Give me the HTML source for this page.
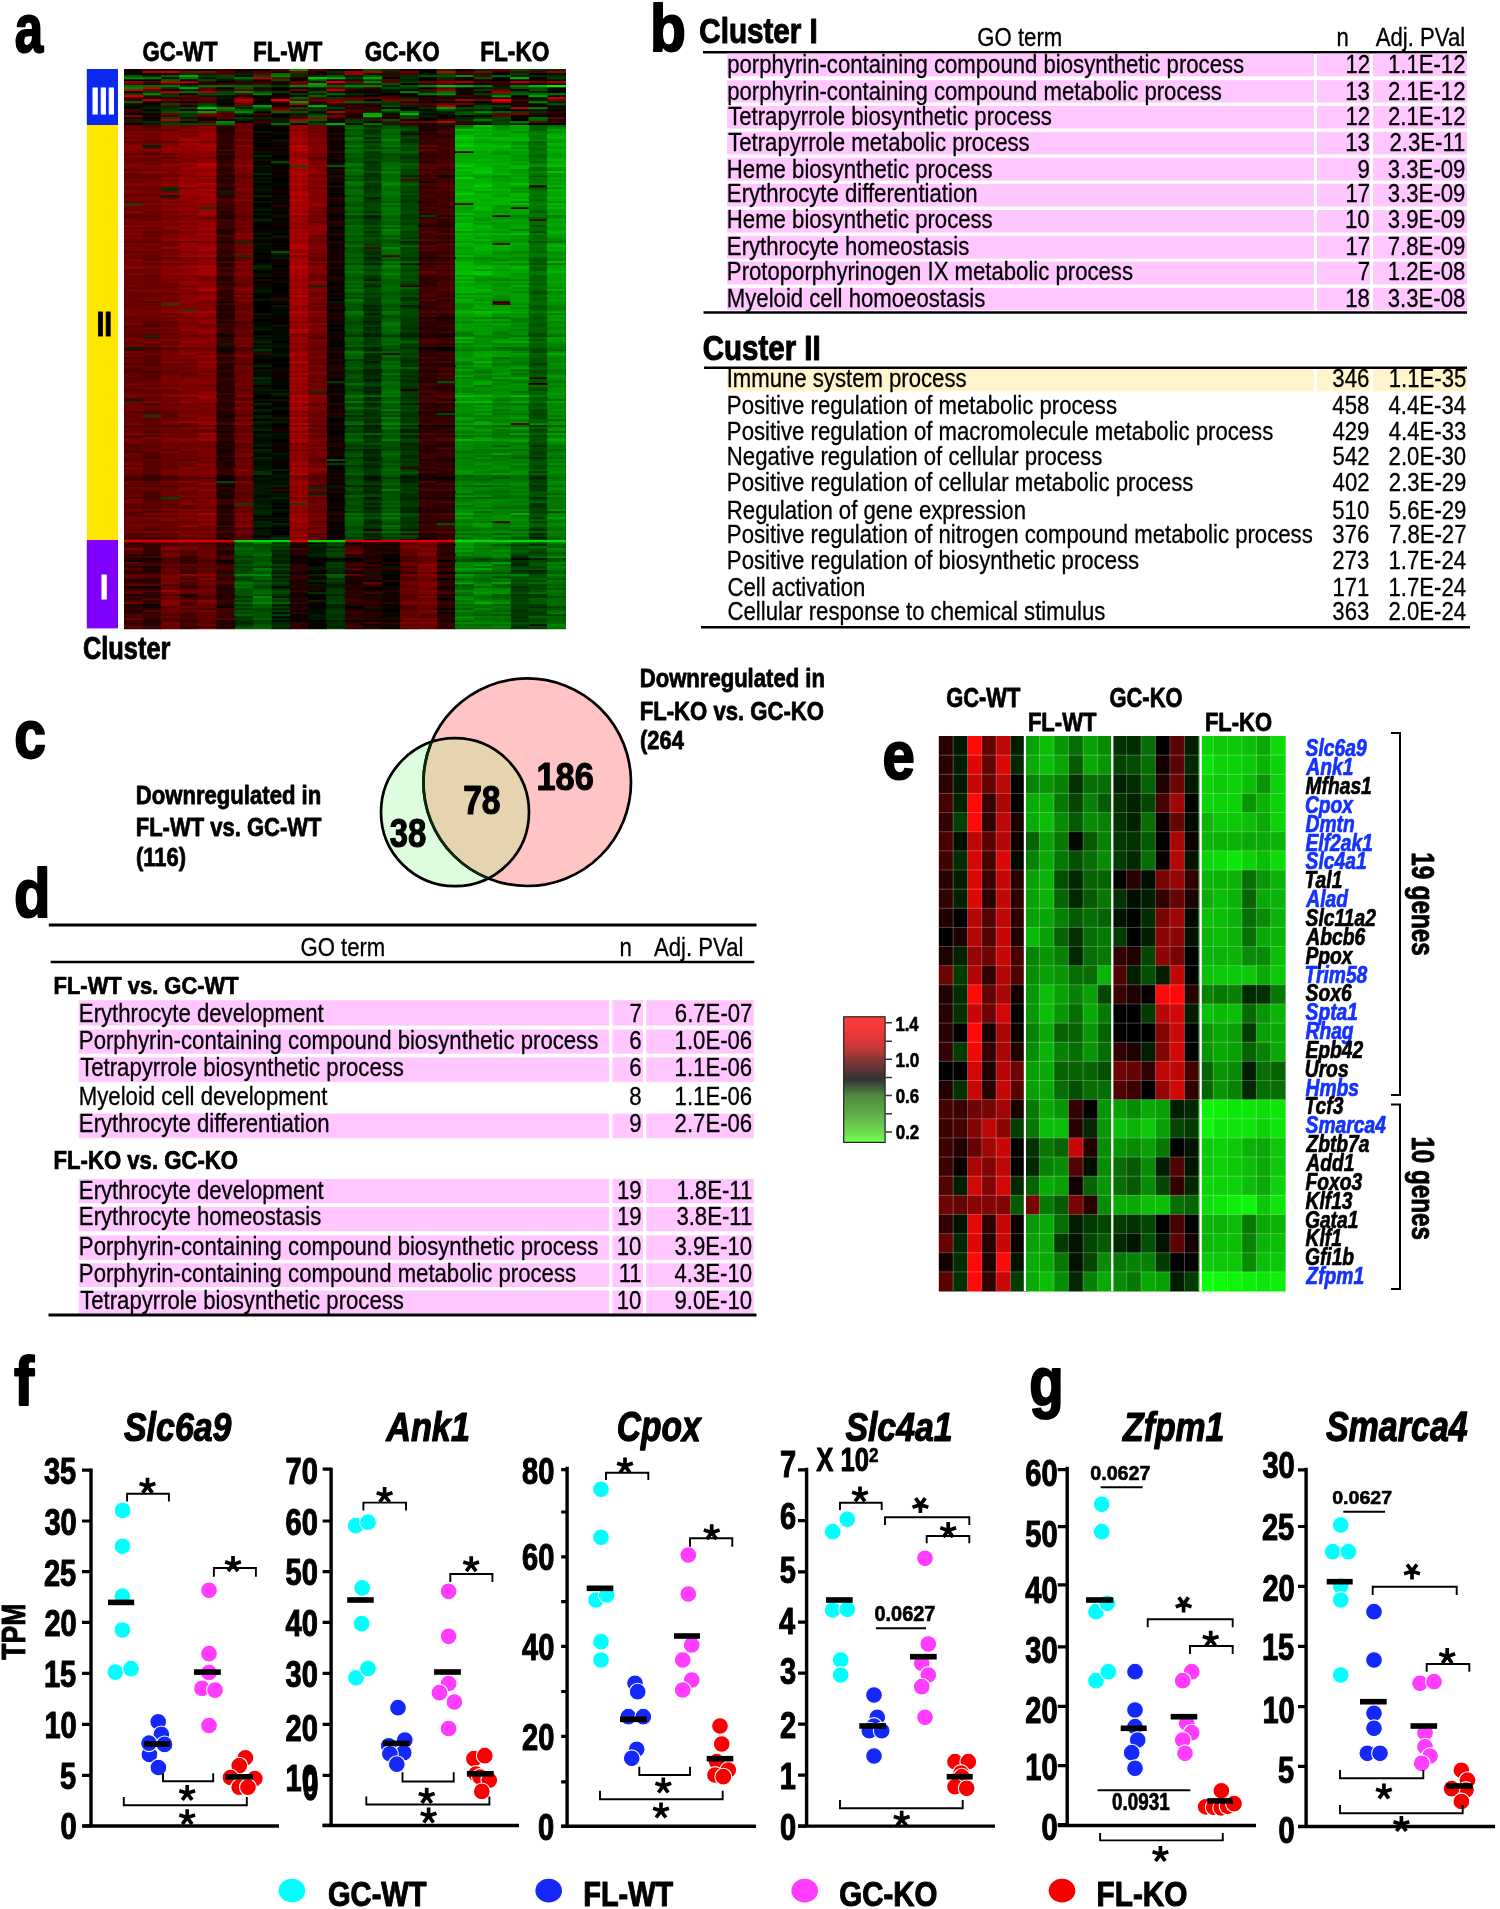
<!DOCTYPE html>
<html><head><meta charset="utf-8"><style>
html,body{margin:0;padding:0;background:#fff;}
svg{display:block;will-change:transform;}
text{font-family:"Liberation Sans",sans-serif;}
</style></head><body>
<svg width="1500" height="1909" viewBox="0 0 1500 1909">
<rect width="1500" height="1909" fill="#fff"/>
<text transform="translate(14.84,51.87) scale(0.7393,1)" font-size="68.95" font-weight="bold" font-style="normal" fill="#000" stroke="#000" stroke-width="2.07" stroke-linejoin="round">a</text>
<rect x="86.8" y="69" width="31.2" height="56" fill="#0a28f0"/>
<rect x="86.8" y="125" width="31.2" height="415.3" fill="#ffe600"/>
<rect x="86.8" y="540" width="31.2" height="88.4" fill="#8000ff"/>
<text transform="translate(90.92,114.46) scale(0.8194,1)" font-size="36.11" font-weight="bold" font-style="normal" fill="#fff" stroke="#fff" stroke-width="1.08" stroke-linejoin="round">III</text>
<text transform="translate(96.48,335.56) scale(0.7943,1)" font-size="35.69" font-weight="bold" font-style="normal" fill="#000" stroke="#000" stroke-width="1.07" stroke-linejoin="round">II</text>
<text transform="translate(99.91,598.78) scale(0.8524,1)" font-size="34.86" font-weight="bold" font-style="normal" fill="#fff" stroke="#fff" stroke-width="1.05" stroke-linejoin="round">I</text>
<text transform="translate(142.45,61.19) scale(0.8122,1)" font-size="27.26" font-weight="bold" font-style="normal" fill="#000" stroke="#000" stroke-width="0.82" stroke-linejoin="round">GC-WT</text>
<text transform="translate(253.19,61.19) scale(0.8039,1)" font-size="27.64" font-weight="bold" font-style="normal" fill="#000" stroke="#000" stroke-width="0.83" stroke-linejoin="round">FL-WT</text>
<text transform="translate(364.74,61.19) scale(0.8243,1)" font-size="27.26" font-weight="bold" font-style="normal" fill="#000" stroke="#000" stroke-width="0.82" stroke-linejoin="round">GC-KO</text>
<text transform="translate(480.17,61.19) scale(0.8323,1)" font-size="27.26" font-weight="bold" font-style="normal" fill="#000" stroke="#000" stroke-width="0.82" stroke-linejoin="round">FL-KO</text>
<text transform="translate(82.96,658.54) scale(0.8341,1)" font-size="30.46" font-weight="bold" font-style="normal" fill="#000" stroke="#000" stroke-width="0.91" stroke-linejoin="round">Cluster</text>
<path fill="#180000" d="M124 69h19.09v2.3h-19.09zM160.78 69h19.09v2.3h-19.09zM234.32 69h19.09v2.3h-19.09zM326.26 69h19.09v2.3h-19.09zM344.65 69h19.09v2.3h-19.09zM124 71h19.09v2.3h-19.09zM271.1 71h19.09v2.3h-19.09zM491.75 71h19.09v2.3h-19.09zM326.26 79h19.09v2.3h-19.09zM454.97 79h19.09v2.3h-19.09zM473.36 79h19.09v2.3h-19.09zM510.14 79h19.09v2.3h-19.09zM528.52 79h19.09v2.3h-19.09zM179.16 83h19.09v2.3h-19.09zM271.1 83h19.09v2.3h-19.09zM528.52 83h19.09v2.3h-19.09zM289.49 87h19.09v2.3h-19.09zM307.88 87h19.09v2.3h-19.09zM454.97 87h19.09v2.3h-19.09zM271.1 89h19.09v2.3h-19.09zM363.04 89h19.09v2.3h-19.09zM454.97 89h19.09v2.3h-19.09zM473.36 91h19.09v2.3h-19.09zM454.97 93h19.09v2.3h-19.09zM234.32 95h19.09v2.3h-19.09zM271.1 95h19.09v2.3h-19.09zM399.81 95h19.09v2.3h-19.09zM271.1 97h19.09v2.3h-19.09zM510.14 97h19.09v2.3h-19.09zM215.94 99h19.09v2.3h-19.09zM252.71 99h19.09v2.3h-19.09zM142.39 103h19.09v2.3h-19.09zM528.52 103h19.09v2.3h-19.09zM271.1 105h19.09v2.3h-19.09zM363.04 105h19.09v2.3h-19.09zM528.52 105h19.09v2.3h-19.09zM546.91 105h19.09v2.3h-19.09zM344.65 107h19.09v2.3h-19.09zM418.2 109h19.09v2.3h-19.09zM528.52 109h19.09v2.3h-19.09zM252.71 115h19.09v2.3h-19.09zM381.43 117h19.09v2.3h-19.09zM418.2 117h19.09v2.3h-19.09zM142.39 119h19.09v2.3h-19.09zM215.94 119h19.09v2.3h-19.09zM399.81 119h19.09v2.3h-19.09zM363.04 121h19.09v2.3h-19.09zM344.65 123h19.09v2.3h-19.09zM473.36 123h19.09v2.3h-19.09zM271.1 125h19.09v2.3h-19.09zM326.26 125h19.09v2.3h-19.09zM326.26 127h19.09v2.3h-19.09zM418.2 129h19.09v2.3h-19.09zM271.1 131h19.09v2.3h-19.09zM252.71 135h19.09v2.3h-19.09zM326.26 139h19.09v2.3h-19.09zM271.1 141h19.09v2.3h-19.09zM271.1 143h19.09v2.3h-19.09zM326.26 145h19.09v2.3h-19.09zM215.94 147h19.09v2.3h-19.09zM252.71 147h19.09v2.3h-19.09zM271.1 147h19.09v2.3h-19.09zM271.1 151h19.09v2.3h-19.09zM326.26 155h19.09v2.3h-19.09zM326.26 157h19.09v2.3h-19.09zM271.1 159h19.09v2.3h-19.09zM271.1 169h19.09v2.3h-19.09zM326.26 171h19.09v2.3h-19.09zM215.94 179h19.09v2.3h-19.09zM326.26 179h19.09v2.3h-19.09zM326.26 181h19.09v2.3h-19.09zM418.2 181h19.09v2.3h-19.09zM326.26 191h19.09v2.3h-19.09zM326.26 199h19.09v2.3h-19.09zM326.26 201h19.09v2.3h-19.09zM271.1 213h19.09v2.3h-19.09zM436.59 215h19.09v2.3h-19.09zM215.94 217h19.09v2.3h-19.09zM326.26 219h19.09v2.3h-19.09zM326.26 225h19.09v2.3h-19.09zM326.26 235h19.09v2.3h-19.09zM271.1 237h19.09v2.3h-19.09zM215.94 241h19.09v2.3h-19.09zM436.59 241h19.09v2.3h-19.09zM326.26 243h19.09v2.3h-19.09zM271.1 249h19.09v2.3h-19.09zM326.26 249h19.09v2.3h-19.09zM326.26 251h19.09v2.3h-19.09zM326.26 253h19.09v2.3h-19.09zM326.26 255h19.09v2.3h-19.09zM326.26 257h19.09v2.3h-19.09zM418.2 257h19.09v2.3h-19.09zM215.94 259h19.09v2.3h-19.09zM215.94 265h19.09v2.3h-19.09zM326.26 265h19.09v2.3h-19.09zM326.26 271h19.09v2.3h-19.09zM271.1 275h19.09v2.3h-19.09zM215.94 277h19.09v2.3h-19.09zM271.1 281h19.09v2.3h-19.09zM252.71 285h19.09v2.3h-19.09zM326.26 285h19.09v2.3h-19.09zM326.26 287h19.09v2.3h-19.09zM326.26 293h19.09v2.3h-19.09zM326.26 297h19.09v2.3h-19.09zM215.94 301h19.09v2.3h-19.09zM326.26 303h19.09v2.3h-19.09zM326.26 305h19.09v2.3h-19.09zM326.26 315h19.09v2.3h-19.09zM418.2 317h19.09v2.3h-19.09zM436.59 317h19.09v2.3h-19.09zM326.26 319h19.09v2.3h-19.09zM326.26 321h19.09v2.3h-19.09zM271.1 323h19.09v2.3h-19.09zM326.26 327h19.09v2.3h-19.09zM326.26 335h19.09v2.3h-19.09zM418.2 335h19.09v2.3h-19.09zM326.26 337h19.09v2.3h-19.09zM252.71 343h19.09v2.3h-19.09zM215.94 347h19.09v2.3h-19.09zM326.26 347h19.09v2.3h-19.09zM326.26 349h19.09v2.3h-19.09zM418.2 349h19.09v2.3h-19.09zM215.94 351h19.09v2.3h-19.09zM326.26 355h19.09v2.3h-19.09zM252.71 363h19.09v2.3h-19.09zM326.26 363h19.09v2.3h-19.09zM418.2 363h19.09v2.3h-19.09zM215.94 367h19.09v2.3h-19.09zM271.1 369h19.09v2.3h-19.09zM326.26 371h19.09v2.3h-19.09zM215.94 373h19.09v2.3h-19.09zM215.94 375h19.09v2.3h-19.09zM326.26 377h19.09v2.3h-19.09zM326.26 383h19.09v2.3h-19.09zM215.94 391h19.09v2.3h-19.09zM271.1 395h19.09v2.3h-19.09zM326.26 397h19.09v2.3h-19.09zM215.94 411h19.09v2.3h-19.09zM436.59 411h19.09v2.3h-19.09zM271.1 419h19.09v2.3h-19.09zM326.26 423h19.09v2.3h-19.09zM271.1 429h19.09v2.3h-19.09zM215.94 435h19.09v2.3h-19.09zM326.26 435h19.09v2.3h-19.09zM436.59 435h19.09v2.3h-19.09zM326.26 437h19.09v2.3h-19.09zM326.26 439h19.09v2.3h-19.09zM271.1 445h19.09v2.3h-19.09zM215.94 451h19.09v2.3h-19.09zM326.26 451h19.09v2.3h-19.09zM326.26 453h19.09v2.3h-19.09zM326.26 455h19.09v2.3h-19.09zM215.94 457h19.09v2.3h-19.09zM418.2 459h19.09v2.3h-19.09zM436.59 459h19.09v2.3h-19.09zM326.26 473h19.09v2.3h-19.09zM418.2 475h19.09v2.3h-19.09zM326.26 477h19.09v2.3h-19.09zM418.2 477h19.09v2.3h-19.09zM418.2 479h19.09v2.3h-19.09zM436.59 479h19.09v2.3h-19.09zM326.26 481h19.09v2.3h-19.09zM326.26 487h19.09v2.3h-19.09zM215.94 489h19.09v2.3h-19.09zM215.94 495h19.09v2.3h-19.09zM326.26 495h19.09v2.3h-19.09zM215.94 497h19.09v2.3h-19.09zM418.2 497h19.09v2.3h-19.09zM436.59 497h19.09v2.3h-19.09zM215.94 505h19.09v2.3h-19.09zM215.94 507h19.09v2.3h-19.09zM326.26 507h19.09v2.3h-19.09zM215.94 511h19.09v2.3h-19.09zM436.59 511h19.09v2.3h-19.09zM326.26 517h19.09v2.3h-19.09zM215.94 523h19.09v2.3h-19.09zM326.26 525h19.09v2.3h-19.09zM215.94 527h19.09v2.3h-19.09zM436.59 529h19.09v2.3h-19.09zM215.94 537h19.09v2.3h-19.09zM381.43 542h19.09v2.3h-19.09zM215.94 544h19.09v2.3h-19.09zM289.49 544h19.09v2.3h-19.09zM363.04 544h19.09v2.3h-19.09zM381.43 544h19.09v2.3h-19.09zM289.49 546h19.09v2.3h-19.09zM363.04 548h19.09v2.3h-19.09zM381.43 548h19.09v2.3h-19.09zM215.94 550h19.09v2.3h-19.09zM289.49 550h19.09v2.3h-19.09zM381.43 550h19.09v2.3h-19.09zM215.94 552h19.09v2.3h-19.09zM363.04 556h19.09v2.3h-19.09zM289.49 558h19.09v2.3h-19.09zM344.65 560h19.09v2.3h-19.09zM215.94 562h19.09v2.3h-19.09zM289.49 562h19.09v2.3h-19.09zM363.04 566h19.09v2.3h-19.09zM344.65 578h19.09v2.3h-19.09zM289.49 580h19.09v2.3h-19.09zM344.65 580h19.09v2.3h-19.09zM344.65 582h19.09v2.3h-19.09zM307.88 586h19.09v2.3h-19.09zM363.04 586h19.09v2.3h-19.09zM436.59 586h19.09v2.3h-19.09zM344.65 588h19.09v2.3h-19.09zM436.59 588h19.09v2.3h-19.09zM289.49 592h19.09v2.3h-19.09zM381.43 592h19.09v2.3h-19.09zM124 594h19.09v2.3h-19.09zM179.16 594h19.09v2.3h-19.09zM289.49 596h19.09v2.3h-19.09zM381.43 596h19.09v2.3h-19.09zM381.43 598h19.09v2.3h-19.09zM289.49 600h19.09v2.3h-19.09zM344.65 608h19.09v2.3h-19.09zM363.04 610h19.09v2.3h-19.09zM344.65 614h19.09v2.3h-19.09zM436.59 620h19.09v2.3h-19.09zM142.39 624h19.09v2.3h-19.09zM381.43 624h19.09v2.3h-19.09zM344.65 628h19.09v1.3h-19.09z"/>
<path fill="#3c0000" d="M142.39 69h19.09v2.3h-19.09zM326.26 73h19.09v2.3h-19.09zM454.97 73h19.09v2.3h-19.09zM381.43 75h19.09v2.3h-19.09zM307.88 81h19.09v2.3h-19.09zM491.75 81h19.09v2.3h-19.09zM234.32 83h19.09v2.3h-19.09zM215.94 89h19.09v2.3h-19.09zM252.71 89h19.09v2.3h-19.09zM381.43 95h19.09v2.3h-19.09zM436.59 95h19.09v2.3h-19.09zM454.97 95h19.09v2.3h-19.09zM491.75 97h19.09v2.3h-19.09zM124 99h19.09v2.3h-19.09zM160.78 101h19.09v2.3h-19.09zM271.1 101h19.09v2.3h-19.09zM326.26 103h19.09v2.3h-19.09zM215.94 105h19.09v2.3h-19.09zM344.65 105h19.09v2.3h-19.09zM363.04 107h19.09v2.3h-19.09zM363.04 109h19.09v2.3h-19.09zM160.78 115h19.09v2.3h-19.09zM326.26 117h19.09v2.3h-19.09zM344.65 117h19.09v2.3h-19.09zM124 121h19.09v2.3h-19.09zM454.97 121h19.09v2.3h-19.09zM546.91 121h19.09v2.3h-19.09zM454.97 123h19.09v2.3h-19.09zM436.59 129h19.09v2.3h-19.09zM436.59 133h19.09v2.3h-19.09zM418.2 135h19.09v2.3h-19.09zM436.59 137h19.09v2.3h-19.09zM418.2 139h19.09v2.3h-19.09zM418.2 141h19.09v2.3h-19.09zM436.59 141h19.09v2.3h-19.09zM215.94 143h19.09v2.3h-19.09zM436.59 143h19.09v2.3h-19.09zM436.59 145h19.09v2.3h-19.09zM436.59 149h19.09v2.3h-19.09zM418.2 151h19.09v2.3h-19.09zM436.59 151h19.09v2.3h-19.09zM215.94 153h19.09v2.3h-19.09zM436.59 153h19.09v2.3h-19.09zM436.59 155h19.09v2.3h-19.09zM418.2 157h19.09v2.3h-19.09zM436.59 157h19.09v2.3h-19.09zM418.2 159h19.09v2.3h-19.09zM436.59 161h19.09v2.3h-19.09zM215.94 163h19.09v2.3h-19.09zM215.94 165h19.09v2.3h-19.09zM436.59 167h19.09v2.3h-19.09zM418.2 169h19.09v2.3h-19.09zM215.94 171h19.09v2.3h-19.09zM215.94 173h19.09v2.3h-19.09zM215.94 177h19.09v2.3h-19.09zM436.59 177h19.09v2.3h-19.09zM418.2 179h19.09v2.3h-19.09zM436.59 181h19.09v2.3h-19.09zM215.94 183h19.09v2.3h-19.09zM215.94 185h19.09v2.3h-19.09zM418.2 185h19.09v2.3h-19.09zM436.59 187h19.09v2.3h-19.09zM418.2 191h19.09v2.3h-19.09zM436.59 191h19.09v2.3h-19.09zM215.94 193h19.09v2.3h-19.09zM418.2 193h19.09v2.3h-19.09zM436.59 193h19.09v2.3h-19.09zM436.59 195h19.09v2.3h-19.09zM418.2 197h19.09v2.3h-19.09zM436.59 197h19.09v2.3h-19.09zM418.2 199h19.09v2.3h-19.09zM215.94 203h19.09v2.3h-19.09zM418.2 203h19.09v2.3h-19.09zM215.94 205h19.09v2.3h-19.09zM418.2 205h19.09v2.3h-19.09zM436.59 205h19.09v2.3h-19.09zM436.59 207h19.09v2.3h-19.09zM510.14 207h19.09v2.3h-19.09zM215.94 209h19.09v2.3h-19.09zM436.59 211h19.09v2.3h-19.09zM491.75 215h19.09v2.3h-19.09zM215.94 221h19.09v2.3h-19.09zM215.94 223h19.09v2.3h-19.09zM215.94 225h19.09v2.3h-19.09zM215.94 227h19.09v2.3h-19.09zM436.59 227h19.09v2.3h-19.09zM418.2 229h19.09v2.3h-19.09zM436.59 229h19.09v2.3h-19.09zM418.2 233h19.09v2.3h-19.09zM418.2 235h19.09v2.3h-19.09zM418.2 237h19.09v2.3h-19.09zM215.94 239h19.09v2.3h-19.09zM215.94 243h19.09v2.3h-19.09zM215.94 245h19.09v2.3h-19.09zM215.94 247h19.09v2.3h-19.09zM418.2 247h19.09v2.3h-19.09zM436.59 251h19.09v2.3h-19.09zM215.94 253h19.09v2.3h-19.09zM436.59 253h19.09v2.3h-19.09zM215.94 255h19.09v2.3h-19.09zM381.43 255h19.09v2.3h-19.09zM436.59 259h19.09v2.3h-19.09zM418.2 269h19.09v2.3h-19.09zM436.59 269h19.09v2.3h-19.09zM215.94 271h19.09v2.3h-19.09zM436.59 275h19.09v2.3h-19.09zM436.59 277h19.09v2.3h-19.09zM436.59 279h19.09v2.3h-19.09zM215.94 281h19.09v2.3h-19.09zM215.94 285h19.09v2.3h-19.09zM418.2 289h19.09v2.3h-19.09zM418.2 291h19.09v2.3h-19.09zM436.59 291h19.09v2.3h-19.09zM436.59 293h19.09v2.3h-19.09zM215.94 297h19.09v2.3h-19.09zM436.59 301h19.09v2.3h-19.09zM215.94 303h19.09v2.3h-19.09zM418.2 303h19.09v2.3h-19.09zM436.59 303h19.09v2.3h-19.09zM436.59 307h19.09v2.3h-19.09zM418.2 309h19.09v2.3h-19.09zM436.59 309h19.09v2.3h-19.09zM436.59 313h19.09v2.3h-19.09zM215.94 319h19.09v2.3h-19.09zM418.2 319h19.09v2.3h-19.09zM215.94 323h19.09v2.3h-19.09zM436.59 325h19.09v2.3h-19.09zM215.94 327h19.09v2.3h-19.09zM215.94 331h19.09v2.3h-19.09zM418.2 331h19.09v2.3h-19.09zM436.59 337h19.09v2.3h-19.09zM215.94 339h19.09v2.3h-19.09zM436.59 339h19.09v2.3h-19.09zM418.2 343h19.09v2.3h-19.09zM418.2 345h19.09v2.3h-19.09zM436.59 345h19.09v2.3h-19.09zM436.59 351h19.09v2.3h-19.09zM436.59 353h19.09v2.3h-19.09zM436.59 357h19.09v2.3h-19.09zM418.2 367h19.09v2.3h-19.09zM436.59 369h19.09v2.3h-19.09zM142.39 371h19.09v2.3h-19.09zM418.2 373h19.09v2.3h-19.09zM528.52 377h19.09v2.3h-19.09zM215.94 379h19.09v2.3h-19.09zM436.59 383h19.09v2.3h-19.09zM418.2 389h19.09v2.3h-19.09zM436.59 391h19.09v2.3h-19.09zM215.94 393h19.09v2.3h-19.09zM436.59 393h19.09v2.3h-19.09zM418.2 397h19.09v2.3h-19.09zM215.94 399h19.09v2.3h-19.09zM142.39 403h19.09v2.3h-19.09zM418.2 405h19.09v2.3h-19.09zM215.94 407h19.09v2.3h-19.09zM418.2 409h19.09v2.3h-19.09zM436.59 409h19.09v2.3h-19.09zM418.2 417h19.09v2.3h-19.09zM436.59 417h19.09v2.3h-19.09zM436.59 421h19.09v2.3h-19.09zM436.59 429h19.09v2.3h-19.09zM142.39 431h19.09v2.3h-19.09zM215.94 433h19.09v2.3h-19.09zM418.2 441h19.09v2.3h-19.09zM436.59 441h19.09v2.3h-19.09zM418.2 443h19.09v2.3h-19.09zM436.59 451h19.09v2.3h-19.09zM418.2 453h19.09v2.3h-19.09zM436.59 453h19.09v2.3h-19.09zM418.2 455h19.09v2.3h-19.09zM436.59 455h19.09v2.3h-19.09zM142.39 457h19.09v2.3h-19.09zM418.2 457h19.09v2.3h-19.09zM418.2 461h19.09v2.3h-19.09zM436.59 463h19.09v2.3h-19.09zM418.2 467h19.09v2.3h-19.09zM436.59 467h19.09v2.3h-19.09zM436.59 469h19.09v2.3h-19.09zM215.94 473h19.09v2.3h-19.09zM142.39 475h19.09v2.3h-19.09zM124 477h19.09v2.3h-19.09zM160.78 477h19.09v2.3h-19.09zM124 479h19.09v2.3h-19.09zM142.39 479h19.09v2.3h-19.09zM418.2 487h19.09v2.3h-19.09zM436.59 487h19.09v2.3h-19.09zM271.1 489h19.09v2.3h-19.09zM215.94 499h19.09v2.3h-19.09zM418.2 499h19.09v2.3h-19.09zM215.94 501h19.09v2.3h-19.09zM418.2 501h19.09v2.3h-19.09zM215.94 503h19.09v2.3h-19.09zM418.2 503h19.09v2.3h-19.09zM418.2 505h19.09v2.3h-19.09zM215.94 513h19.09v2.3h-19.09zM418.2 517h19.09v2.3h-19.09zM436.59 517h19.09v2.3h-19.09zM418.2 519h19.09v2.3h-19.09zM491.75 521h19.09v2.3h-19.09zM418.2 523h19.09v2.3h-19.09zM215.94 525h19.09v2.3h-19.09zM418.2 525h19.09v2.3h-19.09zM436.59 525h19.09v2.3h-19.09zM399.81 533h19.09v2.3h-19.09zM142.39 537h19.09v2.3h-19.09zM436.59 542h19.09v2.3h-19.09zM124 544h19.09v2.3h-19.09zM436.59 550h19.09v2.3h-19.09zM124 556h19.09v2.3h-19.09zM436.59 556h19.09v2.3h-19.09zM179.16 558h19.09v2.3h-19.09zM215.94 558h19.09v2.3h-19.09zM142.39 562h19.09v2.3h-19.09zM215.94 564h19.09v2.3h-19.09zM399.81 566h19.09v2.3h-19.09zM179.16 570h19.09v2.3h-19.09zM399.81 572h19.09v2.3h-19.09zM289.49 576h19.09v2.3h-19.09zM436.59 576h19.09v2.3h-19.09zM124 578h19.09v2.3h-19.09zM179.16 578h19.09v2.3h-19.09zM124 582h19.09v2.3h-19.09zM289.49 590h19.09v2.3h-19.09zM436.59 590h19.09v2.3h-19.09zM124 596h19.09v2.3h-19.09zM344.65 598h19.09v2.3h-19.09zM215.94 600h19.09v2.3h-19.09zM344.65 600h19.09v2.3h-19.09zM142.39 602h19.09v2.3h-19.09zM289.49 602h19.09v2.3h-19.09zM436.59 602h19.09v2.3h-19.09zM124 608h19.09v2.3h-19.09zM197.55 608h19.09v2.3h-19.09zM215.94 610h19.09v2.3h-19.09zM215.94 612h19.09v2.3h-19.09zM344.65 612h19.09v2.3h-19.09zM142.39 614h19.09v2.3h-19.09zM179.16 614h19.09v2.3h-19.09zM215.94 614h19.09v2.3h-19.09zM124 616h19.09v2.3h-19.09zM142.39 616h19.09v2.3h-19.09zM124 620h19.09v2.3h-19.09zM124 622h19.09v2.3h-19.09zM124 624h19.09v2.3h-19.09zM436.59 624h19.09v2.3h-19.09zM179.16 626h19.09v2.3h-19.09zM179.16 628h19.09v1.3h-19.09z"/>
<path fill="#001800" d="M179.16 69h19.09v2.3h-19.09zM363.04 73h19.09v2.3h-19.09zM381.43 73h19.09v2.3h-19.09zM418.2 73h19.09v2.3h-19.09zM344.65 79h19.09v2.3h-19.09zM546.91 79h19.09v2.3h-19.09zM381.43 85h19.09v2.3h-19.09zM491.75 85h19.09v2.3h-19.09zM252.71 87h19.09v2.3h-19.09zM307.88 89h19.09v2.3h-19.09zM381.43 89h19.09v2.3h-19.09zM326.26 91h19.09v2.3h-19.09zM381.43 91h19.09v2.3h-19.09zM363.04 93h19.09v2.3h-19.09zM197.55 95h19.09v2.3h-19.09zM215.94 97h19.09v2.3h-19.09zM473.36 97h19.09v2.3h-19.09zM399.81 101h19.09v2.3h-19.09zM307.88 103h19.09v2.3h-19.09zM473.36 103h19.09v2.3h-19.09zM142.39 105h19.09v2.3h-19.09zM326.26 105h19.09v2.3h-19.09zM234.32 107h19.09v2.3h-19.09zM307.88 107h19.09v2.3h-19.09zM546.91 107h19.09v2.3h-19.09zM326.26 109h19.09v2.3h-19.09zM399.81 109h19.09v2.3h-19.09zM436.59 111h19.09v2.3h-19.09zM436.59 113h19.09v2.3h-19.09zM234.32 119h19.09v2.3h-19.09zM271.1 121h19.09v2.3h-19.09zM307.88 121h19.09v2.3h-19.09zM142.39 123h19.09v2.3h-19.09zM510.14 123h19.09v2.3h-19.09zM252.71 131h19.09v2.3h-19.09zM271.1 139h19.09v2.3h-19.09zM252.71 151h19.09v2.3h-19.09zM252.71 159h19.09v2.3h-19.09zM252.71 165h19.09v2.3h-19.09zM252.71 177h19.09v2.3h-19.09zM252.71 181h19.09v2.3h-19.09zM252.71 189h19.09v2.3h-19.09zM252.71 201h19.09v2.3h-19.09zM252.71 209h19.09v2.3h-19.09zM252.71 213h19.09v2.3h-19.09zM271.1 215h19.09v2.3h-19.09zM363.04 215h19.09v2.3h-19.09zM252.71 233h19.09v2.3h-19.09zM271.1 235h19.09v2.3h-19.09zM252.71 237h19.09v2.3h-19.09zM252.71 243h19.09v2.3h-19.09zM271.1 253h19.09v2.3h-19.09zM271.1 257h19.09v2.3h-19.09zM363.04 257h19.09v2.3h-19.09zM399.81 263h19.09v2.3h-19.09zM252.71 275h19.09v2.3h-19.09zM252.71 289h19.09v2.3h-19.09zM252.71 291h19.09v2.3h-19.09zM252.71 299h19.09v2.3h-19.09zM271.1 299h19.09v2.3h-19.09zM326.26 301h19.09v2.3h-19.09zM271.1 305h19.09v2.3h-19.09zM252.71 313h19.09v2.3h-19.09zM271.1 325h19.09v2.3h-19.09zM252.71 327h19.09v2.3h-19.09zM252.71 329h19.09v2.3h-19.09zM252.71 335h19.09v2.3h-19.09zM363.04 335h19.09v2.3h-19.09zM252.71 339h19.09v2.3h-19.09zM252.71 345h19.09v2.3h-19.09zM271.1 345h19.09v2.3h-19.09zM252.71 351h19.09v2.3h-19.09zM271.1 353h19.09v2.3h-19.09zM271.1 355h19.09v2.3h-19.09zM363.04 361h19.09v2.3h-19.09zM252.71 369h19.09v2.3h-19.09zM252.71 379h19.09v2.3h-19.09zM363.04 379h19.09v2.3h-19.09zM252.71 383h19.09v2.3h-19.09zM252.71 387h19.09v2.3h-19.09zM252.71 389h19.09v2.3h-19.09zM271.1 389h19.09v2.3h-19.09zM363.04 391h19.09v2.3h-19.09zM252.71 399h19.09v2.3h-19.09zM271.1 399h19.09v2.3h-19.09zM363.04 403h19.09v2.3h-19.09zM271.1 407h19.09v2.3h-19.09zM252.71 417h19.09v2.3h-19.09zM271.1 417h19.09v2.3h-19.09zM271.1 421h19.09v2.3h-19.09zM252.71 423h19.09v2.3h-19.09zM363.04 425h19.09v2.3h-19.09zM252.71 427h19.09v2.3h-19.09zM252.71 433h19.09v2.3h-19.09zM271.1 433h19.09v2.3h-19.09zM252.71 435h19.09v2.3h-19.09zM252.71 443h19.09v2.3h-19.09zM252.71 445h19.09v2.3h-19.09zM252.71 451h19.09v2.3h-19.09zM271.1 453h19.09v2.3h-19.09zM252.71 459h19.09v2.3h-19.09zM363.04 459h19.09v2.3h-19.09zM252.71 465h19.09v2.3h-19.09zM252.71 467h19.09v2.3h-19.09zM252.71 469h19.09v2.3h-19.09zM271.1 475h19.09v2.3h-19.09zM363.04 475h19.09v2.3h-19.09zM252.71 477h19.09v2.3h-19.09zM399.81 477h19.09v2.3h-19.09zM363.04 479h19.09v2.3h-19.09zM271.1 481h19.09v2.3h-19.09zM252.71 483h19.09v2.3h-19.09zM252.71 485h19.09v2.3h-19.09zM326.26 485h19.09v2.3h-19.09zM363.04 485h19.09v2.3h-19.09zM252.71 487h19.09v2.3h-19.09zM252.71 489h19.09v2.3h-19.09zM252.71 491h19.09v2.3h-19.09zM252.71 493h19.09v2.3h-19.09zM271.1 493h19.09v2.3h-19.09zM252.71 497h19.09v2.3h-19.09zM252.71 499h19.09v2.3h-19.09zM252.71 501h19.09v2.3h-19.09zM252.71 503h19.09v2.3h-19.09zM252.71 507h19.09v2.3h-19.09zM363.04 507h19.09v2.3h-19.09zM271.1 509h19.09v2.3h-19.09zM252.71 517h19.09v2.3h-19.09zM271.1 517h19.09v2.3h-19.09zM252.71 523h19.09v2.3h-19.09zM252.71 529h19.09v2.3h-19.09zM399.81 529h19.09v2.3h-19.09zM252.71 531h19.09v2.3h-19.09zM252.71 533h19.09v2.3h-19.09zM271.1 535h19.09v2.3h-19.09zM252.71 537h19.09v2.3h-19.09zM271.1 539h19.09v1.3h-19.09zM307.88 546h19.09v2.3h-19.09zM307.88 548h19.09v2.3h-19.09zM307.88 550h19.09v2.3h-19.09zM307.88 552h19.09v2.3h-19.09zM307.88 556h19.09v2.3h-19.09zM528.52 558h19.09v2.3h-19.09zM326.26 560h19.09v2.3h-19.09zM307.88 566h19.09v2.3h-19.09zM381.43 566h19.09v2.3h-19.09zM307.88 568h19.09v2.3h-19.09zM215.94 572h19.09v2.3h-19.09zM271.1 572h19.09v2.3h-19.09zM326.26 572h19.09v2.3h-19.09zM363.04 572h19.09v2.3h-19.09zM307.88 584h19.09v2.3h-19.09zM326.26 584h19.09v2.3h-19.09zM271.1 596h19.09v2.3h-19.09zM307.88 614h19.09v2.3h-19.09zM307.88 616h19.09v2.3h-19.09zM307.88 618h19.09v2.3h-19.09zM326.26 620h19.09v2.3h-19.09z"/>
<path fill="#000c00" d="M197.55 69h19.09v2.3h-19.09zM124 73h19.09v2.3h-19.09zM546.91 73h19.09v2.3h-19.09zM197.55 77h19.09v2.3h-19.09zM215.94 79h19.09v2.3h-19.09zM252.71 79h19.09v2.3h-19.09zM142.39 83h19.09v2.3h-19.09zM179.16 89h19.09v2.3h-19.09zM546.91 89h19.09v2.3h-19.09zM454.97 91h19.09v2.3h-19.09zM215.94 95h19.09v2.3h-19.09zM344.65 95h19.09v2.3h-19.09zM546.91 95h19.09v2.3h-19.09zM252.71 97h19.09v2.3h-19.09zM436.59 97h19.09v2.3h-19.09zM454.97 97h19.09v2.3h-19.09zM215.94 101h19.09v2.3h-19.09zM124 105h19.09v2.3h-19.09zM179.16 105h19.09v2.3h-19.09zM510.14 105h19.09v2.3h-19.09zM124 107h19.09v2.3h-19.09zM307.88 111h19.09v2.3h-19.09zM326.26 113h19.09v2.3h-19.09zM381.43 113h19.09v2.3h-19.09zM418.2 113h19.09v2.3h-19.09zM344.65 115h19.09v2.3h-19.09zM528.52 115h19.09v2.3h-19.09zM436.59 117h19.09v2.3h-19.09zM326.26 119h19.09v2.3h-19.09zM252.71 123h19.09v2.3h-19.09zM271.1 133h19.09v2.3h-19.09zM252.71 141h19.09v2.3h-19.09zM271.1 153h19.09v2.3h-19.09zM252.71 157h19.09v2.3h-19.09zM271.1 163h19.09v2.3h-19.09zM252.71 167h19.09v2.3h-19.09zM252.71 169h19.09v2.3h-19.09zM252.71 171h19.09v2.3h-19.09zM326.26 177h19.09v2.3h-19.09zM252.71 179h19.09v2.3h-19.09zM271.1 183h19.09v2.3h-19.09zM252.71 185h19.09v2.3h-19.09zM252.71 187h19.09v2.3h-19.09zM326.26 187h19.09v2.3h-19.09zM252.71 191h19.09v2.3h-19.09zM271.1 199h19.09v2.3h-19.09zM252.71 207h19.09v2.3h-19.09zM271.1 209h19.09v2.3h-19.09zM252.71 217h19.09v2.3h-19.09zM252.71 221h19.09v2.3h-19.09zM271.1 221h19.09v2.3h-19.09zM326.26 229h19.09v2.3h-19.09zM271.1 231h19.09v2.3h-19.09zM252.71 245h19.09v2.3h-19.09zM252.71 247h19.09v2.3h-19.09zM252.71 249h19.09v2.3h-19.09zM252.71 251h19.09v2.3h-19.09zM271.1 255h19.09v2.3h-19.09zM252.71 263h19.09v2.3h-19.09zM271.1 267h19.09v2.3h-19.09zM252.71 269h19.09v2.3h-19.09zM252.71 273h19.09v2.3h-19.09zM252.71 283h19.09v2.3h-19.09zM252.71 287h19.09v2.3h-19.09zM252.71 297h19.09v2.3h-19.09zM271.1 307h19.09v2.3h-19.09zM271.1 311h19.09v2.3h-19.09zM271.1 313h19.09v2.3h-19.09zM252.71 317h19.09v2.3h-19.09zM252.71 321h19.09v2.3h-19.09zM252.71 323h19.09v2.3h-19.09zM326.26 323h19.09v2.3h-19.09zM252.71 325h19.09v2.3h-19.09zM271.1 329h19.09v2.3h-19.09zM271.1 333h19.09v2.3h-19.09zM271.1 335h19.09v2.3h-19.09zM252.71 337h19.09v2.3h-19.09zM271.1 337h19.09v2.3h-19.09zM271.1 339h19.09v2.3h-19.09zM271.1 343h19.09v2.3h-19.09zM252.71 347h19.09v2.3h-19.09zM271.1 347h19.09v2.3h-19.09zM215.94 349h19.09v2.3h-19.09zM252.71 355h19.09v2.3h-19.09zM252.71 357h19.09v2.3h-19.09zM271.1 361h19.09v2.3h-19.09zM271.1 367h19.09v2.3h-19.09zM252.71 371h19.09v2.3h-19.09zM252.71 373h19.09v2.3h-19.09zM326.26 373h19.09v2.3h-19.09zM252.71 375h19.09v2.3h-19.09zM271.1 383h19.09v2.3h-19.09zM326.26 389h19.09v2.3h-19.09zM252.71 391h19.09v2.3h-19.09zM271.1 391h19.09v2.3h-19.09zM252.71 393h19.09v2.3h-19.09zM252.71 405h19.09v2.3h-19.09zM271.1 409h19.09v2.3h-19.09zM252.71 411h19.09v2.3h-19.09zM326.26 417h19.09v2.3h-19.09zM252.71 425h19.09v2.3h-19.09zM271.1 435h19.09v2.3h-19.09zM252.71 437h19.09v2.3h-19.09zM271.1 437h19.09v2.3h-19.09zM252.71 439h19.09v2.3h-19.09zM252.71 441h19.09v2.3h-19.09zM271.1 443h19.09v2.3h-19.09zM271.1 451h19.09v2.3h-19.09zM252.71 453h19.09v2.3h-19.09zM252.71 455h19.09v2.3h-19.09zM271.1 455h19.09v2.3h-19.09zM271.1 457h19.09v2.3h-19.09zM252.71 461h19.09v2.3h-19.09zM252.71 463h19.09v2.3h-19.09zM271.1 473h19.09v2.3h-19.09zM271.1 477h19.09v2.3h-19.09zM363.04 477h19.09v2.3h-19.09zM252.71 479h19.09v2.3h-19.09zM271.1 479h19.09v2.3h-19.09zM252.71 481h19.09v2.3h-19.09zM271.1 483h19.09v2.3h-19.09zM271.1 491h19.09v2.3h-19.09zM252.71 495h19.09v2.3h-19.09zM271.1 495h19.09v2.3h-19.09zM363.04 497h19.09v2.3h-19.09zM271.1 499h19.09v2.3h-19.09zM271.1 501h19.09v2.3h-19.09zM271.1 505h19.09v2.3h-19.09zM326.26 505h19.09v2.3h-19.09zM271.1 511h19.09v2.3h-19.09zM252.71 519h19.09v2.3h-19.09zM271.1 519h19.09v2.3h-19.09zM271.1 525h19.09v2.3h-19.09zM252.71 527h19.09v2.3h-19.09zM271.1 529h19.09v2.3h-19.09zM252.71 539h19.09v1.3h-19.09zM363.04 539h19.09v1.3h-19.09zM381.43 572h19.09v2.3h-19.09zM307.88 578h19.09v2.3h-19.09zM381.43 586h19.09v2.3h-19.09zM307.88 590h19.09v2.3h-19.09zM363.04 594h19.09v2.3h-19.09zM381.43 594h19.09v2.3h-19.09zM271.1 604h19.09v2.3h-19.09zM307.88 608h19.09v2.3h-19.09zM363.04 608h19.09v2.3h-19.09zM307.88 610h19.09v2.3h-19.09zM271.1 612h19.09v2.3h-19.09zM307.88 612h19.09v2.3h-19.09zM381.43 612h19.09v2.3h-19.09zM381.43 616h19.09v2.3h-19.09zM271.1 620h19.09v2.3h-19.09zM307.88 622h19.09v2.3h-19.09zM528.52 624h19.09v2.3h-19.09zM381.43 626h19.09v2.3h-19.09zM307.88 628h19.09v1.3h-19.09z"/>
<path fill="#300000" d="M215.94 69h19.09v2.3h-19.09zM234.32 71h19.09v2.3h-19.09zM197.55 81h19.09v2.3h-19.09zM234.32 81h19.09v2.3h-19.09zM252.71 81h19.09v2.3h-19.09zM326.26 83h19.09v2.3h-19.09zM418.2 83h19.09v2.3h-19.09zM491.75 83h19.09v2.3h-19.09zM546.91 83h19.09v2.3h-19.09zM363.04 87h19.09v2.3h-19.09zM197.55 89h19.09v2.3h-19.09zM473.36 95h19.09v2.3h-19.09zM160.78 97h19.09v2.3h-19.09zM179.16 97h19.09v2.3h-19.09zM418.2 99h19.09v2.3h-19.09zM307.88 101h19.09v2.3h-19.09zM363.04 103h19.09v2.3h-19.09zM510.14 103h19.09v2.3h-19.09zM418.2 105h19.09v2.3h-19.09zM197.55 109h19.09v2.3h-19.09zM124 111h19.09v2.3h-19.09zM546.91 111h19.09v2.3h-19.09zM289.49 113h19.09v2.3h-19.09zM344.65 113h19.09v2.3h-19.09zM528.52 113h19.09v2.3h-19.09zM381.43 115h19.09v2.3h-19.09zM179.16 117h19.09v2.3h-19.09zM399.81 123h19.09v2.3h-19.09zM215.94 125h19.09v2.3h-19.09zM436.59 127h19.09v2.3h-19.09zM418.2 131h19.09v2.3h-19.09zM215.94 133h19.09v2.3h-19.09zM399.81 133h19.09v2.3h-19.09zM215.94 135h19.09v2.3h-19.09zM215.94 137h19.09v2.3h-19.09zM418.2 137h19.09v2.3h-19.09zM215.94 139h19.09v2.3h-19.09zM215.94 141h19.09v2.3h-19.09zM418.2 143h19.09v2.3h-19.09zM215.94 145h19.09v2.3h-19.09zM418.2 147h19.09v2.3h-19.09zM326.26 151h19.09v2.3h-19.09zM418.2 153h19.09v2.3h-19.09zM418.2 155h19.09v2.3h-19.09zM215.94 159h19.09v2.3h-19.09zM215.94 161h19.09v2.3h-19.09zM418.2 161h19.09v2.3h-19.09zM326.26 163h19.09v2.3h-19.09zM215.94 167h19.09v2.3h-19.09zM436.59 169h19.09v2.3h-19.09zM326.26 175h19.09v2.3h-19.09zM418.2 175h19.09v2.3h-19.09zM326.26 185h19.09v2.3h-19.09zM418.2 187h19.09v2.3h-19.09zM215.94 189h19.09v2.3h-19.09zM215.94 197h19.09v2.3h-19.09zM326.26 197h19.09v2.3h-19.09zM215.94 201h19.09v2.3h-19.09zM215.94 207h19.09v2.3h-19.09zM418.2 209h19.09v2.3h-19.09zM215.94 211h19.09v2.3h-19.09zM215.94 213h19.09v2.3h-19.09zM418.2 213h19.09v2.3h-19.09zM418.2 217h19.09v2.3h-19.09zM436.59 219h19.09v2.3h-19.09zM326.26 221h19.09v2.3h-19.09zM436.59 221h19.09v2.3h-19.09zM418.2 223h19.09v2.3h-19.09zM436.59 223h19.09v2.3h-19.09zM436.59 231h19.09v2.3h-19.09zM215.94 233h19.09v2.3h-19.09zM436.59 235h19.09v2.3h-19.09zM215.94 237h19.09v2.3h-19.09zM436.59 237h19.09v2.3h-19.09zM418.2 241h19.09v2.3h-19.09zM418.2 243h19.09v2.3h-19.09zM215.94 249h19.09v2.3h-19.09zM418.2 251h19.09v2.3h-19.09zM418.2 253h19.09v2.3h-19.09zM418.2 255h19.09v2.3h-19.09zM418.2 259h19.09v2.3h-19.09zM326.26 261h19.09v2.3h-19.09zM436.59 263h19.09v2.3h-19.09zM215.94 269h19.09v2.3h-19.09zM215.94 275h19.09v2.3h-19.09zM418.2 275h19.09v2.3h-19.09zM418.2 277h19.09v2.3h-19.09zM215.94 279h19.09v2.3h-19.09zM418.2 279h19.09v2.3h-19.09zM418.2 281h19.09v2.3h-19.09zM418.2 283h19.09v2.3h-19.09zM399.81 285h19.09v2.3h-19.09zM418.2 285h19.09v2.3h-19.09zM215.94 289h19.09v2.3h-19.09zM215.94 291h19.09v2.3h-19.09zM215.94 293h19.09v2.3h-19.09zM215.94 295h19.09v2.3h-19.09zM436.59 295h19.09v2.3h-19.09zM418.2 297h19.09v2.3h-19.09zM215.94 299h19.09v2.3h-19.09zM436.59 299h19.09v2.3h-19.09zM418.2 301h19.09v2.3h-19.09zM491.75 301h19.09v2.3h-19.09zM418.2 305h19.09v2.3h-19.09zM215.94 311h19.09v2.3h-19.09zM418.2 313h19.09v2.3h-19.09zM436.59 315h19.09v2.3h-19.09zM418.2 321h19.09v2.3h-19.09zM436.59 321h19.09v2.3h-19.09zM418.2 323h19.09v2.3h-19.09zM436.59 323h19.09v2.3h-19.09zM215.94 325h19.09v2.3h-19.09zM418.2 325h19.09v2.3h-19.09zM215.94 329h19.09v2.3h-19.09zM418.2 329h19.09v2.3h-19.09zM215.94 337h19.09v2.3h-19.09zM418.2 337h19.09v2.3h-19.09zM215.94 341h19.09v2.3h-19.09zM436.59 343h19.09v2.3h-19.09zM215.94 345h19.09v2.3h-19.09zM418.2 351h19.09v2.3h-19.09zM215.94 353h19.09v2.3h-19.09zM252.71 353h19.09v2.3h-19.09zM381.43 353h19.09v2.3h-19.09zM418.2 353h19.09v2.3h-19.09zM418.2 355h19.09v2.3h-19.09zM436.59 355h19.09v2.3h-19.09zM215.94 359h19.09v2.3h-19.09zM436.59 359h19.09v2.3h-19.09zM215.94 365h19.09v2.3h-19.09zM418.2 365h19.09v2.3h-19.09zM215.94 369h19.09v2.3h-19.09zM418.2 369h19.09v2.3h-19.09zM215.94 371h19.09v2.3h-19.09zM436.59 371h19.09v2.3h-19.09zM418.2 375h19.09v2.3h-19.09zM436.59 375h19.09v2.3h-19.09zM215.94 377h19.09v2.3h-19.09zM418.2 379h19.09v2.3h-19.09zM436.59 379h19.09v2.3h-19.09zM215.94 383h19.09v2.3h-19.09zM215.94 385h19.09v2.3h-19.09zM418.2 385h19.09v2.3h-19.09zM436.59 385h19.09v2.3h-19.09zM418.2 387h19.09v2.3h-19.09zM436.59 389h19.09v2.3h-19.09zM418.2 393h19.09v2.3h-19.09zM215.94 397h19.09v2.3h-19.09zM215.94 401h19.09v2.3h-19.09zM326.26 403h19.09v2.3h-19.09zM436.59 405h19.09v2.3h-19.09zM418.2 407h19.09v2.3h-19.09zM436.59 407h19.09v2.3h-19.09zM215.94 409h19.09v2.3h-19.09zM326.26 413h19.09v2.3h-19.09zM418.2 413h19.09v2.3h-19.09zM418.2 415h19.09v2.3h-19.09zM418.2 419h19.09v2.3h-19.09zM436.59 419h19.09v2.3h-19.09zM215.94 421h19.09v2.3h-19.09zM418.2 421h19.09v2.3h-19.09zM215.94 427h19.09v2.3h-19.09zM418.2 427h19.09v2.3h-19.09zM436.59 427h19.09v2.3h-19.09zM215.94 429h19.09v2.3h-19.09zM418.2 429h19.09v2.3h-19.09zM418.2 435h19.09v2.3h-19.09zM215.94 437h19.09v2.3h-19.09zM418.2 437h19.09v2.3h-19.09zM215.94 439h19.09v2.3h-19.09zM436.59 443h19.09v2.3h-19.09zM418.2 447h19.09v2.3h-19.09zM436.59 449h19.09v2.3h-19.09zM418.2 451h19.09v2.3h-19.09zM215.94 455h19.09v2.3h-19.09zM436.59 461h19.09v2.3h-19.09zM418.2 463h19.09v2.3h-19.09zM418.2 465h19.09v2.3h-19.09zM436.59 465h19.09v2.3h-19.09zM215.94 467h19.09v2.3h-19.09zM399.81 467h19.09v2.3h-19.09zM215.94 469h19.09v2.3h-19.09zM215.94 471h19.09v2.3h-19.09zM436.59 471h19.09v2.3h-19.09zM436.59 473h19.09v2.3h-19.09zM142.39 477h19.09v2.3h-19.09zM418.2 483h19.09v2.3h-19.09zM418.2 493h19.09v2.3h-19.09zM436.59 493h19.09v2.3h-19.09zM418.2 495h19.09v2.3h-19.09zM436.59 495h19.09v2.3h-19.09zM436.59 499h19.09v2.3h-19.09zM436.59 503h19.09v2.3h-19.09zM436.59 507h19.09v2.3h-19.09zM215.94 509h19.09v2.3h-19.09zM436.59 509h19.09v2.3h-19.09zM418.2 515h19.09v2.3h-19.09zM436.59 515h19.09v2.3h-19.09zM215.94 517h19.09v2.3h-19.09zM215.94 519h19.09v2.3h-19.09zM436.59 519h19.09v2.3h-19.09zM436.59 521h19.09v2.3h-19.09zM418.2 527h19.09v2.3h-19.09zM215.94 529h19.09v2.3h-19.09zM418.2 529h19.09v2.3h-19.09zM436.59 533h19.09v2.3h-19.09zM215.94 535h19.09v2.3h-19.09zM418.2 535h19.09v2.3h-19.09zM436.59 535h19.09v2.3h-19.09zM436.59 537h19.09v2.3h-19.09zM418.2 539h19.09v1.3h-19.09zM124 542h19.09v2.3h-19.09zM215.94 542h19.09v2.3h-19.09zM142.39 544h19.09v2.3h-19.09zM142.39 546h19.09v2.3h-19.09zM215.94 546h19.09v2.3h-19.09zM436.59 546h19.09v2.3h-19.09zM142.39 548h19.09v2.3h-19.09zM436.59 548h19.09v2.3h-19.09zM142.39 550h19.09v2.3h-19.09zM142.39 552h19.09v2.3h-19.09zM289.49 552h19.09v2.3h-19.09zM381.43 552h19.09v2.3h-19.09zM124 554h19.09v2.3h-19.09zM215.94 554h19.09v2.3h-19.09zM363.04 554h19.09v2.3h-19.09zM179.16 556h19.09v2.3h-19.09zM344.65 556h19.09v2.3h-19.09zM436.59 558h19.09v2.3h-19.09zM179.16 560h19.09v2.3h-19.09zM179.16 562h19.09v2.3h-19.09zM344.65 562h19.09v2.3h-19.09zM436.59 562h19.09v2.3h-19.09zM289.49 564h19.09v2.3h-19.09zM436.59 564h19.09v2.3h-19.09zM124 566h19.09v2.3h-19.09zM289.49 566h19.09v2.3h-19.09zM344.65 566h19.09v2.3h-19.09zM142.39 568h19.09v2.3h-19.09zM289.49 568h19.09v2.3h-19.09zM363.04 568h19.09v2.3h-19.09zM381.43 568h19.09v2.3h-19.09zM124 570h19.09v2.3h-19.09zM215.94 570h19.09v2.3h-19.09zM289.49 570h19.09v2.3h-19.09zM363.04 570h19.09v2.3h-19.09zM436.59 570h19.09v2.3h-19.09zM124 572h19.09v2.3h-19.09zM142.39 572h19.09v2.3h-19.09zM179.16 572h19.09v2.3h-19.09zM289.49 574h19.09v2.3h-19.09zM363.04 574h19.09v2.3h-19.09zM142.39 578h19.09v2.3h-19.09zM289.49 578h19.09v2.3h-19.09zM142.39 580h19.09v2.3h-19.09zM436.59 580h19.09v2.3h-19.09zM142.39 582h19.09v2.3h-19.09zM436.59 582h19.09v2.3h-19.09zM215.94 584h19.09v2.3h-19.09zM363.04 584h19.09v2.3h-19.09zM436.59 584h19.09v2.3h-19.09zM179.16 586h19.09v2.3h-19.09zM124 588h19.09v2.3h-19.09zM344.65 590h19.09v2.3h-19.09zM381.43 590h19.09v2.3h-19.09zM142.39 592h19.09v2.3h-19.09zM215.94 592h19.09v2.3h-19.09zM344.65 594h19.09v2.3h-19.09zM179.16 596h19.09v2.3h-19.09zM436.59 596h19.09v2.3h-19.09zM124 598h19.09v2.3h-19.09zM215.94 598h19.09v2.3h-19.09zM142.39 600h19.09v2.3h-19.09zM363.04 600h19.09v2.3h-19.09zM436.59 600h19.09v2.3h-19.09zM215.94 602h19.09v2.3h-19.09zM344.65 602h19.09v2.3h-19.09zM363.04 602h19.09v2.3h-19.09zM215.94 604h19.09v2.3h-19.09zM436.59 604h19.09v2.3h-19.09zM363.04 606h19.09v2.3h-19.09zM436.59 606h19.09v2.3h-19.09zM142.39 608h19.09v2.3h-19.09zM344.65 610h19.09v2.3h-19.09zM436.59 610h19.09v2.3h-19.09zM124 612h19.09v2.3h-19.09zM142.39 612h19.09v2.3h-19.09zM289.49 612h19.09v2.3h-19.09zM215.94 616h19.09v2.3h-19.09zM344.65 616h19.09v2.3h-19.09zM436.59 616h19.09v2.3h-19.09zM142.39 618h19.09v2.3h-19.09zM344.65 618h19.09v2.3h-19.09zM436.59 618h19.09v2.3h-19.09zM179.16 620h19.09v2.3h-19.09zM289.49 622h19.09v2.3h-19.09zM344.65 622h19.09v2.3h-19.09zM381.43 622h19.09v2.3h-19.09zM436.59 622h19.09v2.3h-19.09zM289.49 624h19.09v2.3h-19.09zM344.65 624h19.09v2.3h-19.09zM197.55 626h19.09v2.3h-19.09zM436.59 626h19.09v2.3h-19.09zM124 628h19.09v1.3h-19.09zM142.39 628h19.09v1.3h-19.09zM289.49 628h19.09v1.3h-19.09zM436.59 628h19.09v1.3h-19.09z"/>
<path fill="#000000" d="M252.71 69h19.09v2.3h-19.09zM418.2 69h19.09v2.3h-19.09zM307.88 71h19.09v2.3h-19.09zM418.2 71h19.09v2.3h-19.09zM491.75 73h19.09v2.3h-19.09zM528.52 73h19.09v2.3h-19.09zM234.32 75h19.09v2.3h-19.09zM381.43 77h19.09v2.3h-19.09zM418.2 77h19.09v2.3h-19.09zM491.75 77h19.09v2.3h-19.09zM124 79h19.09v2.3h-19.09zM142.39 79h19.09v2.3h-19.09zM289.49 79h19.09v2.3h-19.09zM418.2 79h19.09v2.3h-19.09zM491.75 79h19.09v2.3h-19.09zM215.94 81h19.09v2.3h-19.09zM399.81 83h19.09v2.3h-19.09zM215.94 87h19.09v2.3h-19.09zM271.1 87h19.09v2.3h-19.09zM418.2 87h19.09v2.3h-19.09zM473.36 87h19.09v2.3h-19.09zM289.49 91h19.09v2.3h-19.09zM546.91 91h19.09v2.3h-19.09zM381.43 93h19.09v2.3h-19.09zM252.71 95h19.09v2.3h-19.09zM326.26 95h19.09v2.3h-19.09zM363.04 95h19.09v2.3h-19.09zM510.14 95h19.09v2.3h-19.09zM142.39 101h19.09v2.3h-19.09zM179.16 101h19.09v2.3h-19.09zM454.97 101h19.09v2.3h-19.09zM473.36 101h19.09v2.3h-19.09zM510.14 101h19.09v2.3h-19.09zM215.94 103h19.09v2.3h-19.09zM381.43 107h19.09v2.3h-19.09zM142.39 109h19.09v2.3h-19.09zM491.75 109h19.09v2.3h-19.09zM252.71 111h19.09v2.3h-19.09zM124 113h19.09v2.3h-19.09zM271.1 113h19.09v2.3h-19.09zM234.32 115h19.09v2.3h-19.09zM271.1 115h19.09v2.3h-19.09zM454.97 115h19.09v2.3h-19.09zM510.14 115h19.09v2.3h-19.09zM546.91 115h19.09v2.3h-19.09zM197.55 119h19.09v2.3h-19.09zM418.2 119h19.09v2.3h-19.09zM510.14 119h19.09v2.3h-19.09zM528.52 123h19.09v2.3h-19.09zM252.71 127h19.09v2.3h-19.09zM252.71 129h19.09v2.3h-19.09zM271.1 129h19.09v2.3h-19.09zM252.71 133h19.09v2.3h-19.09zM271.1 135h19.09v2.3h-19.09zM252.71 137h19.09v2.3h-19.09zM271.1 137h19.09v2.3h-19.09zM252.71 143h19.09v2.3h-19.09zM252.71 145h19.09v2.3h-19.09zM252.71 153h19.09v2.3h-19.09zM326.26 153h19.09v2.3h-19.09zM271.1 155h19.09v2.3h-19.09zM271.1 157h19.09v2.3h-19.09zM326.26 161h19.09v2.3h-19.09zM271.1 167h19.09v2.3h-19.09zM326.26 167h19.09v2.3h-19.09zM252.71 175h19.09v2.3h-19.09zM271.1 177h19.09v2.3h-19.09zM271.1 179h19.09v2.3h-19.09zM271.1 181h19.09v2.3h-19.09zM252.71 183h19.09v2.3h-19.09zM326.26 183h19.09v2.3h-19.09zM271.1 187h19.09v2.3h-19.09zM271.1 193h19.09v2.3h-19.09zM326.26 193h19.09v2.3h-19.09zM252.71 199h19.09v2.3h-19.09zM252.71 203h19.09v2.3h-19.09zM252.71 205h19.09v2.3h-19.09zM326.26 205h19.09v2.3h-19.09zM252.71 211h19.09v2.3h-19.09zM252.71 215h19.09v2.3h-19.09zM326.26 215h19.09v2.3h-19.09zM252.71 223h19.09v2.3h-19.09zM252.71 225h19.09v2.3h-19.09zM252.71 227h19.09v2.3h-19.09zM271.1 227h19.09v2.3h-19.09zM326.26 227h19.09v2.3h-19.09zM271.1 233h19.09v2.3h-19.09zM252.71 235h19.09v2.3h-19.09zM271.1 239h19.09v2.3h-19.09zM326.26 239h19.09v2.3h-19.09zM271.1 241h19.09v2.3h-19.09zM271.1 245h19.09v2.3h-19.09zM252.71 253h19.09v2.3h-19.09zM252.71 259h19.09v2.3h-19.09zM252.71 261h19.09v2.3h-19.09zM271.1 265h19.09v2.3h-19.09zM252.71 271h19.09v2.3h-19.09zM326.26 273h19.09v2.3h-19.09zM252.71 277h19.09v2.3h-19.09zM271.1 277h19.09v2.3h-19.09zM252.71 281h19.09v2.3h-19.09zM271.1 283h19.09v2.3h-19.09zM326.26 283h19.09v2.3h-19.09zM271.1 285h19.09v2.3h-19.09zM271.1 287h19.09v2.3h-19.09zM271.1 289h19.09v2.3h-19.09zM271.1 291h19.09v2.3h-19.09zM326.26 291h19.09v2.3h-19.09zM252.71 295h19.09v2.3h-19.09zM326.26 295h19.09v2.3h-19.09zM326.26 299h19.09v2.3h-19.09zM252.71 301h19.09v2.3h-19.09zM252.71 303h19.09v2.3h-19.09zM252.71 305h19.09v2.3h-19.09zM252.71 307h19.09v2.3h-19.09zM252.71 309h19.09v2.3h-19.09zM271.1 309h19.09v2.3h-19.09zM252.71 311h19.09v2.3h-19.09zM271.1 317h19.09v2.3h-19.09zM252.71 319h19.09v2.3h-19.09zM271.1 321h19.09v2.3h-19.09zM326.26 325h19.09v2.3h-19.09zM326.26 329h19.09v2.3h-19.09zM252.71 331h19.09v2.3h-19.09zM252.71 333h19.09v2.3h-19.09zM215.94 335h19.09v2.3h-19.09zM271.1 341h19.09v2.3h-19.09zM326.26 341h19.09v2.3h-19.09zM326.26 345h19.09v2.3h-19.09zM436.59 347h19.09v2.3h-19.09zM271.1 349h19.09v2.3h-19.09zM271.1 357h19.09v2.3h-19.09zM252.71 359h19.09v2.3h-19.09zM271.1 359h19.09v2.3h-19.09zM252.71 361h19.09v2.3h-19.09zM271.1 363h19.09v2.3h-19.09zM271.1 365h19.09v2.3h-19.09zM252.71 367h19.09v2.3h-19.09zM271.1 381h19.09v2.3h-19.09zM271.1 385h19.09v2.3h-19.09zM271.1 387h19.09v2.3h-19.09zM252.71 395h19.09v2.3h-19.09zM252.71 397h19.09v2.3h-19.09zM271.1 397h19.09v2.3h-19.09zM271.1 405h19.09v2.3h-19.09zM252.71 407h19.09v2.3h-19.09zM271.1 411h19.09v2.3h-19.09zM252.71 413h19.09v2.3h-19.09zM271.1 413h19.09v2.3h-19.09zM252.71 419h19.09v2.3h-19.09zM326.26 419h19.09v2.3h-19.09zM271.1 423h19.09v2.3h-19.09zM271.1 425h19.09v2.3h-19.09zM252.71 431h19.09v2.3h-19.09zM326.26 431h19.09v2.3h-19.09zM326.26 433h19.09v2.3h-19.09zM271.1 439h19.09v2.3h-19.09zM326.26 441h19.09v2.3h-19.09zM252.71 447h19.09v2.3h-19.09zM326.26 457h19.09v2.3h-19.09zM271.1 463h19.09v2.3h-19.09zM326.26 465h19.09v2.3h-19.09zM271.1 467h19.09v2.3h-19.09zM326.26 467h19.09v2.3h-19.09zM271.1 471h19.09v2.3h-19.09zM252.71 475h19.09v2.3h-19.09zM215.94 477h19.09v2.3h-19.09zM436.59 477h19.09v2.3h-19.09zM326.26 493h19.09v2.3h-19.09zM326.26 499h19.09v2.3h-19.09zM271.1 503h19.09v2.3h-19.09zM271.1 507h19.09v2.3h-19.09zM326.26 509h19.09v2.3h-19.09zM271.1 513h19.09v2.3h-19.09zM326.26 515h19.09v2.3h-19.09zM271.1 521h19.09v2.3h-19.09zM326.26 523h19.09v2.3h-19.09zM271.1 527h19.09v2.3h-19.09zM271.1 531h19.09v2.3h-19.09zM326.26 531h19.09v2.3h-19.09zM271.1 533h19.09v2.3h-19.09zM307.88 542h19.09v2.3h-19.09zM381.43 554h19.09v2.3h-19.09zM289.49 556h19.09v2.3h-19.09zM381.43 556h19.09v2.3h-19.09zM307.88 558h19.09v2.3h-19.09zM326.26 558h19.09v2.3h-19.09zM344.65 558h19.09v2.3h-19.09zM510.14 558h19.09v2.3h-19.09zM124 560h19.09v2.3h-19.09zM381.43 560h19.09v2.3h-19.09zM307.88 562h19.09v2.3h-19.09zM307.88 564h19.09v2.3h-19.09zM381.43 564h19.09v2.3h-19.09zM307.88 572h19.09v2.3h-19.09zM381.43 574h19.09v2.3h-19.09zM381.43 578h19.09v2.3h-19.09zM436.59 578h19.09v2.3h-19.09zM363.04 580h19.09v2.3h-19.09zM307.88 582h19.09v2.3h-19.09zM381.43 582h19.09v2.3h-19.09zM381.43 584h19.09v2.3h-19.09zM142.39 586h19.09v2.3h-19.09zM271.1 586h19.09v2.3h-19.09zM363.04 588h19.09v2.3h-19.09zM307.88 594h19.09v2.3h-19.09zM307.88 596h19.09v2.3h-19.09zM436.59 598h19.09v2.3h-19.09zM142.39 604h19.09v2.3h-19.09zM381.43 604h19.09v2.3h-19.09zM215.94 606h19.09v2.3h-19.09zM307.88 606h19.09v2.3h-19.09zM344.65 606h19.09v2.3h-19.09zM381.43 610h19.09v2.3h-19.09zM271.1 616h19.09v2.3h-19.09zM289.49 620h19.09v2.3h-19.09zM307.88 620h19.09v2.3h-19.09zM363.04 620h19.09v2.3h-19.09zM307.88 626h19.09v2.3h-19.09zM381.43 628h19.09v1.3h-19.09z"/>
<path fill="#480000" d="M271.1 69h19.09v2.3h-19.09zM215.94 71h19.09v2.3h-19.09zM252.71 71h19.09v2.3h-19.09zM381.43 71h19.09v2.3h-19.09zM454.97 71h19.09v2.3h-19.09zM528.52 71h19.09v2.3h-19.09zM399.81 73h19.09v2.3h-19.09zM436.59 79h19.09v2.3h-19.09zM473.36 81h19.09v2.3h-19.09zM215.94 83h19.09v2.3h-19.09zM363.04 83h19.09v2.3h-19.09zM234.32 93h19.09v2.3h-19.09zM142.39 95h19.09v2.3h-19.09zM124 97h19.09v2.3h-19.09zM307.88 97h19.09v2.3h-19.09zM381.43 97h19.09v2.3h-19.09zM197.55 99h19.09v2.3h-19.09zM436.59 99h19.09v2.3h-19.09zM510.14 99h19.09v2.3h-19.09zM197.55 101h19.09v2.3h-19.09zM124 109h19.09v2.3h-19.09zM289.49 109h19.09v2.3h-19.09zM344.65 111h19.09v2.3h-19.09zM215.94 113h19.09v2.3h-19.09zM252.71 113h19.09v2.3h-19.09zM215.94 115h19.09v2.3h-19.09zM252.71 121h19.09v2.3h-19.09zM436.59 131h19.09v2.3h-19.09zM436.59 139h19.09v2.3h-19.09zM436.59 147h19.09v2.3h-19.09zM215.94 149h19.09v2.3h-19.09zM436.59 159h19.09v2.3h-19.09zM418.2 163h19.09v2.3h-19.09zM418.2 173h19.09v2.3h-19.09zM436.59 173h19.09v2.3h-19.09zM418.2 177h19.09v2.3h-19.09zM436.59 179h19.09v2.3h-19.09zM418.2 183h19.09v2.3h-19.09zM436.59 183h19.09v2.3h-19.09zM418.2 189h19.09v2.3h-19.09zM418.2 195h19.09v2.3h-19.09zM436.59 199h19.09v2.3h-19.09zM436.59 201h19.09v2.3h-19.09zM436.59 203h19.09v2.3h-19.09zM418.2 207h19.09v2.3h-19.09zM436.59 209h19.09v2.3h-19.09zM418.2 211h19.09v2.3h-19.09zM436.59 213h19.09v2.3h-19.09zM436.59 217h19.09v2.3h-19.09zM215.94 219h19.09v2.3h-19.09zM418.2 219h19.09v2.3h-19.09zM528.52 219h19.09v2.3h-19.09zM418.2 221h19.09v2.3h-19.09zM418.2 227h19.09v2.3h-19.09zM215.94 235h19.09v2.3h-19.09zM436.59 239h19.09v2.3h-19.09zM142.39 241h19.09v2.3h-19.09zM436.59 245h19.09v2.3h-19.09zM436.59 247h19.09v2.3h-19.09zM436.59 249h19.09v2.3h-19.09zM215.94 261h19.09v2.3h-19.09zM418.2 261h19.09v2.3h-19.09zM418.2 265h19.09v2.3h-19.09zM215.94 267h19.09v2.3h-19.09zM418.2 267h19.09v2.3h-19.09zM436.59 271h19.09v2.3h-19.09zM215.94 273h19.09v2.3h-19.09zM418.2 273h19.09v2.3h-19.09zM436.59 281h19.09v2.3h-19.09zM436.59 283h19.09v2.3h-19.09zM436.59 285h19.09v2.3h-19.09zM215.94 287h19.09v2.3h-19.09zM418.2 287h19.09v2.3h-19.09zM436.59 287h19.09v2.3h-19.09zM418.2 293h19.09v2.3h-19.09zM418.2 295h19.09v2.3h-19.09zM436.59 297h19.09v2.3h-19.09zM436.59 305h19.09v2.3h-19.09zM418.2 315h19.09v2.3h-19.09zM234.32 321h19.09v2.3h-19.09zM142.39 325h19.09v2.3h-19.09zM436.59 331h19.09v2.3h-19.09zM418.2 341h19.09v2.3h-19.09zM436.59 341h19.09v2.3h-19.09zM142.39 347h19.09v2.3h-19.09zM234.32 347h19.09v2.3h-19.09zM124 349h19.09v2.3h-19.09zM234.32 349h19.09v2.3h-19.09zM124 357h19.09v2.3h-19.09zM418.2 357h19.09v2.3h-19.09zM215.94 361h19.09v2.3h-19.09zM418.2 361h19.09v2.3h-19.09zM436.59 361h19.09v2.3h-19.09zM124 363h19.09v2.3h-19.09zM142.39 363h19.09v2.3h-19.09zM234.32 363h19.09v2.3h-19.09zM436.59 367h19.09v2.3h-19.09zM124 369h19.09v2.3h-19.09zM436.59 377h19.09v2.3h-19.09zM418.2 383h19.09v2.3h-19.09zM418.2 391h19.09v2.3h-19.09zM418.2 395h19.09v2.3h-19.09zM436.59 397h19.09v2.3h-19.09zM418.2 399h19.09v2.3h-19.09zM418.2 401h19.09v2.3h-19.09zM307.88 403h19.09v2.3h-19.09zM142.39 411h19.09v2.3h-19.09zM215.94 423h19.09v2.3h-19.09zM418.2 423h19.09v2.3h-19.09zM436.59 423h19.09v2.3h-19.09zM124 425h19.09v2.3h-19.09zM160.78 425h19.09v2.3h-19.09zM197.55 425h19.09v2.3h-19.09zM234.32 425h19.09v2.3h-19.09zM436.59 433h19.09v2.3h-19.09zM142.39 435h19.09v2.3h-19.09zM307.88 435h19.09v2.3h-19.09zM436.59 437h19.09v2.3h-19.09zM418.2 439h19.09v2.3h-19.09zM436.59 447h19.09v2.3h-19.09zM124 451h19.09v2.3h-19.09zM418.2 471h19.09v2.3h-19.09zM197.55 477h19.09v2.3h-19.09zM234.32 477h19.09v2.3h-19.09zM234.32 479h19.09v2.3h-19.09zM418.2 481h19.09v2.3h-19.09zM436.59 483h19.09v2.3h-19.09zM142.39 485h19.09v2.3h-19.09zM307.88 485h19.09v2.3h-19.09zM418.2 489h19.09v2.3h-19.09zM436.59 489h19.09v2.3h-19.09zM142.39 491h19.09v2.3h-19.09zM142.39 493h19.09v2.3h-19.09zM142.39 495h19.09v2.3h-19.09zM124 497h19.09v2.3h-19.09zM142.39 497h19.09v2.3h-19.09zM179.16 507h19.09v2.3h-19.09zM142.39 511h19.09v2.3h-19.09zM418.2 513h19.09v2.3h-19.09zM436.59 527h19.09v2.3h-19.09zM142.39 529h19.09v2.3h-19.09zM215.94 531h19.09v2.3h-19.09zM418.2 531h19.09v2.3h-19.09zM142.39 533h19.09v2.3h-19.09zM307.88 533h19.09v2.3h-19.09zM124 537h19.09v2.3h-19.09zM160.78 537h19.09v2.3h-19.09zM436.59 539h19.09v1.3h-19.09zM142.39 542h19.09v2.3h-19.09zM197.55 542h19.09v2.3h-19.09zM160.78 544h19.09v2.3h-19.09zM179.16 544h19.09v2.3h-19.09zM124 546h19.09v2.3h-19.09zM344.65 546h19.09v2.3h-19.09zM215.94 548h19.09v2.3h-19.09zM289.49 548h19.09v2.3h-19.09zM344.65 548h19.09v2.3h-19.09zM179.16 550h19.09v2.3h-19.09zM142.39 556h19.09v2.3h-19.09zM215.94 556h19.09v2.3h-19.09zM399.81 556h19.09v2.3h-19.09zM160.78 558h19.09v2.3h-19.09zM160.78 560h19.09v2.3h-19.09zM197.55 560h19.09v2.3h-19.09zM399.81 560h19.09v2.3h-19.09zM124 564h19.09v2.3h-19.09zM142.39 564h19.09v2.3h-19.09zM344.65 564h19.09v2.3h-19.09zM363.04 564h19.09v2.3h-19.09zM179.16 566h19.09v2.3h-19.09zM197.55 566h19.09v2.3h-19.09zM215.94 566h19.09v2.3h-19.09zM215.94 568h19.09v2.3h-19.09zM436.59 568h19.09v2.3h-19.09zM215.94 574h19.09v2.3h-19.09zM436.59 574h19.09v2.3h-19.09zM142.39 576h19.09v2.3h-19.09zM215.94 576h19.09v2.3h-19.09zM399.81 578h19.09v2.3h-19.09zM215.94 580h19.09v2.3h-19.09zM179.16 582h19.09v2.3h-19.09zM179.16 584h19.09v2.3h-19.09zM363.04 592h19.09v2.3h-19.09zM160.78 594h19.09v2.3h-19.09zM197.55 596h19.09v2.3h-19.09zM179.16 598h19.09v2.3h-19.09zM124 600h19.09v2.3h-19.09zM179.16 602h19.09v2.3h-19.09zM179.16 604h19.09v2.3h-19.09zM399.81 606h19.09v2.3h-19.09zM179.16 608h19.09v2.3h-19.09zM215.94 608h19.09v2.3h-19.09zM179.16 616h19.09v2.3h-19.09zM160.78 618h19.09v2.3h-19.09zM179.16 618h19.09v2.3h-19.09zM160.78 620h19.09v2.3h-19.09zM179.16 622h19.09v2.3h-19.09zM363.04 622h19.09v2.3h-19.09zM179.16 624h19.09v2.3h-19.09zM142.39 626h19.09v2.3h-19.09zM344.65 626h19.09v2.3h-19.09zM399.81 628h19.09v1.3h-19.09z"/>
<path fill="#009000" d="M289.49 69h19.09v2.3h-19.09zM454.97 75h19.09v2.3h-19.09zM363.04 81h19.09v2.3h-19.09zM307.88 85h19.09v2.3h-19.09zM142.39 93h19.09v2.3h-19.09zM436.59 93h19.09v2.3h-19.09zM491.75 95h19.09v2.3h-19.09zM473.36 111h19.09v2.3h-19.09zM491.75 125h19.09v2.3h-19.09zM454.97 127h19.09v2.3h-19.09zM491.75 127h19.09v2.3h-19.09zM510.14 131h19.09v2.3h-19.09zM546.91 131h19.09v2.3h-19.09zM510.14 141h19.09v2.3h-19.09zM510.14 143h19.09v2.3h-19.09zM510.14 147h19.09v2.3h-19.09zM491.75 151h19.09v2.3h-19.09zM491.75 153h19.09v2.3h-19.09zM510.14 155h19.09v2.3h-19.09zM510.14 159h19.09v2.3h-19.09zM528.52 165h19.09v2.3h-19.09zM510.14 169h19.09v2.3h-19.09zM546.91 169h19.09v2.3h-19.09zM491.75 175h19.09v2.3h-19.09zM546.91 175h19.09v2.3h-19.09zM381.43 183h19.09v2.3h-19.09zM510.14 187h19.09v2.3h-19.09zM546.91 187h19.09v2.3h-19.09zM510.14 191h19.09v2.3h-19.09zM546.91 201h19.09v2.3h-19.09zM491.75 205h19.09v2.3h-19.09zM491.75 211h19.09v2.3h-19.09zM491.75 217h19.09v2.3h-19.09zM510.14 217h19.09v2.3h-19.09zM546.91 217h19.09v2.3h-19.09zM473.36 219h19.09v2.3h-19.09zM546.91 227h19.09v2.3h-19.09zM491.75 231h19.09v2.3h-19.09zM510.14 235h19.09v2.3h-19.09zM546.91 237h19.09v2.3h-19.09zM510.14 239h19.09v2.3h-19.09zM510.14 241h19.09v2.3h-19.09zM491.75 251h19.09v2.3h-19.09zM546.91 251h19.09v2.3h-19.09zM491.75 253h19.09v2.3h-19.09zM510.14 253h19.09v2.3h-19.09zM546.91 253h19.09v2.3h-19.09zM454.97 257h19.09v2.3h-19.09zM491.75 257h19.09v2.3h-19.09zM546.91 257h19.09v2.3h-19.09zM473.36 259h19.09v2.3h-19.09zM510.14 259h19.09v2.3h-19.09zM491.75 263h19.09v2.3h-19.09zM473.36 269h19.09v2.3h-19.09zM510.14 273h19.09v2.3h-19.09zM473.36 277h19.09v2.3h-19.09zM491.75 277h19.09v2.3h-19.09zM473.36 279h19.09v2.3h-19.09zM491.75 283h19.09v2.3h-19.09zM510.14 283h19.09v2.3h-19.09zM491.75 285h19.09v2.3h-19.09zM510.14 287h19.09v2.3h-19.09zM546.91 287h19.09v2.3h-19.09zM491.75 289h19.09v2.3h-19.09zM454.97 293h19.09v2.3h-19.09zM473.36 293h19.09v2.3h-19.09zM546.91 293h19.09v2.3h-19.09zM491.75 295h19.09v2.3h-19.09zM491.75 297h19.09v2.3h-19.09zM546.91 297h19.09v2.3h-19.09zM473.36 299h19.09v2.3h-19.09zM546.91 301h19.09v2.3h-19.09zM454.97 303h19.09v2.3h-19.09zM510.14 303h19.09v2.3h-19.09zM546.91 303h19.09v2.3h-19.09zM454.97 305h19.09v2.3h-19.09zM454.97 307h19.09v2.3h-19.09zM473.36 309h19.09v2.3h-19.09zM491.75 313h19.09v2.3h-19.09zM510.14 313h19.09v2.3h-19.09zM491.75 315h19.09v2.3h-19.09zM454.97 317h19.09v2.3h-19.09zM546.91 317h19.09v2.3h-19.09zM473.36 321h19.09v2.3h-19.09zM510.14 323h19.09v2.3h-19.09zM546.91 323h19.09v2.3h-19.09zM473.36 325h19.09v2.3h-19.09zM491.75 325h19.09v2.3h-19.09zM546.91 325h19.09v2.3h-19.09zM491.75 327h19.09v2.3h-19.09zM510.14 327h19.09v2.3h-19.09zM491.75 329h19.09v2.3h-19.09zM546.91 329h19.09v2.3h-19.09zM510.14 331h19.09v2.3h-19.09zM546.91 331h19.09v2.3h-19.09zM510.14 333h19.09v2.3h-19.09zM473.36 337h19.09v2.3h-19.09zM454.97 339h19.09v2.3h-19.09zM473.36 339h19.09v2.3h-19.09zM510.14 339h19.09v2.3h-19.09zM473.36 341h19.09v2.3h-19.09zM546.91 341h19.09v2.3h-19.09zM473.36 343h19.09v2.3h-19.09zM454.97 345h19.09v2.3h-19.09zM491.75 345h19.09v2.3h-19.09zM510.14 345h19.09v2.3h-19.09zM454.97 351h19.09v2.3h-19.09zM546.91 351h19.09v2.3h-19.09zM454.97 353h19.09v2.3h-19.09zM454.97 355h19.09v2.3h-19.09zM510.14 355h19.09v2.3h-19.09zM546.91 355h19.09v2.3h-19.09zM473.36 359h19.09v2.3h-19.09zM491.75 361h19.09v2.3h-19.09zM473.36 363h19.09v2.3h-19.09zM546.91 363h19.09v2.3h-19.09zM454.97 365h19.09v2.3h-19.09zM510.14 365h19.09v2.3h-19.09zM473.36 367h19.09v2.3h-19.09zM491.75 367h19.09v2.3h-19.09zM546.91 367h19.09v2.3h-19.09zM491.75 369h19.09v2.3h-19.09zM491.75 371h19.09v2.3h-19.09zM473.36 373h19.09v2.3h-19.09zM546.91 377h19.09v2.3h-19.09zM454.97 379h19.09v2.3h-19.09zM473.36 379h19.09v2.3h-19.09zM454.97 381h19.09v2.3h-19.09zM491.75 381h19.09v2.3h-19.09zM454.97 383h19.09v2.3h-19.09zM510.14 383h19.09v2.3h-19.09zM546.91 383h19.09v2.3h-19.09zM491.75 385h19.09v2.3h-19.09zM510.14 385h19.09v2.3h-19.09zM473.36 387h19.09v2.3h-19.09zM491.75 387h19.09v2.3h-19.09zM510.14 387h19.09v2.3h-19.09zM546.91 387h19.09v2.3h-19.09zM473.36 389h19.09v2.3h-19.09zM510.14 389h19.09v2.3h-19.09zM546.91 389h19.09v2.3h-19.09zM491.75 391h19.09v2.3h-19.09zM546.91 391h19.09v2.3h-19.09zM473.36 393h19.09v2.3h-19.09zM491.75 393h19.09v2.3h-19.09zM546.91 395h19.09v2.3h-19.09zM473.36 397h19.09v2.3h-19.09zM546.91 397h19.09v2.3h-19.09zM454.97 399h19.09v2.3h-19.09zM491.75 401h19.09v2.3h-19.09zM510.14 405h19.09v2.3h-19.09zM454.97 407h19.09v2.3h-19.09zM473.36 407h19.09v2.3h-19.09zM491.75 407h19.09v2.3h-19.09zM510.14 407h19.09v2.3h-19.09zM454.97 409h19.09v2.3h-19.09zM510.14 409h19.09v2.3h-19.09zM546.91 409h19.09v2.3h-19.09zM454.97 411h19.09v2.3h-19.09zM546.91 413h19.09v2.3h-19.09zM510.14 415h19.09v2.3h-19.09zM473.36 417h19.09v2.3h-19.09zM491.75 417h19.09v2.3h-19.09zM546.91 417h19.09v2.3h-19.09zM454.97 419h19.09v2.3h-19.09zM510.14 421h19.09v2.3h-19.09zM546.91 421h19.09v2.3h-19.09zM528.52 423h19.09v2.3h-19.09zM546.91 423h19.09v2.3h-19.09zM491.75 427h19.09v2.3h-19.09zM546.91 427h19.09v2.3h-19.09zM454.97 429h19.09v2.3h-19.09zM546.91 429h19.09v2.3h-19.09zM454.97 433h19.09v2.3h-19.09zM473.36 433h19.09v2.3h-19.09zM546.91 437h19.09v2.3h-19.09zM510.14 441h19.09v2.3h-19.09zM546.91 441h19.09v2.3h-19.09zM454.97 443h19.09v2.3h-19.09zM454.97 447h19.09v2.3h-19.09zM491.75 447h19.09v2.3h-19.09zM473.36 457h19.09v2.3h-19.09zM473.36 463h19.09v2.3h-19.09zM510.14 463h19.09v2.3h-19.09zM546.91 463h19.09v2.3h-19.09zM491.75 465h19.09v2.3h-19.09zM491.75 467h19.09v2.3h-19.09zM454.97 469h19.09v2.3h-19.09zM473.36 469h19.09v2.3h-19.09zM510.14 471h19.09v2.3h-19.09zM546.91 471h19.09v2.3h-19.09zM454.97 473h19.09v2.3h-19.09zM473.36 473h19.09v2.3h-19.09zM510.14 473h19.09v2.3h-19.09zM546.91 481h19.09v2.3h-19.09zM473.36 483h19.09v2.3h-19.09zM510.14 483h19.09v2.3h-19.09zM546.91 487h19.09v2.3h-19.09zM454.97 491h19.09v2.3h-19.09zM454.97 495h19.09v2.3h-19.09zM473.36 495h19.09v2.3h-19.09zM491.75 499h19.09v2.3h-19.09zM473.36 501h19.09v2.3h-19.09zM454.97 503h19.09v2.3h-19.09zM473.36 505h19.09v2.3h-19.09zM454.97 509h19.09v2.3h-19.09zM473.36 509h19.09v2.3h-19.09zM546.91 509h19.09v2.3h-19.09zM454.97 511h19.09v2.3h-19.09zM473.36 513h19.09v2.3h-19.09zM546.91 513h19.09v2.3h-19.09zM491.75 515h19.09v2.3h-19.09zM473.36 517h19.09v2.3h-19.09zM491.75 517h19.09v2.3h-19.09zM491.75 519h19.09v2.3h-19.09zM510.14 519h19.09v2.3h-19.09zM454.97 523h19.09v2.3h-19.09zM546.91 523h19.09v2.3h-19.09zM510.14 525h19.09v2.3h-19.09zM454.97 531h19.09v2.3h-19.09zM473.36 531h19.09v2.3h-19.09zM491.75 531h19.09v2.3h-19.09zM454.97 535h19.09v2.3h-19.09zM491.75 535h19.09v2.3h-19.09zM454.97 539h19.09v1.3h-19.09zM454.97 544h19.09v2.3h-19.09zM491.75 550h19.09v2.3h-19.09zM454.97 554h19.09v2.3h-19.09zM491.75 554h19.09v2.3h-19.09zM546.91 556h19.09v2.3h-19.09zM252.71 574h19.09v2.3h-19.09zM473.36 584h19.09v2.3h-19.09zM473.36 588h19.09v2.3h-19.09zM454.97 590h19.09v2.3h-19.09zM473.36 590h19.09v2.3h-19.09zM491.75 590h19.09v2.3h-19.09zM491.75 592h19.09v2.3h-19.09zM454.97 598h19.09v2.3h-19.09zM473.36 600h19.09v2.3h-19.09zM491.75 602h19.09v2.3h-19.09zM454.97 616h19.09v2.3h-19.09zM454.97 622h19.09v2.3h-19.09z"/>
<path fill="#540000" d="M307.88 69h19.09v2.3h-19.09zM510.14 71h19.09v2.3h-19.09zM215.94 73h19.09v2.3h-19.09zM473.36 75h19.09v2.3h-19.09zM381.43 79h19.09v2.3h-19.09zM142.39 81h19.09v2.3h-19.09zM381.43 81h19.09v2.3h-19.09zM124 83h19.09v2.3h-19.09zM160.78 83h19.09v2.3h-19.09zM252.71 83h19.09v2.3h-19.09zM436.59 83h19.09v2.3h-19.09zM418.2 89h19.09v2.3h-19.09zM344.65 97h19.09v2.3h-19.09zM179.16 99h19.09v2.3h-19.09zM179.16 103h19.09v2.3h-19.09zM418.2 103h19.09v2.3h-19.09zM160.78 105h19.09v2.3h-19.09zM271.1 107h19.09v2.3h-19.09zM344.65 109h19.09v2.3h-19.09zM491.75 113h19.09v2.3h-19.09zM215.94 117h19.09v2.3h-19.09zM289.49 117h19.09v2.3h-19.09zM363.04 117h19.09v2.3h-19.09zM436.59 119h19.09v2.3h-19.09zM197.55 121h19.09v2.3h-19.09zM381.43 121h19.09v2.3h-19.09zM528.52 121h19.09v2.3h-19.09zM142.39 125h19.09v2.3h-19.09zM142.39 153h19.09v2.3h-19.09zM436.59 163h19.09v2.3h-19.09zM418.2 165h19.09v2.3h-19.09zM436.59 165h19.09v2.3h-19.09zM418.2 167h19.09v2.3h-19.09zM124 169h19.09v2.3h-19.09zM418.2 171h19.09v2.3h-19.09zM436.59 171h19.09v2.3h-19.09zM399.81 179h19.09v2.3h-19.09zM436.59 185h19.09v2.3h-19.09zM436.59 189h19.09v2.3h-19.09zM215.94 199h19.09v2.3h-19.09zM454.97 203h19.09v2.3h-19.09zM124 215h19.09v2.3h-19.09zM142.39 215h19.09v2.3h-19.09zM234.32 215h19.09v2.3h-19.09zM418.2 231h19.09v2.3h-19.09zM436.59 233h19.09v2.3h-19.09zM418.2 239h19.09v2.3h-19.09zM436.59 243h19.09v2.3h-19.09zM491.75 243h19.09v2.3h-19.09zM418.2 245h19.09v2.3h-19.09zM363.04 247h19.09v2.3h-19.09zM418.2 249h19.09v2.3h-19.09zM124 251h19.09v2.3h-19.09zM436.59 255h19.09v2.3h-19.09zM142.39 259h19.09v2.3h-19.09zM436.59 261h19.09v2.3h-19.09zM234.32 263h19.09v2.3h-19.09zM436.59 265h19.09v2.3h-19.09zM436.59 267h19.09v2.3h-19.09zM436.59 273h19.09v2.3h-19.09zM142.39 275h19.09v2.3h-19.09zM436.59 289h19.09v2.3h-19.09zM234.32 293h19.09v2.3h-19.09zM418.2 299h19.09v2.3h-19.09zM142.39 301h19.09v2.3h-19.09zM491.75 303h19.09v2.3h-19.09zM418.2 311h19.09v2.3h-19.09zM436.59 311h19.09v2.3h-19.09zM160.78 321h19.09v2.3h-19.09zM142.39 323h19.09v2.3h-19.09zM234.32 323h19.09v2.3h-19.09zM124 325h19.09v2.3h-19.09zM234.32 327h19.09v2.3h-19.09zM142.39 329h19.09v2.3h-19.09zM124 335h19.09v2.3h-19.09zM234.32 335h19.09v2.3h-19.09zM142.39 337h19.09v2.3h-19.09zM307.88 337h19.09v2.3h-19.09zM418.2 339h19.09v2.3h-19.09zM142.39 343h19.09v2.3h-19.09zM160.78 347h19.09v2.3h-19.09zM179.16 347h19.09v2.3h-19.09zM142.39 349h19.09v2.3h-19.09zM142.39 351h19.09v2.3h-19.09zM215.94 355h19.09v2.3h-19.09zM142.39 359h19.09v2.3h-19.09zM142.39 361h19.09v2.3h-19.09zM307.88 363h19.09v2.3h-19.09zM142.39 365h19.09v2.3h-19.09zM124 371h19.09v2.3h-19.09zM436.59 373h19.09v2.3h-19.09zM142.39 375h19.09v2.3h-19.09zM142.39 377h19.09v2.3h-19.09zM142.39 385h19.09v2.3h-19.09zM124 389h19.09v2.3h-19.09zM142.39 391h19.09v2.3h-19.09zM436.59 395h19.09v2.3h-19.09zM234.32 397h19.09v2.3h-19.09zM234.32 399h19.09v2.3h-19.09zM124 411h19.09v2.3h-19.09zM160.78 415h19.09v2.3h-19.09zM234.32 415h19.09v2.3h-19.09zM142.39 419h19.09v2.3h-19.09zM234.32 419h19.09v2.3h-19.09zM510.14 423h19.09v2.3h-19.09zM142.39 425h19.09v2.3h-19.09zM179.16 425h19.09v2.3h-19.09zM307.88 425h19.09v2.3h-19.09zM418.2 433h19.09v2.3h-19.09zM124 435h19.09v2.3h-19.09zM160.78 435h19.09v2.3h-19.09zM179.16 435h19.09v2.3h-19.09zM436.59 439h19.09v2.3h-19.09zM124 443h19.09v2.3h-19.09zM142.39 443h19.09v2.3h-19.09zM234.32 443h19.09v2.3h-19.09zM124 445h19.09v2.3h-19.09zM124 449h19.09v2.3h-19.09zM160.78 449h19.09v2.3h-19.09zM142.39 451h19.09v2.3h-19.09zM142.39 453h19.09v2.3h-19.09zM142.39 455h19.09v2.3h-19.09zM234.32 457h19.09v2.3h-19.09zM124 459h19.09v2.3h-19.09zM179.16 459h19.09v2.3h-19.09zM307.88 459h19.09v2.3h-19.09zM142.39 461h19.09v2.3h-19.09zM142.39 463h19.09v2.3h-19.09zM124 465h19.09v2.3h-19.09zM142.39 465h19.09v2.3h-19.09zM142.39 467h19.09v2.3h-19.09zM142.39 469h19.09v2.3h-19.09zM142.39 473h19.09v2.3h-19.09zM160.78 475h19.09v2.3h-19.09zM307.88 475h19.09v2.3h-19.09zM179.16 477h19.09v2.3h-19.09zM307.88 477h19.09v2.3h-19.09zM160.78 479h19.09v2.3h-19.09zM307.88 479h19.09v2.3h-19.09zM142.39 481h19.09v2.3h-19.09zM124 485h19.09v2.3h-19.09zM160.78 485h19.09v2.3h-19.09zM234.32 485h19.09v2.3h-19.09zM179.16 491h19.09v2.3h-19.09zM307.88 491h19.09v2.3h-19.09zM234.32 493h19.09v2.3h-19.09zM179.16 497h19.09v2.3h-19.09zM234.32 497h19.09v2.3h-19.09zM307.88 497h19.09v2.3h-19.09zM142.39 499h19.09v2.3h-19.09zM436.59 501h19.09v2.3h-19.09zM142.39 503h19.09v2.3h-19.09zM142.39 505h19.09v2.3h-19.09zM142.39 507h19.09v2.3h-19.09zM234.32 507h19.09v2.3h-19.09zM124 511h19.09v2.3h-19.09zM124 513h19.09v2.3h-19.09zM436.59 513h19.09v2.3h-19.09zM142.39 515h19.09v2.3h-19.09zM142.39 521h19.09v2.3h-19.09zM307.88 521h19.09v2.3h-19.09zM142.39 527h19.09v2.3h-19.09zM234.32 527h19.09v2.3h-19.09zM160.78 529h19.09v2.3h-19.09zM124 533h19.09v2.3h-19.09zM160.78 533h19.09v2.3h-19.09zM124 535h19.09v2.3h-19.09zM234.32 535h19.09v2.3h-19.09zM179.16 537h19.09v2.3h-19.09zM234.32 537h19.09v2.3h-19.09zM160.78 542h19.09v2.3h-19.09zM124 550h19.09v2.3h-19.09zM160.78 550h19.09v2.3h-19.09zM344.65 550h19.09v2.3h-19.09zM124 552h19.09v2.3h-19.09zM179.16 552h19.09v2.3h-19.09zM179.16 554h19.09v2.3h-19.09zM197.55 558h19.09v2.3h-19.09zM399.81 558h19.09v2.3h-19.09zM160.78 562h19.09v2.3h-19.09zM197.55 564h19.09v2.3h-19.09zM160.78 566h19.09v2.3h-19.09zM124 568h19.09v2.3h-19.09zM179.16 568h19.09v2.3h-19.09zM344.65 568h19.09v2.3h-19.09zM197.55 570h19.09v2.3h-19.09zM399.81 570h19.09v2.3h-19.09zM160.78 572h19.09v2.3h-19.09zM418.2 572h19.09v2.3h-19.09zM215.94 582h19.09v2.3h-19.09zM142.39 584h19.09v2.3h-19.09zM160.78 584h19.09v2.3h-19.09zM197.55 586h19.09v2.3h-19.09zM399.81 586h19.09v2.3h-19.09zM179.16 588h19.09v2.3h-19.09zM124 590h19.09v2.3h-19.09zM142.39 590h19.09v2.3h-19.09zM436.59 592h19.09v2.3h-19.09zM399.81 594h19.09v2.3h-19.09zM399.81 596h19.09v2.3h-19.09zM142.39 598h19.09v2.3h-19.09zM197.55 598h19.09v2.3h-19.09zM197.55 604h19.09v2.3h-19.09zM399.81 604h19.09v2.3h-19.09zM160.78 606h19.09v2.3h-19.09zM399.81 608h19.09v2.3h-19.09zM418.2 608h19.09v2.3h-19.09zM142.39 610h19.09v2.3h-19.09zM179.16 612h19.09v2.3h-19.09zM124 614h19.09v2.3h-19.09zM160.78 614h19.09v2.3h-19.09zM197.55 614h19.09v2.3h-19.09zM418.2 614h19.09v2.3h-19.09zM418.2 616h19.09v2.3h-19.09zM215.94 618h19.09v2.3h-19.09zM399.81 620h19.09v2.3h-19.09zM197.55 622h19.09v2.3h-19.09zM399.81 624h19.09v2.3h-19.09zM215.94 628h19.09v1.3h-19.09z"/>
<path fill="#005400" d="M363.04 69h19.09v2.3h-19.09zM124 75h19.09v2.3h-19.09zM326.26 75h19.09v2.3h-19.09zM363.04 75h19.09v2.3h-19.09zM418.2 75h19.09v2.3h-19.09zM436.59 75h19.09v2.3h-19.09zM473.36 77h19.09v2.3h-19.09zM271.1 79h19.09v2.3h-19.09zM307.88 79h19.09v2.3h-19.09zM381.43 83h19.09v2.3h-19.09zM252.71 85h19.09v2.3h-19.09zM399.81 85h19.09v2.3h-19.09zM234.32 87h19.09v2.3h-19.09zM510.14 87h19.09v2.3h-19.09zM528.52 89h19.09v2.3h-19.09zM252.71 91h19.09v2.3h-19.09zM307.88 91h19.09v2.3h-19.09zM510.14 91h19.09v2.3h-19.09zM363.04 101h19.09v2.3h-19.09zM546.91 103h19.09v2.3h-19.09zM197.55 105h19.09v2.3h-19.09zM381.43 105h19.09v2.3h-19.09zM252.71 107h19.09v2.3h-19.09zM289.49 107h19.09v2.3h-19.09zM473.36 107h19.09v2.3h-19.09zM160.78 111h19.09v2.3h-19.09zM289.49 111h19.09v2.3h-19.09zM454.97 111h19.09v2.3h-19.09zM454.97 113h19.09v2.3h-19.09zM381.43 119h19.09v2.3h-19.09zM179.16 123h19.09v2.3h-19.09zM381.43 125h19.09v2.3h-19.09zM381.43 127h19.09v2.3h-19.09zM344.65 129h19.09v2.3h-19.09zM399.81 129h19.09v2.3h-19.09zM363.04 135h19.09v2.3h-19.09zM363.04 139h19.09v2.3h-19.09zM344.65 141h19.09v2.3h-19.09zM363.04 143h19.09v2.3h-19.09zM399.81 145h19.09v2.3h-19.09zM344.65 147h19.09v2.3h-19.09zM344.65 153h19.09v2.3h-19.09zM381.43 155h19.09v2.3h-19.09zM344.65 157h19.09v2.3h-19.09zM381.43 157h19.09v2.3h-19.09zM344.65 159h19.09v2.3h-19.09zM381.43 159h19.09v2.3h-19.09zM344.65 161h19.09v2.3h-19.09zM289.49 165h19.09v2.3h-19.09zM326.26 165h19.09v2.3h-19.09zM399.81 165h19.09v2.3h-19.09zM344.65 167h19.09v2.3h-19.09zM399.81 167h19.09v2.3h-19.09zM363.04 171h19.09v2.3h-19.09zM363.04 181h19.09v2.3h-19.09zM344.65 187h19.09v2.3h-19.09zM528.52 187h19.09v2.3h-19.09zM399.81 193h19.09v2.3h-19.09zM344.65 195h19.09v2.3h-19.09zM124 203h19.09v2.3h-19.09zM344.65 203h19.09v2.3h-19.09zM344.65 205h19.09v2.3h-19.09zM344.65 211h19.09v2.3h-19.09zM399.81 211h19.09v2.3h-19.09zM363.04 213h19.09v2.3h-19.09zM344.65 221h19.09v2.3h-19.09zM344.65 223h19.09v2.3h-19.09zM363.04 225h19.09v2.3h-19.09zM399.81 225h19.09v2.3h-19.09zM528.52 225h19.09v2.3h-19.09zM381.43 227h19.09v2.3h-19.09zM399.81 227h19.09v2.3h-19.09zM363.04 229h19.09v2.3h-19.09zM399.81 229h19.09v2.3h-19.09zM344.65 235h19.09v2.3h-19.09zM381.43 235h19.09v2.3h-19.09zM363.04 237h19.09v2.3h-19.09zM381.43 239h19.09v2.3h-19.09zM399.81 239h19.09v2.3h-19.09zM381.43 241h19.09v2.3h-19.09zM528.52 241h19.09v2.3h-19.09zM344.65 247h19.09v2.3h-19.09zM344.65 249h19.09v2.3h-19.09zM271.1 251h19.09v2.3h-19.09zM344.65 251h19.09v2.3h-19.09zM344.65 257h19.09v2.3h-19.09zM381.43 259h19.09v2.3h-19.09zM528.52 259h19.09v2.3h-19.09zM381.43 263h19.09v2.3h-19.09zM528.52 263h19.09v2.3h-19.09zM363.04 265h19.09v2.3h-19.09zM399.81 265h19.09v2.3h-19.09zM363.04 267h19.09v2.3h-19.09zM399.81 267h19.09v2.3h-19.09zM363.04 271h19.09v2.3h-19.09zM399.81 271h19.09v2.3h-19.09zM363.04 273h19.09v2.3h-19.09zM399.81 273h19.09v2.3h-19.09zM344.65 277h19.09v2.3h-19.09zM399.81 279h19.09v2.3h-19.09zM363.04 281h19.09v2.3h-19.09zM344.65 287h19.09v2.3h-19.09zM381.43 293h19.09v2.3h-19.09zM528.52 293h19.09v2.3h-19.09zM399.81 295h19.09v2.3h-19.09zM399.81 301h19.09v2.3h-19.09zM160.78 303h19.09v2.3h-19.09zM344.65 303h19.09v2.3h-19.09zM344.65 305h19.09v2.3h-19.09zM381.43 305h19.09v2.3h-19.09zM528.52 305h19.09v2.3h-19.09zM344.65 307h19.09v2.3h-19.09zM528.52 307h19.09v2.3h-19.09zM344.65 309h19.09v2.3h-19.09zM381.43 309h19.09v2.3h-19.09zM344.65 317h19.09v2.3h-19.09zM381.43 317h19.09v2.3h-19.09zM528.52 317h19.09v2.3h-19.09zM344.65 319h19.09v2.3h-19.09zM528.52 323h19.09v2.3h-19.09zM344.65 325h19.09v2.3h-19.09zM528.52 325h19.09v2.3h-19.09zM344.65 327h19.09v2.3h-19.09zM344.65 331h19.09v2.3h-19.09zM381.43 333h19.09v2.3h-19.09zM528.52 339h19.09v2.3h-19.09zM344.65 341h19.09v2.3h-19.09zM344.65 343h19.09v2.3h-19.09zM381.43 345h19.09v2.3h-19.09zM381.43 347h19.09v2.3h-19.09zM528.52 347h19.09v2.3h-19.09zM344.65 349h19.09v2.3h-19.09zM363.04 351h19.09v2.3h-19.09zM381.43 357h19.09v2.3h-19.09zM528.52 357h19.09v2.3h-19.09zM381.43 359h19.09v2.3h-19.09zM528.52 359h19.09v2.3h-19.09zM344.65 361h19.09v2.3h-19.09zM528.52 361h19.09v2.3h-19.09zM344.65 363h19.09v2.3h-19.09zM344.65 365h19.09v2.3h-19.09zM528.52 365h19.09v2.3h-19.09zM381.43 369h19.09v2.3h-19.09zM528.52 369h19.09v2.3h-19.09zM381.43 371h19.09v2.3h-19.09zM528.52 373h19.09v2.3h-19.09zM344.65 375h19.09v2.3h-19.09zM381.43 375h19.09v2.3h-19.09zM344.65 377h19.09v2.3h-19.09zM381.43 379h19.09v2.3h-19.09zM528.52 379h19.09v2.3h-19.09zM436.59 381h19.09v2.3h-19.09zM528.52 381h19.09v2.3h-19.09zM528.52 387h19.09v2.3h-19.09zM344.65 391h19.09v2.3h-19.09zM344.65 393h19.09v2.3h-19.09zM381.43 397h19.09v2.3h-19.09zM528.52 397h19.09v2.3h-19.09zM381.43 403h19.09v2.3h-19.09zM528.52 405h19.09v2.3h-19.09zM363.04 407h19.09v2.3h-19.09zM381.43 407h19.09v2.3h-19.09zM344.65 409h19.09v2.3h-19.09zM344.65 413h19.09v2.3h-19.09zM381.43 419h19.09v2.3h-19.09zM399.81 423h19.09v2.3h-19.09zM381.43 425h19.09v2.3h-19.09zM344.65 427h19.09v2.3h-19.09zM381.43 429h19.09v2.3h-19.09zM381.43 431h19.09v2.3h-19.09zM528.52 431h19.09v2.3h-19.09zM399.81 433h19.09v2.3h-19.09zM344.65 435h19.09v2.3h-19.09zM381.43 435h19.09v2.3h-19.09zM344.65 437h19.09v2.3h-19.09zM528.52 437h19.09v2.3h-19.09zM528.52 439h19.09v2.3h-19.09zM344.65 441h19.09v2.3h-19.09zM528.52 441h19.09v2.3h-19.09zM363.04 443h19.09v2.3h-19.09zM381.43 443h19.09v2.3h-19.09zM381.43 445h19.09v2.3h-19.09zM344.65 453h19.09v2.3h-19.09zM344.65 455h19.09v2.3h-19.09zM381.43 457h19.09v2.3h-19.09zM326.26 459h19.09v2.3h-19.09zM381.43 459h19.09v2.3h-19.09zM344.65 461h19.09v2.3h-19.09zM528.52 461h19.09v2.3h-19.09zM344.65 463h19.09v2.3h-19.09zM528.52 463h19.09v2.3h-19.09zM381.43 465h19.09v2.3h-19.09zM344.65 469h19.09v2.3h-19.09zM344.65 471h19.09v2.3h-19.09zM399.81 471h19.09v2.3h-19.09zM381.43 475h19.09v2.3h-19.09zM491.75 477h19.09v2.3h-19.09zM381.43 479h19.09v2.3h-19.09zM215.94 481h19.09v2.3h-19.09zM344.65 481h19.09v2.3h-19.09zM381.43 481h19.09v2.3h-19.09zM344.65 483h19.09v2.3h-19.09zM344.65 487h19.09v2.3h-19.09zM381.43 487h19.09v2.3h-19.09zM344.65 489h19.09v2.3h-19.09zM528.52 491h19.09v2.3h-19.09zM381.43 493h19.09v2.3h-19.09zM528.52 493h19.09v2.3h-19.09zM381.43 495h19.09v2.3h-19.09zM528.52 495h19.09v2.3h-19.09zM381.43 497h19.09v2.3h-19.09zM381.43 499h19.09v2.3h-19.09zM344.65 501h19.09v2.3h-19.09zM344.65 503h19.09v2.3h-19.09zM381.43 503h19.09v2.3h-19.09zM344.65 509h19.09v2.3h-19.09zM381.43 511h19.09v2.3h-19.09zM399.81 513h19.09v2.3h-19.09zM528.52 513h19.09v2.3h-19.09zM344.65 515h19.09v2.3h-19.09zM381.43 515h19.09v2.3h-19.09zM528.52 515h19.09v2.3h-19.09zM363.04 517h19.09v2.3h-19.09zM381.43 521h19.09v2.3h-19.09zM436.59 523h19.09v2.3h-19.09zM344.65 525h19.09v2.3h-19.09zM344.65 529h19.09v2.3h-19.09zM363.04 531h19.09v2.3h-19.09zM399.81 531h19.09v2.3h-19.09zM344.65 535h19.09v2.3h-19.09zM381.43 535h19.09v2.3h-19.09zM381.43 539h19.09v1.3h-19.09zM528.52 542h19.09v2.3h-19.09zM491.75 544h19.09v2.3h-19.09zM252.71 546h19.09v2.3h-19.09zM510.14 546h19.09v2.3h-19.09zM252.71 548h19.09v2.3h-19.09zM510.14 548h19.09v2.3h-19.09zM234.32 550h19.09v2.3h-19.09zM252.71 550h19.09v2.3h-19.09zM510.14 552h19.09v2.3h-19.09zM546.91 552h19.09v2.3h-19.09zM234.32 554h19.09v2.3h-19.09zM252.71 556h19.09v2.3h-19.09zM234.32 558h19.09v2.3h-19.09zM252.71 558h19.09v2.3h-19.09zM454.97 558h19.09v2.3h-19.09zM491.75 558h19.09v2.3h-19.09zM252.71 560h19.09v2.3h-19.09zM454.97 560h19.09v2.3h-19.09zM473.36 560h19.09v2.3h-19.09zM491.75 560h19.09v2.3h-19.09zM546.91 560h19.09v2.3h-19.09zM528.52 562h19.09v2.3h-19.09zM234.32 564h19.09v2.3h-19.09zM528.52 564h19.09v2.3h-19.09zM510.14 568h19.09v2.3h-19.09zM528.52 568h19.09v2.3h-19.09zM252.71 572h19.09v2.3h-19.09zM454.97 572h19.09v2.3h-19.09zM473.36 572h19.09v2.3h-19.09zM491.75 572h19.09v2.3h-19.09zM528.52 574h19.09v2.3h-19.09zM326.26 576h19.09v2.3h-19.09zM510.14 576h19.09v2.3h-19.09zM528.52 576h19.09v2.3h-19.09zM510.14 578h19.09v2.3h-19.09zM546.91 578h19.09v2.3h-19.09zM234.32 580h19.09v2.3h-19.09zM510.14 582h19.09v2.3h-19.09zM252.71 584h19.09v2.3h-19.09zM454.97 584h19.09v2.3h-19.09zM234.32 588h19.09v2.3h-19.09zM252.71 588h19.09v2.3h-19.09zM546.91 588h19.09v2.3h-19.09zM234.32 590h19.09v2.3h-19.09zM528.52 590h19.09v2.3h-19.09zM234.32 592h19.09v2.3h-19.09zM510.14 592h19.09v2.3h-19.09zM234.32 594h19.09v2.3h-19.09zM546.91 596h19.09v2.3h-19.09zM234.32 598h19.09v2.3h-19.09zM528.52 600h19.09v2.3h-19.09zM528.52 602h19.09v2.3h-19.09zM252.71 604h19.09v2.3h-19.09zM234.32 606h19.09v2.3h-19.09zM546.91 608h19.09v2.3h-19.09zM234.32 610h19.09v2.3h-19.09zM252.71 612h19.09v2.3h-19.09zM252.71 614h19.09v2.3h-19.09zM491.75 614h19.09v2.3h-19.09zM252.71 616h19.09v2.3h-19.09zM510.14 622h19.09v2.3h-19.09zM528.52 622h19.09v2.3h-19.09zM252.71 624h19.09v2.3h-19.09zM234.32 626h19.09v2.3h-19.09zM326.26 628h19.09v1.3h-19.09z"/>
<path fill="#003000" d="M381.43 69h19.09v2.3h-19.09zM473.36 69h19.09v2.3h-19.09zM528.52 69h19.09v2.3h-19.09zM546.91 69h19.09v2.3h-19.09zM326.26 71h19.09v2.3h-19.09zM179.16 73h19.09v2.3h-19.09zM289.49 73h19.09v2.3h-19.09zM142.39 75h19.09v2.3h-19.09zM289.49 75h19.09v2.3h-19.09zM307.88 75h19.09v2.3h-19.09zM399.81 75h19.09v2.3h-19.09zM528.52 75h19.09v2.3h-19.09zM546.91 75h19.09v2.3h-19.09zM399.81 77h19.09v2.3h-19.09zM436.59 77h19.09v2.3h-19.09zM234.32 79h19.09v2.3h-19.09zM344.65 83h19.09v2.3h-19.09zM179.16 85h19.09v2.3h-19.09zM160.78 87h19.09v2.3h-19.09zM344.65 87h19.09v2.3h-19.09zM418.2 91h19.09v2.3h-19.09zM160.78 93h19.09v2.3h-19.09zM344.65 93h19.09v2.3h-19.09zM381.43 103h19.09v2.3h-19.09zM160.78 107h19.09v2.3h-19.09zM418.2 107h19.09v2.3h-19.09zM381.43 111h19.09v2.3h-19.09zM528.52 111h19.09v2.3h-19.09zM179.16 113h19.09v2.3h-19.09zM307.88 113h19.09v2.3h-19.09zM399.81 115h19.09v2.3h-19.09zM363.04 119h19.09v2.3h-19.09zM454.97 119h19.09v2.3h-19.09zM142.39 121h19.09v2.3h-19.09zM160.78 121h19.09v2.3h-19.09zM399.81 125h19.09v2.3h-19.09zM363.04 129h19.09v2.3h-19.09zM363.04 131h19.09v2.3h-19.09zM399.81 131h19.09v2.3h-19.09zM363.04 137h19.09v2.3h-19.09zM399.81 139h19.09v2.3h-19.09zM363.04 141h19.09v2.3h-19.09zM399.81 141h19.09v2.3h-19.09zM399.81 157h19.09v2.3h-19.09zM363.04 161h19.09v2.3h-19.09zM363.04 173h19.09v2.3h-19.09zM363.04 175h19.09v2.3h-19.09zM363.04 185h19.09v2.3h-19.09zM160.78 187h19.09v2.3h-19.09zM363.04 187h19.09v2.3h-19.09zM160.78 189h19.09v2.3h-19.09zM363.04 211h19.09v2.3h-19.09zM363.04 231h19.09v2.3h-19.09zM234.32 241h19.09v2.3h-19.09zM363.04 251h19.09v2.3h-19.09zM363.04 253h19.09v2.3h-19.09zM399.81 257h19.09v2.3h-19.09zM363.04 259h19.09v2.3h-19.09zM363.04 277h19.09v2.3h-19.09zM307.88 285h19.09v2.3h-19.09zM399.81 297h19.09v2.3h-19.09zM399.81 299h19.09v2.3h-19.09zM363.04 307h19.09v2.3h-19.09zM363.04 317h19.09v2.3h-19.09zM363.04 319h19.09v2.3h-19.09zM363.04 323h19.09v2.3h-19.09zM399.81 327h19.09v2.3h-19.09zM363.04 329h19.09v2.3h-19.09zM142.39 335h19.09v2.3h-19.09zM344.65 335h19.09v2.3h-19.09zM344.65 347h19.09v2.3h-19.09zM399.81 347h19.09v2.3h-19.09zM252.71 349h19.09v2.3h-19.09zM363.04 353h19.09v2.3h-19.09zM363.04 357h19.09v2.3h-19.09zM363.04 359h19.09v2.3h-19.09zM399.81 359h19.09v2.3h-19.09zM399.81 361h19.09v2.3h-19.09zM363.04 363h19.09v2.3h-19.09zM399.81 365h19.09v2.3h-19.09zM399.81 371h19.09v2.3h-19.09zM363.04 375h19.09v2.3h-19.09zM399.81 375h19.09v2.3h-19.09zM252.71 377h19.09v2.3h-19.09zM363.04 377h19.09v2.3h-19.09zM399.81 379h19.09v2.3h-19.09zM363.04 381h19.09v2.3h-19.09zM399.81 381h19.09v2.3h-19.09zM399.81 387h19.09v2.3h-19.09zM363.04 389h19.09v2.3h-19.09zM307.88 391h19.09v2.3h-19.09zM363.04 393h19.09v2.3h-19.09zM399.81 397h19.09v2.3h-19.09zM363.04 399h19.09v2.3h-19.09zM363.04 405h19.09v2.3h-19.09zM363.04 411h19.09v2.3h-19.09zM363.04 413h19.09v2.3h-19.09zM399.81 413h19.09v2.3h-19.09zM344.65 415h19.09v2.3h-19.09zM363.04 415h19.09v2.3h-19.09zM399.81 415h19.09v2.3h-19.09zM363.04 419h19.09v2.3h-19.09zM363.04 421h19.09v2.3h-19.09zM399.81 425h19.09v2.3h-19.09zM528.52 425h19.09v2.3h-19.09zM363.04 429h19.09v2.3h-19.09zM363.04 437h19.09v2.3h-19.09zM399.81 437h19.09v2.3h-19.09zM363.04 445h19.09v2.3h-19.09zM399.81 445h19.09v2.3h-19.09zM528.52 445h19.09v2.3h-19.09zM399.81 447h19.09v2.3h-19.09zM344.65 449h19.09v2.3h-19.09zM399.81 449h19.09v2.3h-19.09zM363.04 453h19.09v2.3h-19.09zM363.04 455h19.09v2.3h-19.09zM399.81 457h19.09v2.3h-19.09zM528.52 457h19.09v2.3h-19.09zM399.81 461h19.09v2.3h-19.09zM363.04 463h19.09v2.3h-19.09zM399.81 465h19.09v2.3h-19.09zM363.04 467h19.09v2.3h-19.09zM252.71 471h19.09v2.3h-19.09zM252.71 473h19.09v2.3h-19.09zM528.52 475h19.09v2.3h-19.09zM363.04 481h19.09v2.3h-19.09zM399.81 485h19.09v2.3h-19.09zM528.52 485h19.09v2.3h-19.09zM307.88 487h19.09v2.3h-19.09zM363.04 487h19.09v2.3h-19.09zM363.04 489h19.09v2.3h-19.09zM399.81 489h19.09v2.3h-19.09zM399.81 493h19.09v2.3h-19.09zM399.81 495h19.09v2.3h-19.09zM528.52 497h19.09v2.3h-19.09zM363.04 499h19.09v2.3h-19.09zM399.81 499h19.09v2.3h-19.09zM528.52 503h19.09v2.3h-19.09zM528.52 505h19.09v2.3h-19.09zM363.04 509h19.09v2.3h-19.09zM399.81 509h19.09v2.3h-19.09zM252.71 511h19.09v2.3h-19.09zM363.04 511h19.09v2.3h-19.09zM399.81 517h19.09v2.3h-19.09zM363.04 519h19.09v2.3h-19.09zM399.81 521h19.09v2.3h-19.09zM363.04 523h19.09v2.3h-19.09zM363.04 527h19.09v2.3h-19.09zM399.81 527h19.09v2.3h-19.09zM528.52 529h19.09v2.3h-19.09zM271.1 537h19.09v2.3h-19.09zM363.04 537h19.09v2.3h-19.09zM399.81 537h19.09v2.3h-19.09zM271.1 542h19.09v2.3h-19.09zM528.52 544h19.09v2.3h-19.09zM271.1 546h19.09v2.3h-19.09zM326.26 550h19.09v2.3h-19.09zM271.1 552h19.09v2.3h-19.09zM326.26 556h19.09v2.3h-19.09zM510.14 556h19.09v2.3h-19.09zM271.1 558h19.09v2.3h-19.09zM510.14 560h19.09v2.3h-19.09zM510.14 562h19.09v2.3h-19.09zM326.26 564h19.09v2.3h-19.09zM326.26 568h19.09v2.3h-19.09zM326.26 570h19.09v2.3h-19.09zM510.14 570h19.09v2.3h-19.09zM528.52 572h19.09v2.3h-19.09zM326.26 578h19.09v2.3h-19.09zM326.26 582h19.09v2.3h-19.09zM271.1 584h19.09v2.3h-19.09zM510.14 586h19.09v2.3h-19.09zM271.1 588h19.09v2.3h-19.09zM307.88 592h19.09v2.3h-19.09zM271.1 594h19.09v2.3h-19.09zM510.14 594h19.09v2.3h-19.09zM528.52 594h19.09v2.3h-19.09zM234.32 596h19.09v2.3h-19.09zM234.32 604h19.09v2.3h-19.09zM528.52 606h19.09v2.3h-19.09zM326.26 608h19.09v2.3h-19.09zM510.14 610h19.09v2.3h-19.09zM528.52 612h19.09v2.3h-19.09zM326.26 614h19.09v2.3h-19.09zM234.32 616h19.09v2.3h-19.09zM326.26 616h19.09v2.3h-19.09zM510.14 616h19.09v2.3h-19.09zM234.32 620h19.09v2.3h-19.09zM510.14 620h19.09v2.3h-19.09zM326.26 622h19.09v2.3h-19.09zM234.32 624h19.09v2.3h-19.09zM271.1 624h19.09v2.3h-19.09zM326.26 624h19.09v2.3h-19.09zM271.1 626h19.09v2.3h-19.09zM510.14 626h19.09v2.3h-19.09z"/>
<path fill="#0c0000" d="M399.81 69h19.09v2.3h-19.09zM454.97 69h19.09v2.3h-19.09zM142.39 73h19.09v2.3h-19.09zM160.78 77h19.09v2.3h-19.09zM454.97 77h19.09v2.3h-19.09zM528.52 77h19.09v2.3h-19.09zM179.16 79h19.09v2.3h-19.09zM473.36 83h19.09v2.3h-19.09zM546.91 87h19.09v2.3h-19.09zM399.81 89h19.09v2.3h-19.09zM124 91h19.09v2.3h-19.09zM344.65 91h19.09v2.3h-19.09zM363.04 91h19.09v2.3h-19.09zM179.16 93h19.09v2.3h-19.09zM271.1 93h19.09v2.3h-19.09zM399.81 93h19.09v2.3h-19.09zM289.49 95h19.09v2.3h-19.09zM418.2 95h19.09v2.3h-19.09zM142.39 97h19.09v2.3h-19.09zM363.04 99h19.09v2.3h-19.09zM252.71 101h19.09v2.3h-19.09zM418.2 101h19.09v2.3h-19.09zM436.59 101h19.09v2.3h-19.09zM252.71 103h19.09v2.3h-19.09zM271.1 103h19.09v2.3h-19.09zM289.49 105h19.09v2.3h-19.09zM454.97 105h19.09v2.3h-19.09zM399.81 107h19.09v2.3h-19.09zM510.14 109h19.09v2.3h-19.09zM546.91 109h19.09v2.3h-19.09zM142.39 113h19.09v2.3h-19.09zM436.59 115h19.09v2.3h-19.09zM142.39 117h19.09v2.3h-19.09zM510.14 117h19.09v2.3h-19.09zM234.32 121h19.09v2.3h-19.09zM124 123h19.09v2.3h-19.09zM289.49 123h19.09v2.3h-19.09zM418.2 123h19.09v2.3h-19.09zM546.91 123h19.09v2.3h-19.09zM252.71 125h19.09v2.3h-19.09zM271.1 127h19.09v2.3h-19.09zM326.26 129h19.09v2.3h-19.09zM326.26 131h19.09v2.3h-19.09zM326.26 135h19.09v2.3h-19.09zM252.71 139h19.09v2.3h-19.09zM326.26 141h19.09v2.3h-19.09zM326.26 143h19.09v2.3h-19.09zM271.1 145h19.09v2.3h-19.09zM326.26 147h19.09v2.3h-19.09zM252.71 149h19.09v2.3h-19.09zM271.1 149h19.09v2.3h-19.09zM326.26 149h19.09v2.3h-19.09zM326.26 159h19.09v2.3h-19.09zM252.71 161h19.09v2.3h-19.09zM252.71 163h19.09v2.3h-19.09zM271.1 165h19.09v2.3h-19.09zM271.1 171h19.09v2.3h-19.09zM271.1 173h19.09v2.3h-19.09zM326.26 173h19.09v2.3h-19.09zM271.1 175h19.09v2.3h-19.09zM436.59 175h19.09v2.3h-19.09zM271.1 185h19.09v2.3h-19.09zM271.1 189h19.09v2.3h-19.09zM326.26 189h19.09v2.3h-19.09zM271.1 191h19.09v2.3h-19.09zM252.71 193h19.09v2.3h-19.09zM271.1 195h19.09v2.3h-19.09zM326.26 195h19.09v2.3h-19.09zM252.71 197h19.09v2.3h-19.09zM271.1 197h19.09v2.3h-19.09zM271.1 201h19.09v2.3h-19.09zM271.1 203h19.09v2.3h-19.09zM326.26 203h19.09v2.3h-19.09zM271.1 207h19.09v2.3h-19.09zM271.1 211h19.09v2.3h-19.09zM326.26 213h19.09v2.3h-19.09zM271.1 217h19.09v2.3h-19.09zM326.26 217h19.09v2.3h-19.09zM271.1 219h19.09v2.3h-19.09zM271.1 223h19.09v2.3h-19.09zM271.1 225h19.09v2.3h-19.09zM252.71 229h19.09v2.3h-19.09zM271.1 229h19.09v2.3h-19.09zM252.71 231h19.09v2.3h-19.09zM326.26 231h19.09v2.3h-19.09zM326.26 237h19.09v2.3h-19.09zM252.71 239h19.09v2.3h-19.09zM252.71 241h19.09v2.3h-19.09zM271.1 243h19.09v2.3h-19.09zM326.26 245h19.09v2.3h-19.09zM271.1 247h19.09v2.3h-19.09zM326.26 247h19.09v2.3h-19.09zM252.71 255h19.09v2.3h-19.09zM252.71 257h19.09v2.3h-19.09zM271.1 259h19.09v2.3h-19.09zM326.26 259h19.09v2.3h-19.09zM271.1 261h19.09v2.3h-19.09zM271.1 263h19.09v2.3h-19.09zM326.26 263h19.09v2.3h-19.09zM271.1 269h19.09v2.3h-19.09zM326.26 269h19.09v2.3h-19.09zM271.1 271h19.09v2.3h-19.09zM271.1 273h19.09v2.3h-19.09zM326.26 275h19.09v2.3h-19.09zM271.1 279h19.09v2.3h-19.09zM326.26 281h19.09v2.3h-19.09zM326.26 289h19.09v2.3h-19.09zM252.71 293h19.09v2.3h-19.09zM271.1 293h19.09v2.3h-19.09zM271.1 295h19.09v2.3h-19.09zM271.1 301h19.09v2.3h-19.09zM271.1 303h19.09v2.3h-19.09zM326.26 309h19.09v2.3h-19.09zM326.26 311h19.09v2.3h-19.09zM252.71 315h19.09v2.3h-19.09zM271.1 315h19.09v2.3h-19.09zM271.1 319h19.09v2.3h-19.09zM271.1 327h19.09v2.3h-19.09zM271.1 331h19.09v2.3h-19.09zM326.26 331h19.09v2.3h-19.09zM326.26 333h19.09v2.3h-19.09zM436.59 335h19.09v2.3h-19.09zM326.26 339h19.09v2.3h-19.09zM326.26 343h19.09v2.3h-19.09zM418.2 347h19.09v2.3h-19.09zM436.59 349h19.09v2.3h-19.09zM271.1 351h19.09v2.3h-19.09zM326.26 353h19.09v2.3h-19.09zM326.26 357h19.09v2.3h-19.09zM326.26 361h19.09v2.3h-19.09zM271.1 371h19.09v2.3h-19.09zM271.1 373h19.09v2.3h-19.09zM271.1 375h19.09v2.3h-19.09zM271.1 377h19.09v2.3h-19.09zM271.1 379h19.09v2.3h-19.09zM326.26 379h19.09v2.3h-19.09zM252.71 385h19.09v2.3h-19.09zM326.26 385h19.09v2.3h-19.09zM326.26 387h19.09v2.3h-19.09zM326.26 391h19.09v2.3h-19.09zM326.26 395h19.09v2.3h-19.09zM326.26 399h19.09v2.3h-19.09zM252.71 401h19.09v2.3h-19.09zM271.1 401h19.09v2.3h-19.09zM326.26 401h19.09v2.3h-19.09zM271.1 403h19.09v2.3h-19.09zM326.26 405h19.09v2.3h-19.09zM326.26 407h19.09v2.3h-19.09zM326.26 411h19.09v2.3h-19.09zM215.94 415h19.09v2.3h-19.09zM271.1 415h19.09v2.3h-19.09zM326.26 421h19.09v2.3h-19.09zM215.94 425h19.09v2.3h-19.09zM326.26 425h19.09v2.3h-19.09zM418.2 425h19.09v2.3h-19.09zM436.59 425h19.09v2.3h-19.09zM271.1 427h19.09v2.3h-19.09zM326.26 427h19.09v2.3h-19.09zM326.26 429h19.09v2.3h-19.09zM215.94 431h19.09v2.3h-19.09zM271.1 431h19.09v2.3h-19.09zM215.94 441h19.09v2.3h-19.09zM271.1 441h19.09v2.3h-19.09zM271.1 447h19.09v2.3h-19.09zM326.26 447h19.09v2.3h-19.09zM215.94 449h19.09v2.3h-19.09zM271.1 449h19.09v2.3h-19.09zM326.26 449h19.09v2.3h-19.09zM271.1 459h19.09v2.3h-19.09zM271.1 461h19.09v2.3h-19.09zM326.26 461h19.09v2.3h-19.09zM271.1 465h19.09v2.3h-19.09zM326.26 469h19.09v2.3h-19.09zM326.26 471h19.09v2.3h-19.09zM215.94 475h19.09v2.3h-19.09zM326.26 475h19.09v2.3h-19.09zM215.94 479h19.09v2.3h-19.09zM326.26 479h19.09v2.3h-19.09zM326.26 483h19.09v2.3h-19.09zM215.94 485h19.09v2.3h-19.09zM271.1 487h19.09v2.3h-19.09zM326.26 489h19.09v2.3h-19.09zM326.26 497h19.09v2.3h-19.09zM326.26 501h19.09v2.3h-19.09zM326.26 503h19.09v2.3h-19.09zM252.71 515h19.09v2.3h-19.09zM271.1 515h19.09v2.3h-19.09zM326.26 521h19.09v2.3h-19.09zM326.26 527h19.09v2.3h-19.09zM326.26 529h19.09v2.3h-19.09zM326.26 533h19.09v2.3h-19.09zM252.71 535h19.09v2.3h-19.09zM326.26 535h19.09v2.3h-19.09zM326.26 537h19.09v2.3h-19.09zM418.2 537h19.09v2.3h-19.09zM326.26 539h19.09v1.3h-19.09zM344.65 542h19.09v2.3h-19.09zM142.39 558h19.09v2.3h-19.09zM381.43 558h19.09v2.3h-19.09zM215.94 560h19.09v2.3h-19.09zM289.49 560h19.09v2.3h-19.09zM307.88 560h19.09v2.3h-19.09zM436.59 560h19.09v2.3h-19.09zM363.04 562h19.09v2.3h-19.09zM142.39 566h19.09v2.3h-19.09zM142.39 570h19.09v2.3h-19.09zM307.88 570h19.09v2.3h-19.09zM381.43 570h19.09v2.3h-19.09zM289.49 572h19.09v2.3h-19.09zM344.65 572h19.09v2.3h-19.09zM436.59 572h19.09v2.3h-19.09zM307.88 576h19.09v2.3h-19.09zM381.43 576h19.09v2.3h-19.09zM124 586h19.09v2.3h-19.09zM289.49 588h19.09v2.3h-19.09zM381.43 588h19.09v2.3h-19.09zM289.49 594h19.09v2.3h-19.09zM436.59 594h19.09v2.3h-19.09zM307.88 598h19.09v2.3h-19.09zM381.43 600h19.09v2.3h-19.09zM307.88 602h19.09v2.3h-19.09zM289.49 604h19.09v2.3h-19.09zM307.88 604h19.09v2.3h-19.09zM381.43 606h19.09v2.3h-19.09zM381.43 608h19.09v2.3h-19.09zM436.59 608h19.09v2.3h-19.09zM289.49 610h19.09v2.3h-19.09zM436.59 612h19.09v2.3h-19.09zM289.49 614h19.09v2.3h-19.09zM381.43 614h19.09v2.3h-19.09zM289.49 616h19.09v2.3h-19.09zM289.49 618h19.09v2.3h-19.09zM344.65 620h19.09v2.3h-19.09zM381.43 620h19.09v2.3h-19.09zM307.88 624h19.09v2.3h-19.09zM363.04 624h19.09v2.3h-19.09z"/>
<path fill="#003c00" d="M436.59 69h19.09v2.3h-19.09zM436.59 73h19.09v2.3h-19.09zM510.14 73h19.09v2.3h-19.09zM197.55 75h19.09v2.3h-19.09zM215.94 77h19.09v2.3h-19.09zM344.65 77h19.09v2.3h-19.09zM546.91 77h19.09v2.3h-19.09zM363.04 79h19.09v2.3h-19.09zM399.81 81h19.09v2.3h-19.09zM271.1 85h19.09v2.3h-19.09zM399.81 87h19.09v2.3h-19.09zM473.36 89h19.09v2.3h-19.09zM142.39 91h19.09v2.3h-19.09zM271.1 91h19.09v2.3h-19.09zM124 93h19.09v2.3h-19.09zM289.49 93h19.09v2.3h-19.09zM473.36 93h19.09v2.3h-19.09zM160.78 95h19.09v2.3h-19.09zM326.26 97h19.09v2.3h-19.09zM381.43 101h19.09v2.3h-19.09zM197.55 103h19.09v2.3h-19.09zM234.32 105h19.09v2.3h-19.09zM326.26 107h19.09v2.3h-19.09zM160.78 109h19.09v2.3h-19.09zM252.71 109h19.09v2.3h-19.09zM307.88 109h19.09v2.3h-19.09zM510.14 111h19.09v2.3h-19.09zM179.16 115h19.09v2.3h-19.09zM234.32 117h19.09v2.3h-19.09zM473.36 117h19.09v2.3h-19.09zM179.16 119h19.09v2.3h-19.09zM344.65 119h19.09v2.3h-19.09zM491.75 119h19.09v2.3h-19.09zM344.65 121h19.09v2.3h-19.09zM491.75 123h19.09v2.3h-19.09zM363.04 133h19.09v2.3h-19.09zM399.81 135h19.09v2.3h-19.09zM363.04 147h19.09v2.3h-19.09zM363.04 151h19.09v2.3h-19.09zM363.04 153h19.09v2.3h-19.09zM363.04 155h19.09v2.3h-19.09zM399.81 155h19.09v2.3h-19.09zM363.04 157h19.09v2.3h-19.09zM399.81 161h19.09v2.3h-19.09zM363.04 163h19.09v2.3h-19.09zM363.04 165h19.09v2.3h-19.09zM363.04 167h19.09v2.3h-19.09zM363.04 169h19.09v2.3h-19.09zM399.81 169h19.09v2.3h-19.09zM363.04 177h19.09v2.3h-19.09zM363.04 179h19.09v2.3h-19.09zM363.04 183h19.09v2.3h-19.09zM363.04 189h19.09v2.3h-19.09zM363.04 191h19.09v2.3h-19.09zM399.81 191h19.09v2.3h-19.09zM399.81 195h19.09v2.3h-19.09zM363.04 199h19.09v2.3h-19.09zM399.81 199h19.09v2.3h-19.09zM363.04 201h19.09v2.3h-19.09zM399.81 201h19.09v2.3h-19.09zM197.55 207h19.09v2.3h-19.09zM399.81 215h19.09v2.3h-19.09zM418.2 215h19.09v2.3h-19.09zM399.81 217h19.09v2.3h-19.09zM363.04 219h19.09v2.3h-19.09zM363.04 221h19.09v2.3h-19.09zM363.04 223h19.09v2.3h-19.09zM399.81 223h19.09v2.3h-19.09zM363.04 227h19.09v2.3h-19.09zM399.81 231h19.09v2.3h-19.09zM363.04 235h19.09v2.3h-19.09zM399.81 237h19.09v2.3h-19.09zM363.04 243h19.09v2.3h-19.09zM399.81 243h19.09v2.3h-19.09zM399.81 247h19.09v2.3h-19.09zM363.04 249h19.09v2.3h-19.09zM234.32 255h19.09v2.3h-19.09zM363.04 255h19.09v2.3h-19.09zM399.81 259h19.09v2.3h-19.09zM363.04 269h19.09v2.3h-19.09zM399.81 269h19.09v2.3h-19.09zM363.04 275h19.09v2.3h-19.09zM363.04 283h19.09v2.3h-19.09zM399.81 283h19.09v2.3h-19.09zM363.04 293h19.09v2.3h-19.09zM399.81 293h19.09v2.3h-19.09zM363.04 297h19.09v2.3h-19.09zM363.04 299h19.09v2.3h-19.09zM363.04 301h19.09v2.3h-19.09zM363.04 303h19.09v2.3h-19.09zM399.81 307h19.09v2.3h-19.09zM363.04 311h19.09v2.3h-19.09zM363.04 315h19.09v2.3h-19.09zM399.81 317h19.09v2.3h-19.09zM399.81 319h19.09v2.3h-19.09zM399.81 321h19.09v2.3h-19.09zM399.81 323h19.09v2.3h-19.09zM363.04 325h19.09v2.3h-19.09zM399.81 325h19.09v2.3h-19.09zM399.81 329h19.09v2.3h-19.09zM363.04 331h19.09v2.3h-19.09zM399.81 331h19.09v2.3h-19.09zM381.43 335h19.09v2.3h-19.09zM363.04 337h19.09v2.3h-19.09zM399.81 337h19.09v2.3h-19.09zM363.04 339h19.09v2.3h-19.09zM363.04 341h19.09v2.3h-19.09zM363.04 343h19.09v2.3h-19.09zM399.81 343h19.09v2.3h-19.09zM399.81 345h19.09v2.3h-19.09zM399.81 353h19.09v2.3h-19.09zM399.81 357h19.09v2.3h-19.09zM344.65 359h19.09v2.3h-19.09zM399.81 363h19.09v2.3h-19.09zM528.52 363h19.09v2.3h-19.09zM363.04 365h19.09v2.3h-19.09zM363.04 367h19.09v2.3h-19.09zM399.81 369h19.09v2.3h-19.09zM344.65 371h19.09v2.3h-19.09zM399.81 373h19.09v2.3h-19.09zM399.81 377h19.09v2.3h-19.09zM326.26 381h19.09v2.3h-19.09zM399.81 383h19.09v2.3h-19.09zM363.04 385h19.09v2.3h-19.09zM399.81 385h19.09v2.3h-19.09zM344.65 389h19.09v2.3h-19.09zM399.81 391h19.09v2.3h-19.09zM399.81 393h19.09v2.3h-19.09zM399.81 395h19.09v2.3h-19.09zM399.81 399h19.09v2.3h-19.09zM344.65 403h19.09v2.3h-19.09zM399.81 407h19.09v2.3h-19.09zM363.04 409h19.09v2.3h-19.09zM344.65 411h19.09v2.3h-19.09zM399.81 411h19.09v2.3h-19.09zM363.04 417h19.09v2.3h-19.09zM399.81 417h19.09v2.3h-19.09zM344.65 419h19.09v2.3h-19.09zM399.81 419h19.09v2.3h-19.09zM399.81 421h19.09v2.3h-19.09zM528.52 429h19.09v2.3h-19.09zM344.65 431h19.09v2.3h-19.09zM528.52 435h19.09v2.3h-19.09zM363.04 439h19.09v2.3h-19.09zM363.04 441h19.09v2.3h-19.09zM399.81 441h19.09v2.3h-19.09zM344.65 445h19.09v2.3h-19.09zM363.04 447h19.09v2.3h-19.09zM399.81 451h19.09v2.3h-19.09zM528.52 451h19.09v2.3h-19.09zM399.81 453h19.09v2.3h-19.09zM528.52 453h19.09v2.3h-19.09zM344.65 457h19.09v2.3h-19.09zM399.81 459h19.09v2.3h-19.09zM363.04 461h19.09v2.3h-19.09zM326.26 463h19.09v2.3h-19.09zM399.81 463h19.09v2.3h-19.09zM344.65 465h19.09v2.3h-19.09zM363.04 469h19.09v2.3h-19.09zM399.81 469h19.09v2.3h-19.09zM363.04 471h19.09v2.3h-19.09zM528.52 471h19.09v2.3h-19.09zM363.04 473h19.09v2.3h-19.09zM344.65 475h19.09v2.3h-19.09zM344.65 477h19.09v2.3h-19.09zM381.43 477h19.09v2.3h-19.09zM528.52 479h19.09v2.3h-19.09zM528.52 481h19.09v2.3h-19.09zM363.04 483h19.09v2.3h-19.09zM399.81 483h19.09v2.3h-19.09zM399.81 487h19.09v2.3h-19.09zM528.52 487h19.09v2.3h-19.09zM528.52 489h19.09v2.3h-19.09zM344.65 491h19.09v2.3h-19.09zM399.81 491h19.09v2.3h-19.09zM344.65 493h19.09v2.3h-19.09zM363.04 493h19.09v2.3h-19.09zM363.04 501h19.09v2.3h-19.09zM399.81 501h19.09v2.3h-19.09zM399.81 503h19.09v2.3h-19.09zM363.04 505h19.09v2.3h-19.09zM399.81 505h19.09v2.3h-19.09zM528.52 507h19.09v2.3h-19.09zM344.65 511h19.09v2.3h-19.09zM528.52 511h19.09v2.3h-19.09zM363.04 515h19.09v2.3h-19.09zM528.52 517h19.09v2.3h-19.09zM399.81 519h19.09v2.3h-19.09zM528.52 521h19.09v2.3h-19.09zM399.81 523h19.09v2.3h-19.09zM363.04 525h19.09v2.3h-19.09zM399.81 525h19.09v2.3h-19.09zM528.52 527h19.09v2.3h-19.09zM381.43 533h19.09v2.3h-19.09zM528.52 535h19.09v2.3h-19.09zM344.65 537h19.09v2.3h-19.09zM381.43 537h19.09v2.3h-19.09zM528.52 539h19.09v1.3h-19.09zM326.26 542h19.09v2.3h-19.09zM510.14 544h19.09v2.3h-19.09zM271.1 548h19.09v2.3h-19.09zM528.52 552h19.09v2.3h-19.09zM510.14 554h19.09v2.3h-19.09zM234.32 556h19.09v2.3h-19.09zM473.36 558h19.09v2.3h-19.09zM234.32 562h19.09v2.3h-19.09zM326.26 562h19.09v2.3h-19.09zM234.32 566h19.09v2.3h-19.09zM252.71 566h19.09v2.3h-19.09zM326.26 566h19.09v2.3h-19.09zM510.14 566h19.09v2.3h-19.09zM528.52 566h19.09v2.3h-19.09zM510.14 572h19.09v2.3h-19.09zM271.1 574h19.09v2.3h-19.09zM234.32 578h19.09v2.3h-19.09zM271.1 578h19.09v2.3h-19.09zM252.71 580h19.09v2.3h-19.09zM326.26 580h19.09v2.3h-19.09zM528.52 584h19.09v2.3h-19.09zM252.71 586h19.09v2.3h-19.09zM326.26 588h19.09v2.3h-19.09zM510.14 588h19.09v2.3h-19.09zM326.26 590h19.09v2.3h-19.09zM510.14 590h19.09v2.3h-19.09zM326.26 592h19.09v2.3h-19.09zM326.26 596h19.09v2.3h-19.09zM510.14 596h19.09v2.3h-19.09zM528.52 596h19.09v2.3h-19.09zM326.26 598h19.09v2.3h-19.09zM234.32 600h19.09v2.3h-19.09zM271.1 600h19.09v2.3h-19.09zM326.26 600h19.09v2.3h-19.09zM510.14 600h19.09v2.3h-19.09zM510.14 604h19.09v2.3h-19.09zM528.52 604h19.09v2.3h-19.09zM271.1 606h19.09v2.3h-19.09zM510.14 606h19.09v2.3h-19.09zM234.32 608h19.09v2.3h-19.09zM510.14 608h19.09v2.3h-19.09zM271.1 610h19.09v2.3h-19.09zM326.26 610h19.09v2.3h-19.09zM326.26 612h19.09v2.3h-19.09zM510.14 612h19.09v2.3h-19.09zM510.14 614h19.09v2.3h-19.09zM528.52 614h19.09v2.3h-19.09zM546.91 614h19.09v2.3h-19.09zM234.32 618h19.09v2.3h-19.09zM326.26 618h19.09v2.3h-19.09zM510.14 618h19.09v2.3h-19.09zM252.71 620h19.09v2.3h-19.09zM510.14 624h19.09v2.3h-19.09zM510.14 628h19.09v1.3h-19.09zM528.52 628h19.09v1.3h-19.09z"/>
<path fill="#600000" d="M491.75 69h19.09v2.3h-19.09zM252.71 73h19.09v2.3h-19.09zM326.26 87h19.09v2.3h-19.09zM436.59 87h19.09v2.3h-19.09zM142.39 89h19.09v2.3h-19.09zM179.16 95h19.09v2.3h-19.09zM197.55 97h19.09v2.3h-19.09zM363.04 97h19.09v2.3h-19.09zM289.49 99h19.09v2.3h-19.09zM399.81 103h19.09v2.3h-19.09zM215.94 111h19.09v2.3h-19.09zM197.55 115h19.09v2.3h-19.09zM491.75 115h19.09v2.3h-19.09zM546.91 117h19.09v2.3h-19.09zM234.32 123h19.09v2.3h-19.09zM124 125h19.09v2.3h-19.09zM142.39 127h19.09v2.3h-19.09zM234.32 127h19.09v2.3h-19.09zM124 129h19.09v2.3h-19.09zM142.39 129h19.09v2.3h-19.09zM160.78 129h19.09v2.3h-19.09zM234.32 133h19.09v2.3h-19.09zM234.32 137h19.09v2.3h-19.09zM124 141h19.09v2.3h-19.09zM142.39 141h19.09v2.3h-19.09zM160.78 141h19.09v2.3h-19.09zM234.32 141h19.09v2.3h-19.09zM234.32 143h19.09v2.3h-19.09zM418.2 145h19.09v2.3h-19.09zM142.39 147h19.09v2.3h-19.09zM418.2 149h19.09v2.3h-19.09zM124 153h19.09v2.3h-19.09zM160.78 157h19.09v2.3h-19.09zM307.88 157h19.09v2.3h-19.09zM142.39 159h19.09v2.3h-19.09zM124 175h19.09v2.3h-19.09zM142.39 175h19.09v2.3h-19.09zM234.32 175h19.09v2.3h-19.09zM124 187h19.09v2.3h-19.09zM142.39 193h19.09v2.3h-19.09zM124 195h19.09v2.3h-19.09zM124 201h19.09v2.3h-19.09zM234.32 201h19.09v2.3h-19.09zM142.39 205h19.09v2.3h-19.09zM307.88 215h19.09v2.3h-19.09zM124 217h19.09v2.3h-19.09zM234.32 217h19.09v2.3h-19.09zM307.88 221h19.09v2.3h-19.09zM124 223h19.09v2.3h-19.09zM234.32 223h19.09v2.3h-19.09zM234.32 227h19.09v2.3h-19.09zM142.39 231h19.09v2.3h-19.09zM142.39 235h19.09v2.3h-19.09zM307.88 235h19.09v2.3h-19.09zM234.32 239h19.09v2.3h-19.09zM124 241h19.09v2.3h-19.09zM234.32 247h19.09v2.3h-19.09zM142.39 251h19.09v2.3h-19.09zM124 257h19.09v2.3h-19.09zM142.39 257h19.09v2.3h-19.09zM160.78 257h19.09v2.3h-19.09zM234.32 257h19.09v2.3h-19.09zM307.88 257h19.09v2.3h-19.09zM307.88 259h19.09v2.3h-19.09zM142.39 263h19.09v2.3h-19.09zM124 269h19.09v2.3h-19.09zM307.88 275h19.09v2.3h-19.09zM234.32 283h19.09v2.3h-19.09zM234.32 285h19.09v2.3h-19.09zM124 287h19.09v2.3h-19.09zM142.39 287h19.09v2.3h-19.09zM124 293h19.09v2.3h-19.09zM307.88 293h19.09v2.3h-19.09zM124 295h19.09v2.3h-19.09zM142.39 295h19.09v2.3h-19.09zM234.32 297h19.09v2.3h-19.09zM124 301h19.09v2.3h-19.09zM234.32 303h19.09v2.3h-19.09zM307.88 303h19.09v2.3h-19.09zM234.32 305h19.09v2.3h-19.09zM124 307h19.09v2.3h-19.09zM142.39 307h19.09v2.3h-19.09zM234.32 307h19.09v2.3h-19.09zM234.32 309h19.09v2.3h-19.09zM307.88 309h19.09v2.3h-19.09zM124 315h19.09v2.3h-19.09zM234.32 315h19.09v2.3h-19.09zM124 317h19.09v2.3h-19.09zM142.39 319h19.09v2.3h-19.09zM142.39 321h19.09v2.3h-19.09zM307.88 321h19.09v2.3h-19.09zM160.78 325h19.09v2.3h-19.09zM234.32 325h19.09v2.3h-19.09zM307.88 325h19.09v2.3h-19.09zM124 327h19.09v2.3h-19.09zM160.78 329h19.09v2.3h-19.09zM124 331h19.09v2.3h-19.09zM124 333h19.09v2.3h-19.09zM142.39 333h19.09v2.3h-19.09zM160.78 333h19.09v2.3h-19.09zM234.32 333h19.09v2.3h-19.09zM179.16 335h19.09v2.3h-19.09zM307.88 335h19.09v2.3h-19.09zM160.78 343h19.09v2.3h-19.09zM234.32 343h19.09v2.3h-19.09zM142.39 345h19.09v2.3h-19.09zM307.88 347h19.09v2.3h-19.09zM160.78 349h19.09v2.3h-19.09zM307.88 349h19.09v2.3h-19.09zM234.32 351h19.09v2.3h-19.09zM124 353h19.09v2.3h-19.09zM142.39 355h19.09v2.3h-19.09zM142.39 357h19.09v2.3h-19.09zM234.32 357h19.09v2.3h-19.09zM234.32 359h19.09v2.3h-19.09zM307.88 359h19.09v2.3h-19.09zM234.32 361h19.09v2.3h-19.09zM160.78 363h19.09v2.3h-19.09zM179.16 363h19.09v2.3h-19.09zM124 367h19.09v2.3h-19.09zM142.39 369h19.09v2.3h-19.09zM160.78 369h19.09v2.3h-19.09zM307.88 369h19.09v2.3h-19.09zM160.78 371h19.09v2.3h-19.09zM234.32 371h19.09v2.3h-19.09zM124 373h19.09v2.3h-19.09zM142.39 373h19.09v2.3h-19.09zM179.16 373h19.09v2.3h-19.09zM124 377h19.09v2.3h-19.09zM124 379h19.09v2.3h-19.09zM142.39 379h19.09v2.3h-19.09zM124 381h19.09v2.3h-19.09zM307.88 381h19.09v2.3h-19.09zM124 387h19.09v2.3h-19.09zM142.39 389h19.09v2.3h-19.09zM160.78 389h19.09v2.3h-19.09zM234.32 389h19.09v2.3h-19.09zM124 391h19.09v2.3h-19.09zM160.78 391h19.09v2.3h-19.09zM307.88 393h19.09v2.3h-19.09zM124 397h19.09v2.3h-19.09zM142.39 397h19.09v2.3h-19.09zM142.39 399h19.09v2.3h-19.09zM436.59 401h19.09v2.3h-19.09zM179.16 403h19.09v2.3h-19.09zM234.32 403h19.09v2.3h-19.09zM142.39 405h19.09v2.3h-19.09zM234.32 405h19.09v2.3h-19.09zM142.39 409h19.09v2.3h-19.09zM160.78 411h19.09v2.3h-19.09zM142.39 413h19.09v2.3h-19.09zM160.78 413h19.09v2.3h-19.09zM234.32 413h19.09v2.3h-19.09zM307.88 413h19.09v2.3h-19.09zM124 415h19.09v2.3h-19.09zM160.78 417h19.09v2.3h-19.09zM124 419h19.09v2.3h-19.09zM142.39 421h19.09v2.3h-19.09zM142.39 423h19.09v2.3h-19.09zM289.49 425h19.09v2.3h-19.09zM124 427h19.09v2.3h-19.09zM142.39 429h19.09v2.3h-19.09zM234.32 429h19.09v2.3h-19.09zM307.88 429h19.09v2.3h-19.09zM124 431h19.09v2.3h-19.09zM160.78 431h19.09v2.3h-19.09zM179.16 431h19.09v2.3h-19.09zM197.55 431h19.09v2.3h-19.09zM234.32 431h19.09v2.3h-19.09zM307.88 431h19.09v2.3h-19.09zM234.32 435h19.09v2.3h-19.09zM124 437h19.09v2.3h-19.09zM142.39 441h19.09v2.3h-19.09zM179.16 443h19.09v2.3h-19.09zM142.39 445h19.09v2.3h-19.09zM234.32 445h19.09v2.3h-19.09zM307.88 445h19.09v2.3h-19.09zM124 447h19.09v2.3h-19.09zM142.39 447h19.09v2.3h-19.09zM234.32 447h19.09v2.3h-19.09zM307.88 449h19.09v2.3h-19.09zM179.16 451h19.09v2.3h-19.09zM234.32 451h19.09v2.3h-19.09zM124 457h19.09v2.3h-19.09zM160.78 457h19.09v2.3h-19.09zM307.88 457h19.09v2.3h-19.09zM142.39 459h19.09v2.3h-19.09zM160.78 459h19.09v2.3h-19.09zM234.32 461h19.09v2.3h-19.09zM307.88 461h19.09v2.3h-19.09zM160.78 465h19.09v2.3h-19.09zM234.32 465h19.09v2.3h-19.09zM160.78 467h19.09v2.3h-19.09zM234.32 467h19.09v2.3h-19.09zM124 469h19.09v2.3h-19.09zM142.39 471h19.09v2.3h-19.09zM307.88 473h19.09v2.3h-19.09zM124 475h19.09v2.3h-19.09zM234.32 475h19.09v2.3h-19.09zM289.49 475h19.09v2.3h-19.09zM179.16 479h19.09v2.3h-19.09zM307.88 481h19.09v2.3h-19.09zM142.39 483h19.09v2.3h-19.09zM234.32 483h19.09v2.3h-19.09zM160.78 487h19.09v2.3h-19.09zM234.32 487h19.09v2.3h-19.09zM124 489h19.09v2.3h-19.09zM124 491h19.09v2.3h-19.09zM234.32 491h19.09v2.3h-19.09zM124 493h19.09v2.3h-19.09zM179.16 493h19.09v2.3h-19.09zM234.32 495h19.09v2.3h-19.09zM197.55 497h19.09v2.3h-19.09zM160.78 499h19.09v2.3h-19.09zM142.39 501h19.09v2.3h-19.09zM307.88 501h19.09v2.3h-19.09zM124 503h19.09v2.3h-19.09zM160.78 503h19.09v2.3h-19.09zM124 505h19.09v2.3h-19.09zM160.78 505h19.09v2.3h-19.09zM179.16 505h19.09v2.3h-19.09zM124 507h19.09v2.3h-19.09zM160.78 507h19.09v2.3h-19.09zM142.39 509h19.09v2.3h-19.09zM160.78 511h19.09v2.3h-19.09zM197.55 511h19.09v2.3h-19.09zM234.32 511h19.09v2.3h-19.09zM307.88 511h19.09v2.3h-19.09zM124 515h19.09v2.3h-19.09zM160.78 515h19.09v2.3h-19.09zM142.39 519h19.09v2.3h-19.09zM124 521h19.09v2.3h-19.09zM160.78 521h19.09v2.3h-19.09zM179.16 521h19.09v2.3h-19.09zM234.32 521h19.09v2.3h-19.09zM307.88 527h19.09v2.3h-19.09zM124 529h19.09v2.3h-19.09zM179.16 529h19.09v2.3h-19.09zM234.32 529h19.09v2.3h-19.09zM436.59 531h19.09v2.3h-19.09zM197.55 533h19.09v2.3h-19.09zM234.32 533h19.09v2.3h-19.09zM142.39 535h19.09v2.3h-19.09zM197.55 537h19.09v2.3h-19.09zM307.88 537h19.09v2.3h-19.09zM160.78 539h19.09v1.3h-19.09zM234.32 539h19.09v1.3h-19.09zM307.88 539h19.09v1.3h-19.09zM179.16 542h19.09v2.3h-19.09zM197.55 544h19.09v2.3h-19.09zM197.55 546h19.09v2.3h-19.09zM197.55 548h19.09v2.3h-19.09zM399.81 550h19.09v2.3h-19.09zM399.81 552h19.09v2.3h-19.09zM399.81 554h19.09v2.3h-19.09zM160.78 556h19.09v2.3h-19.09zM418.2 556h19.09v2.3h-19.09zM418.2 558h19.09v2.3h-19.09zM418.2 560h19.09v2.3h-19.09zM124 562h19.09v2.3h-19.09zM197.55 562h19.09v2.3h-19.09zM399.81 562h19.09v2.3h-19.09zM418.2 562h19.09v2.3h-19.09zM179.16 564h19.09v2.3h-19.09zM399.81 568h19.09v2.3h-19.09zM197.55 572h19.09v2.3h-19.09zM124 574h19.09v2.3h-19.09zM142.39 574h19.09v2.3h-19.09zM344.65 574h19.09v2.3h-19.09zM124 576h19.09v2.3h-19.09zM179.16 576h19.09v2.3h-19.09zM197.55 576h19.09v2.3h-19.09zM399.81 576h19.09v2.3h-19.09zM418.2 578h19.09v2.3h-19.09zM179.16 580h19.09v2.3h-19.09zM197.55 580h19.09v2.3h-19.09zM399.81 580h19.09v2.3h-19.09zM363.04 582h19.09v2.3h-19.09zM124 584h19.09v2.3h-19.09zM399.81 584h19.09v2.3h-19.09zM160.78 588h19.09v2.3h-19.09zM399.81 590h19.09v2.3h-19.09zM124 592h19.09v2.3h-19.09zM179.16 592h19.09v2.3h-19.09zM197.55 594h19.09v2.3h-19.09zM418.2 594h19.09v2.3h-19.09zM160.78 598h19.09v2.3h-19.09zM399.81 598h19.09v2.3h-19.09zM418.2 604h19.09v2.3h-19.09zM399.81 610h19.09v2.3h-19.09zM160.78 612h19.09v2.3h-19.09zM197.55 612h19.09v2.3h-19.09zM399.81 612h19.09v2.3h-19.09zM399.81 614h19.09v2.3h-19.09zM399.81 616h19.09v2.3h-19.09zM124 618h19.09v2.3h-19.09zM197.55 618h19.09v2.3h-19.09zM197.55 620h19.09v2.3h-19.09zM418.2 620h19.09v2.3h-19.09zM124 626h19.09v2.3h-19.09z"/>
<path fill="#004800" d="M510.14 69h19.09v2.3h-19.09zM215.94 75h19.09v2.3h-19.09zM252.71 75h19.09v2.3h-19.09zM197.55 79h19.09v2.3h-19.09zM381.43 87h19.09v2.3h-19.09zM528.52 87h19.09v2.3h-19.09zM215.94 91h19.09v2.3h-19.09zM197.55 93h19.09v2.3h-19.09zM215.94 93h19.09v2.3h-19.09zM491.75 93h19.09v2.3h-19.09zM160.78 103h19.09v2.3h-19.09zM473.36 105h19.09v2.3h-19.09zM491.75 105h19.09v2.3h-19.09zM179.16 107h19.09v2.3h-19.09zM454.97 107h19.09v2.3h-19.09zM436.59 109h19.09v2.3h-19.09zM473.36 113h19.09v2.3h-19.09zM160.78 117h19.09v2.3h-19.09zM399.81 117h19.09v2.3h-19.09zM491.75 117h19.09v2.3h-19.09zM491.75 121h19.09v2.3h-19.09zM160.78 123h19.09v2.3h-19.09zM197.55 123h19.09v2.3h-19.09zM307.88 123h19.09v2.3h-19.09zM363.04 127h19.09v2.3h-19.09zM399.81 127h19.09v2.3h-19.09zM344.65 135h19.09v2.3h-19.09zM399.81 137h19.09v2.3h-19.09zM399.81 143h19.09v2.3h-19.09zM363.04 145h19.09v2.3h-19.09zM381.43 147h19.09v2.3h-19.09zM399.81 147h19.09v2.3h-19.09zM399.81 149h19.09v2.3h-19.09zM381.43 153h19.09v2.3h-19.09zM399.81 153h19.09v2.3h-19.09zM363.04 159h19.09v2.3h-19.09zM399.81 159h19.09v2.3h-19.09zM271.1 161h19.09v2.3h-19.09zM399.81 171h19.09v2.3h-19.09zM399.81 173h19.09v2.3h-19.09zM344.65 175h19.09v2.3h-19.09zM399.81 177h19.09v2.3h-19.09zM344.65 179h19.09v2.3h-19.09zM399.81 181h19.09v2.3h-19.09zM399.81 185h19.09v2.3h-19.09zM399.81 187h19.09v2.3h-19.09zM399.81 189h19.09v2.3h-19.09zM363.04 193h19.09v2.3h-19.09zM363.04 195h19.09v2.3h-19.09zM399.81 197h19.09v2.3h-19.09zM363.04 203h19.09v2.3h-19.09zM399.81 203h19.09v2.3h-19.09zM363.04 205h19.09v2.3h-19.09zM399.81 205h19.09v2.3h-19.09zM363.04 207h19.09v2.3h-19.09zM399.81 207h19.09v2.3h-19.09zM363.04 209h19.09v2.3h-19.09zM399.81 209h19.09v2.3h-19.09zM399.81 213h19.09v2.3h-19.09zM344.65 215h19.09v2.3h-19.09zM344.65 217h19.09v2.3h-19.09zM399.81 219h19.09v2.3h-19.09zM399.81 221h19.09v2.3h-19.09zM528.52 231h19.09v2.3h-19.09zM363.04 233h19.09v2.3h-19.09zM399.81 233h19.09v2.3h-19.09zM399.81 235h19.09v2.3h-19.09zM363.04 239h19.09v2.3h-19.09zM344.65 241h19.09v2.3h-19.09zM363.04 241h19.09v2.3h-19.09zM363.04 245h19.09v2.3h-19.09zM399.81 249h19.09v2.3h-19.09zM399.81 251h19.09v2.3h-19.09zM399.81 253h19.09v2.3h-19.09zM399.81 255h19.09v2.3h-19.09zM363.04 261h19.09v2.3h-19.09zM344.65 263h19.09v2.3h-19.09zM399.81 275h19.09v2.3h-19.09zM399.81 277h19.09v2.3h-19.09zM399.81 281h19.09v2.3h-19.09zM363.04 287h19.09v2.3h-19.09zM363.04 289h19.09v2.3h-19.09zM399.81 289h19.09v2.3h-19.09zM363.04 291h19.09v2.3h-19.09zM399.81 291h19.09v2.3h-19.09zM528.52 291h19.09v2.3h-19.09zM344.65 293h19.09v2.3h-19.09zM363.04 295h19.09v2.3h-19.09zM344.65 297h19.09v2.3h-19.09zM399.81 303h19.09v2.3h-19.09zM179.16 309h19.09v2.3h-19.09zM399.81 309h19.09v2.3h-19.09zM399.81 311h19.09v2.3h-19.09zM399.81 313h19.09v2.3h-19.09zM381.43 315h19.09v2.3h-19.09zM399.81 315h19.09v2.3h-19.09zM344.65 321h19.09v2.3h-19.09zM344.65 323h19.09v2.3h-19.09zM344.65 333h19.09v2.3h-19.09zM528.52 333h19.09v2.3h-19.09zM528.52 335h19.09v2.3h-19.09zM399.81 339h19.09v2.3h-19.09zM363.04 345h19.09v2.3h-19.09zM381.43 349h19.09v2.3h-19.09zM399.81 349h19.09v2.3h-19.09zM528.52 349h19.09v2.3h-19.09zM399.81 351h19.09v2.3h-19.09zM528.52 351h19.09v2.3h-19.09zM399.81 355h19.09v2.3h-19.09zM344.65 369h19.09v2.3h-19.09zM528.52 371h19.09v2.3h-19.09zM344.65 373h19.09v2.3h-19.09zM344.65 379h19.09v2.3h-19.09zM344.65 381h19.09v2.3h-19.09zM363.04 383h19.09v2.3h-19.09zM344.65 385h19.09v2.3h-19.09zM344.65 387h19.09v2.3h-19.09zM528.52 389h19.09v2.3h-19.09zM344.65 399h19.09v2.3h-19.09zM363.04 401h19.09v2.3h-19.09zM399.81 401h19.09v2.3h-19.09zM528.52 403h19.09v2.3h-19.09zM344.65 405h19.09v2.3h-19.09zM399.81 405h19.09v2.3h-19.09zM399.81 409h19.09v2.3h-19.09zM528.52 409h19.09v2.3h-19.09zM381.43 411h19.09v2.3h-19.09zM528.52 411h19.09v2.3h-19.09zM436.59 413h19.09v2.3h-19.09zM528.52 413h19.09v2.3h-19.09zM142.39 415h19.09v2.3h-19.09zM381.43 415h19.09v2.3h-19.09zM528.52 415h19.09v2.3h-19.09zM344.65 417h19.09v2.3h-19.09zM528.52 417h19.09v2.3h-19.09zM363.04 423h19.09v2.3h-19.09zM399.81 427h19.09v2.3h-19.09zM344.65 429h19.09v2.3h-19.09zM399.81 439h19.09v2.3h-19.09zM381.43 441h19.09v2.3h-19.09zM344.65 443h19.09v2.3h-19.09zM528.52 443h19.09v2.3h-19.09zM344.65 447h19.09v2.3h-19.09zM381.43 447h19.09v2.3h-19.09zM528.52 447h19.09v2.3h-19.09zM381.43 449h19.09v2.3h-19.09zM528.52 449h19.09v2.3h-19.09zM344.65 451h19.09v2.3h-19.09zM528.52 455h19.09v2.3h-19.09zM344.65 459h19.09v2.3h-19.09zM528.52 459h19.09v2.3h-19.09zM381.43 461h19.09v2.3h-19.09zM528.52 465h19.09v2.3h-19.09zM344.65 467h19.09v2.3h-19.09zM528.52 467h19.09v2.3h-19.09zM399.81 473h19.09v2.3h-19.09zM344.65 479h19.09v2.3h-19.09zM528.52 483h19.09v2.3h-19.09zM381.43 485h19.09v2.3h-19.09zM381.43 491h19.09v2.3h-19.09zM363.04 495h19.09v2.3h-19.09zM160.78 497h19.09v2.3h-19.09zM344.65 497h19.09v2.3h-19.09zM344.65 499h19.09v2.3h-19.09zM528.52 499h19.09v2.3h-19.09zM234.32 503h19.09v2.3h-19.09zM289.49 503h19.09v2.3h-19.09zM344.65 505h19.09v2.3h-19.09zM344.65 507h19.09v2.3h-19.09zM381.43 507h19.09v2.3h-19.09zM528.52 509h19.09v2.3h-19.09zM546.91 511h19.09v2.3h-19.09zM363.04 513h19.09v2.3h-19.09zM399.81 515h19.09v2.3h-19.09zM381.43 523h19.09v2.3h-19.09zM344.65 527h19.09v2.3h-19.09zM381.43 529h19.09v2.3h-19.09zM344.65 533h19.09v2.3h-19.09zM399.81 535h19.09v2.3h-19.09zM234.32 542h19.09v2.3h-19.09zM234.32 544h19.09v2.3h-19.09zM252.71 544h19.09v2.3h-19.09zM271.1 544h19.09v2.3h-19.09zM326.26 544h19.09v2.3h-19.09zM326.26 548h19.09v2.3h-19.09zM528.52 548h19.09v2.3h-19.09zM528.52 550h19.09v2.3h-19.09zM326.26 552h19.09v2.3h-19.09zM326.26 554h19.09v2.3h-19.09zM528.52 554h19.09v2.3h-19.09zM546.91 558h19.09v2.3h-19.09zM234.32 560h19.09v2.3h-19.09zM528.52 560h19.09v2.3h-19.09zM271.1 564h19.09v2.3h-19.09zM234.32 568h19.09v2.3h-19.09zM271.1 568h19.09v2.3h-19.09zM234.32 570h19.09v2.3h-19.09zM234.32 572h19.09v2.3h-19.09zM234.32 576h19.09v2.3h-19.09zM491.75 576h19.09v2.3h-19.09zM510.14 580h19.09v2.3h-19.09zM528.52 580h19.09v2.3h-19.09zM271.1 582h19.09v2.3h-19.09zM510.14 584h19.09v2.3h-19.09zM528.52 586h19.09v2.3h-19.09zM528.52 588h19.09v2.3h-19.09zM271.1 590h19.09v2.3h-19.09zM271.1 592h19.09v2.3h-19.09zM252.71 594h19.09v2.3h-19.09zM271.1 598h19.09v2.3h-19.09zM510.14 598h19.09v2.3h-19.09zM326.26 602h19.09v2.3h-19.09zM510.14 602h19.09v2.3h-19.09zM546.91 606h19.09v2.3h-19.09zM252.71 608h19.09v2.3h-19.09zM528.52 608h19.09v2.3h-19.09zM252.71 610h19.09v2.3h-19.09zM528.52 610h19.09v2.3h-19.09zM234.32 612h19.09v2.3h-19.09zM271.1 614h19.09v2.3h-19.09zM528.52 618h19.09v2.3h-19.09zM528.52 620h19.09v2.3h-19.09zM252.71 622h19.09v2.3h-19.09zM528.52 626h19.09v2.3h-19.09z"/>
<path fill="#9c0000" d="M142.39 71h19.09v2.3h-19.09zM344.65 73h19.09v2.3h-19.09zM454.97 81h19.09v2.3h-19.09zM546.91 81h19.09v2.3h-19.09zM197.55 91h19.09v2.3h-19.09zM491.75 91h19.09v2.3h-19.09zM454.97 99h19.09v2.3h-19.09zM307.88 117h19.09v2.3h-19.09zM289.49 125h19.09v2.3h-19.09zM289.49 127h19.09v2.3h-19.09zM289.49 131h19.09v2.3h-19.09zM197.55 133h19.09v2.3h-19.09zM197.55 135h19.09v2.3h-19.09zM289.49 135h19.09v2.3h-19.09zM179.16 137h19.09v2.3h-19.09zM289.49 137h19.09v2.3h-19.09zM197.55 139h19.09v2.3h-19.09zM289.49 141h19.09v2.3h-19.09zM197.55 143h19.09v2.3h-19.09zM197.55 147h19.09v2.3h-19.09zM179.16 149h19.09v2.3h-19.09zM197.55 149h19.09v2.3h-19.09zM289.49 151h19.09v2.3h-19.09zM289.49 157h19.09v2.3h-19.09zM179.16 163h19.09v2.3h-19.09zM179.16 167h19.09v2.3h-19.09zM197.55 167h19.09v2.3h-19.09zM197.55 171h19.09v2.3h-19.09zM307.88 171h19.09v2.3h-19.09zM179.16 177h19.09v2.3h-19.09zM197.55 177h19.09v2.3h-19.09zM289.49 179h19.09v2.3h-19.09zM289.49 181h19.09v2.3h-19.09zM160.78 183h19.09v2.3h-19.09zM179.16 183h19.09v2.3h-19.09zM289.49 185h19.09v2.3h-19.09zM179.16 189h19.09v2.3h-19.09zM179.16 191h19.09v2.3h-19.09zM179.16 193h19.09v2.3h-19.09zM197.55 195h19.09v2.3h-19.09zM289.49 197h19.09v2.3h-19.09zM197.55 199h19.09v2.3h-19.09zM197.55 201h19.09v2.3h-19.09zM307.88 203h19.09v2.3h-19.09zM289.49 205h19.09v2.3h-19.09zM197.55 209h19.09v2.3h-19.09zM289.49 209h19.09v2.3h-19.09zM197.55 211h19.09v2.3h-19.09zM289.49 211h19.09v2.3h-19.09zM289.49 217h19.09v2.3h-19.09zM289.49 219h19.09v2.3h-19.09zM289.49 221h19.09v2.3h-19.09zM197.55 223h19.09v2.3h-19.09zM179.16 225h19.09v2.3h-19.09zM289.49 225h19.09v2.3h-19.09zM197.55 227h19.09v2.3h-19.09zM197.55 229h19.09v2.3h-19.09zM289.49 231h19.09v2.3h-19.09zM289.49 235h19.09v2.3h-19.09zM179.16 239h19.09v2.3h-19.09zM197.55 239h19.09v2.3h-19.09zM289.49 239h19.09v2.3h-19.09zM179.16 243h19.09v2.3h-19.09zM179.16 245h19.09v2.3h-19.09zM197.55 245h19.09v2.3h-19.09zM289.49 249h19.09v2.3h-19.09zM197.55 253h19.09v2.3h-19.09zM179.16 255h19.09v2.3h-19.09zM289.49 257h19.09v2.3h-19.09zM289.49 263h19.09v2.3h-19.09zM179.16 265h19.09v2.3h-19.09zM179.16 267h19.09v2.3h-19.09zM197.55 269h19.09v2.3h-19.09zM289.49 269h19.09v2.3h-19.09zM197.55 271h19.09v2.3h-19.09zM179.16 273h19.09v2.3h-19.09zM289.49 275h19.09v2.3h-19.09zM179.16 281h19.09v2.3h-19.09zM289.49 281h19.09v2.3h-19.09zM289.49 283h19.09v2.3h-19.09zM289.49 285h19.09v2.3h-19.09zM197.55 287h19.09v2.3h-19.09zM289.49 313h19.09v2.3h-19.09zM289.49 315h19.09v2.3h-19.09zM289.49 319h19.09v2.3h-19.09zM289.49 323h19.09v2.3h-19.09zM197.55 331h19.09v2.3h-19.09zM289.49 337h19.09v2.3h-19.09zM179.16 341h19.09v2.3h-19.09zM289.49 341h19.09v2.3h-19.09zM289.49 345h19.09v2.3h-19.09zM289.49 351h19.09v2.3h-19.09zM197.55 355h19.09v2.3h-19.09zM289.49 355h19.09v2.3h-19.09zM197.55 361h19.09v2.3h-19.09zM289.49 367h19.09v2.3h-19.09zM289.49 379h19.09v2.3h-19.09zM289.49 381h19.09v2.3h-19.09zM289.49 385h19.09v2.3h-19.09zM289.49 389h19.09v2.3h-19.09zM179.16 395h19.09v2.3h-19.09zM197.55 395h19.09v2.3h-19.09zM197.55 397h19.09v2.3h-19.09zM289.49 397h19.09v2.3h-19.09zM289.49 399h19.09v2.3h-19.09zM289.49 409h19.09v2.3h-19.09zM289.49 413h19.09v2.3h-19.09zM179.16 421h19.09v2.3h-19.09zM197.55 421h19.09v2.3h-19.09zM197.55 423h19.09v2.3h-19.09zM289.49 429h19.09v2.3h-19.09zM197.55 433h19.09v2.3h-19.09zM197.55 437h19.09v2.3h-19.09zM197.55 439h19.09v2.3h-19.09zM289.49 441h19.09v2.3h-19.09zM289.49 461h19.09v2.3h-19.09zM289.49 469h19.09v2.3h-19.09zM289.49 471h19.09v2.3h-19.09zM289.49 481h19.09v2.3h-19.09zM289.49 483h19.09v2.3h-19.09zM289.49 495h19.09v2.3h-19.09zM289.49 505h19.09v2.3h-19.09zM289.49 513h19.09v2.3h-19.09zM289.49 517h19.09v2.3h-19.09zM289.49 521h19.09v2.3h-19.09zM179.16 525h19.09v2.3h-19.09zM289.49 525h19.09v2.3h-19.09zM289.49 531h19.09v2.3h-19.09zM289.49 535h19.09v2.3h-19.09zM160.78 590h19.09v2.3h-19.09z"/>
<path fill="#c00000" d="M160.78 71h19.09v2.3h-19.09zM436.59 71h19.09v2.3h-19.09zM160.78 81h19.09v2.3h-19.09zM142.39 87h19.09v2.3h-19.09zM124 89h19.09v2.3h-19.09zM160.78 91h19.09v2.3h-19.09zM546.91 97h19.09v2.3h-19.09zM510.14 107h19.09v2.3h-19.09zM436.59 121h19.09v2.3h-19.09zM289.49 145h19.09v2.3h-19.09zM289.49 267h19.09v2.3h-19.09zM289.49 311h19.09v2.3h-19.09z"/>
<path fill="#840000" d="M179.16 71h19.09v2.3h-19.09zM473.36 71h19.09v2.3h-19.09zM436.59 81h19.09v2.3h-19.09zM399.81 99h19.09v2.3h-19.09zM124 115h19.09v2.3h-19.09zM197.55 125h19.09v2.3h-19.09zM197.55 127h19.09v2.3h-19.09zM179.16 129h19.09v2.3h-19.09zM289.49 129h19.09v2.3h-19.09zM160.78 131h19.09v2.3h-19.09zM160.78 133h19.09v2.3h-19.09zM179.16 133h19.09v2.3h-19.09zM160.78 137h19.09v2.3h-19.09zM307.88 137h19.09v2.3h-19.09zM124 139h19.09v2.3h-19.09zM160.78 139h19.09v2.3h-19.09zM307.88 139h19.09v2.3h-19.09zM160.78 143h19.09v2.3h-19.09zM160.78 145h19.09v2.3h-19.09zM234.32 145h19.09v2.3h-19.09zM307.88 145h19.09v2.3h-19.09zM124 147h19.09v2.3h-19.09zM307.88 147h19.09v2.3h-19.09zM124 149h19.09v2.3h-19.09zM142.39 149h19.09v2.3h-19.09zM307.88 149h19.09v2.3h-19.09zM307.88 151h19.09v2.3h-19.09zM179.16 153h19.09v2.3h-19.09zM142.39 155h19.09v2.3h-19.09zM179.16 155h19.09v2.3h-19.09zM179.16 157h19.09v2.3h-19.09zM160.78 159h19.09v2.3h-19.09zM179.16 161h19.09v2.3h-19.09zM197.55 161h19.09v2.3h-19.09zM307.88 161h19.09v2.3h-19.09zM124 163h19.09v2.3h-19.09zM307.88 163h19.09v2.3h-19.09zM124 165h19.09v2.3h-19.09zM142.39 165h19.09v2.3h-19.09zM179.16 165h19.09v2.3h-19.09zM307.88 169h19.09v2.3h-19.09zM124 171h19.09v2.3h-19.09zM307.88 173h19.09v2.3h-19.09zM179.16 175h19.09v2.3h-19.09zM197.55 175h19.09v2.3h-19.09zM197.55 179h19.09v2.3h-19.09zM307.88 179h19.09v2.3h-19.09zM160.78 181h19.09v2.3h-19.09zM142.39 183h19.09v2.3h-19.09zM307.88 183h19.09v2.3h-19.09zM160.78 185h19.09v2.3h-19.09zM197.55 187h19.09v2.3h-19.09zM234.32 189h19.09v2.3h-19.09zM124 191h19.09v2.3h-19.09zM142.39 191h19.09v2.3h-19.09zM307.88 191h19.09v2.3h-19.09zM307.88 193h19.09v2.3h-19.09zM307.88 195h19.09v2.3h-19.09zM124 197h19.09v2.3h-19.09zM234.32 199h19.09v2.3h-19.09zM307.88 199h19.09v2.3h-19.09zM179.16 201h19.09v2.3h-19.09zM307.88 201h19.09v2.3h-19.09zM142.39 203h19.09v2.3h-19.09zM124 205h19.09v2.3h-19.09zM179.16 205h19.09v2.3h-19.09zM160.78 209h19.09v2.3h-19.09zM307.88 209h19.09v2.3h-19.09zM179.16 211h19.09v2.3h-19.09zM160.78 213h19.09v2.3h-19.09zM307.88 213h19.09v2.3h-19.09zM197.55 215h19.09v2.3h-19.09zM289.49 215h19.09v2.3h-19.09zM179.16 217h19.09v2.3h-19.09zM160.78 219h19.09v2.3h-19.09zM179.16 219h19.09v2.3h-19.09zM197.55 219h19.09v2.3h-19.09zM142.39 221h19.09v2.3h-19.09zM160.78 221h19.09v2.3h-19.09zM307.88 223h19.09v2.3h-19.09zM142.39 225h19.09v2.3h-19.09zM160.78 225h19.09v2.3h-19.09zM179.16 227h19.09v2.3h-19.09zM124 229h19.09v2.3h-19.09zM197.55 231h19.09v2.3h-19.09zM307.88 231h19.09v2.3h-19.09zM124 233h19.09v2.3h-19.09zM160.78 235h19.09v2.3h-19.09zM124 237h19.09v2.3h-19.09zM160.78 237h19.09v2.3h-19.09zM234.32 237h19.09v2.3h-19.09zM307.88 237h19.09v2.3h-19.09zM142.39 243h19.09v2.3h-19.09zM160.78 245h19.09v2.3h-19.09zM307.88 245h19.09v2.3h-19.09zM124 247h19.09v2.3h-19.09zM307.88 247h19.09v2.3h-19.09zM234.32 253h19.09v2.3h-19.09zM160.78 255h19.09v2.3h-19.09zM289.49 255h19.09v2.3h-19.09zM124 259h19.09v2.3h-19.09zM234.32 261h19.09v2.3h-19.09zM307.88 261h19.09v2.3h-19.09zM197.55 263h19.09v2.3h-19.09zM124 265h19.09v2.3h-19.09zM160.78 265h19.09v2.3h-19.09zM234.32 265h19.09v2.3h-19.09zM307.88 265h19.09v2.3h-19.09zM234.32 267h19.09v2.3h-19.09zM307.88 267h19.09v2.3h-19.09zM160.78 269h19.09v2.3h-19.09zM179.16 269h19.09v2.3h-19.09zM307.88 269h19.09v2.3h-19.09zM160.78 271h19.09v2.3h-19.09zM307.88 271h19.09v2.3h-19.09zM124 273h19.09v2.3h-19.09zM234.32 273h19.09v2.3h-19.09zM160.78 275h19.09v2.3h-19.09zM179.16 275h19.09v2.3h-19.09zM197.55 275h19.09v2.3h-19.09zM160.78 277h19.09v2.3h-19.09zM179.16 277h19.09v2.3h-19.09zM160.78 281h19.09v2.3h-19.09zM307.88 283h19.09v2.3h-19.09zM234.32 287h19.09v2.3h-19.09zM179.16 289h19.09v2.3h-19.09zM307.88 289h19.09v2.3h-19.09zM160.78 291h19.09v2.3h-19.09zM179.16 291h19.09v2.3h-19.09zM197.55 291h19.09v2.3h-19.09zM197.55 293h19.09v2.3h-19.09zM234.32 295h19.09v2.3h-19.09zM179.16 297h19.09v2.3h-19.09zM289.49 297h19.09v2.3h-19.09zM307.88 297h19.09v2.3h-19.09zM179.16 299h19.09v2.3h-19.09zM197.55 299h19.09v2.3h-19.09zM234.32 299h19.09v2.3h-19.09zM160.78 301h19.09v2.3h-19.09zM160.78 305h19.09v2.3h-19.09zM179.16 305h19.09v2.3h-19.09zM197.55 305h19.09v2.3h-19.09zM179.16 307h19.09v2.3h-19.09zM197.55 307h19.09v2.3h-19.09zM160.78 309h19.09v2.3h-19.09zM197.55 309h19.09v2.3h-19.09zM142.39 311h19.09v2.3h-19.09zM179.16 313h19.09v2.3h-19.09zM160.78 315h19.09v2.3h-19.09zM179.16 315h19.09v2.3h-19.09zM307.88 315h19.09v2.3h-19.09zM179.16 319h19.09v2.3h-19.09zM289.49 321h19.09v2.3h-19.09zM197.55 323h19.09v2.3h-19.09zM179.16 325h19.09v2.3h-19.09zM179.16 327h19.09v2.3h-19.09zM197.55 327h19.09v2.3h-19.09zM307.88 329h19.09v2.3h-19.09zM197.55 333h19.09v2.3h-19.09zM289.49 335h19.09v2.3h-19.09zM179.16 337h19.09v2.3h-19.09zM197.55 337h19.09v2.3h-19.09zM124 339h19.09v2.3h-19.09zM160.78 339h19.09v2.3h-19.09zM179.16 339h19.09v2.3h-19.09zM142.39 341h19.09v2.3h-19.09zM179.16 343h19.09v2.3h-19.09zM197.55 343h19.09v2.3h-19.09zM289.49 343h19.09v2.3h-19.09zM160.78 345h19.09v2.3h-19.09zM197.55 345h19.09v2.3h-19.09zM289.49 347h19.09v2.3h-19.09zM289.49 349h19.09v2.3h-19.09zM234.32 355h19.09v2.3h-19.09zM179.16 357h19.09v2.3h-19.09zM197.55 357h19.09v2.3h-19.09zM197.55 359h19.09v2.3h-19.09zM160.78 361h19.09v2.3h-19.09zM179.16 361h19.09v2.3h-19.09zM197.55 363h19.09v2.3h-19.09zM307.88 365h19.09v2.3h-19.09zM197.55 367h19.09v2.3h-19.09zM197.55 373h19.09v2.3h-19.09zM289.49 375h19.09v2.3h-19.09zM179.16 379h19.09v2.3h-19.09zM197.55 379h19.09v2.3h-19.09zM179.16 381h19.09v2.3h-19.09zM197.55 381h19.09v2.3h-19.09zM179.16 383h19.09v2.3h-19.09zM197.55 383h19.09v2.3h-19.09zM160.78 387h19.09v2.3h-19.09zM197.55 387h19.09v2.3h-19.09zM179.16 389h19.09v2.3h-19.09zM124 395h19.09v2.3h-19.09zM234.32 395h19.09v2.3h-19.09zM307.88 397h19.09v2.3h-19.09zM179.16 399h19.09v2.3h-19.09zM197.55 399h19.09v2.3h-19.09zM307.88 399h19.09v2.3h-19.09zM142.39 401h19.09v2.3h-19.09zM234.32 401h19.09v2.3h-19.09zM307.88 401h19.09v2.3h-19.09zM197.55 405h19.09v2.3h-19.09zM234.32 407h19.09v2.3h-19.09zM307.88 407h19.09v2.3h-19.09zM179.16 415h19.09v2.3h-19.09zM197.55 415h19.09v2.3h-19.09zM289.49 415h19.09v2.3h-19.09zM234.32 417h19.09v2.3h-19.09zM160.78 421h19.09v2.3h-19.09zM289.49 431h19.09v2.3h-19.09zM124 433h19.09v2.3h-19.09zM160.78 437h19.09v2.3h-19.09zM179.16 437h19.09v2.3h-19.09zM160.78 439h19.09v2.3h-19.09zM307.88 439h19.09v2.3h-19.09zM307.88 447h19.09v2.3h-19.09zM197.55 453h19.09v2.3h-19.09zM289.49 453h19.09v2.3h-19.09zM289.49 459h19.09v2.3h-19.09zM124 463h19.09v2.3h-19.09zM197.55 465h19.09v2.3h-19.09zM289.49 465h19.09v2.3h-19.09zM124 467h19.09v2.3h-19.09zM179.16 467h19.09v2.3h-19.09zM307.88 467h19.09v2.3h-19.09zM234.32 469h19.09v2.3h-19.09zM179.16 471h19.09v2.3h-19.09zM197.55 471h19.09v2.3h-19.09zM179.16 473h19.09v2.3h-19.09zM197.55 473h19.09v2.3h-19.09zM179.16 481h19.09v2.3h-19.09zM179.16 487h19.09v2.3h-19.09zM179.16 489h19.09v2.3h-19.09zM289.49 491h19.09v2.3h-19.09zM179.16 495h19.09v2.3h-19.09zM197.55 495h19.09v2.3h-19.09zM197.55 499h19.09v2.3h-19.09zM197.55 501h19.09v2.3h-19.09zM289.49 507h19.09v2.3h-19.09zM179.16 509h19.09v2.3h-19.09zM289.49 511h19.09v2.3h-19.09zM160.78 513h19.09v2.3h-19.09zM179.16 513h19.09v2.3h-19.09zM234.32 513h19.09v2.3h-19.09zM179.16 517h19.09v2.3h-19.09zM234.32 517h19.09v2.3h-19.09zM160.78 519h19.09v2.3h-19.09zM197.55 519h19.09v2.3h-19.09zM307.88 525h19.09v2.3h-19.09zM160.78 531h19.09v2.3h-19.09zM197.55 531h19.09v2.3h-19.09zM307.88 531h19.09v2.3h-19.09zM289.49 533h19.09v2.3h-19.09zM197.55 535h19.09v2.3h-19.09zM289.49 537h19.09v2.3h-19.09zM418.2 542h19.09v2.3h-19.09zM399.81 546h19.09v2.3h-19.09zM418.2 548h19.09v2.3h-19.09zM418.2 552h19.09v2.3h-19.09zM418.2 554h19.09v2.3h-19.09zM418.2 566h19.09v2.3h-19.09zM418.2 568h19.09v2.3h-19.09zM418.2 570h19.09v2.3h-19.09zM197.55 574h19.09v2.3h-19.09zM160.78 576h19.09v2.3h-19.09zM197.55 578h19.09v2.3h-19.09zM160.78 582h19.09v2.3h-19.09zM418.2 582h19.09v2.3h-19.09zM418.2 584h19.09v2.3h-19.09zM418.2 590h19.09v2.3h-19.09zM418.2 596h19.09v2.3h-19.09zM160.78 600h19.09v2.3h-19.09zM160.78 602h19.09v2.3h-19.09zM399.81 602h19.09v2.3h-19.09zM418.2 602h19.09v2.3h-19.09zM160.78 604h19.09v2.3h-19.09zM418.2 622h19.09v2.3h-19.09z"/>
<path fill="#900000" d="M197.55 71h19.09v2.3h-19.09zM344.65 71h19.09v2.3h-19.09zM546.91 71h19.09v2.3h-19.09zM124 81h19.09v2.3h-19.09zM436.59 89h19.09v2.3h-19.09zM234.32 101h19.09v2.3h-19.09zM326.26 101h19.09v2.3h-19.09zM271.1 109h19.09v2.3h-19.09zM197.55 129h19.09v2.3h-19.09zM197.55 131h19.09v2.3h-19.09zM289.49 133h19.09v2.3h-19.09zM160.78 135h19.09v2.3h-19.09zM197.55 137h19.09v2.3h-19.09zM289.49 143h19.09v2.3h-19.09zM124 145h19.09v2.3h-19.09zM179.16 145h19.09v2.3h-19.09zM160.78 147h19.09v2.3h-19.09zM179.16 147h19.09v2.3h-19.09zM160.78 149h19.09v2.3h-19.09zM160.78 151h19.09v2.3h-19.09zM179.16 151h19.09v2.3h-19.09zM197.55 151h19.09v2.3h-19.09zM197.55 153h19.09v2.3h-19.09zM289.49 153h19.09v2.3h-19.09zM197.55 155h19.09v2.3h-19.09zM289.49 155h19.09v2.3h-19.09zM197.55 159h19.09v2.3h-19.09zM160.78 163h19.09v2.3h-19.09zM160.78 165h19.09v2.3h-19.09zM234.32 165h19.09v2.3h-19.09zM307.88 165h19.09v2.3h-19.09zM179.16 169h19.09v2.3h-19.09zM197.55 169h19.09v2.3h-19.09zM289.49 169h19.09v2.3h-19.09zM142.39 171h19.09v2.3h-19.09zM160.78 171h19.09v2.3h-19.09zM179.16 171h19.09v2.3h-19.09zM179.16 173h19.09v2.3h-19.09zM289.49 175h19.09v2.3h-19.09zM160.78 177h19.09v2.3h-19.09zM307.88 177h19.09v2.3h-19.09zM179.16 179h19.09v2.3h-19.09zM179.16 181h19.09v2.3h-19.09zM197.55 181h19.09v2.3h-19.09zM124 183h19.09v2.3h-19.09zM197.55 185h19.09v2.3h-19.09zM307.88 185h19.09v2.3h-19.09zM289.49 189h19.09v2.3h-19.09zM307.88 189h19.09v2.3h-19.09zM197.55 191h19.09v2.3h-19.09zM160.78 193h19.09v2.3h-19.09zM179.16 195h19.09v2.3h-19.09zM179.16 197h19.09v2.3h-19.09zM197.55 197h19.09v2.3h-19.09zM160.78 199h19.09v2.3h-19.09zM179.16 199h19.09v2.3h-19.09zM160.78 203h19.09v2.3h-19.09zM179.16 203h19.09v2.3h-19.09zM197.55 203h19.09v2.3h-19.09zM197.55 205h19.09v2.3h-19.09zM307.88 205h19.09v2.3h-19.09zM160.78 207h19.09v2.3h-19.09zM179.16 207h19.09v2.3h-19.09zM179.16 209h19.09v2.3h-19.09zM124 211h19.09v2.3h-19.09zM179.16 213h19.09v2.3h-19.09zM179.16 221h19.09v2.3h-19.09zM197.55 221h19.09v2.3h-19.09zM289.49 223h19.09v2.3h-19.09zM124 225h19.09v2.3h-19.09zM197.55 225h19.09v2.3h-19.09zM307.88 225h19.09v2.3h-19.09zM160.78 227h19.09v2.3h-19.09zM289.49 227h19.09v2.3h-19.09zM307.88 227h19.09v2.3h-19.09zM179.16 229h19.09v2.3h-19.09zM307.88 229h19.09v2.3h-19.09zM179.16 233h19.09v2.3h-19.09zM234.32 233h19.09v2.3h-19.09zM307.88 233h19.09v2.3h-19.09zM179.16 235h19.09v2.3h-19.09zM197.55 235h19.09v2.3h-19.09zM179.16 237h19.09v2.3h-19.09zM197.55 237h19.09v2.3h-19.09zM160.78 239h19.09v2.3h-19.09zM289.49 241h19.09v2.3h-19.09zM197.55 243h19.09v2.3h-19.09zM160.78 247h19.09v2.3h-19.09zM179.16 247h19.09v2.3h-19.09zM179.16 249h19.09v2.3h-19.09zM289.49 251h19.09v2.3h-19.09zM179.16 253h19.09v2.3h-19.09zM197.55 259h19.09v2.3h-19.09zM160.78 261h19.09v2.3h-19.09zM179.16 261h19.09v2.3h-19.09zM197.55 261h19.09v2.3h-19.09zM124 267h19.09v2.3h-19.09zM160.78 267h19.09v2.3h-19.09zM179.16 271h19.09v2.3h-19.09zM160.78 273h19.09v2.3h-19.09zM289.49 279h19.09v2.3h-19.09zM197.55 281h19.09v2.3h-19.09zM307.88 281h19.09v2.3h-19.09zM179.16 283h19.09v2.3h-19.09zM197.55 283h19.09v2.3h-19.09zM197.55 285h19.09v2.3h-19.09zM179.16 287h19.09v2.3h-19.09zM289.49 287h19.09v2.3h-19.09zM234.32 289h19.09v2.3h-19.09zM289.49 293h19.09v2.3h-19.09zM179.16 295h19.09v2.3h-19.09zM197.55 295h19.09v2.3h-19.09zM179.16 301h19.09v2.3h-19.09zM197.55 303h19.09v2.3h-19.09zM289.49 305h19.09v2.3h-19.09zM289.49 307h19.09v2.3h-19.09zM289.49 309h19.09v2.3h-19.09zM160.78 311h19.09v2.3h-19.09zM307.88 311h19.09v2.3h-19.09zM197.55 313h19.09v2.3h-19.09zM197.55 315h19.09v2.3h-19.09zM289.49 317h19.09v2.3h-19.09zM197.55 319h19.09v2.3h-19.09zM197.55 321h19.09v2.3h-19.09zM307.88 323h19.09v2.3h-19.09zM289.49 325h19.09v2.3h-19.09zM289.49 327h19.09v2.3h-19.09zM179.16 329h19.09v2.3h-19.09zM197.55 329h19.09v2.3h-19.09zM197.55 339h19.09v2.3h-19.09zM289.49 339h19.09v2.3h-19.09zM197.55 341h19.09v2.3h-19.09zM179.16 345h19.09v2.3h-19.09zM179.16 351h19.09v2.3h-19.09zM197.55 351h19.09v2.3h-19.09zM179.16 353h19.09v2.3h-19.09zM289.49 357h19.09v2.3h-19.09zM289.49 359h19.09v2.3h-19.09zM289.49 363h19.09v2.3h-19.09zM197.55 365h19.09v2.3h-19.09zM289.49 365h19.09v2.3h-19.09zM289.49 383h19.09v2.3h-19.09zM289.49 387h19.09v2.3h-19.09zM197.55 391h19.09v2.3h-19.09zM289.49 391h19.09v2.3h-19.09zM179.16 393h19.09v2.3h-19.09zM197.55 393h19.09v2.3h-19.09zM289.49 393h19.09v2.3h-19.09zM160.78 395h19.09v2.3h-19.09zM307.88 395h19.09v2.3h-19.09zM179.16 401h19.09v2.3h-19.09zM197.55 401h19.09v2.3h-19.09zM289.49 403h19.09v2.3h-19.09zM289.49 405h19.09v2.3h-19.09zM197.55 417h19.09v2.3h-19.09zM289.49 419h19.09v2.3h-19.09zM289.49 421h19.09v2.3h-19.09zM234.32 423h19.09v2.3h-19.09zM197.55 427h19.09v2.3h-19.09zM289.49 435h19.09v2.3h-19.09zM289.49 437h19.09v2.3h-19.09zM179.16 439h19.09v2.3h-19.09zM289.49 445h19.09v2.3h-19.09zM289.49 447h19.09v2.3h-19.09zM289.49 451h19.09v2.3h-19.09zM289.49 455h19.09v2.3h-19.09zM289.49 457h19.09v2.3h-19.09zM197.55 463h19.09v2.3h-19.09zM307.88 469h19.09v2.3h-19.09zM289.49 479h19.09v2.3h-19.09zM197.55 483h19.09v2.3h-19.09zM289.49 485h19.09v2.3h-19.09zM289.49 487h19.09v2.3h-19.09zM197.55 489h19.09v2.3h-19.09zM289.49 489h19.09v2.3h-19.09zM289.49 493h19.09v2.3h-19.09zM289.49 499h19.09v2.3h-19.09zM179.16 503h19.09v2.3h-19.09zM197.55 509h19.09v2.3h-19.09zM289.49 509h19.09v2.3h-19.09zM289.49 515h19.09v2.3h-19.09zM197.55 517h19.09v2.3h-19.09zM197.55 523h19.09v2.3h-19.09zM289.49 523h19.09v2.3h-19.09zM234.32 525h19.09v2.3h-19.09zM289.49 527h19.09v2.3h-19.09zM289.49 539h19.09v1.3h-19.09zM160.78 548h19.09v2.3h-19.09zM418.2 564h19.09v2.3h-19.09zM179.16 574h19.09v2.3h-19.09zM418.2 574h19.09v2.3h-19.09zM197.55 600h19.09v2.3h-19.09zM197.55 628h19.09v1.3h-19.09z"/>
<path fill="#780000" d="M289.49 71h19.09v2.3h-19.09zM344.65 81h19.09v2.3h-19.09zM326.26 99h19.09v2.3h-19.09zM381.43 99h19.09v2.3h-19.09zM473.36 99h19.09v2.3h-19.09zM546.91 99h19.09v2.3h-19.09zM491.75 101h19.09v2.3h-19.09zM197.55 113h19.09v2.3h-19.09zM510.14 113h19.09v2.3h-19.09zM326.26 115h19.09v2.3h-19.09zM399.81 121h19.09v2.3h-19.09zM418.2 121h19.09v2.3h-19.09zM160.78 125h19.09v2.3h-19.09zM307.88 125h19.09v2.3h-19.09zM160.78 127h19.09v2.3h-19.09zM179.16 127h19.09v2.3h-19.09zM234.32 129h19.09v2.3h-19.09zM307.88 129h19.09v2.3h-19.09zM124 131h19.09v2.3h-19.09zM142.39 131h19.09v2.3h-19.09zM179.16 131h19.09v2.3h-19.09zM124 133h19.09v2.3h-19.09zM307.88 133h19.09v2.3h-19.09zM124 135h19.09v2.3h-19.09zM179.16 135h19.09v2.3h-19.09zM307.88 135h19.09v2.3h-19.09zM142.39 137h19.09v2.3h-19.09zM234.32 139h19.09v2.3h-19.09zM179.16 141h19.09v2.3h-19.09zM197.55 141h19.09v2.3h-19.09zM307.88 141h19.09v2.3h-19.09zM124 143h19.09v2.3h-19.09zM142.39 143h19.09v2.3h-19.09zM307.88 143h19.09v2.3h-19.09zM124 151h19.09v2.3h-19.09zM234.32 151h19.09v2.3h-19.09zM307.88 153h19.09v2.3h-19.09zM124 155h19.09v2.3h-19.09zM160.78 155h19.09v2.3h-19.09zM307.88 155h19.09v2.3h-19.09zM124 157h19.09v2.3h-19.09zM197.55 157h19.09v2.3h-19.09zM179.16 159h19.09v2.3h-19.09zM234.32 159h19.09v2.3h-19.09zM234.32 161h19.09v2.3h-19.09zM234.32 163h19.09v2.3h-19.09zM124 167h19.09v2.3h-19.09zM142.39 167h19.09v2.3h-19.09zM160.78 167h19.09v2.3h-19.09zM234.32 167h19.09v2.3h-19.09zM307.88 167h19.09v2.3h-19.09zM160.78 169h19.09v2.3h-19.09zM234.32 169h19.09v2.3h-19.09zM234.32 171h19.09v2.3h-19.09zM142.39 173h19.09v2.3h-19.09zM160.78 173h19.09v2.3h-19.09zM124 179h19.09v2.3h-19.09zM142.39 179h19.09v2.3h-19.09zM160.78 179h19.09v2.3h-19.09zM234.32 179h19.09v2.3h-19.09zM142.39 181h19.09v2.3h-19.09zM307.88 181h19.09v2.3h-19.09zM234.32 183h19.09v2.3h-19.09zM124 185h19.09v2.3h-19.09zM142.39 185h19.09v2.3h-19.09zM179.16 187h19.09v2.3h-19.09zM234.32 187h19.09v2.3h-19.09zM124 189h19.09v2.3h-19.09zM160.78 191h19.09v2.3h-19.09zM234.32 195h19.09v2.3h-19.09zM142.39 197h19.09v2.3h-19.09zM307.88 197h19.09v2.3h-19.09zM124 199h19.09v2.3h-19.09zM142.39 199h19.09v2.3h-19.09zM160.78 205h19.09v2.3h-19.09zM307.88 207h19.09v2.3h-19.09zM142.39 209h19.09v2.3h-19.09zM160.78 215h19.09v2.3h-19.09zM179.16 215h19.09v2.3h-19.09zM160.78 217h19.09v2.3h-19.09zM307.88 217h19.09v2.3h-19.09zM124 219h19.09v2.3h-19.09zM307.88 219h19.09v2.3h-19.09zM124 221h19.09v2.3h-19.09zM234.32 221h19.09v2.3h-19.09zM179.16 223h19.09v2.3h-19.09zM234.32 225h19.09v2.3h-19.09zM142.39 229h19.09v2.3h-19.09zM160.78 229h19.09v2.3h-19.09zM124 231h19.09v2.3h-19.09zM179.16 231h19.09v2.3h-19.09zM160.78 233h19.09v2.3h-19.09zM234.32 235h19.09v2.3h-19.09zM142.39 237h19.09v2.3h-19.09zM142.39 239h19.09v2.3h-19.09zM197.55 241h19.09v2.3h-19.09zM307.88 241h19.09v2.3h-19.09zM124 243h19.09v2.3h-19.09zM307.88 243h19.09v2.3h-19.09zM234.32 245h19.09v2.3h-19.09zM142.39 247h19.09v2.3h-19.09zM124 249h19.09v2.3h-19.09zM142.39 249h19.09v2.3h-19.09zM234.32 249h19.09v2.3h-19.09zM307.88 249h19.09v2.3h-19.09zM160.78 251h19.09v2.3h-19.09zM179.16 251h19.09v2.3h-19.09zM197.55 251h19.09v2.3h-19.09zM307.88 251h19.09v2.3h-19.09zM124 253h19.09v2.3h-19.09zM160.78 253h19.09v2.3h-19.09zM124 255h19.09v2.3h-19.09zM307.88 255h19.09v2.3h-19.09zM179.16 257h19.09v2.3h-19.09zM197.55 257h19.09v2.3h-19.09zM160.78 259h19.09v2.3h-19.09zM179.16 259h19.09v2.3h-19.09zM124 261h19.09v2.3h-19.09zM142.39 261h19.09v2.3h-19.09zM142.39 265h19.09v2.3h-19.09zM142.39 267h19.09v2.3h-19.09zM142.39 271h19.09v2.3h-19.09zM234.32 271h19.09v2.3h-19.09zM142.39 273h19.09v2.3h-19.09zM307.88 273h19.09v2.3h-19.09zM234.32 275h19.09v2.3h-19.09zM197.55 277h19.09v2.3h-19.09zM160.78 279h19.09v2.3h-19.09zM179.16 279h19.09v2.3h-19.09zM197.55 279h19.09v2.3h-19.09zM124 285h19.09v2.3h-19.09zM179.16 285h19.09v2.3h-19.09zM307.88 287h19.09v2.3h-19.09zM124 289h19.09v2.3h-19.09zM142.39 289h19.09v2.3h-19.09zM160.78 289h19.09v2.3h-19.09zM142.39 291h19.09v2.3h-19.09zM234.32 291h19.09v2.3h-19.09zM307.88 291h19.09v2.3h-19.09zM179.16 293h19.09v2.3h-19.09zM160.78 295h19.09v2.3h-19.09zM307.88 295h19.09v2.3h-19.09zM160.78 297h19.09v2.3h-19.09zM142.39 299h19.09v2.3h-19.09zM307.88 299h19.09v2.3h-19.09zM197.55 301h19.09v2.3h-19.09zM307.88 301h19.09v2.3h-19.09zM179.16 303h19.09v2.3h-19.09zM307.88 305h19.09v2.3h-19.09zM160.78 307h19.09v2.3h-19.09zM124 309h19.09v2.3h-19.09zM124 311h19.09v2.3h-19.09zM234.32 311h19.09v2.3h-19.09zM124 313h19.09v2.3h-19.09zM307.88 313h19.09v2.3h-19.09zM179.16 317h19.09v2.3h-19.09zM197.55 317h19.09v2.3h-19.09zM160.78 319h19.09v2.3h-19.09zM307.88 319h19.09v2.3h-19.09zM179.16 321h19.09v2.3h-19.09zM124 323h19.09v2.3h-19.09zM179.16 323h19.09v2.3h-19.09zM197.55 325h19.09v2.3h-19.09zM160.78 327h19.09v2.3h-19.09zM307.88 327h19.09v2.3h-19.09zM160.78 331h19.09v2.3h-19.09zM179.16 331h19.09v2.3h-19.09zM307.88 331h19.09v2.3h-19.09zM179.16 333h19.09v2.3h-19.09zM289.49 333h19.09v2.3h-19.09zM197.55 335h19.09v2.3h-19.09zM234.32 337h19.09v2.3h-19.09zM142.39 339h19.09v2.3h-19.09zM307.88 339h19.09v2.3h-19.09zM234.32 341h19.09v2.3h-19.09zM307.88 341h19.09v2.3h-19.09zM124 345h19.09v2.3h-19.09zM234.32 345h19.09v2.3h-19.09zM179.16 349h19.09v2.3h-19.09zM124 351h19.09v2.3h-19.09zM160.78 351h19.09v2.3h-19.09zM307.88 351h19.09v2.3h-19.09zM160.78 353h19.09v2.3h-19.09zM197.55 353h19.09v2.3h-19.09zM124 355h19.09v2.3h-19.09zM160.78 355h19.09v2.3h-19.09zM179.16 355h19.09v2.3h-19.09zM307.88 355h19.09v2.3h-19.09zM160.78 357h19.09v2.3h-19.09zM307.88 357h19.09v2.3h-19.09zM179.16 365h19.09v2.3h-19.09zM160.78 367h19.09v2.3h-19.09zM234.32 367h19.09v2.3h-19.09zM179.16 369h19.09v2.3h-19.09zM197.55 369h19.09v2.3h-19.09zM289.49 371h19.09v2.3h-19.09zM307.88 371h19.09v2.3h-19.09zM307.88 373h19.09v2.3h-19.09zM160.78 375h19.09v2.3h-19.09zM197.55 375h19.09v2.3h-19.09zM160.78 377h19.09v2.3h-19.09zM179.16 377h19.09v2.3h-19.09zM197.55 377h19.09v2.3h-19.09zM160.78 379h19.09v2.3h-19.09zM160.78 381h19.09v2.3h-19.09zM124 383h19.09v2.3h-19.09zM160.78 383h19.09v2.3h-19.09zM234.32 383h19.09v2.3h-19.09zM307.88 383h19.09v2.3h-19.09zM179.16 385h19.09v2.3h-19.09zM142.39 387h19.09v2.3h-19.09zM179.16 387h19.09v2.3h-19.09zM197.55 389h19.09v2.3h-19.09zM307.88 389h19.09v2.3h-19.09zM160.78 393h19.09v2.3h-19.09zM142.39 395h19.09v2.3h-19.09zM124 401h19.09v2.3h-19.09zM160.78 401h19.09v2.3h-19.09zM179.16 405h19.09v2.3h-19.09zM307.88 405h19.09v2.3h-19.09zM160.78 407h19.09v2.3h-19.09zM179.16 407h19.09v2.3h-19.09zM197.55 407h19.09v2.3h-19.09zM124 409h19.09v2.3h-19.09zM179.16 409h19.09v2.3h-19.09zM197.55 409h19.09v2.3h-19.09zM307.88 409h19.09v2.3h-19.09zM197.55 411h19.09v2.3h-19.09zM289.49 411h19.09v2.3h-19.09zM179.16 413h19.09v2.3h-19.09zM197.55 413h19.09v2.3h-19.09zM307.88 417h19.09v2.3h-19.09zM179.16 419h19.09v2.3h-19.09zM197.55 419h19.09v2.3h-19.09zM234.32 421h19.09v2.3h-19.09zM124 423h19.09v2.3h-19.09zM160.78 423h19.09v2.3h-19.09zM307.88 423h19.09v2.3h-19.09zM179.16 427h19.09v2.3h-19.09zM307.88 427h19.09v2.3h-19.09zM142.39 433h19.09v2.3h-19.09zM160.78 433h19.09v2.3h-19.09zM179.16 433h19.09v2.3h-19.09zM234.32 433h19.09v2.3h-19.09zM307.88 433h19.09v2.3h-19.09zM197.55 435h19.09v2.3h-19.09zM142.39 437h19.09v2.3h-19.09zM124 439h19.09v2.3h-19.09zM234.32 439h19.09v2.3h-19.09zM124 441h19.09v2.3h-19.09zM160.78 441h19.09v2.3h-19.09zM179.16 441h19.09v2.3h-19.09zM234.32 441h19.09v2.3h-19.09zM307.88 441h19.09v2.3h-19.09zM197.55 443h19.09v2.3h-19.09zM307.88 443h19.09v2.3h-19.09zM179.16 447h19.09v2.3h-19.09zM197.55 447h19.09v2.3h-19.09zM179.16 449h19.09v2.3h-19.09zM197.55 449h19.09v2.3h-19.09zM289.49 449h19.09v2.3h-19.09zM160.78 451h19.09v2.3h-19.09zM197.55 451h19.09v2.3h-19.09zM307.88 451h19.09v2.3h-19.09zM234.32 453h19.09v2.3h-19.09zM307.88 453h19.09v2.3h-19.09zM197.55 455h19.09v2.3h-19.09zM234.32 455h19.09v2.3h-19.09zM307.88 455h19.09v2.3h-19.09zM197.55 459h19.09v2.3h-19.09zM179.16 461h19.09v2.3h-19.09zM234.32 463h19.09v2.3h-19.09zM307.88 463h19.09v2.3h-19.09zM197.55 467h19.09v2.3h-19.09zM160.78 469h19.09v2.3h-19.09zM179.16 469h19.09v2.3h-19.09zM197.55 469h19.09v2.3h-19.09zM160.78 471h19.09v2.3h-19.09zM307.88 471h19.09v2.3h-19.09zM160.78 473h19.09v2.3h-19.09zM234.32 473h19.09v2.3h-19.09zM197.55 475h19.09v2.3h-19.09zM289.49 477h19.09v2.3h-19.09zM160.78 481h19.09v2.3h-19.09zM197.55 481h19.09v2.3h-19.09zM234.32 481h19.09v2.3h-19.09zM197.55 487h19.09v2.3h-19.09zM197.55 491h19.09v2.3h-19.09zM197.55 493h19.09v2.3h-19.09zM307.88 495h19.09v2.3h-19.09zM289.49 497h19.09v2.3h-19.09zM124 499h19.09v2.3h-19.09zM124 501h19.09v2.3h-19.09zM179.16 501h19.09v2.3h-19.09zM197.55 503h19.09v2.3h-19.09zM307.88 503h19.09v2.3h-19.09zM197.55 505h19.09v2.3h-19.09zM234.32 505h19.09v2.3h-19.09zM124 509h19.09v2.3h-19.09zM160.78 509h19.09v2.3h-19.09zM179.16 511h19.09v2.3h-19.09zM142.39 513h19.09v2.3h-19.09zM307.88 513h19.09v2.3h-19.09zM179.16 515h19.09v2.3h-19.09zM197.55 515h19.09v2.3h-19.09zM124 517h19.09v2.3h-19.09zM142.39 517h19.09v2.3h-19.09zM160.78 517h19.09v2.3h-19.09zM307.88 517h19.09v2.3h-19.09zM179.16 519h19.09v2.3h-19.09zM234.32 519h19.09v2.3h-19.09zM307.88 519h19.09v2.3h-19.09zM197.55 521h19.09v2.3h-19.09zM179.16 523h19.09v2.3h-19.09zM234.32 523h19.09v2.3h-19.09zM124 525h19.09v2.3h-19.09zM197.55 525h19.09v2.3h-19.09zM289.49 529h19.09v2.3h-19.09zM124 531h19.09v2.3h-19.09zM142.39 531h19.09v2.3h-19.09zM179.16 531h19.09v2.3h-19.09zM234.32 531h19.09v2.3h-19.09zM179.16 533h19.09v2.3h-19.09zM179.16 535h19.09v2.3h-19.09zM124 539h19.09v1.3h-19.09zM179.16 539h19.09v1.3h-19.09zM160.78 546h19.09v2.3h-19.09zM179.16 546h19.09v2.3h-19.09zM124 548h19.09v2.3h-19.09zM179.16 548h19.09v2.3h-19.09zM160.78 554h19.09v2.3h-19.09zM160.78 574h19.09v2.3h-19.09zM399.81 574h19.09v2.3h-19.09zM418.2 576h19.09v2.3h-19.09zM197.55 582h19.09v2.3h-19.09zM399.81 582h19.09v2.3h-19.09zM418.2 586h19.09v2.3h-19.09zM197.55 590h19.09v2.3h-19.09zM160.78 592h19.09v2.3h-19.09zM418.2 592h19.09v2.3h-19.09zM160.78 596h19.09v2.3h-19.09zM124 602h19.09v2.3h-19.09zM197.55 602h19.09v2.3h-19.09zM197.55 610h19.09v2.3h-19.09zM418.2 610h19.09v2.3h-19.09zM399.81 618h19.09v2.3h-19.09zM418.2 618h19.09v2.3h-19.09zM160.78 622h19.09v2.3h-19.09zM399.81 622h19.09v2.3h-19.09zM399.81 626h19.09v2.3h-19.09z"/>
<path fill="#a80000" d="M363.04 71h19.09v2.3h-19.09zM179.16 81h19.09v2.3h-19.09zM289.49 103h19.09v2.3h-19.09zM179.16 139h19.09v2.3h-19.09zM289.49 139h19.09v2.3h-19.09zM179.16 143h19.09v2.3h-19.09zM197.55 145h19.09v2.3h-19.09zM289.49 147h19.09v2.3h-19.09zM289.49 161h19.09v2.3h-19.09zM289.49 167h19.09v2.3h-19.09zM197.55 173h19.09v2.3h-19.09zM289.49 177h19.09v2.3h-19.09zM179.16 185h19.09v2.3h-19.09zM289.49 187h19.09v2.3h-19.09zM197.55 189h19.09v2.3h-19.09zM197.55 193h19.09v2.3h-19.09zM289.49 195h19.09v2.3h-19.09zM289.49 201h19.09v2.3h-19.09zM289.49 203h19.09v2.3h-19.09zM197.55 213h19.09v2.3h-19.09zM289.49 229h19.09v2.3h-19.09zM197.55 233h19.09v2.3h-19.09zM289.49 233h19.09v2.3h-19.09zM289.49 237h19.09v2.3h-19.09zM289.49 243h19.09v2.3h-19.09zM197.55 247h19.09v2.3h-19.09zM197.55 249h19.09v2.3h-19.09zM197.55 255h19.09v2.3h-19.09zM289.49 259h19.09v2.3h-19.09zM289.49 261h19.09v2.3h-19.09zM197.55 265h19.09v2.3h-19.09zM197.55 267h19.09v2.3h-19.09zM289.49 271h19.09v2.3h-19.09zM197.55 273h19.09v2.3h-19.09zM289.49 273h19.09v2.3h-19.09zM289.49 277h19.09v2.3h-19.09zM289.49 289h19.09v2.3h-19.09zM289.49 291h19.09v2.3h-19.09zM197.55 297h19.09v2.3h-19.09zM289.49 299h19.09v2.3h-19.09zM289.49 301h19.09v2.3h-19.09zM289.49 303h19.09v2.3h-19.09zM179.16 311h19.09v2.3h-19.09zM197.55 311h19.09v2.3h-19.09zM289.49 353h19.09v2.3h-19.09zM289.49 369h19.09v2.3h-19.09zM289.49 377h19.09v2.3h-19.09zM289.49 417h19.09v2.3h-19.09zM289.49 433h19.09v2.3h-19.09zM289.49 463h19.09v2.3h-19.09zM289.49 467h19.09v2.3h-19.09zM289.49 501h19.09v2.3h-19.09zM197.55 513h19.09v2.3h-19.09zM289.49 519h19.09v2.3h-19.09z"/>
<path fill="#6c0000" d="M399.81 71h19.09v2.3h-19.09zM271.1 77h19.09v2.3h-19.09zM289.49 81h19.09v2.3h-19.09zM418.2 81h19.09v2.3h-19.09zM528.52 81h19.09v2.3h-19.09zM289.49 83h19.09v2.3h-19.09zM197.55 87h19.09v2.3h-19.09zM234.32 89h19.09v2.3h-19.09zM289.49 89h19.09v2.3h-19.09zM491.75 89h19.09v2.3h-19.09zM234.32 97h19.09v2.3h-19.09zM160.78 99h19.09v2.3h-19.09zM307.88 99h19.09v2.3h-19.09zM344.65 99h19.09v2.3h-19.09zM234.32 103h19.09v2.3h-19.09zM436.59 103h19.09v2.3h-19.09zM454.97 103h19.09v2.3h-19.09zM160.78 113h19.09v2.3h-19.09zM179.16 125h19.09v2.3h-19.09zM234.32 125h19.09v2.3h-19.09zM124 127h19.09v2.3h-19.09zM307.88 127h19.09v2.3h-19.09zM234.32 131h19.09v2.3h-19.09zM307.88 131h19.09v2.3h-19.09zM142.39 133h19.09v2.3h-19.09zM142.39 135h19.09v2.3h-19.09zM234.32 135h19.09v2.3h-19.09zM124 137h19.09v2.3h-19.09zM142.39 139h19.09v2.3h-19.09zM234.32 147h19.09v2.3h-19.09zM234.32 149h19.09v2.3h-19.09zM142.39 151h19.09v2.3h-19.09zM160.78 153h19.09v2.3h-19.09zM234.32 153h19.09v2.3h-19.09zM234.32 155h19.09v2.3h-19.09zM142.39 157h19.09v2.3h-19.09zM234.32 157h19.09v2.3h-19.09zM124 159h19.09v2.3h-19.09zM307.88 159h19.09v2.3h-19.09zM124 161h19.09v2.3h-19.09zM142.39 161h19.09v2.3h-19.09zM160.78 161h19.09v2.3h-19.09zM142.39 163h19.09v2.3h-19.09zM142.39 169h19.09v2.3h-19.09zM124 173h19.09v2.3h-19.09zM234.32 173h19.09v2.3h-19.09zM160.78 175h19.09v2.3h-19.09zM307.88 175h19.09v2.3h-19.09zM124 177h19.09v2.3h-19.09zM142.39 177h19.09v2.3h-19.09zM234.32 177h19.09v2.3h-19.09zM124 181h19.09v2.3h-19.09zM234.32 181h19.09v2.3h-19.09zM234.32 185h19.09v2.3h-19.09zM142.39 187h19.09v2.3h-19.09zM307.88 187h19.09v2.3h-19.09zM142.39 189h19.09v2.3h-19.09zM234.32 191h19.09v2.3h-19.09zM124 193h19.09v2.3h-19.09zM234.32 193h19.09v2.3h-19.09zM142.39 195h19.09v2.3h-19.09zM160.78 197h19.09v2.3h-19.09zM234.32 197h19.09v2.3h-19.09zM142.39 201h19.09v2.3h-19.09zM160.78 201h19.09v2.3h-19.09zM234.32 203h19.09v2.3h-19.09zM234.32 205h19.09v2.3h-19.09zM124 207h19.09v2.3h-19.09zM142.39 207h19.09v2.3h-19.09zM234.32 207h19.09v2.3h-19.09zM124 209h19.09v2.3h-19.09zM234.32 209h19.09v2.3h-19.09zM142.39 211h19.09v2.3h-19.09zM160.78 211h19.09v2.3h-19.09zM234.32 211h19.09v2.3h-19.09zM307.88 211h19.09v2.3h-19.09zM124 213h19.09v2.3h-19.09zM142.39 213h19.09v2.3h-19.09zM234.32 213h19.09v2.3h-19.09zM142.39 217h19.09v2.3h-19.09zM197.55 217h19.09v2.3h-19.09zM142.39 219h19.09v2.3h-19.09zM234.32 219h19.09v2.3h-19.09zM142.39 223h19.09v2.3h-19.09zM160.78 223h19.09v2.3h-19.09zM124 227h19.09v2.3h-19.09zM142.39 227h19.09v2.3h-19.09zM234.32 229h19.09v2.3h-19.09zM160.78 231h19.09v2.3h-19.09zM234.32 231h19.09v2.3h-19.09zM142.39 233h19.09v2.3h-19.09zM124 235h19.09v2.3h-19.09zM124 239h19.09v2.3h-19.09zM307.88 239h19.09v2.3h-19.09zM160.78 241h19.09v2.3h-19.09zM179.16 241h19.09v2.3h-19.09zM160.78 243h19.09v2.3h-19.09zM234.32 243h19.09v2.3h-19.09zM124 245h19.09v2.3h-19.09zM142.39 245h19.09v2.3h-19.09zM160.78 249h19.09v2.3h-19.09zM234.32 251h19.09v2.3h-19.09zM142.39 253h19.09v2.3h-19.09zM307.88 253h19.09v2.3h-19.09zM142.39 255h19.09v2.3h-19.09zM234.32 259h19.09v2.3h-19.09zM124 263h19.09v2.3h-19.09zM160.78 263h19.09v2.3h-19.09zM179.16 263h19.09v2.3h-19.09zM307.88 263h19.09v2.3h-19.09zM142.39 269h19.09v2.3h-19.09zM234.32 269h19.09v2.3h-19.09zM124 271h19.09v2.3h-19.09zM418.2 271h19.09v2.3h-19.09zM124 275h19.09v2.3h-19.09zM124 277h19.09v2.3h-19.09zM142.39 277h19.09v2.3h-19.09zM234.32 277h19.09v2.3h-19.09zM307.88 277h19.09v2.3h-19.09zM124 279h19.09v2.3h-19.09zM142.39 279h19.09v2.3h-19.09zM234.32 279h19.09v2.3h-19.09zM307.88 279h19.09v2.3h-19.09zM124 281h19.09v2.3h-19.09zM142.39 281h19.09v2.3h-19.09zM234.32 281h19.09v2.3h-19.09zM124 283h19.09v2.3h-19.09zM142.39 283h19.09v2.3h-19.09zM160.78 283h19.09v2.3h-19.09zM142.39 285h19.09v2.3h-19.09zM160.78 285h19.09v2.3h-19.09zM160.78 287h19.09v2.3h-19.09zM124 291h19.09v2.3h-19.09zM142.39 293h19.09v2.3h-19.09zM160.78 293h19.09v2.3h-19.09zM124 297h19.09v2.3h-19.09zM142.39 297h19.09v2.3h-19.09zM124 299h19.09v2.3h-19.09zM160.78 299h19.09v2.3h-19.09zM234.32 301h19.09v2.3h-19.09zM124 303h19.09v2.3h-19.09zM142.39 303h19.09v2.3h-19.09zM124 305h19.09v2.3h-19.09zM142.39 305h19.09v2.3h-19.09zM307.88 307h19.09v2.3h-19.09zM142.39 309h19.09v2.3h-19.09zM142.39 313h19.09v2.3h-19.09zM160.78 313h19.09v2.3h-19.09zM234.32 313h19.09v2.3h-19.09zM142.39 315h19.09v2.3h-19.09zM142.39 317h19.09v2.3h-19.09zM160.78 317h19.09v2.3h-19.09zM234.32 317h19.09v2.3h-19.09zM307.88 317h19.09v2.3h-19.09zM124 319h19.09v2.3h-19.09zM234.32 319h19.09v2.3h-19.09zM124 321h19.09v2.3h-19.09zM160.78 323h19.09v2.3h-19.09zM142.39 327h19.09v2.3h-19.09zM124 329h19.09v2.3h-19.09zM234.32 329h19.09v2.3h-19.09zM142.39 331h19.09v2.3h-19.09zM234.32 331h19.09v2.3h-19.09zM307.88 333h19.09v2.3h-19.09zM160.78 335h19.09v2.3h-19.09zM124 337h19.09v2.3h-19.09zM160.78 337h19.09v2.3h-19.09zM234.32 339h19.09v2.3h-19.09zM124 341h19.09v2.3h-19.09zM160.78 341h19.09v2.3h-19.09zM124 343h19.09v2.3h-19.09zM307.88 343h19.09v2.3h-19.09zM307.88 345h19.09v2.3h-19.09zM197.55 347h19.09v2.3h-19.09zM197.55 349h19.09v2.3h-19.09zM142.39 353h19.09v2.3h-19.09zM234.32 353h19.09v2.3h-19.09zM307.88 353h19.09v2.3h-19.09zM124 359h19.09v2.3h-19.09zM160.78 359h19.09v2.3h-19.09zM179.16 359h19.09v2.3h-19.09zM124 361h19.09v2.3h-19.09zM307.88 361h19.09v2.3h-19.09zM124 365h19.09v2.3h-19.09zM160.78 365h19.09v2.3h-19.09zM234.32 365h19.09v2.3h-19.09zM142.39 367h19.09v2.3h-19.09zM179.16 367h19.09v2.3h-19.09zM307.88 367h19.09v2.3h-19.09zM234.32 369h19.09v2.3h-19.09zM179.16 371h19.09v2.3h-19.09zM197.55 371h19.09v2.3h-19.09zM160.78 373h19.09v2.3h-19.09zM234.32 373h19.09v2.3h-19.09zM124 375h19.09v2.3h-19.09zM179.16 375h19.09v2.3h-19.09zM234.32 375h19.09v2.3h-19.09zM307.88 375h19.09v2.3h-19.09zM234.32 377h19.09v2.3h-19.09zM307.88 377h19.09v2.3h-19.09zM234.32 379h19.09v2.3h-19.09zM307.88 379h19.09v2.3h-19.09zM142.39 381h19.09v2.3h-19.09zM234.32 381h19.09v2.3h-19.09zM142.39 383h19.09v2.3h-19.09zM124 385h19.09v2.3h-19.09zM160.78 385h19.09v2.3h-19.09zM197.55 385h19.09v2.3h-19.09zM234.32 385h19.09v2.3h-19.09zM307.88 385h19.09v2.3h-19.09zM234.32 387h19.09v2.3h-19.09zM307.88 387h19.09v2.3h-19.09zM179.16 391h19.09v2.3h-19.09zM234.32 391h19.09v2.3h-19.09zM124 393h19.09v2.3h-19.09zM142.39 393h19.09v2.3h-19.09zM234.32 393h19.09v2.3h-19.09zM160.78 397h19.09v2.3h-19.09zM179.16 397h19.09v2.3h-19.09zM160.78 399h19.09v2.3h-19.09zM124 403h19.09v2.3h-19.09zM160.78 403h19.09v2.3h-19.09zM197.55 403h19.09v2.3h-19.09zM124 405h19.09v2.3h-19.09zM160.78 405h19.09v2.3h-19.09zM124 407h19.09v2.3h-19.09zM142.39 407h19.09v2.3h-19.09zM160.78 409h19.09v2.3h-19.09zM234.32 409h19.09v2.3h-19.09zM179.16 411h19.09v2.3h-19.09zM234.32 411h19.09v2.3h-19.09zM307.88 411h19.09v2.3h-19.09zM124 413h19.09v2.3h-19.09zM307.88 415h19.09v2.3h-19.09zM124 417h19.09v2.3h-19.09zM142.39 417h19.09v2.3h-19.09zM179.16 417h19.09v2.3h-19.09zM160.78 419h19.09v2.3h-19.09zM307.88 419h19.09v2.3h-19.09zM124 421h19.09v2.3h-19.09zM307.88 421h19.09v2.3h-19.09zM179.16 423h19.09v2.3h-19.09zM142.39 427h19.09v2.3h-19.09zM160.78 427h19.09v2.3h-19.09zM234.32 427h19.09v2.3h-19.09zM124 429h19.09v2.3h-19.09zM160.78 429h19.09v2.3h-19.09zM179.16 429h19.09v2.3h-19.09zM197.55 429h19.09v2.3h-19.09zM234.32 437h19.09v2.3h-19.09zM307.88 437h19.09v2.3h-19.09zM142.39 439h19.09v2.3h-19.09zM197.55 441h19.09v2.3h-19.09zM160.78 443h19.09v2.3h-19.09zM289.49 443h19.09v2.3h-19.09zM160.78 445h19.09v2.3h-19.09zM179.16 445h19.09v2.3h-19.09zM197.55 445h19.09v2.3h-19.09zM160.78 447h19.09v2.3h-19.09zM142.39 449h19.09v2.3h-19.09zM234.32 449h19.09v2.3h-19.09zM124 453h19.09v2.3h-19.09zM160.78 453h19.09v2.3h-19.09zM179.16 453h19.09v2.3h-19.09zM124 455h19.09v2.3h-19.09zM160.78 455h19.09v2.3h-19.09zM179.16 455h19.09v2.3h-19.09zM179.16 457h19.09v2.3h-19.09zM197.55 457h19.09v2.3h-19.09zM234.32 459h19.09v2.3h-19.09zM124 461h19.09v2.3h-19.09zM160.78 461h19.09v2.3h-19.09zM197.55 461h19.09v2.3h-19.09zM160.78 463h19.09v2.3h-19.09zM179.16 463h19.09v2.3h-19.09zM179.16 465h19.09v2.3h-19.09zM307.88 465h19.09v2.3h-19.09zM124 471h19.09v2.3h-19.09zM234.32 471h19.09v2.3h-19.09zM124 473h19.09v2.3h-19.09zM179.16 475h19.09v2.3h-19.09zM197.55 479h19.09v2.3h-19.09zM124 481h19.09v2.3h-19.09zM124 483h19.09v2.3h-19.09zM160.78 483h19.09v2.3h-19.09zM179.16 483h19.09v2.3h-19.09zM307.88 483h19.09v2.3h-19.09zM179.16 485h19.09v2.3h-19.09zM197.55 485h19.09v2.3h-19.09zM124 487h19.09v2.3h-19.09zM142.39 487h19.09v2.3h-19.09zM142.39 489h19.09v2.3h-19.09zM160.78 489h19.09v2.3h-19.09zM234.32 489h19.09v2.3h-19.09zM307.88 489h19.09v2.3h-19.09zM160.78 491h19.09v2.3h-19.09zM160.78 493h19.09v2.3h-19.09zM124 495h19.09v2.3h-19.09zM160.78 495h19.09v2.3h-19.09zM179.16 499h19.09v2.3h-19.09zM234.32 499h19.09v2.3h-19.09zM307.88 499h19.09v2.3h-19.09zM160.78 501h19.09v2.3h-19.09zM234.32 501h19.09v2.3h-19.09zM307.88 505h19.09v2.3h-19.09zM197.55 507h19.09v2.3h-19.09zM307.88 507h19.09v2.3h-19.09zM234.32 509h19.09v2.3h-19.09zM307.88 509h19.09v2.3h-19.09zM234.32 515h19.09v2.3h-19.09zM307.88 515h19.09v2.3h-19.09zM124 519h19.09v2.3h-19.09zM124 523h19.09v2.3h-19.09zM142.39 523h19.09v2.3h-19.09zM160.78 523h19.09v2.3h-19.09zM307.88 523h19.09v2.3h-19.09zM142.39 525h19.09v2.3h-19.09zM160.78 525h19.09v2.3h-19.09zM124 527h19.09v2.3h-19.09zM160.78 527h19.09v2.3h-19.09zM179.16 527h19.09v2.3h-19.09zM197.55 527h19.09v2.3h-19.09zM197.55 529h19.09v2.3h-19.09zM307.88 529h19.09v2.3h-19.09zM160.78 535h19.09v2.3h-19.09zM307.88 535h19.09v2.3h-19.09zM142.39 539h19.09v1.3h-19.09zM197.55 539h19.09v1.3h-19.09zM399.81 542h19.09v2.3h-19.09zM399.81 544h19.09v2.3h-19.09zM418.2 544h19.09v2.3h-19.09zM418.2 546h19.09v2.3h-19.09zM399.81 548h19.09v2.3h-19.09zM197.55 550h19.09v2.3h-19.09zM418.2 550h19.09v2.3h-19.09zM160.78 552h19.09v2.3h-19.09zM197.55 552h19.09v2.3h-19.09zM344.65 552h19.09v2.3h-19.09zM197.55 554h19.09v2.3h-19.09zM197.55 556h19.09v2.3h-19.09zM160.78 564h19.09v2.3h-19.09zM399.81 564h19.09v2.3h-19.09zM160.78 568h19.09v2.3h-19.09zM197.55 568h19.09v2.3h-19.09zM160.78 570h19.09v2.3h-19.09zM160.78 578h19.09v2.3h-19.09zM160.78 580h19.09v2.3h-19.09zM418.2 580h19.09v2.3h-19.09zM197.55 584h19.09v2.3h-19.09zM160.78 586h19.09v2.3h-19.09zM197.55 588h19.09v2.3h-19.09zM399.81 588h19.09v2.3h-19.09zM418.2 588h19.09v2.3h-19.09zM179.16 590h19.09v2.3h-19.09zM197.55 592h19.09v2.3h-19.09zM399.81 592h19.09v2.3h-19.09zM418.2 598h19.09v2.3h-19.09zM179.16 600h19.09v2.3h-19.09zM399.81 600h19.09v2.3h-19.09zM418.2 600h19.09v2.3h-19.09zM179.16 606h19.09v2.3h-19.09zM197.55 606h19.09v2.3h-19.09zM418.2 606h19.09v2.3h-19.09zM160.78 608h19.09v2.3h-19.09zM160.78 610h19.09v2.3h-19.09zM179.16 610h19.09v2.3h-19.09zM418.2 612h19.09v2.3h-19.09zM160.78 616h19.09v2.3h-19.09zM197.55 616h19.09v2.3h-19.09zM160.78 624h19.09v2.3h-19.09zM197.55 624h19.09v2.3h-19.09zM418.2 624h19.09v2.3h-19.09zM160.78 626h19.09v2.3h-19.09zM418.2 626h19.09v2.3h-19.09zM160.78 628h19.09v1.3h-19.09zM418.2 628h19.09v1.3h-19.09z"/>
<path fill="#240000" d="M160.78 73h19.09v2.3h-19.09zM307.88 73h19.09v2.3h-19.09zM289.49 77h19.09v2.3h-19.09zM271.1 81h19.09v2.3h-19.09zM197.55 83h19.09v2.3h-19.09zM454.97 83h19.09v2.3h-19.09zM510.14 83h19.09v2.3h-19.09zM160.78 89h19.09v2.3h-19.09zM344.65 89h19.09v2.3h-19.09zM510.14 89h19.09v2.3h-19.09zM418.2 97h19.09v2.3h-19.09zM528.52 97h19.09v2.3h-19.09zM124 103h19.09v2.3h-19.09zM344.65 103h19.09v2.3h-19.09zM491.75 103h19.09v2.3h-19.09zM179.16 109h19.09v2.3h-19.09zM546.91 113h19.09v2.3h-19.09zM142.39 115h19.09v2.3h-19.09zM473.36 115h19.09v2.3h-19.09zM124 117h19.09v2.3h-19.09zM197.55 117h19.09v2.3h-19.09zM271.1 117h19.09v2.3h-19.09zM252.71 119h19.09v2.3h-19.09zM546.91 119h19.09v2.3h-19.09zM179.16 121h19.09v2.3h-19.09zM326.26 121h19.09v2.3h-19.09zM418.2 125h19.09v2.3h-19.09zM436.59 125h19.09v2.3h-19.09zM215.94 127h19.09v2.3h-19.09zM418.2 127h19.09v2.3h-19.09zM215.94 129h19.09v2.3h-19.09zM215.94 131h19.09v2.3h-19.09zM326.26 133h19.09v2.3h-19.09zM418.2 133h19.09v2.3h-19.09zM436.59 135h19.09v2.3h-19.09zM326.26 137h19.09v2.3h-19.09zM215.94 151h19.09v2.3h-19.09zM454.97 151h19.09v2.3h-19.09zM215.94 155h19.09v2.3h-19.09zM215.94 157h19.09v2.3h-19.09zM215.94 169h19.09v2.3h-19.09zM326.26 169h19.09v2.3h-19.09zM215.94 175h19.09v2.3h-19.09zM215.94 181h19.09v2.3h-19.09zM528.52 185h19.09v2.3h-19.09zM215.94 187h19.09v2.3h-19.09zM215.94 195h19.09v2.3h-19.09zM418.2 201h19.09v2.3h-19.09zM271.1 205h19.09v2.3h-19.09zM326.26 207h19.09v2.3h-19.09zM326.26 209h19.09v2.3h-19.09zM326.26 211h19.09v2.3h-19.09zM215.94 215h19.09v2.3h-19.09zM326.26 223h19.09v2.3h-19.09zM418.2 225h19.09v2.3h-19.09zM436.59 225h19.09v2.3h-19.09zM215.94 229h19.09v2.3h-19.09zM215.94 231h19.09v2.3h-19.09zM326.26 233h19.09v2.3h-19.09zM326.26 241h19.09v2.3h-19.09zM215.94 251h19.09v2.3h-19.09zM215.94 257h19.09v2.3h-19.09zM436.59 257h19.09v2.3h-19.09zM215.94 263h19.09v2.3h-19.09zM418.2 263h19.09v2.3h-19.09zM326.26 267h19.09v2.3h-19.09zM326.26 277h19.09v2.3h-19.09zM252.71 279h19.09v2.3h-19.09zM326.26 279h19.09v2.3h-19.09zM215.94 283h19.09v2.3h-19.09zM271.1 297h19.09v2.3h-19.09zM215.94 305h19.09v2.3h-19.09zM215.94 307h19.09v2.3h-19.09zM326.26 307h19.09v2.3h-19.09zM418.2 307h19.09v2.3h-19.09zM215.94 309h19.09v2.3h-19.09zM215.94 313h19.09v2.3h-19.09zM326.26 313h19.09v2.3h-19.09zM215.94 315h19.09v2.3h-19.09zM215.94 317h19.09v2.3h-19.09zM326.26 317h19.09v2.3h-19.09zM436.59 319h19.09v2.3h-19.09zM215.94 321h19.09v2.3h-19.09zM418.2 327h19.09v2.3h-19.09zM436.59 327h19.09v2.3h-19.09zM436.59 329h19.09v2.3h-19.09zM215.94 333h19.09v2.3h-19.09zM418.2 333h19.09v2.3h-19.09zM436.59 333h19.09v2.3h-19.09zM326.26 351h19.09v2.3h-19.09zM215.94 357h19.09v2.3h-19.09zM326.26 359h19.09v2.3h-19.09zM418.2 359h19.09v2.3h-19.09zM215.94 363h19.09v2.3h-19.09zM436.59 363h19.09v2.3h-19.09zM326.26 365h19.09v2.3h-19.09zM436.59 365h19.09v2.3h-19.09zM326.26 367h19.09v2.3h-19.09zM326.26 369h19.09v2.3h-19.09zM418.2 371h19.09v2.3h-19.09zM326.26 375h19.09v2.3h-19.09zM418.2 377h19.09v2.3h-19.09zM215.94 381h19.09v2.3h-19.09zM418.2 381h19.09v2.3h-19.09zM528.52 383h19.09v2.3h-19.09zM215.94 387h19.09v2.3h-19.09zM436.59 387h19.09v2.3h-19.09zM215.94 389h19.09v2.3h-19.09zM399.81 389h19.09v2.3h-19.09zM326.26 393h19.09v2.3h-19.09zM215.94 395h19.09v2.3h-19.09zM436.59 399h19.09v2.3h-19.09zM215.94 403h19.09v2.3h-19.09zM418.2 403h19.09v2.3h-19.09zM436.59 403h19.09v2.3h-19.09zM215.94 405h19.09v2.3h-19.09zM326.26 409h19.09v2.3h-19.09zM418.2 411h19.09v2.3h-19.09zM215.94 413h19.09v2.3h-19.09zM326.26 415h19.09v2.3h-19.09zM436.59 415h19.09v2.3h-19.09zM215.94 417h19.09v2.3h-19.09zM215.94 419h19.09v2.3h-19.09zM418.2 431h19.09v2.3h-19.09zM436.59 431h19.09v2.3h-19.09zM215.94 443h19.09v2.3h-19.09zM326.26 443h19.09v2.3h-19.09zM215.94 445h19.09v2.3h-19.09zM326.26 445h19.09v2.3h-19.09zM418.2 445h19.09v2.3h-19.09zM436.59 445h19.09v2.3h-19.09zM215.94 447h19.09v2.3h-19.09zM418.2 449h19.09v2.3h-19.09zM215.94 453h19.09v2.3h-19.09zM436.59 457h19.09v2.3h-19.09zM215.94 459h19.09v2.3h-19.09zM215.94 461h19.09v2.3h-19.09zM215.94 463h19.09v2.3h-19.09zM215.94 465h19.09v2.3h-19.09zM418.2 469h19.09v2.3h-19.09zM418.2 473h19.09v2.3h-19.09zM436.59 475h19.09v2.3h-19.09zM436.59 481h19.09v2.3h-19.09zM215.94 483h19.09v2.3h-19.09zM418.2 485h19.09v2.3h-19.09zM436.59 485h19.09v2.3h-19.09zM215.94 487h19.09v2.3h-19.09zM215.94 491h19.09v2.3h-19.09zM326.26 491h19.09v2.3h-19.09zM418.2 491h19.09v2.3h-19.09zM436.59 491h19.09v2.3h-19.09zM215.94 493h19.09v2.3h-19.09zM436.59 505h19.09v2.3h-19.09zM418.2 507h19.09v2.3h-19.09zM418.2 509h19.09v2.3h-19.09zM326.26 511h19.09v2.3h-19.09zM418.2 511h19.09v2.3h-19.09zM326.26 513h19.09v2.3h-19.09zM215.94 515h19.09v2.3h-19.09zM326.26 519h19.09v2.3h-19.09zM215.94 521h19.09v2.3h-19.09zM418.2 521h19.09v2.3h-19.09zM363.04 529h19.09v2.3h-19.09zM215.94 533h19.09v2.3h-19.09zM418.2 533h19.09v2.3h-19.09zM215.94 539h19.09v1.3h-19.09zM399.81 539h19.09v1.3h-19.09zM289.49 542h19.09v2.3h-19.09zM363.04 542h19.09v2.3h-19.09zM344.65 544h19.09v2.3h-19.09zM436.59 544h19.09v2.3h-19.09zM363.04 546h19.09v2.3h-19.09zM381.43 546h19.09v2.3h-19.09zM363.04 550h19.09v2.3h-19.09zM363.04 552h19.09v2.3h-19.09zM436.59 552h19.09v2.3h-19.09zM142.39 554h19.09v2.3h-19.09zM289.49 554h19.09v2.3h-19.09zM344.65 554h19.09v2.3h-19.09zM436.59 554h19.09v2.3h-19.09zM124 558h19.09v2.3h-19.09zM363.04 558h19.09v2.3h-19.09zM142.39 560h19.09v2.3h-19.09zM363.04 560h19.09v2.3h-19.09zM381.43 562h19.09v2.3h-19.09zM436.59 566h19.09v2.3h-19.09zM344.65 570h19.09v2.3h-19.09zM344.65 576h19.09v2.3h-19.09zM363.04 576h19.09v2.3h-19.09zM215.94 578h19.09v2.3h-19.09zM363.04 578h19.09v2.3h-19.09zM124 580h19.09v2.3h-19.09zM381.43 580h19.09v2.3h-19.09zM289.49 582h19.09v2.3h-19.09zM289.49 584h19.09v2.3h-19.09zM344.65 584h19.09v2.3h-19.09zM215.94 586h19.09v2.3h-19.09zM289.49 586h19.09v2.3h-19.09zM344.65 586h19.09v2.3h-19.09zM142.39 588h19.09v2.3h-19.09zM215.94 588h19.09v2.3h-19.09zM307.88 588h19.09v2.3h-19.09zM215.94 590h19.09v2.3h-19.09zM363.04 590h19.09v2.3h-19.09zM344.65 592h19.09v2.3h-19.09zM142.39 594h19.09v2.3h-19.09zM215.94 594h19.09v2.3h-19.09zM142.39 596h19.09v2.3h-19.09zM215.94 596h19.09v2.3h-19.09zM344.65 596h19.09v2.3h-19.09zM363.04 596h19.09v2.3h-19.09zM289.49 598h19.09v2.3h-19.09zM363.04 598h19.09v2.3h-19.09zM381.43 602h19.09v2.3h-19.09zM124 604h19.09v2.3h-19.09zM344.65 604h19.09v2.3h-19.09zM363.04 604h19.09v2.3h-19.09zM124 606h19.09v2.3h-19.09zM142.39 606h19.09v2.3h-19.09zM289.49 606h19.09v2.3h-19.09zM289.49 608h19.09v2.3h-19.09zM124 610h19.09v2.3h-19.09zM363.04 612h19.09v2.3h-19.09zM363.04 614h19.09v2.3h-19.09zM436.59 614h19.09v2.3h-19.09zM363.04 616h19.09v2.3h-19.09zM363.04 618h19.09v2.3h-19.09zM381.43 618h19.09v2.3h-19.09zM142.39 620h19.09v2.3h-19.09zM215.94 620h19.09v2.3h-19.09zM142.39 622h19.09v2.3h-19.09zM215.94 622h19.09v2.3h-19.09zM215.94 624h19.09v2.3h-19.09zM215.94 626h19.09v2.3h-19.09zM289.49 626h19.09v2.3h-19.09zM363.04 626h19.09v2.3h-19.09zM363.04 628h19.09v1.3h-19.09z"/>
<path fill="#002400" d="M197.55 73h19.09v2.3h-19.09zM234.32 73h19.09v2.3h-19.09zM473.36 73h19.09v2.3h-19.09zM344.65 75h19.09v2.3h-19.09zM510.14 75h19.09v2.3h-19.09zM399.81 79h19.09v2.3h-19.09zM491.75 87h19.09v2.3h-19.09zM528.52 91h19.09v2.3h-19.09zM307.88 93h19.09v2.3h-19.09zM399.81 97h19.09v2.3h-19.09zM528.52 99h19.09v2.3h-19.09zM546.91 101h19.09v2.3h-19.09zM399.81 105h19.09v2.3h-19.09zM142.39 107h19.09v2.3h-19.09zM491.75 107h19.09v2.3h-19.09zM454.97 109h19.09v2.3h-19.09zM473.36 109h19.09v2.3h-19.09zM142.39 111h19.09v2.3h-19.09zM363.04 111h19.09v2.3h-19.09zM418.2 111h19.09v2.3h-19.09zM234.32 113h19.09v2.3h-19.09zM289.49 115h19.09v2.3h-19.09zM418.2 115h19.09v2.3h-19.09zM252.71 117h19.09v2.3h-19.09zM454.97 117h19.09v2.3h-19.09zM124 119h19.09v2.3h-19.09zM271.1 119h19.09v2.3h-19.09zM473.36 121h19.09v2.3h-19.09zM381.43 123h19.09v2.3h-19.09zM436.59 123h19.09v2.3h-19.09zM363.04 125h19.09v2.3h-19.09zM142.39 145h19.09v2.3h-19.09zM252.71 155h19.09v2.3h-19.09zM252.71 173h19.09v2.3h-19.09zM399.81 175h19.09v2.3h-19.09zM215.94 191h19.09v2.3h-19.09zM160.78 195h19.09v2.3h-19.09zM252.71 195h19.09v2.3h-19.09zM363.04 197h19.09v2.3h-19.09zM363.04 217h19.09v2.3h-19.09zM252.71 219h19.09v2.3h-19.09zM399.81 241h19.09v2.3h-19.09zM363.04 263h19.09v2.3h-19.09zM252.71 265h19.09v2.3h-19.09zM252.71 267h19.09v2.3h-19.09zM363.04 279h19.09v2.3h-19.09zM363.04 285h19.09v2.3h-19.09zM363.04 305h19.09v2.3h-19.09zM399.81 305h19.09v2.3h-19.09zM363.04 309h19.09v2.3h-19.09zM363.04 313h19.09v2.3h-19.09zM363.04 321h19.09v2.3h-19.09zM363.04 327h19.09v2.3h-19.09zM363.04 333h19.09v2.3h-19.09zM399.81 333h19.09v2.3h-19.09zM399.81 335h19.09v2.3h-19.09zM252.71 341h19.09v2.3h-19.09zM215.94 343h19.09v2.3h-19.09zM124 347h19.09v2.3h-19.09zM363.04 347h19.09v2.3h-19.09zM363.04 349h19.09v2.3h-19.09zM363.04 355h19.09v2.3h-19.09zM252.71 365h19.09v2.3h-19.09zM363.04 369h19.09v2.3h-19.09zM363.04 371h19.09v2.3h-19.09zM363.04 373h19.09v2.3h-19.09zM252.71 381h19.09v2.3h-19.09zM363.04 387h19.09v2.3h-19.09zM271.1 393h19.09v2.3h-19.09zM363.04 397h19.09v2.3h-19.09zM124 399h19.09v2.3h-19.09zM252.71 403h19.09v2.3h-19.09zM399.81 403h19.09v2.3h-19.09zM252.71 409h19.09v2.3h-19.09zM252.71 415h19.09v2.3h-19.09zM252.71 421h19.09v2.3h-19.09zM344.65 425h19.09v2.3h-19.09zM363.04 427h19.09v2.3h-19.09zM252.71 429h19.09v2.3h-19.09zM399.81 429h19.09v2.3h-19.09zM363.04 431h19.09v2.3h-19.09zM399.81 431h19.09v2.3h-19.09zM363.04 435h19.09v2.3h-19.09zM399.81 435h19.09v2.3h-19.09zM399.81 443h19.09v2.3h-19.09zM252.71 449h19.09v2.3h-19.09zM363.04 449h19.09v2.3h-19.09zM363.04 451h19.09v2.3h-19.09zM399.81 455h19.09v2.3h-19.09zM252.71 457h19.09v2.3h-19.09zM363.04 457h19.09v2.3h-19.09zM363.04 465h19.09v2.3h-19.09zM271.1 469h19.09v2.3h-19.09zM399.81 475h19.09v2.3h-19.09zM528.52 477h19.09v2.3h-19.09zM399.81 479h19.09v2.3h-19.09zM399.81 481h19.09v2.3h-19.09zM271.1 485h19.09v2.3h-19.09zM344.65 485h19.09v2.3h-19.09zM363.04 491h19.09v2.3h-19.09zM307.88 493h19.09v2.3h-19.09zM271.1 497h19.09v2.3h-19.09zM399.81 497h19.09v2.3h-19.09zM363.04 503h19.09v2.3h-19.09zM252.71 505h19.09v2.3h-19.09zM399.81 507h19.09v2.3h-19.09zM252.71 509h19.09v2.3h-19.09zM399.81 511h19.09v2.3h-19.09zM252.71 513h19.09v2.3h-19.09zM252.71 521h19.09v2.3h-19.09zM363.04 521h19.09v2.3h-19.09zM271.1 523h19.09v2.3h-19.09zM252.71 525h19.09v2.3h-19.09zM363.04 533h19.09v2.3h-19.09zM528.52 533h19.09v2.3h-19.09zM363.04 535h19.09v2.3h-19.09zM528.52 537h19.09v2.3h-19.09zM307.88 544h19.09v2.3h-19.09zM326.26 546h19.09v2.3h-19.09zM271.1 550h19.09v2.3h-19.09zM271.1 554h19.09v2.3h-19.09zM307.88 554h19.09v2.3h-19.09zM271.1 556h19.09v2.3h-19.09zM271.1 560h19.09v2.3h-19.09zM271.1 562h19.09v2.3h-19.09zM510.14 564h19.09v2.3h-19.09zM271.1 566h19.09v2.3h-19.09zM271.1 570h19.09v2.3h-19.09zM528.52 570h19.09v2.3h-19.09zM307.88 574h19.09v2.3h-19.09zM271.1 576h19.09v2.3h-19.09zM271.1 580h19.09v2.3h-19.09zM307.88 580h19.09v2.3h-19.09zM326.26 586h19.09v2.3h-19.09zM326.26 594h19.09v2.3h-19.09zM307.88 600h19.09v2.3h-19.09zM326.26 604h19.09v2.3h-19.09zM326.26 606h19.09v2.3h-19.09zM271.1 608h19.09v2.3h-19.09zM271.1 618h19.09v2.3h-19.09zM234.32 622h19.09v2.3h-19.09zM271.1 622h19.09v2.3h-19.09zM326.26 626h19.09v2.3h-19.09zM271.1 628h19.09v1.3h-19.09z"/>
<path fill="#006c00" d="M271.1 73h19.09v2.3h-19.09zM234.32 77h19.09v2.3h-19.09zM124 85h19.09v2.3h-19.09zM142.39 85h19.09v2.3h-19.09zM197.55 85h19.09v2.3h-19.09zM215.94 85h19.09v2.3h-19.09zM179.16 91h19.09v2.3h-19.09zM436.59 91h19.09v2.3h-19.09zM528.52 93h19.09v2.3h-19.09zM546.91 93h19.09v2.3h-19.09zM215.94 109h19.09v2.3h-19.09zM399.81 111h19.09v2.3h-19.09zM528.52 117h19.09v2.3h-19.09zM215.94 123h19.09v2.3h-19.09zM271.1 123h19.09v2.3h-19.09zM363.04 123h19.09v2.3h-19.09zM546.91 125h19.09v2.3h-19.09zM344.65 127h19.09v2.3h-19.09zM381.43 129h19.09v2.3h-19.09zM381.43 131h19.09v2.3h-19.09zM381.43 135h19.09v2.3h-19.09zM381.43 137h19.09v2.3h-19.09zM344.65 139h19.09v2.3h-19.09zM381.43 143h19.09v2.3h-19.09zM528.52 143h19.09v2.3h-19.09zM528.52 147h19.09v2.3h-19.09zM344.65 149h19.09v2.3h-19.09zM381.43 149h19.09v2.3h-19.09zM528.52 149h19.09v2.3h-19.09zM344.65 151h19.09v2.3h-19.09zM381.43 151h19.09v2.3h-19.09zM528.52 153h19.09v2.3h-19.09zM528.52 157h19.09v2.3h-19.09zM381.43 163h19.09v2.3h-19.09zM344.65 165h19.09v2.3h-19.09zM381.43 165h19.09v2.3h-19.09zM528.52 167h19.09v2.3h-19.09zM528.52 169h19.09v2.3h-19.09zM344.65 171h19.09v2.3h-19.09zM344.65 173h19.09v2.3h-19.09zM381.43 173h19.09v2.3h-19.09zM381.43 175h19.09v2.3h-19.09zM381.43 177h19.09v2.3h-19.09zM381.43 179h19.09v2.3h-19.09zM528.52 179h19.09v2.3h-19.09zM381.43 187h19.09v2.3h-19.09zM344.65 189h19.09v2.3h-19.09zM381.43 189h19.09v2.3h-19.09zM528.52 189h19.09v2.3h-19.09zM344.65 191h19.09v2.3h-19.09zM344.65 193h19.09v2.3h-19.09zM381.43 195h19.09v2.3h-19.09zM528.52 195h19.09v2.3h-19.09zM344.65 197h19.09v2.3h-19.09zM381.43 197h19.09v2.3h-19.09zM344.65 199h19.09v2.3h-19.09zM381.43 199h19.09v2.3h-19.09zM344.65 207h19.09v2.3h-19.09zM528.52 209h19.09v2.3h-19.09zM381.43 211h19.09v2.3h-19.09zM344.65 213h19.09v2.3h-19.09zM381.43 219h19.09v2.3h-19.09zM528.52 221h19.09v2.3h-19.09zM528.52 223h19.09v2.3h-19.09zM344.65 225h19.09v2.3h-19.09zM528.52 227h19.09v2.3h-19.09zM528.52 229h19.09v2.3h-19.09zM344.65 233h19.09v2.3h-19.09zM528.52 235h19.09v2.3h-19.09zM381.43 237h19.09v2.3h-19.09zM528.52 237h19.09v2.3h-19.09zM528.52 239h19.09v2.3h-19.09zM528.52 243h19.09v2.3h-19.09zM344.65 245h19.09v2.3h-19.09zM528.52 247h19.09v2.3h-19.09zM381.43 249h19.09v2.3h-19.09zM528.52 249h19.09v2.3h-19.09zM381.43 251h19.09v2.3h-19.09zM381.43 253h19.09v2.3h-19.09zM344.65 265h19.09v2.3h-19.09zM528.52 265h19.09v2.3h-19.09zM344.65 267h19.09v2.3h-19.09zM381.43 271h19.09v2.3h-19.09zM381.43 275h19.09v2.3h-19.09zM381.43 277h19.09v2.3h-19.09zM344.65 281h19.09v2.3h-19.09zM528.52 281h19.09v2.3h-19.09zM344.65 285h19.09v2.3h-19.09zM381.43 285h19.09v2.3h-19.09zM528.52 285h19.09v2.3h-19.09zM381.43 287h19.09v2.3h-19.09zM528.52 287h19.09v2.3h-19.09zM381.43 289h19.09v2.3h-19.09zM528.52 295h19.09v2.3h-19.09zM381.43 299h19.09v2.3h-19.09zM381.43 301h19.09v2.3h-19.09zM528.52 301h19.09v2.3h-19.09zM528.52 303h19.09v2.3h-19.09zM344.65 313h19.09v2.3h-19.09zM381.43 313h19.09v2.3h-19.09zM381.43 321h19.09v2.3h-19.09zM381.43 325h19.09v2.3h-19.09zM381.43 329h19.09v2.3h-19.09zM381.43 331h19.09v2.3h-19.09zM510.14 335h19.09v2.3h-19.09zM546.91 335h19.09v2.3h-19.09zM528.52 337h19.09v2.3h-19.09zM381.43 339h19.09v2.3h-19.09zM528.52 341h19.09v2.3h-19.09zM381.43 343h19.09v2.3h-19.09zM491.75 347h19.09v2.3h-19.09zM510.14 347h19.09v2.3h-19.09zM510.14 349h19.09v2.3h-19.09zM546.91 349h19.09v2.3h-19.09zM344.65 353h19.09v2.3h-19.09zM381.43 355h19.09v2.3h-19.09zM491.75 357h19.09v2.3h-19.09zM381.43 361h19.09v2.3h-19.09zM381.43 365h19.09v2.3h-19.09zM381.43 367h19.09v2.3h-19.09zM510.14 369h19.09v2.3h-19.09zM473.36 371h19.09v2.3h-19.09zM381.43 373h19.09v2.3h-19.09zM510.14 373h19.09v2.3h-19.09zM381.43 381h19.09v2.3h-19.09zM344.65 383h19.09v2.3h-19.09zM381.43 383h19.09v2.3h-19.09zM528.52 385h19.09v2.3h-19.09zM381.43 389h19.09v2.3h-19.09zM510.14 391h19.09v2.3h-19.09zM381.43 393h19.09v2.3h-19.09zM546.91 399h19.09v2.3h-19.09zM528.52 401h19.09v2.3h-19.09zM344.65 407h19.09v2.3h-19.09zM546.91 419h19.09v2.3h-19.09zM381.43 421h19.09v2.3h-19.09zM344.65 423h19.09v2.3h-19.09zM473.36 425h19.09v2.3h-19.09zM510.14 425h19.09v2.3h-19.09zM510.14 431h19.09v2.3h-19.09zM546.91 431h19.09v2.3h-19.09zM454.97 435h19.09v2.3h-19.09zM491.75 435h19.09v2.3h-19.09zM344.65 439h19.09v2.3h-19.09zM546.91 445h19.09v2.3h-19.09zM510.14 449h19.09v2.3h-19.09zM454.97 451h19.09v2.3h-19.09zM381.43 453h19.09v2.3h-19.09zM491.75 455h19.09v2.3h-19.09zM510.14 455h19.09v2.3h-19.09zM546.91 457h19.09v2.3h-19.09zM381.43 469h19.09v2.3h-19.09zM473.36 475h19.09v2.3h-19.09zM510.14 475h19.09v2.3h-19.09zM454.97 477h19.09v2.3h-19.09zM473.36 477h19.09v2.3h-19.09zM510.14 477h19.09v2.3h-19.09zM546.91 477h19.09v2.3h-19.09zM454.97 479h19.09v2.3h-19.09zM510.14 479h19.09v2.3h-19.09zM454.97 485h19.09v2.3h-19.09zM491.75 485h19.09v2.3h-19.09zM546.91 485h19.09v2.3h-19.09zM473.36 491h19.09v2.3h-19.09zM491.75 491h19.09v2.3h-19.09zM454.97 493h19.09v2.3h-19.09zM491.75 495h19.09v2.3h-19.09zM510.14 495h19.09v2.3h-19.09zM454.97 497h19.09v2.3h-19.09zM491.75 497h19.09v2.3h-19.09zM546.91 497h19.09v2.3h-19.09zM510.14 505h19.09v2.3h-19.09zM491.75 507h19.09v2.3h-19.09zM510.14 507h19.09v2.3h-19.09zM473.36 511h19.09v2.3h-19.09zM510.14 511h19.09v2.3h-19.09zM344.65 513h19.09v2.3h-19.09zM344.65 517h19.09v2.3h-19.09zM381.43 525h19.09v2.3h-19.09zM491.75 527h19.09v2.3h-19.09zM546.91 527h19.09v2.3h-19.09zM454.97 529h19.09v2.3h-19.09zM546.91 529h19.09v2.3h-19.09zM381.43 531h19.09v2.3h-19.09zM454.97 533h19.09v2.3h-19.09zM510.14 533h19.09v2.3h-19.09zM454.97 537h19.09v2.3h-19.09zM491.75 537h19.09v2.3h-19.09zM510.14 539h19.09v1.3h-19.09zM546.91 539h19.09v1.3h-19.09zM528.52 546h19.09v2.3h-19.09zM234.32 548h19.09v2.3h-19.09zM252.71 554h19.09v2.3h-19.09zM546.91 554h19.09v2.3h-19.09zM454.97 556h19.09v2.3h-19.09zM473.36 556h19.09v2.3h-19.09zM546.91 564h19.09v2.3h-19.09zM473.36 566h19.09v2.3h-19.09zM491.75 570h19.09v2.3h-19.09zM546.91 576h19.09v2.3h-19.09zM473.36 580h19.09v2.3h-19.09zM491.75 580h19.09v2.3h-19.09zM528.52 582h19.09v2.3h-19.09zM546.91 582h19.09v2.3h-19.09zM234.32 586h19.09v2.3h-19.09zM473.36 586h19.09v2.3h-19.09zM546.91 586h19.09v2.3h-19.09zM454.97 588h19.09v2.3h-19.09zM252.71 590h19.09v2.3h-19.09zM252.71 592h19.09v2.3h-19.09zM528.52 592h19.09v2.3h-19.09zM546.91 592h19.09v2.3h-19.09zM546.91 594h19.09v2.3h-19.09zM473.36 596h19.09v2.3h-19.09zM252.71 598h19.09v2.3h-19.09zM491.75 598h19.09v2.3h-19.09zM546.91 598h19.09v2.3h-19.09zM252.71 600h19.09v2.3h-19.09zM546.91 600h19.09v2.3h-19.09zM546.91 602h19.09v2.3h-19.09zM454.97 604h19.09v2.3h-19.09zM473.36 604h19.09v2.3h-19.09zM546.91 604h19.09v2.3h-19.09zM473.36 606h19.09v2.3h-19.09zM491.75 608h19.09v2.3h-19.09zM473.36 610h19.09v2.3h-19.09zM546.91 610h19.09v2.3h-19.09zM454.97 612h19.09v2.3h-19.09zM473.36 612h19.09v2.3h-19.09zM454.97 614h19.09v2.3h-19.09zM473.36 618h19.09v2.3h-19.09zM491.75 618h19.09v2.3h-19.09zM491.75 620h19.09v2.3h-19.09zM546.91 622h19.09v2.3h-19.09zM454.97 624h19.09v2.3h-19.09zM491.75 624h19.09v2.3h-19.09zM252.71 628h19.09v1.3h-19.09zM473.36 628h19.09v1.3h-19.09zM491.75 628h19.09v1.3h-19.09z"/>
<path fill="#006000" d="M160.78 75h19.09v2.3h-19.09zM491.75 75h19.09v2.3h-19.09zM160.78 79h19.09v2.3h-19.09zM234.32 85h19.09v2.3h-19.09zM326.26 85h19.09v2.3h-19.09zM326.26 93h19.09v2.3h-19.09zM510.14 93h19.09v2.3h-19.09zM307.88 95h19.09v2.3h-19.09zM289.49 97h19.09v2.3h-19.09zM124 101h19.09v2.3h-19.09zM344.65 101h19.09v2.3h-19.09zM234.32 109h19.09v2.3h-19.09zM179.16 111h19.09v2.3h-19.09zM271.1 111h19.09v2.3h-19.09zM491.75 111h19.09v2.3h-19.09zM307.88 115h19.09v2.3h-19.09zM307.88 119h19.09v2.3h-19.09zM528.52 119h19.09v2.3h-19.09zM289.49 121h19.09v2.3h-19.09zM344.65 125h19.09v2.3h-19.09zM528.52 125h19.09v2.3h-19.09zM528.52 127h19.09v2.3h-19.09zM528.52 129h19.09v2.3h-19.09zM344.65 131h19.09v2.3h-19.09zM344.65 133h19.09v2.3h-19.09zM381.43 133h19.09v2.3h-19.09zM381.43 141h19.09v2.3h-19.09zM528.52 141h19.09v2.3h-19.09zM344.65 143h19.09v2.3h-19.09zM363.04 149h19.09v2.3h-19.09zM399.81 151h19.09v2.3h-19.09zM344.65 155h19.09v2.3h-19.09zM528.52 155h19.09v2.3h-19.09zM381.43 161h19.09v2.3h-19.09zM528.52 161h19.09v2.3h-19.09zM399.81 163h19.09v2.3h-19.09zM381.43 169h19.09v2.3h-19.09zM528.52 175h19.09v2.3h-19.09zM344.65 177h19.09v2.3h-19.09zM399.81 183h19.09v2.3h-19.09zM344.65 185h19.09v2.3h-19.09zM528.52 199h19.09v2.3h-19.09zM344.65 201h19.09v2.3h-19.09zM381.43 201h19.09v2.3h-19.09zM381.43 205h19.09v2.3h-19.09zM344.65 209h19.09v2.3h-19.09zM528.52 211h19.09v2.3h-19.09zM381.43 215h19.09v2.3h-19.09zM381.43 217h19.09v2.3h-19.09zM528.52 217h19.09v2.3h-19.09zM344.65 219h19.09v2.3h-19.09zM381.43 221h19.09v2.3h-19.09zM381.43 223h19.09v2.3h-19.09zM344.65 227h19.09v2.3h-19.09zM344.65 229h19.09v2.3h-19.09zM344.65 231h19.09v2.3h-19.09zM344.65 237h19.09v2.3h-19.09zM344.65 239h19.09v2.3h-19.09zM344.65 243h19.09v2.3h-19.09zM381.43 243h19.09v2.3h-19.09zM381.43 245h19.09v2.3h-19.09zM399.81 245h19.09v2.3h-19.09zM528.52 251h19.09v2.3h-19.09zM344.65 253h19.09v2.3h-19.09zM344.65 255h19.09v2.3h-19.09zM381.43 257h19.09v2.3h-19.09zM528.52 257h19.09v2.3h-19.09zM344.65 259h19.09v2.3h-19.09zM344.65 261h19.09v2.3h-19.09zM399.81 261h19.09v2.3h-19.09zM528.52 261h19.09v2.3h-19.09zM528.52 267h19.09v2.3h-19.09zM344.65 269h19.09v2.3h-19.09zM381.43 269h19.09v2.3h-19.09zM528.52 269h19.09v2.3h-19.09zM344.65 273h19.09v2.3h-19.09zM344.65 275h19.09v2.3h-19.09zM528.52 275h19.09v2.3h-19.09zM528.52 277h19.09v2.3h-19.09zM344.65 279h19.09v2.3h-19.09zM381.43 279h19.09v2.3h-19.09zM528.52 279h19.09v2.3h-19.09zM381.43 281h19.09v2.3h-19.09zM344.65 283h19.09v2.3h-19.09zM381.43 283h19.09v2.3h-19.09zM528.52 283h19.09v2.3h-19.09zM399.81 287h19.09v2.3h-19.09zM528.52 289h19.09v2.3h-19.09zM344.65 291h19.09v2.3h-19.09zM381.43 291h19.09v2.3h-19.09zM344.65 295h19.09v2.3h-19.09zM381.43 295h19.09v2.3h-19.09zM381.43 297h19.09v2.3h-19.09zM528.52 297h19.09v2.3h-19.09zM528.52 299h19.09v2.3h-19.09zM344.65 301h19.09v2.3h-19.09zM381.43 303h19.09v2.3h-19.09zM381.43 307h19.09v2.3h-19.09zM528.52 309h19.09v2.3h-19.09zM528.52 313h19.09v2.3h-19.09zM344.65 315h19.09v2.3h-19.09zM528.52 315h19.09v2.3h-19.09zM381.43 319h19.09v2.3h-19.09zM528.52 319h19.09v2.3h-19.09zM528.52 321h19.09v2.3h-19.09zM381.43 327h19.09v2.3h-19.09zM528.52 327h19.09v2.3h-19.09zM344.65 329h19.09v2.3h-19.09zM528.52 329h19.09v2.3h-19.09zM528.52 331h19.09v2.3h-19.09zM344.65 337h19.09v2.3h-19.09zM381.43 337h19.09v2.3h-19.09zM344.65 339h19.09v2.3h-19.09zM381.43 341h19.09v2.3h-19.09zM399.81 341h19.09v2.3h-19.09zM528.52 343h19.09v2.3h-19.09zM344.65 345h19.09v2.3h-19.09zM528.52 345h19.09v2.3h-19.09zM381.43 351h19.09v2.3h-19.09zM528.52 353h19.09v2.3h-19.09zM344.65 355h19.09v2.3h-19.09zM528.52 355h19.09v2.3h-19.09zM344.65 357h19.09v2.3h-19.09zM381.43 363h19.09v2.3h-19.09zM344.65 367h19.09v2.3h-19.09zM399.81 367h19.09v2.3h-19.09zM528.52 367h19.09v2.3h-19.09zM528.52 375h19.09v2.3h-19.09zM381.43 377h19.09v2.3h-19.09zM381.43 385h19.09v2.3h-19.09zM381.43 387h19.09v2.3h-19.09zM528.52 391h19.09v2.3h-19.09zM528.52 393h19.09v2.3h-19.09zM363.04 395h19.09v2.3h-19.09zM344.65 397h19.09v2.3h-19.09zM381.43 399h19.09v2.3h-19.09zM528.52 399h19.09v2.3h-19.09zM510.14 403h19.09v2.3h-19.09zM381.43 405h19.09v2.3h-19.09zM528.52 407h19.09v2.3h-19.09zM381.43 413h19.09v2.3h-19.09zM528.52 419h19.09v2.3h-19.09zM344.65 421h19.09v2.3h-19.09zM528.52 421h19.09v2.3h-19.09zM491.75 425h19.09v2.3h-19.09zM546.91 425h19.09v2.3h-19.09zM528.52 427h19.09v2.3h-19.09zM344.65 433h19.09v2.3h-19.09zM363.04 433h19.09v2.3h-19.09zM381.43 433h19.09v2.3h-19.09zM528.52 433h19.09v2.3h-19.09zM510.14 435h19.09v2.3h-19.09zM381.43 437h19.09v2.3h-19.09zM491.75 445h19.09v2.3h-19.09zM546.91 449h19.09v2.3h-19.09zM381.43 451h19.09v2.3h-19.09zM381.43 455h19.09v2.3h-19.09zM510.14 457h19.09v2.3h-19.09zM381.43 463h19.09v2.3h-19.09zM381.43 467h19.09v2.3h-19.09zM528.52 469h19.09v2.3h-19.09zM381.43 471h19.09v2.3h-19.09zM344.65 473h19.09v2.3h-19.09zM381.43 473h19.09v2.3h-19.09zM528.52 473h19.09v2.3h-19.09zM454.97 475h19.09v2.3h-19.09zM491.75 475h19.09v2.3h-19.09zM473.36 479h19.09v2.3h-19.09zM381.43 483h19.09v2.3h-19.09zM473.36 485h19.09v2.3h-19.09zM546.91 493h19.09v2.3h-19.09zM344.65 495h19.09v2.3h-19.09zM473.36 497h19.09v2.3h-19.09zM381.43 501h19.09v2.3h-19.09zM528.52 501h19.09v2.3h-19.09zM381.43 505h19.09v2.3h-19.09zM381.43 509h19.09v2.3h-19.09zM344.65 519h19.09v2.3h-19.09zM381.43 519h19.09v2.3h-19.09zM528.52 519h19.09v2.3h-19.09zM344.65 521h19.09v2.3h-19.09zM344.65 523h19.09v2.3h-19.09zM528.52 523h19.09v2.3h-19.09zM528.52 525h19.09v2.3h-19.09zM381.43 527h19.09v2.3h-19.09zM510.14 529h19.09v2.3h-19.09zM344.65 531h19.09v2.3h-19.09zM528.52 531h19.09v2.3h-19.09zM491.75 533h19.09v2.3h-19.09zM510.14 537h19.09v2.3h-19.09zM546.91 537h19.09v2.3h-19.09zM344.65 539h19.09v1.3h-19.09zM510.14 542h19.09v2.3h-19.09zM546.91 544h19.09v2.3h-19.09zM234.32 546h19.09v2.3h-19.09zM546.91 546h19.09v2.3h-19.09zM510.14 550h19.09v2.3h-19.09zM234.32 552h19.09v2.3h-19.09zM252.71 552h19.09v2.3h-19.09zM528.52 556h19.09v2.3h-19.09zM252.71 562h19.09v2.3h-19.09zM252.71 564h19.09v2.3h-19.09zM491.75 564h19.09v2.3h-19.09zM252.71 570h19.09v2.3h-19.09zM546.91 570h19.09v2.3h-19.09zM546.91 572h19.09v2.3h-19.09zM326.26 574h19.09v2.3h-19.09zM252.71 576h19.09v2.3h-19.09zM252.71 578h19.09v2.3h-19.09zM454.97 578h19.09v2.3h-19.09zM473.36 578h19.09v2.3h-19.09zM528.52 578h19.09v2.3h-19.09zM252.71 582h19.09v2.3h-19.09zM234.32 584h19.09v2.3h-19.09zM491.75 584h19.09v2.3h-19.09zM546.91 584h19.09v2.3h-19.09zM454.97 586h19.09v2.3h-19.09zM491.75 586h19.09v2.3h-19.09zM454.97 594h19.09v2.3h-19.09zM491.75 594h19.09v2.3h-19.09zM491.75 596h19.09v2.3h-19.09zM528.52 598h19.09v2.3h-19.09zM234.32 602h19.09v2.3h-19.09zM271.1 602h19.09v2.3h-19.09zM491.75 604h19.09v2.3h-19.09zM252.71 606h19.09v2.3h-19.09zM454.97 608h19.09v2.3h-19.09zM491.75 610h19.09v2.3h-19.09zM234.32 614h19.09v2.3h-19.09zM473.36 614h19.09v2.3h-19.09zM528.52 616h19.09v2.3h-19.09zM546.91 616h19.09v2.3h-19.09zM252.71 618h19.09v2.3h-19.09zM546.91 618h19.09v2.3h-19.09zM454.97 620h19.09v2.3h-19.09zM546.91 620h19.09v2.3h-19.09zM473.36 624h19.09v2.3h-19.09zM252.71 626h19.09v2.3h-19.09zM234.32 628h19.09v1.3h-19.09zM454.97 628h19.09v1.3h-19.09zM546.91 628h19.09v1.3h-19.09z"/>
<path fill="#00a800" d="M179.16 75h19.09v2.3h-19.09zM326.26 77h19.09v2.3h-19.09zM510.14 77h19.09v2.3h-19.09zM454.97 85h19.09v2.3h-19.09zM307.88 105h19.09v2.3h-19.09zM363.04 113h19.09v2.3h-19.09zM326.26 123h19.09v2.3h-19.09zM510.14 125h19.09v2.3h-19.09zM473.36 127h19.09v2.3h-19.09zM510.14 129h19.09v2.3h-19.09zM473.36 131h19.09v2.3h-19.09zM491.75 131h19.09v2.3h-19.09zM454.97 133h19.09v2.3h-19.09zM510.14 133h19.09v2.3h-19.09zM546.91 133h19.09v2.3h-19.09zM473.36 135h19.09v2.3h-19.09zM510.14 135h19.09v2.3h-19.09zM473.36 139h19.09v2.3h-19.09zM491.75 143h19.09v2.3h-19.09zM510.14 145h19.09v2.3h-19.09zM546.91 145h19.09v2.3h-19.09zM491.75 149h19.09v2.3h-19.09zM510.14 149h19.09v2.3h-19.09zM473.36 151h19.09v2.3h-19.09zM546.91 151h19.09v2.3h-19.09zM454.97 153h19.09v2.3h-19.09zM473.36 153h19.09v2.3h-19.09zM454.97 155h19.09v2.3h-19.09zM473.36 155h19.09v2.3h-19.09zM491.75 155h19.09v2.3h-19.09zM454.97 157h19.09v2.3h-19.09zM473.36 157h19.09v2.3h-19.09zM491.75 157h19.09v2.3h-19.09zM546.91 157h19.09v2.3h-19.09zM454.97 159h19.09v2.3h-19.09zM491.75 159h19.09v2.3h-19.09zM454.97 161h19.09v2.3h-19.09zM473.36 161h19.09v2.3h-19.09zM491.75 161h19.09v2.3h-19.09zM510.14 161h19.09v2.3h-19.09zM546.91 161h19.09v2.3h-19.09zM491.75 165h19.09v2.3h-19.09zM454.97 167h19.09v2.3h-19.09zM491.75 167h19.09v2.3h-19.09zM491.75 169h19.09v2.3h-19.09zM491.75 171h19.09v2.3h-19.09zM510.14 173h19.09v2.3h-19.09zM454.97 175h19.09v2.3h-19.09zM473.36 177h19.09v2.3h-19.09zM510.14 177h19.09v2.3h-19.09zM546.91 177h19.09v2.3h-19.09zM454.97 179h19.09v2.3h-19.09zM491.75 181h19.09v2.3h-19.09zM510.14 181h19.09v2.3h-19.09zM546.91 181h19.09v2.3h-19.09zM491.75 183h19.09v2.3h-19.09zM491.75 185h19.09v2.3h-19.09zM510.14 185h19.09v2.3h-19.09zM491.75 187h19.09v2.3h-19.09zM454.97 189h19.09v2.3h-19.09zM491.75 191h19.09v2.3h-19.09zM546.91 191h19.09v2.3h-19.09zM491.75 193h19.09v2.3h-19.09zM546.91 193h19.09v2.3h-19.09zM546.91 195h19.09v2.3h-19.09zM510.14 197h19.09v2.3h-19.09zM473.36 199h19.09v2.3h-19.09zM546.91 199h19.09v2.3h-19.09zM454.97 201h19.09v2.3h-19.09zM454.97 205h19.09v2.3h-19.09zM546.91 205h19.09v2.3h-19.09zM454.97 209h19.09v2.3h-19.09zM510.14 209h19.09v2.3h-19.09zM454.97 211h19.09v2.3h-19.09zM510.14 211h19.09v2.3h-19.09zM473.36 213h19.09v2.3h-19.09zM491.75 213h19.09v2.3h-19.09zM546.91 213h19.09v2.3h-19.09zM473.36 215h19.09v2.3h-19.09zM454.97 219h19.09v2.3h-19.09zM491.75 219h19.09v2.3h-19.09zM546.91 219h19.09v2.3h-19.09zM454.97 221h19.09v2.3h-19.09zM473.36 221h19.09v2.3h-19.09zM546.91 223h19.09v2.3h-19.09zM510.14 225h19.09v2.3h-19.09zM546.91 225h19.09v2.3h-19.09zM510.14 227h19.09v2.3h-19.09zM473.36 229h19.09v2.3h-19.09zM491.75 229h19.09v2.3h-19.09zM510.14 231h19.09v2.3h-19.09zM546.91 233h19.09v2.3h-19.09zM454.97 235h19.09v2.3h-19.09zM473.36 235h19.09v2.3h-19.09zM491.75 237h19.09v2.3h-19.09zM454.97 239h19.09v2.3h-19.09zM473.36 243h19.09v2.3h-19.09zM510.14 243h19.09v2.3h-19.09zM546.91 243h19.09v2.3h-19.09zM454.97 245h19.09v2.3h-19.09zM491.75 247h19.09v2.3h-19.09zM454.97 249h19.09v2.3h-19.09zM491.75 249h19.09v2.3h-19.09zM546.91 249h19.09v2.3h-19.09zM454.97 251h19.09v2.3h-19.09zM473.36 251h19.09v2.3h-19.09zM473.36 253h19.09v2.3h-19.09zM491.75 261h19.09v2.3h-19.09zM510.14 261h19.09v2.3h-19.09zM491.75 265h19.09v2.3h-19.09zM510.14 265h19.09v2.3h-19.09zM491.75 267h19.09v2.3h-19.09zM546.91 267h19.09v2.3h-19.09zM510.14 269h19.09v2.3h-19.09zM546.91 269h19.09v2.3h-19.09zM491.75 271h19.09v2.3h-19.09zM510.14 271h19.09v2.3h-19.09zM491.75 273h19.09v2.3h-19.09zM491.75 275h19.09v2.3h-19.09zM546.91 281h19.09v2.3h-19.09zM454.97 285h19.09v2.3h-19.09zM473.36 285h19.09v2.3h-19.09zM510.14 285h19.09v2.3h-19.09zM454.97 289h19.09v2.3h-19.09zM546.91 289h19.09v2.3h-19.09zM473.36 291h19.09v2.3h-19.09zM454.97 295h19.09v2.3h-19.09zM473.36 295h19.09v2.3h-19.09zM454.97 301h19.09v2.3h-19.09zM473.36 301h19.09v2.3h-19.09zM473.36 305h19.09v2.3h-19.09zM473.36 307h19.09v2.3h-19.09zM491.75 307h19.09v2.3h-19.09zM510.14 311h19.09v2.3h-19.09zM546.91 311h19.09v2.3h-19.09zM454.97 313h19.09v2.3h-19.09zM473.36 315h19.09v2.3h-19.09zM473.36 319h19.09v2.3h-19.09zM491.75 323h19.09v2.3h-19.09zM454.97 341h19.09v2.3h-19.09zM491.75 341h19.09v2.3h-19.09zM510.14 341h19.09v2.3h-19.09zM473.36 353h19.09v2.3h-19.09zM546.91 353h19.09v2.3h-19.09zM473.36 355h19.09v2.3h-19.09zM454.97 375h19.09v2.3h-19.09zM510.14 377h19.09v2.3h-19.09zM473.36 381h19.09v2.3h-19.09zM473.36 383h19.09v2.3h-19.09zM510.14 401h19.09v2.3h-19.09zM454.97 417h19.09v2.3h-19.09zM473.36 421h19.09v2.3h-19.09zM473.36 423h19.09v2.3h-19.09zM473.36 439h19.09v2.3h-19.09zM510.14 439h19.09v2.3h-19.09zM546.91 439h19.09v2.3h-19.09zM454.97 513h19.09v2.3h-19.09zM510.14 513h19.09v2.3h-19.09zM473.36 568h19.09v2.3h-19.09zM454.97 582h19.09v2.3h-19.09zM473.36 602h19.09v2.3h-19.09z"/>
<path fill="#008400" d="M271.1 75h19.09v2.3h-19.09zM124 77h19.09v2.3h-19.09zM289.49 85h19.09v2.3h-19.09zM344.65 85h19.09v2.3h-19.09zM363.04 85h19.09v2.3h-19.09zM418.2 85h19.09v2.3h-19.09zM124 87h19.09v2.3h-19.09zM234.32 91h19.09v2.3h-19.09zM215.94 107h19.09v2.3h-19.09zM234.32 111h19.09v2.3h-19.09zM215.94 121h19.09v2.3h-19.09zM546.91 127h19.09v2.3h-19.09zM528.52 133h19.09v2.3h-19.09zM381.43 139h19.09v2.3h-19.09zM528.52 139h19.09v2.3h-19.09zM528.52 163h19.09v2.3h-19.09zM381.43 171h19.09v2.3h-19.09zM528.52 171h19.09v2.3h-19.09zM528.52 183h19.09v2.3h-19.09zM510.14 201h19.09v2.3h-19.09zM528.52 203h19.09v2.3h-19.09zM510.14 215h19.09v2.3h-19.09zM546.91 215h19.09v2.3h-19.09zM381.43 229h19.09v2.3h-19.09zM510.14 229h19.09v2.3h-19.09zM546.91 239h19.09v2.3h-19.09zM491.75 241h19.09v2.3h-19.09zM381.43 247h19.09v2.3h-19.09zM510.14 251h19.09v2.3h-19.09zM473.36 257h19.09v2.3h-19.09zM510.14 257h19.09v2.3h-19.09zM491.75 259h19.09v2.3h-19.09zM546.91 259h19.09v2.3h-19.09zM510.14 263h19.09v2.3h-19.09zM381.43 265h19.09v2.3h-19.09zM381.43 273h19.09v2.3h-19.09zM491.75 279h19.09v2.3h-19.09zM510.14 279h19.09v2.3h-19.09zM510.14 291h19.09v2.3h-19.09zM546.91 291h19.09v2.3h-19.09zM491.75 299h19.09v2.3h-19.09zM546.91 305h19.09v2.3h-19.09zM510.14 307h19.09v2.3h-19.09zM546.91 309h19.09v2.3h-19.09zM546.91 313h19.09v2.3h-19.09zM473.36 317h19.09v2.3h-19.09zM510.14 317h19.09v2.3h-19.09zM454.97 321h19.09v2.3h-19.09zM491.75 321h19.09v2.3h-19.09zM510.14 321h19.09v2.3h-19.09zM546.91 321h19.09v2.3h-19.09zM510.14 325h19.09v2.3h-19.09zM546.91 327h19.09v2.3h-19.09zM510.14 329h19.09v2.3h-19.09zM454.97 331h19.09v2.3h-19.09zM491.75 331h19.09v2.3h-19.09zM546.91 333h19.09v2.3h-19.09zM454.97 335h19.09v2.3h-19.09zM473.36 335h19.09v2.3h-19.09zM491.75 335h19.09v2.3h-19.09zM491.75 337h19.09v2.3h-19.09zM454.97 343h19.09v2.3h-19.09zM491.75 343h19.09v2.3h-19.09zM510.14 343h19.09v2.3h-19.09zM546.91 343h19.09v2.3h-19.09zM546.91 345h19.09v2.3h-19.09zM454.97 347h19.09v2.3h-19.09zM473.36 347h19.09v2.3h-19.09zM473.36 349h19.09v2.3h-19.09zM510.14 351h19.09v2.3h-19.09zM510.14 357h19.09v2.3h-19.09zM546.91 357h19.09v2.3h-19.09zM491.75 359h19.09v2.3h-19.09zM510.14 359h19.09v2.3h-19.09zM546.91 359h19.09v2.3h-19.09zM454.97 361h19.09v2.3h-19.09zM546.91 361h19.09v2.3h-19.09zM491.75 365h19.09v2.3h-19.09zM546.91 365h19.09v2.3h-19.09zM454.97 367h19.09v2.3h-19.09zM473.36 369h19.09v2.3h-19.09zM454.97 371h19.09v2.3h-19.09zM510.14 371h19.09v2.3h-19.09zM454.97 373h19.09v2.3h-19.09zM546.91 373h19.09v2.3h-19.09zM473.36 375h19.09v2.3h-19.09zM491.75 375h19.09v2.3h-19.09zM510.14 375h19.09v2.3h-19.09zM454.97 377h19.09v2.3h-19.09zM510.14 379h19.09v2.3h-19.09zM546.91 379h19.09v2.3h-19.09zM491.75 383h19.09v2.3h-19.09zM546.91 385h19.09v2.3h-19.09zM454.97 387h19.09v2.3h-19.09zM454.97 389h19.09v2.3h-19.09zM491.75 389h19.09v2.3h-19.09zM454.97 391h19.09v2.3h-19.09zM473.36 391h19.09v2.3h-19.09zM510.14 393h19.09v2.3h-19.09zM491.75 397h19.09v2.3h-19.09zM510.14 397h19.09v2.3h-19.09zM510.14 399h19.09v2.3h-19.09zM454.97 403h19.09v2.3h-19.09zM546.91 403h19.09v2.3h-19.09zM454.97 405h19.09v2.3h-19.09zM491.75 405h19.09v2.3h-19.09zM546.91 405h19.09v2.3h-19.09zM546.91 407h19.09v2.3h-19.09zM473.36 411h19.09v2.3h-19.09zM491.75 411h19.09v2.3h-19.09zM510.14 411h19.09v2.3h-19.09zM546.91 411h19.09v2.3h-19.09zM454.97 413h19.09v2.3h-19.09zM454.97 415h19.09v2.3h-19.09zM491.75 415h19.09v2.3h-19.09zM491.75 419h19.09v2.3h-19.09zM454.97 421h19.09v2.3h-19.09zM491.75 421h19.09v2.3h-19.09zM381.43 423h19.09v2.3h-19.09zM473.36 427h19.09v2.3h-19.09zM510.14 429h19.09v2.3h-19.09zM473.36 431h19.09v2.3h-19.09zM454.97 437h19.09v2.3h-19.09zM491.75 437h19.09v2.3h-19.09zM510.14 437h19.09v2.3h-19.09zM454.97 441h19.09v2.3h-19.09zM473.36 441h19.09v2.3h-19.09zM491.75 441h19.09v2.3h-19.09zM473.36 443h19.09v2.3h-19.09zM491.75 443h19.09v2.3h-19.09zM546.91 443h19.09v2.3h-19.09zM454.97 445h19.09v2.3h-19.09zM473.36 445h19.09v2.3h-19.09zM510.14 445h19.09v2.3h-19.09zM473.36 447h19.09v2.3h-19.09zM510.14 447h19.09v2.3h-19.09zM454.97 449h19.09v2.3h-19.09zM510.14 451h19.09v2.3h-19.09zM454.97 453h19.09v2.3h-19.09zM473.36 453h19.09v2.3h-19.09zM510.14 453h19.09v2.3h-19.09zM546.91 453h19.09v2.3h-19.09zM454.97 455h19.09v2.3h-19.09zM454.97 459h19.09v2.3h-19.09zM510.14 459h19.09v2.3h-19.09zM546.91 459h19.09v2.3h-19.09zM454.97 461h19.09v2.3h-19.09zM473.36 461h19.09v2.3h-19.09zM491.75 461h19.09v2.3h-19.09zM454.97 463h19.09v2.3h-19.09zM491.75 463h19.09v2.3h-19.09zM454.97 465h19.09v2.3h-19.09zM473.36 465h19.09v2.3h-19.09zM454.97 467h19.09v2.3h-19.09zM473.36 467h19.09v2.3h-19.09zM546.91 467h19.09v2.3h-19.09zM491.75 469h19.09v2.3h-19.09zM510.14 469h19.09v2.3h-19.09zM546.91 469h19.09v2.3h-19.09zM473.36 471h19.09v2.3h-19.09zM546.91 473h19.09v2.3h-19.09zM454.97 481h19.09v2.3h-19.09zM510.14 481h19.09v2.3h-19.09zM454.97 483h19.09v2.3h-19.09zM491.75 483h19.09v2.3h-19.09zM546.91 483h19.09v2.3h-19.09zM510.14 485h19.09v2.3h-19.09zM454.97 487h19.09v2.3h-19.09zM473.36 487h19.09v2.3h-19.09zM491.75 487h19.09v2.3h-19.09zM454.97 489h19.09v2.3h-19.09zM473.36 489h19.09v2.3h-19.09zM510.14 489h19.09v2.3h-19.09zM546.91 489h19.09v2.3h-19.09zM510.14 493h19.09v2.3h-19.09zM546.91 495h19.09v2.3h-19.09zM473.36 499h19.09v2.3h-19.09zM510.14 499h19.09v2.3h-19.09zM454.97 501h19.09v2.3h-19.09zM491.75 501h19.09v2.3h-19.09zM473.36 503h19.09v2.3h-19.09zM491.75 503h19.09v2.3h-19.09zM510.14 503h19.09v2.3h-19.09zM454.97 507h19.09v2.3h-19.09zM491.75 509h19.09v2.3h-19.09zM510.14 509h19.09v2.3h-19.09zM491.75 511h19.09v2.3h-19.09zM491.75 513h19.09v2.3h-19.09zM454.97 515h19.09v2.3h-19.09zM546.91 515h19.09v2.3h-19.09zM510.14 517h19.09v2.3h-19.09zM473.36 519h19.09v2.3h-19.09zM510.14 521h19.09v2.3h-19.09zM510.14 523h19.09v2.3h-19.09zM454.97 525h19.09v2.3h-19.09zM491.75 525h19.09v2.3h-19.09zM546.91 525h19.09v2.3h-19.09zM510.14 531h19.09v2.3h-19.09zM546.91 531h19.09v2.3h-19.09zM473.36 537h19.09v2.3h-19.09zM491.75 539h19.09v1.3h-19.09zM491.75 542h19.09v2.3h-19.09zM473.36 546h19.09v2.3h-19.09zM454.97 548h19.09v2.3h-19.09zM491.75 548h19.09v2.3h-19.09zM546.91 548h19.09v2.3h-19.09zM473.36 550h19.09v2.3h-19.09zM473.36 552h19.09v2.3h-19.09zM473.36 554h19.09v2.3h-19.09zM491.75 556h19.09v2.3h-19.09zM454.97 562h19.09v2.3h-19.09zM473.36 562h19.09v2.3h-19.09zM546.91 562h19.09v2.3h-19.09zM454.97 564h19.09v2.3h-19.09zM454.97 566h19.09v2.3h-19.09zM546.91 566h19.09v2.3h-19.09zM454.97 570h19.09v2.3h-19.09zM234.32 574h19.09v2.3h-19.09zM510.14 574h19.09v2.3h-19.09zM546.91 574h19.09v2.3h-19.09zM454.97 576h19.09v2.3h-19.09zM473.36 582h19.09v2.3h-19.09zM491.75 588h19.09v2.3h-19.09zM252.71 596h19.09v2.3h-19.09zM454.97 596h19.09v2.3h-19.09zM491.75 600h19.09v2.3h-19.09zM252.71 602h19.09v2.3h-19.09zM454.97 602h19.09v2.3h-19.09zM473.36 608h19.09v2.3h-19.09zM454.97 610h19.09v2.3h-19.09zM454.97 618h19.09v2.3h-19.09zM473.36 622h19.09v2.3h-19.09zM491.75 622h19.09v2.3h-19.09zM546.91 624h19.09v2.3h-19.09zM491.75 626h19.09v2.3h-19.09z"/>
<path fill="#007800" d="M142.39 77h19.09v2.3h-19.09zM179.16 77h19.09v2.3h-19.09zM160.78 85h19.09v2.3h-19.09zM473.36 85h19.09v2.3h-19.09zM510.14 85h19.09v2.3h-19.09zM399.81 91h19.09v2.3h-19.09zM252.71 93h19.09v2.3h-19.09zM418.2 93h19.09v2.3h-19.09zM528.52 101h19.09v2.3h-19.09zM528.52 107h19.09v2.3h-19.09zM381.43 109h19.09v2.3h-19.09zM473.36 119h19.09v2.3h-19.09zM510.14 121h19.09v2.3h-19.09zM454.97 125h19.09v2.3h-19.09zM528.52 131h19.09v2.3h-19.09zM528.52 135h19.09v2.3h-19.09zM344.65 137h19.09v2.3h-19.09zM528.52 137h19.09v2.3h-19.09zM344.65 145h19.09v2.3h-19.09zM381.43 145h19.09v2.3h-19.09zM528.52 145h19.09v2.3h-19.09zM528.52 151h19.09v2.3h-19.09zM528.52 159h19.09v2.3h-19.09zM344.65 163h19.09v2.3h-19.09zM381.43 167h19.09v2.3h-19.09zM344.65 169h19.09v2.3h-19.09zM528.52 173h19.09v2.3h-19.09zM528.52 177h19.09v2.3h-19.09zM344.65 181h19.09v2.3h-19.09zM381.43 181h19.09v2.3h-19.09zM528.52 181h19.09v2.3h-19.09zM344.65 183h19.09v2.3h-19.09zM381.43 185h19.09v2.3h-19.09zM381.43 191h19.09v2.3h-19.09zM528.52 191h19.09v2.3h-19.09zM381.43 193h19.09v2.3h-19.09zM528.52 193h19.09v2.3h-19.09zM528.52 197h19.09v2.3h-19.09zM528.52 201h19.09v2.3h-19.09zM381.43 203h19.09v2.3h-19.09zM528.52 205h19.09v2.3h-19.09zM381.43 207h19.09v2.3h-19.09zM528.52 207h19.09v2.3h-19.09zM381.43 209h19.09v2.3h-19.09zM381.43 213h19.09v2.3h-19.09zM528.52 213h19.09v2.3h-19.09zM528.52 215h19.09v2.3h-19.09zM381.43 225h19.09v2.3h-19.09zM381.43 231h19.09v2.3h-19.09zM381.43 233h19.09v2.3h-19.09zM528.52 233h19.09v2.3h-19.09zM546.91 241h19.09v2.3h-19.09zM528.52 245h19.09v2.3h-19.09zM528.52 253h19.09v2.3h-19.09zM528.52 255h19.09v2.3h-19.09zM381.43 261h19.09v2.3h-19.09zM546.91 263h19.09v2.3h-19.09zM381.43 267h19.09v2.3h-19.09zM344.65 271h19.09v2.3h-19.09zM528.52 271h19.09v2.3h-19.09zM528.52 273h19.09v2.3h-19.09zM344.65 289h19.09v2.3h-19.09zM344.65 299h19.09v2.3h-19.09zM546.91 307h19.09v2.3h-19.09zM344.65 311h19.09v2.3h-19.09zM381.43 311h19.09v2.3h-19.09zM528.52 311h19.09v2.3h-19.09zM491.75 317h19.09v2.3h-19.09zM510.14 319h19.09v2.3h-19.09zM381.43 323h19.09v2.3h-19.09zM454.97 333h19.09v2.3h-19.09zM491.75 333h19.09v2.3h-19.09zM546.91 347h19.09v2.3h-19.09zM454.97 349h19.09v2.3h-19.09zM491.75 349h19.09v2.3h-19.09zM344.65 351h19.09v2.3h-19.09zM510.14 361h19.09v2.3h-19.09zM454.97 363h19.09v2.3h-19.09zM491.75 363h19.09v2.3h-19.09zM510.14 363h19.09v2.3h-19.09zM546.91 369h19.09v2.3h-19.09zM546.91 371h19.09v2.3h-19.09zM473.36 377h19.09v2.3h-19.09zM491.75 379h19.09v2.3h-19.09zM510.14 381h19.09v2.3h-19.09zM546.91 381h19.09v2.3h-19.09zM473.36 385h19.09v2.3h-19.09zM381.43 391h19.09v2.3h-19.09zM344.65 395h19.09v2.3h-19.09zM381.43 395h19.09v2.3h-19.09zM528.52 395h19.09v2.3h-19.09zM491.75 399h19.09v2.3h-19.09zM344.65 401h19.09v2.3h-19.09zM381.43 401h19.09v2.3h-19.09zM473.36 403h19.09v2.3h-19.09zM491.75 403h19.09v2.3h-19.09zM381.43 409h19.09v2.3h-19.09zM491.75 409h19.09v2.3h-19.09zM491.75 413h19.09v2.3h-19.09zM510.14 413h19.09v2.3h-19.09zM473.36 415h19.09v2.3h-19.09zM546.91 415h19.09v2.3h-19.09zM381.43 417h19.09v2.3h-19.09zM473.36 419h19.09v2.3h-19.09zM510.14 419h19.09v2.3h-19.09zM454.97 425h19.09v2.3h-19.09zM381.43 427h19.09v2.3h-19.09zM491.75 429h19.09v2.3h-19.09zM454.97 431h19.09v2.3h-19.09zM491.75 431h19.09v2.3h-19.09zM491.75 433h19.09v2.3h-19.09zM473.36 435h19.09v2.3h-19.09zM546.91 435h19.09v2.3h-19.09zM381.43 439h19.09v2.3h-19.09zM510.14 443h19.09v2.3h-19.09zM546.91 447h19.09v2.3h-19.09zM473.36 449h19.09v2.3h-19.09zM491.75 449h19.09v2.3h-19.09zM473.36 451h19.09v2.3h-19.09zM491.75 451h19.09v2.3h-19.09zM546.91 451h19.09v2.3h-19.09zM473.36 455h19.09v2.3h-19.09zM546.91 455h19.09v2.3h-19.09zM454.97 457h19.09v2.3h-19.09zM491.75 457h19.09v2.3h-19.09zM473.36 459h19.09v2.3h-19.09zM491.75 459h19.09v2.3h-19.09zM510.14 461h19.09v2.3h-19.09zM546.91 461h19.09v2.3h-19.09zM510.14 465h19.09v2.3h-19.09zM546.91 465h19.09v2.3h-19.09zM510.14 467h19.09v2.3h-19.09zM491.75 471h19.09v2.3h-19.09zM546.91 475h19.09v2.3h-19.09zM491.75 479h19.09v2.3h-19.09zM546.91 479h19.09v2.3h-19.09zM473.36 481h19.09v2.3h-19.09zM491.75 481h19.09v2.3h-19.09zM510.14 487h19.09v2.3h-19.09zM381.43 489h19.09v2.3h-19.09zM491.75 489h19.09v2.3h-19.09zM510.14 491h19.09v2.3h-19.09zM546.91 491h19.09v2.3h-19.09zM473.36 493h19.09v2.3h-19.09zM491.75 493h19.09v2.3h-19.09zM510.14 497h19.09v2.3h-19.09zM454.97 499h19.09v2.3h-19.09zM546.91 499h19.09v2.3h-19.09zM510.14 501h19.09v2.3h-19.09zM546.91 501h19.09v2.3h-19.09zM546.91 503h19.09v2.3h-19.09zM454.97 505h19.09v2.3h-19.09zM491.75 505h19.09v2.3h-19.09zM546.91 505h19.09v2.3h-19.09zM473.36 507h19.09v2.3h-19.09zM546.91 507h19.09v2.3h-19.09zM381.43 513h19.09v2.3h-19.09zM473.36 515h19.09v2.3h-19.09zM510.14 515h19.09v2.3h-19.09zM381.43 517h19.09v2.3h-19.09zM454.97 519h19.09v2.3h-19.09zM546.91 519h19.09v2.3h-19.09zM454.97 521h19.09v2.3h-19.09zM473.36 521h19.09v2.3h-19.09zM546.91 521h19.09v2.3h-19.09zM491.75 523h19.09v2.3h-19.09zM454.97 527h19.09v2.3h-19.09zM473.36 527h19.09v2.3h-19.09zM510.14 527h19.09v2.3h-19.09zM473.36 529h19.09v2.3h-19.09zM491.75 529h19.09v2.3h-19.09zM473.36 533h19.09v2.3h-19.09zM546.91 533h19.09v2.3h-19.09zM473.36 535h19.09v2.3h-19.09zM510.14 535h19.09v2.3h-19.09zM546.91 535h19.09v2.3h-19.09zM252.71 542h19.09v2.3h-19.09zM473.36 542h19.09v2.3h-19.09zM546.91 542h19.09v2.3h-19.09zM473.36 544h19.09v2.3h-19.09zM491.75 546h19.09v2.3h-19.09zM473.36 548h19.09v2.3h-19.09zM546.91 550h19.09v2.3h-19.09zM454.97 552h19.09v2.3h-19.09zM491.75 552h19.09v2.3h-19.09zM491.75 566h19.09v2.3h-19.09zM252.71 568h19.09v2.3h-19.09zM491.75 568h19.09v2.3h-19.09zM546.91 568h19.09v2.3h-19.09zM473.36 570h19.09v2.3h-19.09zM473.36 574h19.09v2.3h-19.09zM491.75 574h19.09v2.3h-19.09zM473.36 576h19.09v2.3h-19.09zM491.75 578h19.09v2.3h-19.09zM454.97 580h19.09v2.3h-19.09zM546.91 580h19.09v2.3h-19.09zM234.32 582h19.09v2.3h-19.09zM546.91 590h19.09v2.3h-19.09zM454.97 592h19.09v2.3h-19.09zM473.36 594h19.09v2.3h-19.09zM473.36 598h19.09v2.3h-19.09zM454.97 600h19.09v2.3h-19.09zM454.97 606h19.09v2.3h-19.09zM491.75 606h19.09v2.3h-19.09zM491.75 612h19.09v2.3h-19.09zM546.91 612h19.09v2.3h-19.09zM473.36 616h19.09v2.3h-19.09zM491.75 616h19.09v2.3h-19.09zM473.36 620h19.09v2.3h-19.09zM454.97 626h19.09v2.3h-19.09zM473.36 626h19.09v2.3h-19.09zM546.91 626h19.09v2.3h-19.09z"/>
<path fill="#b40000" d="M252.71 77h19.09v2.3h-19.09zM510.14 81h19.09v2.3h-19.09zM326.26 89h19.09v2.3h-19.09zM142.39 99h19.09v2.3h-19.09zM234.32 99h19.09v2.3h-19.09zM436.59 105h19.09v2.3h-19.09zM326.26 111h19.09v2.3h-19.09zM160.78 119h19.09v2.3h-19.09zM289.49 119h19.09v2.3h-19.09zM289.49 149h19.09v2.3h-19.09zM289.49 159h19.09v2.3h-19.09zM197.55 163h19.09v2.3h-19.09zM289.49 163h19.09v2.3h-19.09zM197.55 165h19.09v2.3h-19.09zM289.49 171h19.09v2.3h-19.09zM289.49 173h19.09v2.3h-19.09zM197.55 183h19.09v2.3h-19.09zM289.49 183h19.09v2.3h-19.09zM289.49 191h19.09v2.3h-19.09zM289.49 193h19.09v2.3h-19.09zM289.49 199h19.09v2.3h-19.09zM289.49 207h19.09v2.3h-19.09zM289.49 213h19.09v2.3h-19.09zM289.49 245h19.09v2.3h-19.09zM289.49 247h19.09v2.3h-19.09zM289.49 253h19.09v2.3h-19.09zM289.49 265h19.09v2.3h-19.09zM197.55 289h19.09v2.3h-19.09zM289.49 295h19.09v2.3h-19.09zM289.49 329h19.09v2.3h-19.09zM289.49 331h19.09v2.3h-19.09zM289.49 361h19.09v2.3h-19.09zM289.49 373h19.09v2.3h-19.09zM289.49 395h19.09v2.3h-19.09zM289.49 401h19.09v2.3h-19.09zM289.49 407h19.09v2.3h-19.09zM289.49 423h19.09v2.3h-19.09zM289.49 427h19.09v2.3h-19.09zM289.49 439h19.09v2.3h-19.09zM289.49 473h19.09v2.3h-19.09z"/>
<path fill="#00c000" d="M307.88 77h19.09v2.3h-19.09zM436.59 85h19.09v2.3h-19.09zM473.36 125h19.09v2.3h-19.09zM454.97 129h19.09v2.3h-19.09zM454.97 135h19.09v2.3h-19.09zM491.75 137h19.09v2.3h-19.09zM454.97 139h19.09v2.3h-19.09zM454.97 143h19.09v2.3h-19.09zM473.36 145h19.09v2.3h-19.09zM491.75 145h19.09v2.3h-19.09zM454.97 149h19.09v2.3h-19.09zM454.97 163h19.09v2.3h-19.09zM546.91 165h19.09v2.3h-19.09zM473.36 167h19.09v2.3h-19.09zM454.97 169h19.09v2.3h-19.09zM473.36 169h19.09v2.3h-19.09zM546.91 171h19.09v2.3h-19.09zM473.36 183h19.09v2.3h-19.09zM510.14 183h19.09v2.3h-19.09zM473.36 189h19.09v2.3h-19.09zM454.97 199h19.09v2.3h-19.09zM510.14 199h19.09v2.3h-19.09zM510.14 203h19.09v2.3h-19.09zM473.36 207h19.09v2.3h-19.09zM454.97 213h19.09v2.3h-19.09zM454.97 223h19.09v2.3h-19.09zM454.97 225h19.09v2.3h-19.09zM454.97 229h19.09v2.3h-19.09zM510.14 233h19.09v2.3h-19.09zM454.97 265h19.09v2.3h-19.09zM473.36 267h19.09v2.3h-19.09zM454.97 271h19.09v2.3h-19.09zM473.36 271h19.09v2.3h-19.09zM454.97 273h19.09v2.3h-19.09zM473.36 311h19.09v2.3h-19.09zM454.97 395h19.09v2.3h-19.09z"/>
<path fill="#009c00" d="M363.04 77h19.09v2.3h-19.09zM307.88 83h19.09v2.3h-19.09zM179.16 87h19.09v2.3h-19.09zM528.52 95h19.09v2.3h-19.09zM289.49 101h19.09v2.3h-19.09zM252.71 105h19.09v2.3h-19.09zM436.59 107h19.09v2.3h-19.09zM197.55 111h19.09v2.3h-19.09zM510.14 127h19.09v2.3h-19.09zM491.75 129h19.09v2.3h-19.09zM546.91 129h19.09v2.3h-19.09zM454.97 131h19.09v2.3h-19.09zM491.75 133h19.09v2.3h-19.09zM491.75 135h19.09v2.3h-19.09zM546.91 139h19.09v2.3h-19.09zM473.36 141h19.09v2.3h-19.09zM491.75 141h19.09v2.3h-19.09zM546.91 141h19.09v2.3h-19.09zM546.91 147h19.09v2.3h-19.09zM510.14 151h19.09v2.3h-19.09zM510.14 153h19.09v2.3h-19.09zM546.91 153h19.09v2.3h-19.09zM546.91 155h19.09v2.3h-19.09zM510.14 157h19.09v2.3h-19.09zM510.14 163h19.09v2.3h-19.09zM546.91 167h19.09v2.3h-19.09zM510.14 171h19.09v2.3h-19.09zM546.91 173h19.09v2.3h-19.09zM473.36 175h19.09v2.3h-19.09zM510.14 175h19.09v2.3h-19.09zM491.75 177h19.09v2.3h-19.09zM491.75 179h19.09v2.3h-19.09zM510.14 179h19.09v2.3h-19.09zM546.91 179h19.09v2.3h-19.09zM546.91 183h19.09v2.3h-19.09zM510.14 189h19.09v2.3h-19.09zM473.36 191h19.09v2.3h-19.09zM491.75 195h19.09v2.3h-19.09zM510.14 205h19.09v2.3h-19.09zM454.97 207h19.09v2.3h-19.09zM491.75 207h19.09v2.3h-19.09zM491.75 209h19.09v2.3h-19.09zM546.91 209h19.09v2.3h-19.09zM473.36 211h19.09v2.3h-19.09zM546.91 211h19.09v2.3h-19.09zM510.14 213h19.09v2.3h-19.09zM454.97 215h19.09v2.3h-19.09zM473.36 217h19.09v2.3h-19.09zM510.14 219h19.09v2.3h-19.09zM491.75 221h19.09v2.3h-19.09zM510.14 221h19.09v2.3h-19.09zM546.91 221h19.09v2.3h-19.09zM473.36 223h19.09v2.3h-19.09zM491.75 223h19.09v2.3h-19.09zM510.14 223h19.09v2.3h-19.09zM491.75 225h19.09v2.3h-19.09zM491.75 227h19.09v2.3h-19.09zM546.91 229h19.09v2.3h-19.09zM454.97 231h19.09v2.3h-19.09zM473.36 231h19.09v2.3h-19.09zM491.75 235h19.09v2.3h-19.09zM546.91 235h19.09v2.3h-19.09zM473.36 237h19.09v2.3h-19.09zM510.14 237h19.09v2.3h-19.09zM491.75 239h19.09v2.3h-19.09zM454.97 241h19.09v2.3h-19.09zM473.36 241h19.09v2.3h-19.09zM510.14 245h19.09v2.3h-19.09zM454.97 247h19.09v2.3h-19.09zM510.14 247h19.09v2.3h-19.09zM546.91 247h19.09v2.3h-19.09zM510.14 249h19.09v2.3h-19.09zM454.97 253h19.09v2.3h-19.09zM473.36 255h19.09v2.3h-19.09zM491.75 255h19.09v2.3h-19.09zM510.14 255h19.09v2.3h-19.09zM546.91 255h19.09v2.3h-19.09zM454.97 259h19.09v2.3h-19.09zM473.36 261h19.09v2.3h-19.09zM473.36 263h19.09v2.3h-19.09zM546.91 265h19.09v2.3h-19.09zM491.75 269h19.09v2.3h-19.09zM546.91 273h19.09v2.3h-19.09zM454.97 275h19.09v2.3h-19.09zM473.36 275h19.09v2.3h-19.09zM510.14 275h19.09v2.3h-19.09zM546.91 275h19.09v2.3h-19.09zM510.14 277h19.09v2.3h-19.09zM546.91 277h19.09v2.3h-19.09zM454.97 279h19.09v2.3h-19.09zM546.91 279h19.09v2.3h-19.09zM473.36 281h19.09v2.3h-19.09zM491.75 281h19.09v2.3h-19.09zM510.14 281h19.09v2.3h-19.09zM454.97 283h19.09v2.3h-19.09zM473.36 283h19.09v2.3h-19.09zM546.91 283h19.09v2.3h-19.09zM546.91 285h19.09v2.3h-19.09zM473.36 287h19.09v2.3h-19.09zM491.75 287h19.09v2.3h-19.09zM510.14 289h19.09v2.3h-19.09zM491.75 291h19.09v2.3h-19.09zM491.75 293h19.09v2.3h-19.09zM510.14 293h19.09v2.3h-19.09zM510.14 295h19.09v2.3h-19.09zM546.91 295h19.09v2.3h-19.09zM454.97 297h19.09v2.3h-19.09zM473.36 297h19.09v2.3h-19.09zM510.14 297h19.09v2.3h-19.09zM510.14 299h19.09v2.3h-19.09zM546.91 299h19.09v2.3h-19.09zM510.14 301h19.09v2.3h-19.09zM473.36 303h19.09v2.3h-19.09zM491.75 305h19.09v2.3h-19.09zM510.14 305h19.09v2.3h-19.09zM454.97 309h19.09v2.3h-19.09zM491.75 309h19.09v2.3h-19.09zM510.14 309h19.09v2.3h-19.09zM454.97 315h19.09v2.3h-19.09zM510.14 315h19.09v2.3h-19.09zM546.91 315h19.09v2.3h-19.09zM454.97 319h19.09v2.3h-19.09zM491.75 319h19.09v2.3h-19.09zM546.91 319h19.09v2.3h-19.09zM454.97 323h19.09v2.3h-19.09zM473.36 323h19.09v2.3h-19.09zM454.97 325h19.09v2.3h-19.09zM454.97 327h19.09v2.3h-19.09zM473.36 327h19.09v2.3h-19.09zM454.97 329h19.09v2.3h-19.09zM473.36 329h19.09v2.3h-19.09zM473.36 331h19.09v2.3h-19.09zM473.36 333h19.09v2.3h-19.09zM510.14 337h19.09v2.3h-19.09zM546.91 337h19.09v2.3h-19.09zM491.75 339h19.09v2.3h-19.09zM546.91 339h19.09v2.3h-19.09zM473.36 345h19.09v2.3h-19.09zM473.36 351h19.09v2.3h-19.09zM491.75 351h19.09v2.3h-19.09zM491.75 353h19.09v2.3h-19.09zM510.14 353h19.09v2.3h-19.09zM491.75 355h19.09v2.3h-19.09zM454.97 357h19.09v2.3h-19.09zM473.36 357h19.09v2.3h-19.09zM454.97 359h19.09v2.3h-19.09zM473.36 365h19.09v2.3h-19.09zM510.14 367h19.09v2.3h-19.09zM454.97 369h19.09v2.3h-19.09zM491.75 373h19.09v2.3h-19.09zM546.91 375h19.09v2.3h-19.09zM491.75 377h19.09v2.3h-19.09zM454.97 385h19.09v2.3h-19.09zM454.97 393h19.09v2.3h-19.09zM546.91 393h19.09v2.3h-19.09zM491.75 395h19.09v2.3h-19.09zM454.97 397h19.09v2.3h-19.09zM473.36 399h19.09v2.3h-19.09zM546.91 401h19.09v2.3h-19.09zM473.36 405h19.09v2.3h-19.09zM473.36 409h19.09v2.3h-19.09zM473.36 413h19.09v2.3h-19.09zM510.14 417h19.09v2.3h-19.09zM454.97 423h19.09v2.3h-19.09zM491.75 423h19.09v2.3h-19.09zM454.97 427h19.09v2.3h-19.09zM510.14 427h19.09v2.3h-19.09zM473.36 429h19.09v2.3h-19.09zM510.14 433h19.09v2.3h-19.09zM546.91 433h19.09v2.3h-19.09zM473.36 437h19.09v2.3h-19.09zM491.75 439h19.09v2.3h-19.09zM491.75 453h19.09v2.3h-19.09zM454.97 471h19.09v2.3h-19.09zM491.75 473h19.09v2.3h-19.09zM454.97 517h19.09v2.3h-19.09zM546.91 517h19.09v2.3h-19.09zM473.36 523h19.09v2.3h-19.09zM473.36 525h19.09v2.3h-19.09zM473.36 539h19.09v1.3h-19.09zM454.97 542h19.09v2.3h-19.09zM454.97 546h19.09v2.3h-19.09zM454.97 550h19.09v2.3h-19.09zM491.75 562h19.09v2.3h-19.09zM473.36 564h19.09v2.3h-19.09zM454.97 568h19.09v2.3h-19.09zM454.97 574h19.09v2.3h-19.09zM491.75 582h19.09v2.3h-19.09zM473.36 592h19.09v2.3h-19.09z"/>
<path fill="#d80000" d="M326.26 81h19.09v2.3h-19.09zM124 540h19.09v2.3h-19.09zM142.39 540h19.09v2.3h-19.09zM160.78 540h19.09v2.3h-19.09zM179.16 540h19.09v2.3h-19.09zM197.55 540h19.09v2.3h-19.09zM215.94 540h19.09v2.3h-19.09zM289.49 540h19.09v2.3h-19.09zM344.65 540h19.09v2.3h-19.09zM363.04 540h19.09v2.3h-19.09zM381.43 540h19.09v2.3h-19.09zM399.81 540h19.09v2.3h-19.09zM418.2 540h19.09v2.3h-19.09zM436.59 540h19.09v2.3h-19.09z"/>
<path fill="#00b400" d="M528.52 85h19.09v2.3h-19.09zM399.81 113h19.09v2.3h-19.09zM363.04 115h19.09v2.3h-19.09zM473.36 129h19.09v2.3h-19.09zM473.36 133h19.09v2.3h-19.09zM546.91 135h19.09v2.3h-19.09zM473.36 137h19.09v2.3h-19.09zM510.14 137h19.09v2.3h-19.09zM546.91 137h19.09v2.3h-19.09zM491.75 139h19.09v2.3h-19.09zM510.14 139h19.09v2.3h-19.09zM454.97 141h19.09v2.3h-19.09zM473.36 143h19.09v2.3h-19.09zM546.91 143h19.09v2.3h-19.09zM454.97 147h19.09v2.3h-19.09zM473.36 147h19.09v2.3h-19.09zM491.75 147h19.09v2.3h-19.09zM473.36 149h19.09v2.3h-19.09zM546.91 149h19.09v2.3h-19.09zM473.36 159h19.09v2.3h-19.09zM546.91 159h19.09v2.3h-19.09zM473.36 163h19.09v2.3h-19.09zM491.75 163h19.09v2.3h-19.09zM546.91 163h19.09v2.3h-19.09zM473.36 165h19.09v2.3h-19.09zM510.14 165h19.09v2.3h-19.09zM510.14 167h19.09v2.3h-19.09zM454.97 171h19.09v2.3h-19.09zM454.97 173h19.09v2.3h-19.09zM473.36 173h19.09v2.3h-19.09zM491.75 173h19.09v2.3h-19.09zM473.36 179h19.09v2.3h-19.09zM454.97 181h19.09v2.3h-19.09zM473.36 181h19.09v2.3h-19.09zM454.97 183h19.09v2.3h-19.09zM454.97 185h19.09v2.3h-19.09zM546.91 185h19.09v2.3h-19.09zM454.97 187h19.09v2.3h-19.09zM473.36 187h19.09v2.3h-19.09zM491.75 189h19.09v2.3h-19.09zM546.91 189h19.09v2.3h-19.09zM454.97 191h19.09v2.3h-19.09zM473.36 193h19.09v2.3h-19.09zM510.14 193h19.09v2.3h-19.09zM454.97 195h19.09v2.3h-19.09zM473.36 195h19.09v2.3h-19.09zM510.14 195h19.09v2.3h-19.09zM454.97 197h19.09v2.3h-19.09zM473.36 197h19.09v2.3h-19.09zM491.75 197h19.09v2.3h-19.09zM546.91 197h19.09v2.3h-19.09zM491.75 199h19.09v2.3h-19.09zM473.36 201h19.09v2.3h-19.09zM491.75 201h19.09v2.3h-19.09zM473.36 203h19.09v2.3h-19.09zM491.75 203h19.09v2.3h-19.09zM546.91 203h19.09v2.3h-19.09zM473.36 205h19.09v2.3h-19.09zM546.91 207h19.09v2.3h-19.09zM473.36 209h19.09v2.3h-19.09zM454.97 217h19.09v2.3h-19.09zM473.36 225h19.09v2.3h-19.09zM454.97 227h19.09v2.3h-19.09zM473.36 227h19.09v2.3h-19.09zM546.91 231h19.09v2.3h-19.09zM454.97 233h19.09v2.3h-19.09zM473.36 233h19.09v2.3h-19.09zM491.75 233h19.09v2.3h-19.09zM454.97 237h19.09v2.3h-19.09zM473.36 239h19.09v2.3h-19.09zM454.97 243h19.09v2.3h-19.09zM473.36 245h19.09v2.3h-19.09zM491.75 245h19.09v2.3h-19.09zM546.91 245h19.09v2.3h-19.09zM473.36 247h19.09v2.3h-19.09zM473.36 249h19.09v2.3h-19.09zM454.97 255h19.09v2.3h-19.09zM454.97 261h19.09v2.3h-19.09zM546.91 261h19.09v2.3h-19.09zM454.97 263h19.09v2.3h-19.09zM473.36 265h19.09v2.3h-19.09zM454.97 267h19.09v2.3h-19.09zM510.14 267h19.09v2.3h-19.09zM454.97 269h19.09v2.3h-19.09zM546.91 271h19.09v2.3h-19.09zM454.97 277h19.09v2.3h-19.09zM454.97 281h19.09v2.3h-19.09zM454.97 287h19.09v2.3h-19.09zM473.36 289h19.09v2.3h-19.09zM454.97 291h19.09v2.3h-19.09zM454.97 299h19.09v2.3h-19.09zM454.97 311h19.09v2.3h-19.09zM491.75 311h19.09v2.3h-19.09zM473.36 313h19.09v2.3h-19.09zM454.97 337h19.09v2.3h-19.09zM473.36 361h19.09v2.3h-19.09zM473.36 395h19.09v2.3h-19.09zM510.14 395h19.09v2.3h-19.09zM454.97 401h19.09v2.3h-19.09zM473.36 401h19.09v2.3h-19.09zM454.97 439h19.09v2.3h-19.09z"/>
<path fill="#00f000" d="M546.91 85h19.09v2.3h-19.09z"/>
<path fill="#cc0000" d="M124 95h19.09v2.3h-19.09z"/>
<path fill="#e40000" d="M271.1 99h19.09v2.3h-19.09z"/>
<path fill="#f00000" d="M491.75 99h19.09v2.3h-19.09z"/>
<path fill="#00cc00" d="M197.55 107h19.09v2.3h-19.09zM454.97 137h19.09v2.3h-19.09zM454.97 145h19.09v2.3h-19.09zM454.97 165h19.09v2.3h-19.09zM473.36 171h19.09v2.3h-19.09zM454.97 177h19.09v2.3h-19.09zM473.36 185h19.09v2.3h-19.09zM454.97 193h19.09v2.3h-19.09zM473.36 273h19.09v2.3h-19.09z"/>
<path fill="#00d800" d="M234.32 540h19.09v2.3h-19.09zM252.71 540h19.09v2.3h-19.09zM271.1 540h19.09v2.3h-19.09zM307.88 540h19.09v2.3h-19.09zM326.26 540h19.09v2.3h-19.09zM454.97 540h19.09v2.3h-19.09zM473.36 540h19.09v2.3h-19.09zM491.75 540h19.09v2.3h-19.09zM510.14 540h19.09v2.3h-19.09zM528.52 540h19.09v2.3h-19.09zM546.91 540h19.09v2.3h-19.09z"/>
<text transform="translate(650.07,50.79) scale(0.8757,1)" font-size="67.02" font-weight="bold" font-style="normal" fill="#000" stroke="#000" stroke-width="2.01" stroke-linejoin="round">b</text>
<text transform="translate(699.26,42.68) scale(0.8481,1)" font-size="34.97" font-weight="bold" font-style="normal" fill="#000" stroke="#000" stroke-width="1.05" stroke-linejoin="round">Cluster I</text>
<text transform="translate(977.33,45.5) scale(0.8520,1)" font-size="26.00" font-weight="normal" font-style="normal" fill="#000" stroke="#000" stroke-width="0.31" stroke-linejoin="round">GO term</text>
<text transform="translate(1336.49,45.5) scale(0.8520,1)" font-size="26.00" font-weight="normal" font-style="normal" fill="#000" stroke="#000" stroke-width="0.31" stroke-linejoin="round">n</text>
<text transform="translate(1375.72,45.5) scale(0.8520,1)" font-size="26.00" font-weight="normal" font-style="normal" fill="#000" stroke="#000" stroke-width="0.31" stroke-linejoin="round">Adj. PVal</text>
<line x1="703" y1="52.2" x2="1467" y2="52.2" stroke="#000" stroke-width="2.6"/>
<rect x="727" y="53.6" width="587" height="22.7" fill="#ffc6ff"/>
<rect x="1317" y="53.6" width="53" height="22.7" fill="#ffc6ff"/>
<rect x="1373" y="53.6" width="94" height="22.7" fill="#ffc6ff"/>
<rect x="727" y="80.2" width="587" height="22.3" fill="#ffc6ff"/>
<rect x="1317" y="80.2" width="53" height="22.3" fill="#ffc6ff"/>
<rect x="1373" y="80.2" width="94" height="22.3" fill="#ffc6ff"/>
<rect x="727" y="105.9" width="587" height="22.6" fill="#ffc6ff"/>
<rect x="1317" y="105.9" width="53" height="22.6" fill="#ffc6ff"/>
<rect x="1373" y="105.9" width="94" height="22.6" fill="#ffc6ff"/>
<rect x="727" y="131.8" width="587" height="22.7" fill="#ffc6ff"/>
<rect x="1317" y="131.8" width="53" height="22.7" fill="#ffc6ff"/>
<rect x="1373" y="131.8" width="94" height="22.7" fill="#ffc6ff"/>
<rect x="727" y="157.8" width="587" height="22.8" fill="#ffc6ff"/>
<rect x="1317" y="157.8" width="53" height="22.8" fill="#ffc6ff"/>
<rect x="1373" y="157.8" width="94" height="22.8" fill="#ffc6ff"/>
<rect x="727" y="183.8" width="587" height="22.6" fill="#ffc6ff"/>
<rect x="1317" y="183.8" width="53" height="22.6" fill="#ffc6ff"/>
<rect x="1373" y="183.8" width="94" height="22.6" fill="#ffc6ff"/>
<rect x="727" y="210" width="587" height="22.6" fill="#ffc6ff"/>
<rect x="1317" y="210" width="53" height="22.6" fill="#ffc6ff"/>
<rect x="1373" y="210" width="94" height="22.6" fill="#ffc6ff"/>
<rect x="727" y="235.8" width="587" height="22.8" fill="#ffc6ff"/>
<rect x="1317" y="235.8" width="53" height="22.8" fill="#ffc6ff"/>
<rect x="1373" y="235.8" width="94" height="22.8" fill="#ffc6ff"/>
<rect x="727" y="261.6" width="587" height="22.8" fill="#ffc6ff"/>
<rect x="1317" y="261.6" width="53" height="22.8" fill="#ffc6ff"/>
<rect x="1373" y="261.6" width="94" height="22.8" fill="#ffc6ff"/>
<rect x="727" y="287.8" width="587" height="22.4" fill="#ffc6ff"/>
<rect x="1317" y="287.8" width="53" height="22.4" fill="#ffc6ff"/>
<rect x="1373" y="287.8" width="94" height="22.4" fill="#ffc6ff"/>
<text transform="translate(727.19,73.3) scale(0.8520,1)" font-size="26.00" font-weight="normal" font-style="normal" fill="#000" stroke="#000" stroke-width="0.31" stroke-linejoin="round">porphyrin-containing compound biosynthetic process</text>
<text transform="translate(1345.39,73.3) scale(0.8520,1)" font-size="26.00" font-weight="normal" font-style="normal" fill="#000" stroke="#000" stroke-width="0.31" stroke-linejoin="round">12</text>
<text transform="translate(1387.94,73.3) scale(0.8520,1)" font-size="26.00" font-weight="normal" font-style="normal" fill="#000" stroke="#000" stroke-width="0.31" stroke-linejoin="round">1.1E-12</text>
<text transform="translate(727.19,100.1) scale(0.8520,1)" font-size="26.00" font-weight="normal" font-style="normal" fill="#000" stroke="#000" stroke-width="0.31" stroke-linejoin="round">porphyrin-containing compound metabolic process</text>
<text transform="translate(1345.16,100.1) scale(0.8520,1)" font-size="26.00" font-weight="normal" font-style="normal" fill="#000" stroke="#000" stroke-width="0.31" stroke-linejoin="round">13</text>
<text transform="translate(1387.94,100.1) scale(0.8520,1)" font-size="26.00" font-weight="normal" font-style="normal" fill="#000" stroke="#000" stroke-width="0.31" stroke-linejoin="round">2.1E-12</text>
<text transform="translate(728.19,124.5) scale(0.8520,1)" font-size="26.00" font-weight="normal" font-style="normal" fill="#000" stroke="#000" stroke-width="0.31" stroke-linejoin="round">Tetrapyrrole biosynthetic process</text>
<text transform="translate(1345.39,124.5) scale(0.8520,1)" font-size="26.00" font-weight="normal" font-style="normal" fill="#000" stroke="#000" stroke-width="0.31" stroke-linejoin="round">12</text>
<text transform="translate(1387.94,124.5) scale(0.8520,1)" font-size="26.00" font-weight="normal" font-style="normal" fill="#000" stroke="#000" stroke-width="0.31" stroke-linejoin="round">2.1E-12</text>
<text transform="translate(728.19,150.8) scale(0.8520,1)" font-size="26.00" font-weight="normal" font-style="normal" fill="#000" stroke="#000" stroke-width="0.31" stroke-linejoin="round">Tetrapyrrole metabolic process</text>
<text transform="translate(1345.16,150.8) scale(0.8520,1)" font-size="26.00" font-weight="normal" font-style="normal" fill="#000" stroke="#000" stroke-width="0.31" stroke-linejoin="round">13</text>
<text transform="translate(1389.49,150.8) scale(0.8520,1)" font-size="26.00" font-weight="normal" font-style="normal" fill="#000" stroke="#000" stroke-width="0.31" stroke-linejoin="round">2.3E-11</text>
<text transform="translate(726.86,177.5) scale(0.8520,1)" font-size="26.00" font-weight="normal" font-style="normal" fill="#000" stroke="#000" stroke-width="0.31" stroke-linejoin="round">Heme biosynthetic process</text>
<text transform="translate(1357.57,177.5) scale(0.8520,1)" font-size="26.00" font-weight="normal" font-style="normal" fill="#000" stroke="#000" stroke-width="0.31" stroke-linejoin="round">9</text>
<text transform="translate(1387.83,177.5) scale(0.8520,1)" font-size="26.00" font-weight="normal" font-style="normal" fill="#000" stroke="#000" stroke-width="0.31" stroke-linejoin="round">3.3E-09</text>
<text transform="translate(726.86,202) scale(0.8520,1)" font-size="26.00" font-weight="normal" font-style="normal" fill="#000" stroke="#000" stroke-width="0.31" stroke-linejoin="round">Erythrocyte differentiation</text>
<text transform="translate(1345.39,202) scale(0.8520,1)" font-size="26.00" font-weight="normal" font-style="normal" fill="#000" stroke="#000" stroke-width="0.31" stroke-linejoin="round">17</text>
<text transform="translate(1387.83,202) scale(0.8520,1)" font-size="26.00" font-weight="normal" font-style="normal" fill="#000" stroke="#000" stroke-width="0.31" stroke-linejoin="round">3.3E-09</text>
<text transform="translate(726.86,228) scale(0.8520,1)" font-size="26.00" font-weight="normal" font-style="normal" fill="#000" stroke="#000" stroke-width="0.31" stroke-linejoin="round">Heme biosynthetic process</text>
<text transform="translate(1345.05,228) scale(0.8520,1)" font-size="26.00" font-weight="normal" font-style="normal" fill="#000" stroke="#000" stroke-width="0.31" stroke-linejoin="round">10</text>
<text transform="translate(1387.83,228) scale(0.8520,1)" font-size="26.00" font-weight="normal" font-style="normal" fill="#000" stroke="#000" stroke-width="0.31" stroke-linejoin="round">3.9E-09</text>
<text transform="translate(726.86,255) scale(0.8520,1)" font-size="26.00" font-weight="normal" font-style="normal" fill="#000" stroke="#000" stroke-width="0.31" stroke-linejoin="round">Erythrocyte homeostasis</text>
<text transform="translate(1345.39,255) scale(0.8520,1)" font-size="26.00" font-weight="normal" font-style="normal" fill="#000" stroke="#000" stroke-width="0.31" stroke-linejoin="round">17</text>
<text transform="translate(1387.83,255) scale(0.8520,1)" font-size="26.00" font-weight="normal" font-style="normal" fill="#000" stroke="#000" stroke-width="0.31" stroke-linejoin="round">7.8E-09</text>
<text transform="translate(726.86,279.5) scale(0.8520,1)" font-size="26.00" font-weight="normal" font-style="normal" fill="#000" stroke="#000" stroke-width="0.31" stroke-linejoin="round">Protoporphyrinogen IX metabolic process</text>
<text transform="translate(1357.68,279.5) scale(0.8520,1)" font-size="26.00" font-weight="normal" font-style="normal" fill="#000" stroke="#000" stroke-width="0.31" stroke-linejoin="round">7</text>
<text transform="translate(1387.72,279.5) scale(0.8520,1)" font-size="26.00" font-weight="normal" font-style="normal" fill="#000" stroke="#000" stroke-width="0.31" stroke-linejoin="round">1.2E-08</text>
<text transform="translate(726.86,306.5) scale(0.8520,1)" font-size="26.00" font-weight="normal" font-style="normal" fill="#000" stroke="#000" stroke-width="0.31" stroke-linejoin="round">Myeloid cell homoeostasis</text>
<text transform="translate(1345.16,306.5) scale(0.8520,1)" font-size="26.00" font-weight="normal" font-style="normal" fill="#000" stroke="#000" stroke-width="0.31" stroke-linejoin="round">18</text>
<text transform="translate(1387.72,306.5) scale(0.8520,1)" font-size="26.00" font-weight="normal" font-style="normal" fill="#000" stroke="#000" stroke-width="0.31" stroke-linejoin="round">3.3E-08</text>
<line x1="703.5" y1="312.5" x2="1467" y2="312.5" stroke="#000" stroke-width="2.6"/>
<text transform="translate(702.76,360.47) scale(0.8373,1)" font-size="35.21" font-weight="bold" font-style="normal" fill="#000" stroke="#000" stroke-width="1.06" stroke-linejoin="round">Custer II</text>
<line x1="704" y1="367.8" x2="1467" y2="367.8" stroke="#000" stroke-width="2.6"/>
<rect x="727" y="369.2" width="587" height="22.2" fill="#fff4cc"/>
<rect x="1317" y="369.2" width="53" height="22.2" fill="#fff4cc"/>
<rect x="1373" y="369.2" width="94" height="22.2" fill="#fff4cc"/>
<text transform="translate(726.64,387.4) scale(0.8520,1)" font-size="26.00" font-weight="normal" font-style="normal" fill="#000" stroke="#000" stroke-width="0.31" stroke-linejoin="round">Immune system process</text>
<text transform="translate(1332.37,387.4) scale(0.8520,1)" font-size="26.00" font-weight="normal" font-style="normal" fill="#000" stroke="#000" stroke-width="0.31" stroke-linejoin="round">346</text>
<text transform="translate(1388.72,387.4) scale(0.8520,1)" font-size="26.00" font-weight="normal" font-style="normal" fill="#000" stroke="#000" stroke-width="0.31" stroke-linejoin="round">1.1E-35</text>
<text transform="translate(726.86,414.3) scale(0.8520,1)" font-size="26.00" font-weight="normal" font-style="normal" fill="#000" stroke="#000" stroke-width="0.31" stroke-linejoin="round">Positive regulation of metabolic process</text>
<text transform="translate(1332.37,414.3) scale(0.8520,1)" font-size="26.00" font-weight="normal" font-style="normal" fill="#000" stroke="#000" stroke-width="0.31" stroke-linejoin="round">458</text>
<text transform="translate(1388.5,414.3) scale(0.8520,1)" font-size="26.00" font-weight="normal" font-style="normal" fill="#000" stroke="#000" stroke-width="0.31" stroke-linejoin="round">4.4E-34</text>
<text transform="translate(726.86,440.2) scale(0.8520,1)" font-size="26.00" font-weight="normal" font-style="normal" fill="#000" stroke="#000" stroke-width="0.31" stroke-linejoin="round">Positive regulation of macromolecule metabolic process</text>
<text transform="translate(1332.48,440.2) scale(0.8520,1)" font-size="26.00" font-weight="normal" font-style="normal" fill="#000" stroke="#000" stroke-width="0.31" stroke-linejoin="round">429</text>
<text transform="translate(1388.72,440.2) scale(0.8520,1)" font-size="26.00" font-weight="normal" font-style="normal" fill="#000" stroke="#000" stroke-width="0.31" stroke-linejoin="round">4.4E-33</text>
<text transform="translate(726.86,465.3) scale(0.8520,1)" font-size="26.00" font-weight="normal" font-style="normal" fill="#000" stroke="#000" stroke-width="0.31" stroke-linejoin="round">Negative regulation of cellular process</text>
<text transform="translate(1332.59,465.3) scale(0.8520,1)" font-size="26.00" font-weight="normal" font-style="normal" fill="#000" stroke="#000" stroke-width="0.31" stroke-linejoin="round">542</text>
<text transform="translate(1388.61,465.3) scale(0.8520,1)" font-size="26.00" font-weight="normal" font-style="normal" fill="#000" stroke="#000" stroke-width="0.31" stroke-linejoin="round">2.0E-30</text>
<text transform="translate(726.86,491.3) scale(0.8520,1)" font-size="26.00" font-weight="normal" font-style="normal" fill="#000" stroke="#000" stroke-width="0.31" stroke-linejoin="round">Positive regulation of cellular metabolic process</text>
<text transform="translate(1332.59,491.3) scale(0.8520,1)" font-size="26.00" font-weight="normal" font-style="normal" fill="#000" stroke="#000" stroke-width="0.31" stroke-linejoin="round">402</text>
<text transform="translate(1388.83,491.3) scale(0.8520,1)" font-size="26.00" font-weight="normal" font-style="normal" fill="#000" stroke="#000" stroke-width="0.31" stroke-linejoin="round">2.3E-29</text>
<text transform="translate(726.86,518.7) scale(0.8520,1)" font-size="26.00" font-weight="normal" font-style="normal" fill="#000" stroke="#000" stroke-width="0.31" stroke-linejoin="round">Regulation of gene expression</text>
<text transform="translate(1332.26,518.7) scale(0.8520,1)" font-size="26.00" font-weight="normal" font-style="normal" fill="#000" stroke="#000" stroke-width="0.31" stroke-linejoin="round">510</text>
<text transform="translate(1388.83,518.7) scale(0.8520,1)" font-size="26.00" font-weight="normal" font-style="normal" fill="#000" stroke="#000" stroke-width="0.31" stroke-linejoin="round">5.6E-29</text>
<text transform="translate(726.86,542.7) scale(0.8520,1)" font-size="26.00" font-weight="normal" font-style="normal" fill="#000" stroke="#000" stroke-width="0.31" stroke-linejoin="round">Positive regulation of nitrogen compound metabolic process</text>
<text transform="translate(1332.37,542.7) scale(0.8520,1)" font-size="26.00" font-weight="normal" font-style="normal" fill="#000" stroke="#000" stroke-width="0.31" stroke-linejoin="round">376</text>
<text transform="translate(1388.94,542.7) scale(0.8520,1)" font-size="26.00" font-weight="normal" font-style="normal" fill="#000" stroke="#000" stroke-width="0.31" stroke-linejoin="round">7.8E-27</text>
<text transform="translate(726.86,569.2) scale(0.8520,1)" font-size="26.00" font-weight="normal" font-style="normal" fill="#000" stroke="#000" stroke-width="0.31" stroke-linejoin="round">Positive regulation of biosynthetic process</text>
<text transform="translate(1332.37,569.2) scale(0.8520,1)" font-size="26.00" font-weight="normal" font-style="normal" fill="#000" stroke="#000" stroke-width="0.31" stroke-linejoin="round">273</text>
<text transform="translate(1388.5,569.2) scale(0.8520,1)" font-size="26.00" font-weight="normal" font-style="normal" fill="#000" stroke="#000" stroke-width="0.31" stroke-linejoin="round">1.7E-24</text>
<text transform="translate(727.53,596.2) scale(0.8520,1)" font-size="26.00" font-weight="normal" font-style="normal" fill="#000" stroke="#000" stroke-width="0.31" stroke-linejoin="round">Cell activation</text>
<text transform="translate(1332.48,596.2) scale(0.8520,1)" font-size="26.00" font-weight="normal" font-style="normal" fill="#000" stroke="#000" stroke-width="0.31" stroke-linejoin="round">171</text>
<text transform="translate(1388.5,596.2) scale(0.8520,1)" font-size="26.00" font-weight="normal" font-style="normal" fill="#000" stroke="#000" stroke-width="0.31" stroke-linejoin="round">1.7E-24</text>
<text transform="translate(727.53,620.2) scale(0.8520,1)" font-size="26.00" font-weight="normal" font-style="normal" fill="#000" stroke="#000" stroke-width="0.31" stroke-linejoin="round">Cellular response to chemical stimulus</text>
<text transform="translate(1332.37,620.2) scale(0.8520,1)" font-size="26.00" font-weight="normal" font-style="normal" fill="#000" stroke="#000" stroke-width="0.31" stroke-linejoin="round">363</text>
<text transform="translate(1388.5,620.2) scale(0.8520,1)" font-size="26.00" font-weight="normal" font-style="normal" fill="#000" stroke="#000" stroke-width="0.31" stroke-linejoin="round">2.0E-24</text>
<line x1="701" y1="627.2" x2="1470" y2="627.2" stroke="#000" stroke-width="2.6"/>
<text transform="translate(14.17,758.48) scale(0.8408,1)" font-size="67.89" font-weight="bold" font-style="normal" fill="#000" stroke="#000" stroke-width="2.04" stroke-linejoin="round">c</text>
<defs><clipPath id="gclip"><circle cx="455" cy="812.2" r="74"/></clipPath></defs>
<circle cx="527.2" cy="782.2" r="103.8" fill="#ffc4c4"/>
<circle cx="455" cy="812.2" r="74" fill="#defcde"/>
<circle cx="527.2" cy="782.2" r="103.8" fill="#e6d4b0" clip-path="url(#gclip)"/>
<circle cx="527.2" cy="782.2" r="103.8" fill="none" stroke="#000" stroke-width="2.7"/>
<circle cx="455" cy="812.2" r="74" fill="none" stroke="#000" stroke-width="2.7"/>
<circle cx="527.2" cy="782.2" r="103.8" fill="none" stroke="#0a2a0a" stroke-width="2.7" clip-path="url(#gclip)"/>
<text transform="translate(536.45,790.42) scale(0.8962,1)" font-size="38.36" font-weight="bold" font-style="normal" fill="#000" stroke="#000" stroke-width="1.15" stroke-linejoin="round">186</text>
<text transform="translate(463.16,814.4) scale(0.8469,1)" font-size="39.73" font-weight="bold" font-style="normal" fill="#000" stroke="#000" stroke-width="1.19" stroke-linejoin="round">78</text>
<text transform="translate(389.67,847.4) scale(0.8259,1)" font-size="39.73" font-weight="bold" font-style="normal" fill="#000" stroke="#000" stroke-width="1.19" stroke-linejoin="round">38</text>
<text transform="translate(135.69,803.6) scale(0.8680,1)" font-size="25.50" font-weight="bold" font-style="normal" fill="#000" stroke="#000" stroke-width="0.77" stroke-linejoin="round">Downregulated in</text>
<text transform="translate(135.7,836) scale(0.8633,1)" font-size="25.50" font-weight="bold" font-style="normal" fill="#000" stroke="#000" stroke-width="0.77" stroke-linejoin="round">FL-WT vs. GC-WT</text>
<text transform="translate(136.03,866) scale(0.8600,1)" font-size="25.50" font-weight="bold" font-style="normal" fill="#000" stroke="#000" stroke-width="0.77" stroke-linejoin="round">(116)</text>
<text transform="translate(639.7,687.1) scale(0.8661,1)" font-size="25.50" font-weight="bold" font-style="normal" fill="#000" stroke="#000" stroke-width="0.77" stroke-linejoin="round">Downregulated in</text>
<text transform="translate(639.69,720) scale(0.8679,1)" font-size="25.50" font-weight="bold" font-style="normal" fill="#000" stroke="#000" stroke-width="0.77" stroke-linejoin="round">FL-KO vs. GC-KO</text>
<text transform="translate(640.03,749.2) scale(0.8600,1)" font-size="25.50" font-weight="bold" font-style="normal" fill="#000" stroke="#000" stroke-width="0.77" stroke-linejoin="round">(264</text>
<text transform="translate(14,916.56) scale(0.8635,1)" font-size="69.27" font-weight="bold" font-style="normal" fill="#000" stroke="#000" stroke-width="2.08" stroke-linejoin="round">d</text>
<line x1="48.8" y1="925" x2="756.5" y2="925" stroke="#000" stroke-width="3"/>
<text transform="translate(300.43,956) scale(0.8520,1)" font-size="26.00" font-weight="normal" font-style="normal" fill="#000" stroke="#000" stroke-width="0.31" stroke-linejoin="round">GO term</text>
<text transform="translate(619.59,956.2) scale(0.8520,1)" font-size="26.00" font-weight="normal" font-style="normal" fill="#000" stroke="#000" stroke-width="0.31" stroke-linejoin="round">n</text>
<text transform="translate(654.03,956.2) scale(0.8520,1)" font-size="26.00" font-weight="normal" font-style="normal" fill="#000" stroke="#000" stroke-width="0.31" stroke-linejoin="round">Adj. PVal</text>
<line x1="50.7" y1="962" x2="754.3" y2="962" stroke="#000" stroke-width="2.6"/>
<text transform="translate(53.6,994.34) scale(0.9195,1)" font-size="23.84" font-weight="bold" font-style="normal" fill="#000" stroke="#000" stroke-width="0.72" stroke-linejoin="round">FL-WT vs. GC-WT</text>
<text transform="translate(53.59,1169.13) scale(0.8877,1)" font-size="24.93" font-weight="bold" font-style="normal" fill="#000" stroke="#000" stroke-width="0.75" stroke-linejoin="round">FL-KO vs. GC-KO</text>
<rect x="78.7" y="1000.2" width="530.4" height="25.4" fill="#ffc6ff"/>
<rect x="612.5" y="1000.2" width="30.4" height="25.4" fill="#ffc6ff"/>
<rect x="646.2" y="1000.2" width="107.7" height="25.4" fill="#ffc6ff"/>
<rect x="78.7" y="1029.5" width="530.4" height="24.2" fill="#ffc6ff"/>
<rect x="612.5" y="1029.5" width="30.4" height="24.2" fill="#ffc6ff"/>
<rect x="646.2" y="1029.5" width="107.7" height="24.2" fill="#ffc6ff"/>
<rect x="78.7" y="1057.4" width="530.4" height="24.5" fill="#ffc6ff"/>
<rect x="612.5" y="1057.4" width="30.4" height="24.5" fill="#ffc6ff"/>
<rect x="646.2" y="1057.4" width="107.7" height="24.5" fill="#ffc6ff"/>
<rect x="78.7" y="1113.6" width="530.4" height="24.5" fill="#ffc6ff"/>
<rect x="612.5" y="1113.6" width="30.4" height="24.5" fill="#ffc6ff"/>
<rect x="646.2" y="1113.6" width="107.7" height="24.5" fill="#ffc6ff"/>
<rect x="78.7" y="1178.9" width="530.4" height="24.3" fill="#ffc6ff"/>
<rect x="612.5" y="1178.9" width="30.4" height="24.3" fill="#ffc6ff"/>
<rect x="646.2" y="1178.9" width="107.7" height="24.3" fill="#ffc6ff"/>
<rect x="78.7" y="1206.9" width="530.4" height="24.3" fill="#ffc6ff"/>
<rect x="612.5" y="1206.9" width="30.4" height="24.3" fill="#ffc6ff"/>
<rect x="646.2" y="1206.9" width="107.7" height="24.3" fill="#ffc6ff"/>
<rect x="78.7" y="1235.5" width="530.4" height="24.3" fill="#ffc6ff"/>
<rect x="612.5" y="1235.5" width="30.4" height="24.3" fill="#ffc6ff"/>
<rect x="646.2" y="1235.5" width="107.7" height="24.3" fill="#ffc6ff"/>
<rect x="78.7" y="1263.2" width="530.4" height="23.8" fill="#ffc6ff"/>
<rect x="612.5" y="1263.2" width="30.4" height="23.8" fill="#ffc6ff"/>
<rect x="646.2" y="1263.2" width="107.7" height="23.8" fill="#ffc6ff"/>
<rect x="78.7" y="1290.5" width="530.4" height="22.8" fill="#ffc6ff"/>
<rect x="612.5" y="1290.5" width="30.4" height="22.8" fill="#ffc6ff"/>
<rect x="646.2" y="1290.5" width="107.7" height="22.8" fill="#ffc6ff"/>
<text transform="translate(78.86,1022.2) scale(0.8520,1)" font-size="26.00" font-weight="normal" font-style="normal" fill="#000" stroke="#000" stroke-width="0.31" stroke-linejoin="round">Erythrocyte development</text>
<text transform="translate(629.38,1022.2) scale(0.8520,1)" font-size="26.00" font-weight="normal" font-style="normal" fill="#000" stroke="#000" stroke-width="0.31" stroke-linejoin="round">7</text>
<text transform="translate(674.84,1022.2) scale(0.8520,1)" font-size="26.00" font-weight="normal" font-style="normal" fill="#000" stroke="#000" stroke-width="0.31" stroke-linejoin="round">6.7E-07</text>
<text transform="translate(78.86,1048.6) scale(0.8520,1)" font-size="26.00" font-weight="normal" font-style="normal" fill="#000" stroke="#000" stroke-width="0.31" stroke-linejoin="round">Porphyrin-containing compound biosynthetic process</text>
<text transform="translate(629.16,1048.6) scale(0.8520,1)" font-size="26.00" font-weight="normal" font-style="normal" fill="#000" stroke="#000" stroke-width="0.31" stroke-linejoin="round">6</text>
<text transform="translate(674.62,1048.6) scale(0.8520,1)" font-size="26.00" font-weight="normal" font-style="normal" fill="#000" stroke="#000" stroke-width="0.31" stroke-linejoin="round">1.0E-06</text>
<text transform="translate(80.19,1075.8) scale(0.8520,1)" font-size="26.00" font-weight="normal" font-style="normal" fill="#000" stroke="#000" stroke-width="0.31" stroke-linejoin="round">Tetrapyrrole biosynthetic process</text>
<text transform="translate(629.16,1075.8) scale(0.8520,1)" font-size="26.00" font-weight="normal" font-style="normal" fill="#000" stroke="#000" stroke-width="0.31" stroke-linejoin="round">6</text>
<text transform="translate(674.62,1075.8) scale(0.8520,1)" font-size="26.00" font-weight="normal" font-style="normal" fill="#000" stroke="#000" stroke-width="0.31" stroke-linejoin="round">1.1E-06</text>
<text transform="translate(78.86,1105) scale(0.8520,1)" font-size="26.00" font-weight="normal" font-style="normal" fill="#000" stroke="#000" stroke-width="0.31" stroke-linejoin="round">Myeloid cell development</text>
<text transform="translate(629.16,1105) scale(0.8520,1)" font-size="26.00" font-weight="normal" font-style="normal" fill="#000" stroke="#000" stroke-width="0.31" stroke-linejoin="round">8</text>
<text transform="translate(674.62,1105) scale(0.8520,1)" font-size="26.00" font-weight="normal" font-style="normal" fill="#000" stroke="#000" stroke-width="0.31" stroke-linejoin="round">1.1E-06</text>
<text transform="translate(78.86,1132.2) scale(0.8520,1)" font-size="26.00" font-weight="normal" font-style="normal" fill="#000" stroke="#000" stroke-width="0.31" stroke-linejoin="round">Erythrocyte differentiation</text>
<text transform="translate(629.27,1132.2) scale(0.8520,1)" font-size="26.00" font-weight="normal" font-style="normal" fill="#000" stroke="#000" stroke-width="0.31" stroke-linejoin="round">9</text>
<text transform="translate(674.62,1132.2) scale(0.8520,1)" font-size="26.00" font-weight="normal" font-style="normal" fill="#000" stroke="#000" stroke-width="0.31" stroke-linejoin="round">2.7E-06</text>
<text transform="translate(78.86,1198.5) scale(0.8520,1)" font-size="26.00" font-weight="normal" font-style="normal" fill="#000" stroke="#000" stroke-width="0.31" stroke-linejoin="round">Erythrocyte development</text>
<text transform="translate(616.98,1198.5) scale(0.8520,1)" font-size="26.00" font-weight="normal" font-style="normal" fill="#000" stroke="#000" stroke-width="0.31" stroke-linejoin="round">19</text>
<text transform="translate(676.39,1198.5) scale(0.8520,1)" font-size="26.00" font-weight="normal" font-style="normal" fill="#000" stroke="#000" stroke-width="0.31" stroke-linejoin="round">1.8E-11</text>
<text transform="translate(78.86,1225.3) scale(0.8520,1)" font-size="26.00" font-weight="normal" font-style="normal" fill="#000" stroke="#000" stroke-width="0.31" stroke-linejoin="round">Erythrocyte homeostasis</text>
<text transform="translate(616.98,1225.3) scale(0.8520,1)" font-size="26.00" font-weight="normal" font-style="normal" fill="#000" stroke="#000" stroke-width="0.31" stroke-linejoin="round">19</text>
<text transform="translate(676.39,1225.3) scale(0.8520,1)" font-size="26.00" font-weight="normal" font-style="normal" fill="#000" stroke="#000" stroke-width="0.31" stroke-linejoin="round">3.8E-11</text>
<text transform="translate(78.86,1255.2) scale(0.8520,1)" font-size="26.00" font-weight="normal" font-style="normal" fill="#000" stroke="#000" stroke-width="0.31" stroke-linejoin="round">Porphyrin-containing compound biosynthetic process</text>
<text transform="translate(616.75,1255.2) scale(0.8520,1)" font-size="26.00" font-weight="normal" font-style="normal" fill="#000" stroke="#000" stroke-width="0.31" stroke-linejoin="round">10</text>
<text transform="translate(674.51,1255.2) scale(0.8520,1)" font-size="26.00" font-weight="normal" font-style="normal" fill="#000" stroke="#000" stroke-width="0.31" stroke-linejoin="round">3.9E-10</text>
<text transform="translate(78.86,1282.2) scale(0.8520,1)" font-size="26.00" font-weight="normal" font-style="normal" fill="#000" stroke="#000" stroke-width="0.31" stroke-linejoin="round">Porphyrin-containing compound metabolic process</text>
<text transform="translate(618.64,1282.2) scale(0.8520,1)" font-size="26.00" font-weight="normal" font-style="normal" fill="#000" stroke="#000" stroke-width="0.31" stroke-linejoin="round">11</text>
<text transform="translate(674.51,1282.2) scale(0.8520,1)" font-size="26.00" font-weight="normal" font-style="normal" fill="#000" stroke="#000" stroke-width="0.31" stroke-linejoin="round">4.3E-10</text>
<text transform="translate(80.19,1309) scale(0.8520,1)" font-size="26.00" font-weight="normal" font-style="normal" fill="#000" stroke="#000" stroke-width="0.31" stroke-linejoin="round">Tetrapyrrole biosynthetic process</text>
<text transform="translate(616.75,1309) scale(0.8520,1)" font-size="26.00" font-weight="normal" font-style="normal" fill="#000" stroke="#000" stroke-width="0.31" stroke-linejoin="round">10</text>
<text transform="translate(674.51,1309) scale(0.8520,1)" font-size="26.00" font-weight="normal" font-style="normal" fill="#000" stroke="#000" stroke-width="0.31" stroke-linejoin="round">9.0E-10</text>
<line x1="48.5" y1="1315" x2="756.5" y2="1315" stroke="#000" stroke-width="3"/>
<text transform="translate(882.54,779.28) scale(0.8533,1)" font-size="68.25" font-weight="bold" font-style="normal" fill="#000" stroke="#000" stroke-width="2.05" stroke-linejoin="round">e</text>
<text transform="translate(946.25,707.4) scale(0.8199,1)" font-size="26.71" font-weight="bold" font-style="normal" fill="#000" stroke="#000" stroke-width="0.80" stroke-linejoin="round">GC-WT</text>
<text transform="translate(1027.9,730.9) scale(0.8345,1)" font-size="26.39" font-weight="bold" font-style="normal" fill="#000" stroke="#000" stroke-width="0.79" stroke-linejoin="round">FL-WT</text>
<text transform="translate(1109.45,707.4) scale(0.8218,1)" font-size="26.71" font-weight="bold" font-style="normal" fill="#000" stroke="#000" stroke-width="0.80" stroke-linejoin="round">GC-KO</text>
<text transform="translate(1204.9,730.91) scale(0.8446,1)" font-size="26.03" font-weight="bold" font-style="normal" fill="#000" stroke="#000" stroke-width="0.78" stroke-linejoin="round">FL-KO</text>
<rect x="938.8" y="736" width="14.83" height="19.64" fill="#280101"/>
<rect x="953.13" y="736" width="14.83" height="19.64" fill="#011901"/>
<rect x="967.47" y="736" width="14.83" height="19.64" fill="#ff0a0a"/>
<rect x="981.8" y="736" width="14.83" height="19.64" fill="#640404"/>
<rect x="996.13" y="736" width="14.83" height="19.64" fill="#be0707"/>
<rect x="1010.47" y="736" width="14.83" height="19.64" fill="#011e01"/>
<rect x="1024.8" y="736" width="15.07" height="19.64" fill="#09a006"/>
<rect x="1039.37" y="736" width="15.07" height="19.64" fill="#0bbe07"/>
<rect x="1053.93" y="736" width="15.07" height="19.64" fill="#099606"/>
<rect x="1068.5" y="736" width="15.07" height="19.64" fill="#066e04"/>
<rect x="1083.07" y="736" width="15.07" height="19.64" fill="#09a006"/>
<rect x="1097.63" y="736" width="15.07" height="19.64" fill="#088c05"/>
<rect x="1112.2" y="736" width="14.93" height="19.64" fill="#033202"/>
<rect x="1126.63" y="736" width="14.93" height="19.64" fill="#022d01"/>
<rect x="1141.07" y="736" width="14.93" height="19.64" fill="#066e04"/>
<rect x="1155.5" y="736" width="14.93" height="19.64" fill="#000000"/>
<rect x="1169.93" y="736" width="14.93" height="19.64" fill="#5a0303"/>
<rect x="1184.37" y="736" width="14.93" height="19.64" fill="#011e01"/>
<rect x="1198.8" y="736" width="14.88" height="19.64" fill="#0cd208"/>
<rect x="1213.18" y="736" width="14.88" height="19.64" fill="#0cc808"/>
<rect x="1227.57" y="736" width="14.88" height="19.64" fill="#0cc808"/>
<rect x="1241.95" y="736" width="14.88" height="19.64" fill="#0bbe07"/>
<rect x="1256.33" y="736" width="14.88" height="19.64" fill="#0aaa06"/>
<rect x="1270.72" y="736" width="14.88" height="19.64" fill="#0ddc08"/>
<rect x="938.8" y="755.14" width="14.83" height="19.64" fill="#280101"/>
<rect x="953.13" y="755.14" width="14.83" height="19.64" fill="#011e01"/>
<rect x="967.47" y="755.14" width="14.83" height="19.64" fill="#dc0808"/>
<rect x="981.8" y="755.14" width="14.83" height="19.64" fill="#640404"/>
<rect x="996.13" y="755.14" width="14.83" height="19.64" fill="#dc0808"/>
<rect x="1010.47" y="755.14" width="14.83" height="19.64" fill="#022801"/>
<rect x="1024.8" y="755.14" width="15.07" height="19.64" fill="#0aaa06"/>
<rect x="1039.37" y="755.14" width="15.07" height="19.64" fill="#0bbe07"/>
<rect x="1053.93" y="755.14" width="15.07" height="19.64" fill="#09a506"/>
<rect x="1068.5" y="755.14" width="15.07" height="19.64" fill="#055a03"/>
<rect x="1083.07" y="755.14" width="15.07" height="19.64" fill="#0aaa06"/>
<rect x="1097.63" y="755.14" width="15.07" height="19.64" fill="#099606"/>
<rect x="1112.2" y="755.14" width="14.93" height="19.64" fill="#034102"/>
<rect x="1126.63" y="755.14" width="14.93" height="19.64" fill="#044b03"/>
<rect x="1141.07" y="755.14" width="14.93" height="19.64" fill="#066e04"/>
<rect x="1155.5" y="755.14" width="14.93" height="19.64" fill="#140000"/>
<rect x="1169.93" y="755.14" width="14.93" height="19.64" fill="#5a0303"/>
<rect x="1184.37" y="755.14" width="14.93" height="19.64" fill="#022801"/>
<rect x="1198.8" y="755.14" width="14.88" height="19.64" fill="#0de109"/>
<rect x="1213.18" y="755.14" width="14.88" height="19.64" fill="#0cd208"/>
<rect x="1227.57" y="755.14" width="14.88" height="19.64" fill="#0cd208"/>
<rect x="1241.95" y="755.14" width="14.88" height="19.64" fill="#0cc808"/>
<rect x="1256.33" y="755.14" width="14.88" height="19.64" fill="#0ab407"/>
<rect x="1270.72" y="755.14" width="14.88" height="19.64" fill="#0cd208"/>
<rect x="938.8" y="774.28" width="14.83" height="19.64" fill="#2d0101"/>
<rect x="953.13" y="774.28" width="14.83" height="19.64" fill="#011901"/>
<rect x="967.47" y="774.28" width="14.83" height="19.64" fill="#c80808"/>
<rect x="981.8" y="774.28" width="14.83" height="19.64" fill="#640404"/>
<rect x="996.13" y="774.28" width="14.83" height="19.64" fill="#be0707"/>
<rect x="1010.47" y="774.28" width="14.83" height="19.64" fill="#000000"/>
<rect x="1024.8" y="774.28" width="15.07" height="19.64" fill="#078205"/>
<rect x="1039.37" y="774.28" width="15.07" height="19.64" fill="#099606"/>
<rect x="1053.93" y="774.28" width="15.07" height="19.64" fill="#078205"/>
<rect x="1068.5" y="774.28" width="15.07" height="19.64" fill="#033202"/>
<rect x="1083.07" y="774.28" width="15.07" height="19.64" fill="#066e04"/>
<rect x="1097.63" y="774.28" width="15.07" height="19.64" fill="#066e04"/>
<rect x="1112.2" y="774.28" width="14.93" height="19.64" fill="#022301"/>
<rect x="1126.63" y="774.28" width="14.93" height="19.64" fill="#022d01"/>
<rect x="1141.07" y="774.28" width="14.93" height="19.64" fill="#066404"/>
<rect x="1155.5" y="774.28" width="14.93" height="19.64" fill="#1e0101"/>
<rect x="1169.93" y="774.28" width="14.93" height="19.64" fill="#6e0404"/>
<rect x="1184.37" y="774.28" width="14.93" height="19.64" fill="#011901"/>
<rect x="1198.8" y="774.28" width="14.88" height="19.64" fill="#0cd208"/>
<rect x="1213.18" y="774.28" width="14.88" height="19.64" fill="#0cc808"/>
<rect x="1227.57" y="774.28" width="14.88" height="19.64" fill="#0cd208"/>
<rect x="1241.95" y="774.28" width="14.88" height="19.64" fill="#0bbe07"/>
<rect x="1256.33" y="774.28" width="14.88" height="19.64" fill="#099606"/>
<rect x="1270.72" y="774.28" width="14.88" height="19.64" fill="#0cd208"/>
<rect x="938.8" y="793.41" width="14.83" height="19.64" fill="#460202"/>
<rect x="953.13" y="793.41" width="14.83" height="19.64" fill="#022301"/>
<rect x="967.47" y="793.41" width="14.83" height="19.64" fill="#ff0a0a"/>
<rect x="981.8" y="793.41" width="14.83" height="19.64" fill="#370202"/>
<rect x="996.13" y="793.41" width="14.83" height="19.64" fill="#aa0606"/>
<rect x="1010.47" y="793.41" width="14.83" height="19.64" fill="#000000"/>
<rect x="1024.8" y="793.41" width="15.07" height="19.64" fill="#0aaa06"/>
<rect x="1039.37" y="793.41" width="15.07" height="19.64" fill="#0ab407"/>
<rect x="1053.93" y="793.41" width="15.07" height="19.64" fill="#077804"/>
<rect x="1068.5" y="793.41" width="15.07" height="19.64" fill="#044602"/>
<rect x="1083.07" y="793.41" width="15.07" height="19.64" fill="#078205"/>
<rect x="1097.63" y="793.41" width="15.07" height="19.64" fill="#055a03"/>
<rect x="1112.2" y="793.41" width="14.93" height="19.64" fill="#033202"/>
<rect x="1126.63" y="793.41" width="14.93" height="19.64" fill="#022301"/>
<rect x="1141.07" y="793.41" width="14.93" height="19.64" fill="#044602"/>
<rect x="1155.5" y="793.41" width="14.93" height="19.64" fill="#460202"/>
<rect x="1169.93" y="793.41" width="14.93" height="19.64" fill="#a00606"/>
<rect x="1184.37" y="793.41" width="14.93" height="19.64" fill="#000000"/>
<rect x="1198.8" y="793.41" width="14.88" height="19.64" fill="#0cd208"/>
<rect x="1213.18" y="793.41" width="14.88" height="19.64" fill="#0cd208"/>
<rect x="1227.57" y="793.41" width="14.88" height="19.64" fill="#0cd208"/>
<rect x="1241.95" y="793.41" width="14.88" height="19.64" fill="#099606"/>
<rect x="1256.33" y="793.41" width="14.88" height="19.64" fill="#0ab407"/>
<rect x="1270.72" y="793.41" width="14.88" height="19.64" fill="#0cd208"/>
<rect x="938.8" y="812.55" width="14.83" height="19.64" fill="#320202"/>
<rect x="953.13" y="812.55" width="14.83" height="19.64" fill="#034102"/>
<rect x="967.47" y="812.55" width="14.83" height="19.64" fill="#ff0a0a"/>
<rect x="981.8" y="812.55" width="14.83" height="19.64" fill="#320202"/>
<rect x="996.13" y="812.55" width="14.83" height="19.64" fill="#be0707"/>
<rect x="1010.47" y="812.55" width="14.83" height="19.64" fill="#190101"/>
<rect x="1024.8" y="812.55" width="15.07" height="19.64" fill="#0aaa06"/>
<rect x="1039.37" y="812.55" width="15.07" height="19.64" fill="#0bbe07"/>
<rect x="1053.93" y="812.55" width="15.07" height="19.64" fill="#088c05"/>
<rect x="1068.5" y="812.55" width="15.07" height="19.64" fill="#055a03"/>
<rect x="1083.07" y="812.55" width="15.07" height="19.64" fill="#088c05"/>
<rect x="1097.63" y="812.55" width="15.07" height="19.64" fill="#078205"/>
<rect x="1112.2" y="812.55" width="14.93" height="19.64" fill="#033202"/>
<rect x="1126.63" y="812.55" width="14.93" height="19.64" fill="#022301"/>
<rect x="1141.07" y="812.55" width="14.93" height="19.64" fill="#066e04"/>
<rect x="1155.5" y="812.55" width="14.93" height="19.64" fill="#0a0000"/>
<rect x="1169.93" y="812.55" width="14.93" height="19.64" fill="#640404"/>
<rect x="1184.37" y="812.55" width="14.93" height="19.64" fill="#000a00"/>
<rect x="1198.8" y="812.55" width="14.88" height="19.64" fill="#0ab407"/>
<rect x="1213.18" y="812.55" width="14.88" height="19.64" fill="#0cc808"/>
<rect x="1227.57" y="812.55" width="14.88" height="19.64" fill="#0cc808"/>
<rect x="1241.95" y="812.55" width="14.88" height="19.64" fill="#0bbe07"/>
<rect x="1256.33" y="812.55" width="14.88" height="19.64" fill="#0aaa06"/>
<rect x="1270.72" y="812.55" width="14.88" height="19.64" fill="#0cd208"/>
<rect x="938.8" y="831.69" width="14.83" height="19.64" fill="#460202"/>
<rect x="953.13" y="831.69" width="14.83" height="19.64" fill="#000f00"/>
<rect x="967.47" y="831.69" width="14.83" height="19.64" fill="#be0707"/>
<rect x="981.8" y="831.69" width="14.83" height="19.64" fill="#5a0303"/>
<rect x="996.13" y="831.69" width="14.83" height="19.64" fill="#b40707"/>
<rect x="1010.47" y="831.69" width="14.83" height="19.64" fill="#0f0000"/>
<rect x="1024.8" y="831.69" width="15.07" height="19.64" fill="#066404"/>
<rect x="1039.37" y="831.69" width="15.07" height="19.64" fill="#09a006"/>
<rect x="1053.93" y="831.69" width="15.07" height="19.64" fill="#077804"/>
<rect x="1068.5" y="831.69" width="15.07" height="19.64" fill="#000a00"/>
<rect x="1083.07" y="831.69" width="15.07" height="19.64" fill="#055a03"/>
<rect x="1097.63" y="831.69" width="15.07" height="19.64" fill="#078205"/>
<rect x="1112.2" y="831.69" width="14.93" height="19.64" fill="#033702"/>
<rect x="1126.63" y="831.69" width="14.93" height="19.64" fill="#033202"/>
<rect x="1141.07" y="831.69" width="14.93" height="19.64" fill="#055a03"/>
<rect x="1155.5" y="831.69" width="14.93" height="19.64" fill="#000000"/>
<rect x="1169.93" y="831.69" width="14.93" height="19.64" fill="#aa0606"/>
<rect x="1184.37" y="831.69" width="14.93" height="19.64" fill="#0f0000"/>
<rect x="1198.8" y="831.69" width="14.88" height="19.64" fill="#0ab407"/>
<rect x="1213.18" y="831.69" width="14.88" height="19.64" fill="#0ab407"/>
<rect x="1227.57" y="831.69" width="14.88" height="19.64" fill="#0ab407"/>
<rect x="1241.95" y="831.69" width="14.88" height="19.64" fill="#0aaa06"/>
<rect x="1256.33" y="831.69" width="14.88" height="19.64" fill="#0aaa06"/>
<rect x="1270.72" y="831.69" width="14.88" height="19.64" fill="#0ab407"/>
<rect x="938.8" y="850.83" width="14.83" height="19.64" fill="#410202"/>
<rect x="953.13" y="850.83" width="14.83" height="19.64" fill="#022d01"/>
<rect x="967.47" y="850.83" width="14.83" height="19.64" fill="#d20808"/>
<rect x="981.8" y="850.83" width="14.83" height="19.64" fill="#460202"/>
<rect x="996.13" y="850.83" width="14.83" height="19.64" fill="#dc0808"/>
<rect x="1010.47" y="850.83" width="14.83" height="19.64" fill="#000a00"/>
<rect x="1024.8" y="850.83" width="15.07" height="19.64" fill="#078205"/>
<rect x="1039.37" y="850.83" width="15.07" height="19.64" fill="#0aaa06"/>
<rect x="1053.93" y="850.83" width="15.07" height="19.64" fill="#077804"/>
<rect x="1068.5" y="850.83" width="15.07" height="19.64" fill="#045003"/>
<rect x="1083.07" y="850.83" width="15.07" height="19.64" fill="#066e04"/>
<rect x="1097.63" y="850.83" width="15.07" height="19.64" fill="#088c05"/>
<rect x="1112.2" y="850.83" width="14.93" height="19.64" fill="#033c02"/>
<rect x="1126.63" y="850.83" width="14.93" height="19.64" fill="#022801"/>
<rect x="1141.07" y="850.83" width="14.93" height="19.64" fill="#066e04"/>
<rect x="1155.5" y="850.83" width="14.93" height="19.64" fill="#0a0000"/>
<rect x="1169.93" y="850.83" width="14.93" height="19.64" fill="#b40707"/>
<rect x="1184.37" y="850.83" width="14.93" height="19.64" fill="#011400"/>
<rect x="1198.8" y="850.83" width="14.88" height="19.64" fill="#0cd208"/>
<rect x="1213.18" y="850.83" width="14.88" height="19.64" fill="#0ddc08"/>
<rect x="1227.57" y="850.83" width="14.88" height="19.64" fill="#0de609"/>
<rect x="1241.95" y="850.83" width="14.88" height="19.64" fill="#0cd208"/>
<rect x="1256.33" y="850.83" width="14.88" height="19.64" fill="#0bbe07"/>
<rect x="1270.72" y="850.83" width="14.88" height="19.64" fill="#0ddc08"/>
<rect x="938.8" y="869.97" width="14.83" height="19.64" fill="#280101"/>
<rect x="953.13" y="869.97" width="14.83" height="19.64" fill="#011e01"/>
<rect x="967.47" y="869.97" width="14.83" height="19.64" fill="#dc0808"/>
<rect x="981.8" y="869.97" width="14.83" height="19.64" fill="#3c0202"/>
<rect x="996.13" y="869.97" width="14.83" height="19.64" fill="#c80808"/>
<rect x="1010.47" y="869.97" width="14.83" height="19.64" fill="#280101"/>
<rect x="1024.8" y="869.97" width="15.07" height="19.64" fill="#09a006"/>
<rect x="1039.37" y="869.97" width="15.07" height="19.64" fill="#0ab407"/>
<rect x="1053.93" y="869.97" width="15.07" height="19.64" fill="#045003"/>
<rect x="1068.5" y="869.97" width="15.07" height="19.64" fill="#022801"/>
<rect x="1083.07" y="869.97" width="15.07" height="19.64" fill="#066404"/>
<rect x="1097.63" y="869.97" width="15.07" height="19.64" fill="#066404"/>
<rect x="1112.2" y="869.97" width="14.93" height="19.64" fill="#000000"/>
<rect x="1126.63" y="869.97" width="14.93" height="19.64" fill="#280101"/>
<rect x="1141.07" y="869.97" width="14.93" height="19.64" fill="#000f00"/>
<rect x="1155.5" y="869.97" width="14.93" height="19.64" fill="#780404"/>
<rect x="1169.93" y="869.97" width="14.93" height="19.64" fill="#960606"/>
<rect x="1184.37" y="869.97" width="14.93" height="19.64" fill="#320202"/>
<rect x="1198.8" y="869.97" width="14.88" height="19.64" fill="#0ab407"/>
<rect x="1213.18" y="869.97" width="14.88" height="19.64" fill="#0ab407"/>
<rect x="1227.57" y="869.97" width="14.88" height="19.64" fill="#0ab407"/>
<rect x="1241.95" y="869.97" width="14.88" height="19.64" fill="#066e04"/>
<rect x="1256.33" y="869.97" width="14.88" height="19.64" fill="#099606"/>
<rect x="1270.72" y="869.97" width="14.88" height="19.64" fill="#0ab407"/>
<rect x="938.8" y="889.1" width="14.83" height="19.64" fill="#320202"/>
<rect x="953.13" y="889.1" width="14.83" height="19.64" fill="#022301"/>
<rect x="967.47" y="889.1" width="14.83" height="19.64" fill="#dc0808"/>
<rect x="981.8" y="889.1" width="14.83" height="19.64" fill="#280101"/>
<rect x="996.13" y="889.1" width="14.83" height="19.64" fill="#c30707"/>
<rect x="1010.47" y="889.1" width="14.83" height="19.64" fill="#2d0101"/>
<rect x="1024.8" y="889.1" width="15.07" height="19.64" fill="#09a006"/>
<rect x="1039.37" y="889.1" width="15.07" height="19.64" fill="#0ab407"/>
<rect x="1053.93" y="889.1" width="15.07" height="19.64" fill="#066404"/>
<rect x="1068.5" y="889.1" width="15.07" height="19.64" fill="#022801"/>
<rect x="1083.07" y="889.1" width="15.07" height="19.64" fill="#055a03"/>
<rect x="1097.63" y="889.1" width="15.07" height="19.64" fill="#077804"/>
<rect x="1112.2" y="889.1" width="14.93" height="19.64" fill="#033202"/>
<rect x="1126.63" y="889.1" width="14.93" height="19.64" fill="#000f00"/>
<rect x="1141.07" y="889.1" width="14.93" height="19.64" fill="#011e01"/>
<rect x="1155.5" y="889.1" width="14.93" height="19.64" fill="#320202"/>
<rect x="1169.93" y="889.1" width="14.93" height="19.64" fill="#640404"/>
<rect x="1184.37" y="889.1" width="14.93" height="19.64" fill="#1e0101"/>
<rect x="1198.8" y="889.1" width="14.88" height="19.64" fill="#0aaa06"/>
<rect x="1213.18" y="889.1" width="14.88" height="19.64" fill="#0bbe07"/>
<rect x="1227.57" y="889.1" width="14.88" height="19.64" fill="#0ab407"/>
<rect x="1241.95" y="889.1" width="14.88" height="19.64" fill="#066404"/>
<rect x="1256.33" y="889.1" width="14.88" height="19.64" fill="#0aaa06"/>
<rect x="1270.72" y="889.1" width="14.88" height="19.64" fill="#0ab407"/>
<rect x="938.8" y="908.24" width="14.83" height="19.64" fill="#230101"/>
<rect x="953.13" y="908.24" width="14.83" height="19.64" fill="#000000"/>
<rect x="967.47" y="908.24" width="14.83" height="19.64" fill="#b40707"/>
<rect x="981.8" y="908.24" width="14.83" height="19.64" fill="#550303"/>
<rect x="996.13" y="908.24" width="14.83" height="19.64" fill="#be0707"/>
<rect x="1010.47" y="908.24" width="14.83" height="19.64" fill="#2d0101"/>
<rect x="1024.8" y="908.24" width="15.07" height="19.64" fill="#09a006"/>
<rect x="1039.37" y="908.24" width="15.07" height="19.64" fill="#09a506"/>
<rect x="1053.93" y="908.24" width="15.07" height="19.64" fill="#078205"/>
<rect x="1068.5" y="908.24" width="15.07" height="19.64" fill="#055a03"/>
<rect x="1083.07" y="908.24" width="15.07" height="19.64" fill="#066e04"/>
<rect x="1097.63" y="908.24" width="15.07" height="19.64" fill="#066404"/>
<rect x="1112.2" y="908.24" width="14.93" height="19.64" fill="#011400"/>
<rect x="1126.63" y="908.24" width="14.93" height="19.64" fill="#000500"/>
<rect x="1141.07" y="908.24" width="14.93" height="19.64" fill="#022d01"/>
<rect x="1155.5" y="908.24" width="14.93" height="19.64" fill="#780404"/>
<rect x="1169.93" y="908.24" width="14.93" height="19.64" fill="#a00606"/>
<rect x="1184.37" y="908.24" width="14.93" height="19.64" fill="#000a00"/>
<rect x="1198.8" y="908.24" width="14.88" height="19.64" fill="#0bbe07"/>
<rect x="1213.18" y="908.24" width="14.88" height="19.64" fill="#0bbe07"/>
<rect x="1227.57" y="908.24" width="14.88" height="19.64" fill="#0ab407"/>
<rect x="1241.95" y="908.24" width="14.88" height="19.64" fill="#066e04"/>
<rect x="1256.33" y="908.24" width="14.88" height="19.64" fill="#088c05"/>
<rect x="1270.72" y="908.24" width="14.88" height="19.64" fill="#0ab407"/>
<rect x="938.8" y="927.38" width="14.83" height="19.64" fill="#000000"/>
<rect x="953.13" y="927.38" width="14.83" height="19.64" fill="#1e0101"/>
<rect x="967.47" y="927.38" width="14.83" height="19.64" fill="#b40707"/>
<rect x="981.8" y="927.38" width="14.83" height="19.64" fill="#500303"/>
<rect x="996.13" y="927.38" width="14.83" height="19.64" fill="#c80808"/>
<rect x="1010.47" y="927.38" width="14.83" height="19.64" fill="#230101"/>
<rect x="1024.8" y="927.38" width="15.07" height="19.64" fill="#0bb907"/>
<rect x="1039.37" y="927.38" width="15.07" height="19.64" fill="#09a006"/>
<rect x="1053.93" y="927.38" width="15.07" height="19.64" fill="#066404"/>
<rect x="1068.5" y="927.38" width="15.07" height="19.64" fill="#033202"/>
<rect x="1083.07" y="927.38" width="15.07" height="19.64" fill="#066e04"/>
<rect x="1097.63" y="927.38" width="15.07" height="19.64" fill="#077804"/>
<rect x="1112.2" y="927.38" width="14.93" height="19.64" fill="#033c02"/>
<rect x="1126.63" y="927.38" width="14.93" height="19.64" fill="#000000"/>
<rect x="1141.07" y="927.38" width="14.93" height="19.64" fill="#011e01"/>
<rect x="1155.5" y="927.38" width="14.93" height="19.64" fill="#8c0505"/>
<rect x="1169.93" y="927.38" width="14.93" height="19.64" fill="#8c0505"/>
<rect x="1184.37" y="927.38" width="14.93" height="19.64" fill="#011400"/>
<rect x="1198.8" y="927.38" width="14.88" height="19.64" fill="#0ab407"/>
<rect x="1213.18" y="927.38" width="14.88" height="19.64" fill="#0bbe07"/>
<rect x="1227.57" y="927.38" width="14.88" height="19.64" fill="#0ab407"/>
<rect x="1241.95" y="927.38" width="14.88" height="19.64" fill="#066e04"/>
<rect x="1256.33" y="927.38" width="14.88" height="19.64" fill="#0aaa06"/>
<rect x="1270.72" y="927.38" width="14.88" height="19.64" fill="#0ab407"/>
<rect x="938.8" y="946.52" width="14.83" height="19.64" fill="#1e0101"/>
<rect x="953.13" y="946.52" width="14.83" height="19.64" fill="#022301"/>
<rect x="967.47" y="946.52" width="14.83" height="19.64" fill="#960606"/>
<rect x="981.8" y="946.52" width="14.83" height="19.64" fill="#6e0404"/>
<rect x="996.13" y="946.52" width="14.83" height="19.64" fill="#c80808"/>
<rect x="1010.47" y="946.52" width="14.83" height="19.64" fill="#460202"/>
<rect x="1024.8" y="946.52" width="15.07" height="19.64" fill="#078205"/>
<rect x="1039.37" y="946.52" width="15.07" height="19.64" fill="#099606"/>
<rect x="1053.93" y="946.52" width="15.07" height="19.64" fill="#078205"/>
<rect x="1068.5" y="946.52" width="15.07" height="19.64" fill="#022801"/>
<rect x="1083.07" y="946.52" width="15.07" height="19.64" fill="#066e04"/>
<rect x="1097.63" y="946.52" width="15.07" height="19.64" fill="#077804"/>
<rect x="1112.2" y="946.52" width="14.93" height="19.64" fill="#320202"/>
<rect x="1126.63" y="946.52" width="14.93" height="19.64" fill="#1e0101"/>
<rect x="1141.07" y="946.52" width="14.93" height="19.64" fill="#044602"/>
<rect x="1155.5" y="946.52" width="14.93" height="19.64" fill="#8c0505"/>
<rect x="1169.93" y="946.52" width="14.93" height="19.64" fill="#780404"/>
<rect x="1184.37" y="946.52" width="14.93" height="19.64" fill="#000000"/>
<rect x="1198.8" y="946.52" width="14.88" height="19.64" fill="#0ab407"/>
<rect x="1213.18" y="946.52" width="14.88" height="19.64" fill="#0ab407"/>
<rect x="1227.57" y="946.52" width="14.88" height="19.64" fill="#0ab407"/>
<rect x="1241.95" y="946.52" width="14.88" height="19.64" fill="#088c05"/>
<rect x="1256.33" y="946.52" width="14.88" height="19.64" fill="#088c05"/>
<rect x="1270.72" y="946.52" width="14.88" height="19.64" fill="#0bbe07"/>
<rect x="938.8" y="965.66" width="14.83" height="19.64" fill="#6e0404"/>
<rect x="953.13" y="965.66" width="14.83" height="19.64" fill="#033c02"/>
<rect x="967.47" y="965.66" width="14.83" height="19.64" fill="#af0707"/>
<rect x="981.8" y="965.66" width="14.83" height="19.64" fill="#320202"/>
<rect x="996.13" y="965.66" width="14.83" height="19.64" fill="#b40707"/>
<rect x="1010.47" y="965.66" width="14.83" height="19.64" fill="#500303"/>
<rect x="1024.8" y="965.66" width="15.07" height="19.64" fill="#088c05"/>
<rect x="1039.37" y="965.66" width="15.07" height="19.64" fill="#09a006"/>
<rect x="1053.93" y="965.66" width="15.07" height="19.64" fill="#099606"/>
<rect x="1068.5" y="965.66" width="15.07" height="19.64" fill="#066e04"/>
<rect x="1083.07" y="965.66" width="15.07" height="19.64" fill="#066e04"/>
<rect x="1097.63" y="965.66" width="15.07" height="19.64" fill="#0ab407"/>
<rect x="1112.2" y="965.66" width="14.93" height="19.64" fill="#500303"/>
<rect x="1126.63" y="965.66" width="14.93" height="19.64" fill="#011e01"/>
<rect x="1141.07" y="965.66" width="14.93" height="19.64" fill="#045003"/>
<rect x="1155.5" y="965.66" width="14.93" height="19.64" fill="#011e01"/>
<rect x="1169.93" y="965.66" width="14.93" height="19.64" fill="#be0707"/>
<rect x="1184.37" y="965.66" width="14.93" height="19.64" fill="#000000"/>
<rect x="1198.8" y="965.66" width="14.88" height="19.64" fill="#0bbe07"/>
<rect x="1213.18" y="965.66" width="14.88" height="19.64" fill="#0cc808"/>
<rect x="1227.57" y="965.66" width="14.88" height="19.64" fill="#0cc808"/>
<rect x="1241.95" y="965.66" width="14.88" height="19.64" fill="#0cc808"/>
<rect x="1256.33" y="965.66" width="14.88" height="19.64" fill="#0aaa06"/>
<rect x="1270.72" y="965.66" width="14.88" height="19.64" fill="#0cc808"/>
<rect x="938.8" y="984.79" width="14.83" height="19.64" fill="#1e0101"/>
<rect x="953.13" y="984.79" width="14.83" height="19.64" fill="#022d01"/>
<rect x="967.47" y="984.79" width="14.83" height="19.64" fill="#ff0a0a"/>
<rect x="981.8" y="984.79" width="14.83" height="19.64" fill="#640404"/>
<rect x="996.13" y="984.79" width="14.83" height="19.64" fill="#aa0606"/>
<rect x="1010.47" y="984.79" width="14.83" height="19.64" fill="#140000"/>
<rect x="1024.8" y="984.79" width="15.07" height="19.64" fill="#099606"/>
<rect x="1039.37" y="984.79" width="15.07" height="19.64" fill="#0bbe07"/>
<rect x="1053.93" y="984.79" width="15.07" height="19.64" fill="#09a006"/>
<rect x="1068.5" y="984.79" width="15.07" height="19.64" fill="#078205"/>
<rect x="1083.07" y="984.79" width="15.07" height="19.64" fill="#09a006"/>
<rect x="1097.63" y="984.79" width="15.07" height="19.64" fill="#044602"/>
<rect x="1112.2" y="984.79" width="14.93" height="19.64" fill="#3c0202"/>
<rect x="1126.63" y="984.79" width="14.93" height="19.64" fill="#1e0101"/>
<rect x="1141.07" y="984.79" width="14.93" height="19.64" fill="#0a0000"/>
<rect x="1155.5" y="984.79" width="14.93" height="19.64" fill="#ff0a0a"/>
<rect x="1169.93" y="984.79" width="14.93" height="19.64" fill="#ff0a0a"/>
<rect x="1184.37" y="984.79" width="14.93" height="19.64" fill="#280101"/>
<rect x="1198.8" y="984.79" width="14.88" height="19.64" fill="#078205"/>
<rect x="1213.18" y="984.79" width="14.88" height="19.64" fill="#077804"/>
<rect x="1227.57" y="984.79" width="14.88" height="19.64" fill="#078205"/>
<rect x="1241.95" y="984.79" width="14.88" height="19.64" fill="#022801"/>
<rect x="1256.33" y="984.79" width="14.88" height="19.64" fill="#033202"/>
<rect x="1270.72" y="984.79" width="14.88" height="19.64" fill="#077804"/>
<rect x="938.8" y="1003.93" width="14.83" height="19.64" fill="#280101"/>
<rect x="953.13" y="1003.93" width="14.83" height="19.64" fill="#033202"/>
<rect x="967.47" y="1003.93" width="14.83" height="19.64" fill="#c80808"/>
<rect x="981.8" y="1003.93" width="14.83" height="19.64" fill="#6e0404"/>
<rect x="996.13" y="1003.93" width="14.83" height="19.64" fill="#d20808"/>
<rect x="1010.47" y="1003.93" width="14.83" height="19.64" fill="#000000"/>
<rect x="1024.8" y="1003.93" width="15.07" height="19.64" fill="#099606"/>
<rect x="1039.37" y="1003.93" width="15.07" height="19.64" fill="#0bbe07"/>
<rect x="1053.93" y="1003.93" width="15.07" height="19.64" fill="#099606"/>
<rect x="1068.5" y="1003.93" width="15.07" height="19.64" fill="#066e04"/>
<rect x="1083.07" y="1003.93" width="15.07" height="19.64" fill="#0aaa06"/>
<rect x="1097.63" y="1003.93" width="15.07" height="19.64" fill="#077804"/>
<rect x="1112.2" y="1003.93" width="14.93" height="19.64" fill="#000000"/>
<rect x="1126.63" y="1003.93" width="14.93" height="19.64" fill="#000000"/>
<rect x="1141.07" y="1003.93" width="14.93" height="19.64" fill="#033c02"/>
<rect x="1155.5" y="1003.93" width="14.93" height="19.64" fill="#b40707"/>
<rect x="1169.93" y="1003.93" width="14.93" height="19.64" fill="#d20808"/>
<rect x="1184.37" y="1003.93" width="14.93" height="19.64" fill="#011e01"/>
<rect x="1198.8" y="1003.93" width="14.88" height="19.64" fill="#0bbe07"/>
<rect x="1213.18" y="1003.93" width="14.88" height="19.64" fill="#0bb907"/>
<rect x="1227.57" y="1003.93" width="14.88" height="19.64" fill="#0bbe07"/>
<rect x="1241.95" y="1003.93" width="14.88" height="19.64" fill="#066904"/>
<rect x="1256.33" y="1003.93" width="14.88" height="19.64" fill="#099606"/>
<rect x="1270.72" y="1003.93" width="14.88" height="19.64" fill="#0ab407"/>
<rect x="938.8" y="1023.07" width="14.83" height="19.64" fill="#280101"/>
<rect x="953.13" y="1023.07" width="14.83" height="19.64" fill="#000000"/>
<rect x="967.47" y="1023.07" width="14.83" height="19.64" fill="#ff0a0a"/>
<rect x="981.8" y="1023.07" width="14.83" height="19.64" fill="#190101"/>
<rect x="996.13" y="1023.07" width="14.83" height="19.64" fill="#aa0606"/>
<rect x="1010.47" y="1023.07" width="14.83" height="19.64" fill="#0a0000"/>
<rect x="1024.8" y="1023.07" width="15.07" height="19.64" fill="#078205"/>
<rect x="1039.37" y="1023.07" width="15.07" height="19.64" fill="#0aaa06"/>
<rect x="1053.93" y="1023.07" width="15.07" height="19.64" fill="#066404"/>
<rect x="1068.5" y="1023.07" width="15.07" height="19.64" fill="#066404"/>
<rect x="1083.07" y="1023.07" width="15.07" height="19.64" fill="#099606"/>
<rect x="1097.63" y="1023.07" width="15.07" height="19.64" fill="#066404"/>
<rect x="1112.2" y="1023.07" width="14.93" height="19.64" fill="#000000"/>
<rect x="1126.63" y="1023.07" width="14.93" height="19.64" fill="#000000"/>
<rect x="1141.07" y="1023.07" width="14.93" height="19.64" fill="#000000"/>
<rect x="1155.5" y="1023.07" width="14.93" height="19.64" fill="#820505"/>
<rect x="1169.93" y="1023.07" width="14.93" height="19.64" fill="#c80808"/>
<rect x="1184.37" y="1023.07" width="14.93" height="19.64" fill="#000000"/>
<rect x="1198.8" y="1023.07" width="14.88" height="19.64" fill="#099606"/>
<rect x="1213.18" y="1023.07" width="14.88" height="19.64" fill="#0aaa06"/>
<rect x="1227.57" y="1023.07" width="14.88" height="19.64" fill="#09a006"/>
<rect x="1241.95" y="1023.07" width="14.88" height="19.64" fill="#033c02"/>
<rect x="1256.33" y="1023.07" width="14.88" height="19.64" fill="#09a006"/>
<rect x="1270.72" y="1023.07" width="14.88" height="19.64" fill="#0aaa06"/>
<rect x="938.8" y="1042.21" width="14.83" height="19.64" fill="#320202"/>
<rect x="953.13" y="1042.21" width="14.83" height="19.64" fill="#033c02"/>
<rect x="967.47" y="1042.21" width="14.83" height="19.64" fill="#f00909"/>
<rect x="981.8" y="1042.21" width="14.83" height="19.64" fill="#320202"/>
<rect x="996.13" y="1042.21" width="14.83" height="19.64" fill="#aa0606"/>
<rect x="1010.47" y="1042.21" width="14.83" height="19.64" fill="#230101"/>
<rect x="1024.8" y="1042.21" width="15.07" height="19.64" fill="#088c05"/>
<rect x="1039.37" y="1042.21" width="15.07" height="19.64" fill="#0ab407"/>
<rect x="1053.93" y="1042.21" width="15.07" height="19.64" fill="#078205"/>
<rect x="1068.5" y="1042.21" width="15.07" height="19.64" fill="#066e04"/>
<rect x="1083.07" y="1042.21" width="15.07" height="19.64" fill="#099606"/>
<rect x="1097.63" y="1042.21" width="15.07" height="19.64" fill="#066e04"/>
<rect x="1112.2" y="1042.21" width="14.93" height="19.64" fill="#320202"/>
<rect x="1126.63" y="1042.21" width="14.93" height="19.64" fill="#1e0101"/>
<rect x="1141.07" y="1042.21" width="14.93" height="19.64" fill="#011e01"/>
<rect x="1155.5" y="1042.21" width="14.93" height="19.64" fill="#820505"/>
<rect x="1169.93" y="1042.21" width="14.93" height="19.64" fill="#d20808"/>
<rect x="1184.37" y="1042.21" width="14.93" height="19.64" fill="#000000"/>
<rect x="1198.8" y="1042.21" width="14.88" height="19.64" fill="#099606"/>
<rect x="1213.18" y="1042.21" width="14.88" height="19.64" fill="#0aaa06"/>
<rect x="1227.57" y="1042.21" width="14.88" height="19.64" fill="#09a006"/>
<rect x="1241.95" y="1042.21" width="14.88" height="19.64" fill="#066404"/>
<rect x="1256.33" y="1042.21" width="14.88" height="19.64" fill="#078205"/>
<rect x="1270.72" y="1042.21" width="14.88" height="19.64" fill="#0aaa06"/>
<rect x="938.8" y="1061.34" width="14.83" height="19.64" fill="#000000"/>
<rect x="953.13" y="1061.34" width="14.83" height="19.64" fill="#000000"/>
<rect x="967.47" y="1061.34" width="14.83" height="19.64" fill="#d20808"/>
<rect x="981.8" y="1061.34" width="14.83" height="19.64" fill="#230101"/>
<rect x="996.13" y="1061.34" width="14.83" height="19.64" fill="#b40707"/>
<rect x="1010.47" y="1061.34" width="14.83" height="19.64" fill="#6e0404"/>
<rect x="1024.8" y="1061.34" width="15.07" height="19.64" fill="#09a006"/>
<rect x="1039.37" y="1061.34" width="15.07" height="19.64" fill="#0aaa06"/>
<rect x="1053.93" y="1061.34" width="15.07" height="19.64" fill="#066404"/>
<rect x="1068.5" y="1061.34" width="15.07" height="19.64" fill="#066404"/>
<rect x="1083.07" y="1061.34" width="15.07" height="19.64" fill="#066404"/>
<rect x="1097.63" y="1061.34" width="15.07" height="19.64" fill="#045003"/>
<rect x="1112.2" y="1061.34" width="14.93" height="19.64" fill="#6e0404"/>
<rect x="1126.63" y="1061.34" width="14.93" height="19.64" fill="#640404"/>
<rect x="1141.07" y="1061.34" width="14.93" height="19.64" fill="#320202"/>
<rect x="1155.5" y="1061.34" width="14.93" height="19.64" fill="#be0707"/>
<rect x="1169.93" y="1061.34" width="14.93" height="19.64" fill="#be0707"/>
<rect x="1184.37" y="1061.34" width="14.93" height="19.64" fill="#460202"/>
<rect x="1198.8" y="1061.34" width="14.88" height="19.64" fill="#066404"/>
<rect x="1213.18" y="1061.34" width="14.88" height="19.64" fill="#099606"/>
<rect x="1227.57" y="1061.34" width="14.88" height="19.64" fill="#088c05"/>
<rect x="1241.95" y="1061.34" width="14.88" height="19.64" fill="#011e01"/>
<rect x="1256.33" y="1061.34" width="14.88" height="19.64" fill="#066e04"/>
<rect x="1270.72" y="1061.34" width="14.88" height="19.64" fill="#066404"/>
<rect x="938.8" y="1080.48" width="14.83" height="19.64" fill="#230101"/>
<rect x="953.13" y="1080.48" width="14.83" height="19.64" fill="#033202"/>
<rect x="967.47" y="1080.48" width="14.83" height="19.64" fill="#c80808"/>
<rect x="981.8" y="1080.48" width="14.83" height="19.64" fill="#280101"/>
<rect x="996.13" y="1080.48" width="14.83" height="19.64" fill="#c80808"/>
<rect x="1010.47" y="1080.48" width="14.83" height="19.64" fill="#5a0303"/>
<rect x="1024.8" y="1080.48" width="15.07" height="19.64" fill="#09a006"/>
<rect x="1039.37" y="1080.48" width="15.07" height="19.64" fill="#0aaa06"/>
<rect x="1053.93" y="1080.48" width="15.07" height="19.64" fill="#066e04"/>
<rect x="1068.5" y="1080.48" width="15.07" height="19.64" fill="#045003"/>
<rect x="1083.07" y="1080.48" width="15.07" height="19.64" fill="#066e04"/>
<rect x="1097.63" y="1080.48" width="15.07" height="19.64" fill="#066e04"/>
<rect x="1112.2" y="1080.48" width="14.93" height="19.64" fill="#500303"/>
<rect x="1126.63" y="1080.48" width="14.93" height="19.64" fill="#3c0202"/>
<rect x="1141.07" y="1080.48" width="14.93" height="19.64" fill="#000000"/>
<rect x="1155.5" y="1080.48" width="14.93" height="19.64" fill="#960606"/>
<rect x="1169.93" y="1080.48" width="14.93" height="19.64" fill="#d20808"/>
<rect x="1184.37" y="1080.48" width="14.93" height="19.64" fill="#320202"/>
<rect x="1198.8" y="1080.48" width="14.88" height="19.64" fill="#066404"/>
<rect x="1213.18" y="1080.48" width="14.88" height="19.64" fill="#099606"/>
<rect x="1227.57" y="1080.48" width="14.88" height="19.64" fill="#078205"/>
<rect x="1241.95" y="1080.48" width="14.88" height="19.64" fill="#022801"/>
<rect x="1256.33" y="1080.48" width="14.88" height="19.64" fill="#066e04"/>
<rect x="1270.72" y="1080.48" width="14.88" height="19.64" fill="#066e04"/>
<rect x="938.8" y="1099.62" width="14.83" height="19.64" fill="#460202"/>
<rect x="953.13" y="1099.62" width="14.83" height="19.64" fill="#370202"/>
<rect x="967.47" y="1099.62" width="14.83" height="19.64" fill="#6e0404"/>
<rect x="981.8" y="1099.62" width="14.83" height="19.64" fill="#780404"/>
<rect x="996.13" y="1099.62" width="14.83" height="19.64" fill="#a00606"/>
<rect x="1010.47" y="1099.62" width="14.83" height="19.64" fill="#190101"/>
<rect x="1024.8" y="1099.62" width="15.07" height="19.64" fill="#077804"/>
<rect x="1039.37" y="1099.62" width="15.07" height="19.64" fill="#0aaa06"/>
<rect x="1053.93" y="1099.62" width="15.07" height="19.64" fill="#099606"/>
<rect x="1068.5" y="1099.62" width="15.07" height="19.64" fill="#320202"/>
<rect x="1083.07" y="1099.62" width="15.07" height="19.64" fill="#000000"/>
<rect x="1097.63" y="1099.62" width="15.07" height="19.64" fill="#099606"/>
<rect x="1112.2" y="1099.62" width="14.93" height="19.64" fill="#09a006"/>
<rect x="1126.63" y="1099.62" width="14.93" height="19.64" fill="#088c05"/>
<rect x="1141.07" y="1099.62" width="14.93" height="19.64" fill="#0aaa06"/>
<rect x="1155.5" y="1099.62" width="14.93" height="19.64" fill="#09a006"/>
<rect x="1169.93" y="1099.62" width="14.93" height="19.64" fill="#011e01"/>
<rect x="1184.37" y="1099.62" width="14.93" height="19.64" fill="#022801"/>
<rect x="1198.8" y="1099.62" width="14.88" height="19.64" fill="#0ef009"/>
<rect x="1213.18" y="1099.62" width="14.88" height="19.64" fill="#0ef009"/>
<rect x="1227.57" y="1099.62" width="14.88" height="19.64" fill="#0de609"/>
<rect x="1241.95" y="1099.62" width="14.88" height="19.64" fill="#0de609"/>
<rect x="1256.33" y="1099.62" width="14.88" height="19.64" fill="#0ddc08"/>
<rect x="1270.72" y="1099.62" width="14.88" height="19.64" fill="#0de609"/>
<rect x="938.8" y="1118.76" width="14.83" height="19.64" fill="#3c0202"/>
<rect x="953.13" y="1118.76" width="14.83" height="19.64" fill="#460202"/>
<rect x="967.47" y="1118.76" width="14.83" height="19.64" fill="#820505"/>
<rect x="981.8" y="1118.76" width="14.83" height="19.64" fill="#be0707"/>
<rect x="996.13" y="1118.76" width="14.83" height="19.64" fill="#8c0505"/>
<rect x="1010.47" y="1118.76" width="14.83" height="19.64" fill="#033c02"/>
<rect x="1024.8" y="1118.76" width="15.07" height="19.64" fill="#077804"/>
<rect x="1039.37" y="1118.76" width="15.07" height="19.64" fill="#0bbe07"/>
<rect x="1053.93" y="1118.76" width="15.07" height="19.64" fill="#0bbe07"/>
<rect x="1068.5" y="1118.76" width="15.07" height="19.64" fill="#280101"/>
<rect x="1083.07" y="1118.76" width="15.07" height="19.64" fill="#022801"/>
<rect x="1097.63" y="1118.76" width="15.07" height="19.64" fill="#099606"/>
<rect x="1112.2" y="1118.76" width="14.93" height="19.64" fill="#0bbe07"/>
<rect x="1126.63" y="1118.76" width="14.93" height="19.64" fill="#0ab407"/>
<rect x="1141.07" y="1118.76" width="14.93" height="19.64" fill="#0cc808"/>
<rect x="1155.5" y="1118.76" width="14.93" height="19.64" fill="#09a006"/>
<rect x="1169.93" y="1118.76" width="14.93" height="19.64" fill="#044602"/>
<rect x="1184.37" y="1118.76" width="14.93" height="19.64" fill="#033c02"/>
<rect x="1198.8" y="1118.76" width="14.88" height="19.64" fill="#0ef509"/>
<rect x="1213.18" y="1118.76" width="14.88" height="19.64" fill="#0de609"/>
<rect x="1227.57" y="1118.76" width="14.88" height="19.64" fill="#0de609"/>
<rect x="1241.95" y="1118.76" width="14.88" height="19.64" fill="#0de609"/>
<rect x="1256.33" y="1118.76" width="14.88" height="19.64" fill="#0cd208"/>
<rect x="1270.72" y="1118.76" width="14.88" height="19.64" fill="#0de609"/>
<rect x="938.8" y="1137.9" width="14.83" height="19.64" fill="#3c0202"/>
<rect x="953.13" y="1137.9" width="14.83" height="19.64" fill="#1e0101"/>
<rect x="967.47" y="1137.9" width="14.83" height="19.64" fill="#640404"/>
<rect x="981.8" y="1137.9" width="14.83" height="19.64" fill="#a00606"/>
<rect x="996.13" y="1137.9" width="14.83" height="19.64" fill="#c80808"/>
<rect x="1010.47" y="1137.9" width="14.83" height="19.64" fill="#000000"/>
<rect x="1024.8" y="1137.9" width="15.07" height="19.64" fill="#033202"/>
<rect x="1039.37" y="1137.9" width="15.07" height="19.64" fill="#077804"/>
<rect x="1053.93" y="1137.9" width="15.07" height="19.64" fill="#066404"/>
<rect x="1068.5" y="1137.9" width="15.07" height="19.64" fill="#c80808"/>
<rect x="1083.07" y="1137.9" width="15.07" height="19.64" fill="#230101"/>
<rect x="1097.63" y="1137.9" width="15.07" height="19.64" fill="#088c05"/>
<rect x="1112.2" y="1137.9" width="14.93" height="19.64" fill="#099606"/>
<rect x="1126.63" y="1137.9" width="14.93" height="19.64" fill="#088c05"/>
<rect x="1141.07" y="1137.9" width="14.93" height="19.64" fill="#09a006"/>
<rect x="1155.5" y="1137.9" width="14.93" height="19.64" fill="#077804"/>
<rect x="1169.93" y="1137.9" width="14.93" height="19.64" fill="#000000"/>
<rect x="1184.37" y="1137.9" width="14.93" height="19.64" fill="#011400"/>
<rect x="1198.8" y="1137.9" width="14.88" height="19.64" fill="#0cc808"/>
<rect x="1213.18" y="1137.9" width="14.88" height="19.64" fill="#0cd208"/>
<rect x="1227.57" y="1137.9" width="14.88" height="19.64" fill="#0cc808"/>
<rect x="1241.95" y="1137.9" width="14.88" height="19.64" fill="#0ab407"/>
<rect x="1256.33" y="1137.9" width="14.88" height="19.64" fill="#0aaa06"/>
<rect x="1270.72" y="1137.9" width="14.88" height="19.64" fill="#0cc808"/>
<rect x="938.8" y="1157.03" width="14.83" height="19.64" fill="#3c0202"/>
<rect x="953.13" y="1157.03" width="14.83" height="19.64" fill="#0a0000"/>
<rect x="967.47" y="1157.03" width="14.83" height="19.64" fill="#aa0606"/>
<rect x="981.8" y="1157.03" width="14.83" height="19.64" fill="#820505"/>
<rect x="996.13" y="1157.03" width="14.83" height="19.64" fill="#be0707"/>
<rect x="1010.47" y="1157.03" width="14.83" height="19.64" fill="#000000"/>
<rect x="1024.8" y="1157.03" width="15.07" height="19.64" fill="#022801"/>
<rect x="1039.37" y="1157.03" width="15.07" height="19.64" fill="#078205"/>
<rect x="1053.93" y="1157.03" width="15.07" height="19.64" fill="#088c05"/>
<rect x="1068.5" y="1157.03" width="15.07" height="19.64" fill="#500303"/>
<rect x="1083.07" y="1157.03" width="15.07" height="19.64" fill="#000f00"/>
<rect x="1097.63" y="1157.03" width="15.07" height="19.64" fill="#088c05"/>
<rect x="1112.2" y="1157.03" width="14.93" height="19.64" fill="#066e04"/>
<rect x="1126.63" y="1157.03" width="14.93" height="19.64" fill="#055a03"/>
<rect x="1141.07" y="1157.03" width="14.93" height="19.64" fill="#088c05"/>
<rect x="1155.5" y="1157.03" width="14.93" height="19.64" fill="#011e01"/>
<rect x="1169.93" y="1157.03" width="14.93" height="19.64" fill="#500303"/>
<rect x="1184.37" y="1157.03" width="14.93" height="19.64" fill="#011400"/>
<rect x="1198.8" y="1157.03" width="14.88" height="19.64" fill="#0cc808"/>
<rect x="1213.18" y="1157.03" width="14.88" height="19.64" fill="#0cd208"/>
<rect x="1227.57" y="1157.03" width="14.88" height="19.64" fill="#0cc808"/>
<rect x="1241.95" y="1157.03" width="14.88" height="19.64" fill="#0bbe07"/>
<rect x="1256.33" y="1157.03" width="14.88" height="19.64" fill="#0aaa06"/>
<rect x="1270.72" y="1157.03" width="14.88" height="19.64" fill="#0cc808"/>
<rect x="938.8" y="1176.17" width="14.83" height="19.64" fill="#500303"/>
<rect x="953.13" y="1176.17" width="14.83" height="19.64" fill="#011e01"/>
<rect x="967.47" y="1176.17" width="14.83" height="19.64" fill="#d20808"/>
<rect x="981.8" y="1176.17" width="14.83" height="19.64" fill="#820505"/>
<rect x="996.13" y="1176.17" width="14.83" height="19.64" fill="#d20808"/>
<rect x="1010.47" y="1176.17" width="14.83" height="19.64" fill="#022801"/>
<rect x="1024.8" y="1176.17" width="15.07" height="19.64" fill="#066404"/>
<rect x="1039.37" y="1176.17" width="15.07" height="19.64" fill="#0aaa06"/>
<rect x="1053.93" y="1176.17" width="15.07" height="19.64" fill="#09a006"/>
<rect x="1068.5" y="1176.17" width="15.07" height="19.64" fill="#140000"/>
<rect x="1083.07" y="1176.17" width="15.07" height="19.64" fill="#066404"/>
<rect x="1097.63" y="1176.17" width="15.07" height="19.64" fill="#099606"/>
<rect x="1112.2" y="1176.17" width="14.93" height="19.64" fill="#066e04"/>
<rect x="1126.63" y="1176.17" width="14.93" height="19.64" fill="#055a03"/>
<rect x="1141.07" y="1176.17" width="14.93" height="19.64" fill="#088c05"/>
<rect x="1155.5" y="1176.17" width="14.93" height="19.64" fill="#044602"/>
<rect x="1169.93" y="1176.17" width="14.93" height="19.64" fill="#320202"/>
<rect x="1184.37" y="1176.17" width="14.93" height="19.64" fill="#022801"/>
<rect x="1198.8" y="1176.17" width="14.88" height="19.64" fill="#0cd208"/>
<rect x="1213.18" y="1176.17" width="14.88" height="19.64" fill="#0cd208"/>
<rect x="1227.57" y="1176.17" width="14.88" height="19.64" fill="#0cd208"/>
<rect x="1241.95" y="1176.17" width="14.88" height="19.64" fill="#0bbe07"/>
<rect x="1256.33" y="1176.17" width="14.88" height="19.64" fill="#0aaa06"/>
<rect x="1270.72" y="1176.17" width="14.88" height="19.64" fill="#0cd208"/>
<rect x="938.8" y="1195.31" width="14.83" height="19.64" fill="#6e0404"/>
<rect x="953.13" y="1195.31" width="14.83" height="19.64" fill="#640404"/>
<rect x="967.47" y="1195.31" width="14.83" height="19.64" fill="#8c0505"/>
<rect x="981.8" y="1195.31" width="14.83" height="19.64" fill="#820505"/>
<rect x="996.13" y="1195.31" width="14.83" height="19.64" fill="#820505"/>
<rect x="1010.47" y="1195.31" width="14.83" height="19.64" fill="#055a03"/>
<rect x="1024.8" y="1195.31" width="15.07" height="19.64" fill="#780404"/>
<rect x="1039.37" y="1195.31" width="15.07" height="19.64" fill="#077804"/>
<rect x="1053.93" y="1195.31" width="15.07" height="19.64" fill="#055a03"/>
<rect x="1068.5" y="1195.31" width="15.07" height="19.64" fill="#780404"/>
<rect x="1083.07" y="1195.31" width="15.07" height="19.64" fill="#280101"/>
<rect x="1097.63" y="1195.31" width="15.07" height="19.64" fill="#088c05"/>
<rect x="1112.2" y="1195.31" width="14.93" height="19.64" fill="#0aaa06"/>
<rect x="1126.63" y="1195.31" width="14.93" height="19.64" fill="#0aaa06"/>
<rect x="1141.07" y="1195.31" width="14.93" height="19.64" fill="#0bbe07"/>
<rect x="1155.5" y="1195.31" width="14.93" height="19.64" fill="#0bbe07"/>
<rect x="1169.93" y="1195.31" width="14.93" height="19.64" fill="#066e04"/>
<rect x="1184.37" y="1195.31" width="14.93" height="19.64" fill="#066404"/>
<rect x="1198.8" y="1195.31" width="14.88" height="19.64" fill="#0ddc08"/>
<rect x="1213.18" y="1195.31" width="14.88" height="19.64" fill="#0de609"/>
<rect x="1227.57" y="1195.31" width="14.88" height="19.64" fill="#0ef009"/>
<rect x="1241.95" y="1195.31" width="14.88" height="19.64" fill="#0ef509"/>
<rect x="1256.33" y="1195.31" width="14.88" height="19.64" fill="#0cc808"/>
<rect x="1270.72" y="1195.31" width="14.88" height="19.64" fill="#0de609"/>
<rect x="938.8" y="1214.45" width="14.83" height="19.64" fill="#320202"/>
<rect x="953.13" y="1214.45" width="14.83" height="19.64" fill="#011400"/>
<rect x="967.47" y="1214.45" width="14.83" height="19.64" fill="#e60909"/>
<rect x="981.8" y="1214.45" width="14.83" height="19.64" fill="#2d0101"/>
<rect x="996.13" y="1214.45" width="14.83" height="19.64" fill="#c80808"/>
<rect x="1010.47" y="1214.45" width="14.83" height="19.64" fill="#0a0000"/>
<rect x="1024.8" y="1214.45" width="15.07" height="19.64" fill="#099606"/>
<rect x="1039.37" y="1214.45" width="15.07" height="19.64" fill="#0aaa06"/>
<rect x="1053.93" y="1214.45" width="15.07" height="19.64" fill="#066e04"/>
<rect x="1068.5" y="1214.45" width="15.07" height="19.64" fill="#011e01"/>
<rect x="1083.07" y="1214.45" width="15.07" height="19.64" fill="#033c02"/>
<rect x="1097.63" y="1214.45" width="15.07" height="19.64" fill="#044602"/>
<rect x="1112.2" y="1214.45" width="14.93" height="19.64" fill="#033c02"/>
<rect x="1126.63" y="1214.45" width="14.93" height="19.64" fill="#033202"/>
<rect x="1141.07" y="1214.45" width="14.93" height="19.64" fill="#044602"/>
<rect x="1155.5" y="1214.45" width="14.93" height="19.64" fill="#000000"/>
<rect x="1169.93" y="1214.45" width="14.93" height="19.64" fill="#460202"/>
<rect x="1184.37" y="1214.45" width="14.93" height="19.64" fill="#000000"/>
<rect x="1198.8" y="1214.45" width="14.88" height="19.64" fill="#0ab407"/>
<rect x="1213.18" y="1214.45" width="14.88" height="19.64" fill="#0ab407"/>
<rect x="1227.57" y="1214.45" width="14.88" height="19.64" fill="#0bbe07"/>
<rect x="1241.95" y="1214.45" width="14.88" height="19.64" fill="#077804"/>
<rect x="1256.33" y="1214.45" width="14.88" height="19.64" fill="#0aaa06"/>
<rect x="1270.72" y="1214.45" width="14.88" height="19.64" fill="#0ab407"/>
<rect x="938.8" y="1233.59" width="14.83" height="19.64" fill="#640404"/>
<rect x="953.13" y="1233.59" width="14.83" height="19.64" fill="#022801"/>
<rect x="967.47" y="1233.59" width="14.83" height="19.64" fill="#dc0808"/>
<rect x="981.8" y="1233.59" width="14.83" height="19.64" fill="#280101"/>
<rect x="996.13" y="1233.59" width="14.83" height="19.64" fill="#c80808"/>
<rect x="1010.47" y="1233.59" width="14.83" height="19.64" fill="#0a0000"/>
<rect x="1024.8" y="1233.59" width="15.07" height="19.64" fill="#09a006"/>
<rect x="1039.37" y="1233.59" width="15.07" height="19.64" fill="#0aaa06"/>
<rect x="1053.93" y="1233.59" width="15.07" height="19.64" fill="#033c02"/>
<rect x="1068.5" y="1233.59" width="15.07" height="19.64" fill="#011400"/>
<rect x="1083.07" y="1233.59" width="15.07" height="19.64" fill="#044602"/>
<rect x="1097.63" y="1233.59" width="15.07" height="19.64" fill="#055a03"/>
<rect x="1112.2" y="1233.59" width="14.93" height="19.64" fill="#022801"/>
<rect x="1126.63" y="1233.59" width="14.93" height="19.64" fill="#011400"/>
<rect x="1141.07" y="1233.59" width="14.93" height="19.64" fill="#045003"/>
<rect x="1155.5" y="1233.59" width="14.93" height="19.64" fill="#011400"/>
<rect x="1169.93" y="1233.59" width="14.93" height="19.64" fill="#5a0303"/>
<rect x="1184.37" y="1233.59" width="14.93" height="19.64" fill="#140000"/>
<rect x="1198.8" y="1233.59" width="14.88" height="19.64" fill="#0ab407"/>
<rect x="1213.18" y="1233.59" width="14.88" height="19.64" fill="#0bbe07"/>
<rect x="1227.57" y="1233.59" width="14.88" height="19.64" fill="#0bbe07"/>
<rect x="1241.95" y="1233.59" width="14.88" height="19.64" fill="#078205"/>
<rect x="1256.33" y="1233.59" width="14.88" height="19.64" fill="#0ab407"/>
<rect x="1270.72" y="1233.59" width="14.88" height="19.64" fill="#0bbe07"/>
<rect x="938.8" y="1252.72" width="14.83" height="19.64" fill="#140000"/>
<rect x="953.13" y="1252.72" width="14.83" height="19.64" fill="#022d01"/>
<rect x="967.47" y="1252.72" width="14.83" height="19.64" fill="#ff0a0a"/>
<rect x="981.8" y="1252.72" width="14.83" height="19.64" fill="#1e0101"/>
<rect x="996.13" y="1252.72" width="14.83" height="19.64" fill="#ff0a0a"/>
<rect x="1010.47" y="1252.72" width="14.83" height="19.64" fill="#011400"/>
<rect x="1024.8" y="1252.72" width="15.07" height="19.64" fill="#0aaa06"/>
<rect x="1039.37" y="1252.72" width="15.07" height="19.64" fill="#0aaa06"/>
<rect x="1053.93" y="1252.72" width="15.07" height="19.64" fill="#077804"/>
<rect x="1068.5" y="1252.72" width="15.07" height="19.64" fill="#011400"/>
<rect x="1083.07" y="1252.72" width="15.07" height="19.64" fill="#044602"/>
<rect x="1097.63" y="1252.72" width="15.07" height="19.64" fill="#088c05"/>
<rect x="1112.2" y="1252.72" width="14.93" height="19.64" fill="#077804"/>
<rect x="1126.63" y="1252.72" width="14.93" height="19.64" fill="#078205"/>
<rect x="1141.07" y="1252.72" width="14.93" height="19.64" fill="#078205"/>
<rect x="1155.5" y="1252.72" width="14.93" height="19.64" fill="#033c02"/>
<rect x="1169.93" y="1252.72" width="14.93" height="19.64" fill="#000000"/>
<rect x="1184.37" y="1252.72" width="14.93" height="19.64" fill="#000000"/>
<rect x="1198.8" y="1252.72" width="14.88" height="19.64" fill="#0cc808"/>
<rect x="1213.18" y="1252.72" width="14.88" height="19.64" fill="#0cc808"/>
<rect x="1227.57" y="1252.72" width="14.88" height="19.64" fill="#0cc808"/>
<rect x="1241.95" y="1252.72" width="14.88" height="19.64" fill="#088c05"/>
<rect x="1256.33" y="1252.72" width="14.88" height="19.64" fill="#0bbe07"/>
<rect x="1270.72" y="1252.72" width="14.88" height="19.64" fill="#0cc808"/>
<rect x="938.8" y="1271.86" width="14.83" height="19.64" fill="#5a0303"/>
<rect x="953.13" y="1271.86" width="14.83" height="19.64" fill="#033202"/>
<rect x="967.47" y="1271.86" width="14.83" height="19.64" fill="#ff0a0a"/>
<rect x="981.8" y="1271.86" width="14.83" height="19.64" fill="#320202"/>
<rect x="996.13" y="1271.86" width="14.83" height="19.64" fill="#c80808"/>
<rect x="1010.47" y="1271.86" width="14.83" height="19.64" fill="#033c02"/>
<rect x="1024.8" y="1271.86" width="15.07" height="19.64" fill="#0aaa06"/>
<rect x="1039.37" y="1271.86" width="15.07" height="19.64" fill="#0bbe07"/>
<rect x="1053.93" y="1271.86" width="15.07" height="19.64" fill="#088c05"/>
<rect x="1068.5" y="1271.86" width="15.07" height="19.64" fill="#022801"/>
<rect x="1083.07" y="1271.86" width="15.07" height="19.64" fill="#078205"/>
<rect x="1097.63" y="1271.86" width="15.07" height="19.64" fill="#0aaa06"/>
<rect x="1112.2" y="1271.86" width="14.93" height="19.64" fill="#088c05"/>
<rect x="1126.63" y="1271.86" width="14.93" height="19.64" fill="#077804"/>
<rect x="1141.07" y="1271.86" width="14.93" height="19.64" fill="#0aaa06"/>
<rect x="1155.5" y="1271.86" width="14.93" height="19.64" fill="#09a006"/>
<rect x="1169.93" y="1271.86" width="14.93" height="19.64" fill="#011e01"/>
<rect x="1184.37" y="1271.86" width="14.93" height="19.64" fill="#033c02"/>
<rect x="1198.8" y="1271.86" width="14.88" height="19.64" fill="#0fff0a"/>
<rect x="1213.18" y="1271.86" width="14.88" height="19.64" fill="#0ffa0a"/>
<rect x="1227.57" y="1271.86" width="14.88" height="19.64" fill="#0ef509"/>
<rect x="1241.95" y="1271.86" width="14.88" height="19.64" fill="#0ef009"/>
<rect x="1256.33" y="1271.86" width="14.88" height="19.64" fill="#0de609"/>
<rect x="1270.72" y="1271.86" width="14.88" height="19.64" fill="#0ef009"/>
<path d="M953.13 736.0V1291M967.47 736.0V1291M981.8 736.0V1291M996.13 736.0V1291M1010.47 736.0V1291M1024.8 736.0V1291M1039.37 736.0V1291M1053.93 736.0V1291M1068.5 736.0V1291M1083.07 736.0V1291M1097.63 736.0V1291M1112.2 736.0V1291M1126.63 736.0V1291M1141.07 736.0V1291M1155.5 736.0V1291M1169.93 736.0V1291M1184.37 736.0V1291M1198.8 736.0V1291M1213.18 736.0V1291M1227.57 736.0V1291M1241.95 736.0V1291M1256.33 736.0V1291M1270.72 736.0V1291M938.8 755.14H1285.1M938.8 774.28H1285.1M938.8 793.41H1285.1M938.8 812.55H1285.1M938.8 831.69H1285.1M938.8 850.83H1285.1M938.8 869.97H1285.1M938.8 889.1H1285.1M938.8 908.24H1285.1M938.8 927.38H1285.1M938.8 946.52H1285.1M938.8 965.66H1285.1M938.8 984.79H1285.1M938.8 1003.93H1285.1M938.8 1023.07H1285.1M938.8 1042.21H1285.1M938.8 1061.34H1285.1M938.8 1080.48H1285.1M938.8 1099.62H1285.1M938.8 1118.76H1285.1M938.8 1137.9H1285.1M938.8 1157.03H1285.1M938.8 1176.17H1285.1M938.8 1195.31H1285.1M938.8 1214.45H1285.1M938.8 1233.59H1285.1M938.8 1252.72H1285.1M938.8 1271.86H1285.1" stroke="#fff" stroke-opacity="0.28" stroke-width="0.9" fill="none"/>
<rect x="1023.8" y="736" width="2.2" height="555" fill="#fff"/>
<rect x="1111.2" y="736" width="2.2" height="555" fill="#fff"/>
<rect x="1199.6" y="736" width="2.2" height="555" fill="#fff"/>
<text transform="translate(1305.6,756.3) scale(0.8200,1)" font-size="23.50" font-weight="bold" font-style="italic" fill="#1432ff" stroke="#1432ff" stroke-width="0.70" stroke-linejoin="round">Slc6a9</text>
<text transform="translate(1306.27,775.15) scale(0.8200,1)" font-size="23.50" font-weight="bold" font-style="italic" fill="#1432ff" stroke="#1432ff" stroke-width="0.70" stroke-linejoin="round">Ank1</text>
<text transform="translate(1305.5,794) scale(0.8200,1)" font-size="23.50" font-weight="bold" font-style="italic" fill="#000" stroke="#000" stroke-width="0.70" stroke-linejoin="round">Mfhas1</text>
<text transform="translate(1304.93,812.85) scale(0.8200,1)" font-size="23.50" font-weight="bold" font-style="italic" fill="#1432ff" stroke="#1432ff" stroke-width="0.70" stroke-linejoin="round">Cpox</text>
<text transform="translate(1305.5,831.7) scale(0.8200,1)" font-size="23.50" font-weight="bold" font-style="italic" fill="#1432ff" stroke="#1432ff" stroke-width="0.70" stroke-linejoin="round">Dmtn</text>
<text transform="translate(1305.5,850.55) scale(0.8200,1)" font-size="23.50" font-weight="bold" font-style="italic" fill="#1432ff" stroke="#1432ff" stroke-width="0.70" stroke-linejoin="round">Elf2ak1</text>
<text transform="translate(1305.6,869.4) scale(0.8200,1)" font-size="23.50" font-weight="bold" font-style="italic" fill="#1432ff" stroke="#1432ff" stroke-width="0.70" stroke-linejoin="round">Slc4a1</text>
<text transform="translate(1304.54,888.25) scale(0.8200,1)" font-size="23.50" font-weight="bold" font-style="italic" fill="#000" stroke="#000" stroke-width="0.70" stroke-linejoin="round">Tal1</text>
<text transform="translate(1306.27,907.1) scale(0.8200,1)" font-size="23.50" font-weight="bold" font-style="italic" fill="#1432ff" stroke="#1432ff" stroke-width="0.70" stroke-linejoin="round">Alad</text>
<text transform="translate(1305.6,925.95) scale(0.8200,1)" font-size="23.50" font-weight="bold" font-style="italic" fill="#000" stroke="#000" stroke-width="0.70" stroke-linejoin="round">Slc11a2</text>
<text transform="translate(1306.27,944.8) scale(0.8200,1)" font-size="23.50" font-weight="bold" font-style="italic" fill="#000" stroke="#000" stroke-width="0.70" stroke-linejoin="round">Abcb6</text>
<text transform="translate(1305.5,963.65) scale(0.8200,1)" font-size="23.50" font-weight="bold" font-style="italic" fill="#000" stroke="#000" stroke-width="0.70" stroke-linejoin="round">Ppox</text>
<text transform="translate(1304.54,982.5) scale(0.8200,1)" font-size="23.50" font-weight="bold" font-style="italic" fill="#1432ff" stroke="#1432ff" stroke-width="0.70" stroke-linejoin="round">Trim58</text>
<text transform="translate(1305.6,1001.35) scale(0.8200,1)" font-size="23.50" font-weight="bold" font-style="italic" fill="#000" stroke="#000" stroke-width="0.70" stroke-linejoin="round">Sox6</text>
<text transform="translate(1305.6,1020.2) scale(0.8200,1)" font-size="23.50" font-weight="bold" font-style="italic" fill="#1432ff" stroke="#1432ff" stroke-width="0.70" stroke-linejoin="round">Spta1</text>
<text transform="translate(1305.5,1039.05) scale(0.8200,1)" font-size="23.50" font-weight="bold" font-style="italic" fill="#1432ff" stroke="#1432ff" stroke-width="0.70" stroke-linejoin="round">Rhag</text>
<text transform="translate(1305.5,1057.9) scale(0.8200,1)" font-size="23.50" font-weight="bold" font-style="italic" fill="#000" stroke="#000" stroke-width="0.70" stroke-linejoin="round">Epb42</text>
<text transform="translate(1304.73,1076.75) scale(0.8200,1)" font-size="23.50" font-weight="bold" font-style="italic" fill="#000" stroke="#000" stroke-width="0.70" stroke-linejoin="round">Uros</text>
<text transform="translate(1305.5,1095.6) scale(0.8200,1)" font-size="23.50" font-weight="bold" font-style="italic" fill="#1432ff" stroke="#1432ff" stroke-width="0.70" stroke-linejoin="round">Hmbs</text>
<text transform="translate(1304.54,1114.45) scale(0.8200,1)" font-size="23.50" font-weight="bold" font-style="italic" fill="#000" stroke="#000" stroke-width="0.70" stroke-linejoin="round">Tcf3</text>
<text transform="translate(1305.6,1133.3) scale(0.8200,1)" font-size="23.50" font-weight="bold" font-style="italic" fill="#1432ff" stroke="#1432ff" stroke-width="0.70" stroke-linejoin="round">Smarca4</text>
<text transform="translate(1306.37,1152.15) scale(0.8200,1)" font-size="23.50" font-weight="bold" font-style="italic" fill="#000" stroke="#000" stroke-width="0.70" stroke-linejoin="round">Zbtb7a</text>
<text transform="translate(1306.27,1171) scale(0.8200,1)" font-size="23.50" font-weight="bold" font-style="italic" fill="#000" stroke="#000" stroke-width="0.70" stroke-linejoin="round">Add1</text>
<text transform="translate(1305.5,1189.85) scale(0.8200,1)" font-size="23.50" font-weight="bold" font-style="italic" fill="#000" stroke="#000" stroke-width="0.70" stroke-linejoin="round">Foxo3</text>
<text transform="translate(1305.5,1208.7) scale(0.8200,1)" font-size="23.50" font-weight="bold" font-style="italic" fill="#000" stroke="#000" stroke-width="0.70" stroke-linejoin="round">Klf13</text>
<text transform="translate(1304.93,1227.55) scale(0.8200,1)" font-size="23.50" font-weight="bold" font-style="italic" fill="#000" stroke="#000" stroke-width="0.70" stroke-linejoin="round">Gata1</text>
<text transform="translate(1305.5,1246.4) scale(0.8200,1)" font-size="23.50" font-weight="bold" font-style="italic" fill="#000" stroke="#000" stroke-width="0.70" stroke-linejoin="round">Klf1</text>
<text transform="translate(1304.93,1265.25) scale(0.8200,1)" font-size="23.50" font-weight="bold" font-style="italic" fill="#000" stroke="#000" stroke-width="0.70" stroke-linejoin="round">Gfi1b</text>
<text transform="translate(1306.37,1284.1) scale(0.8200,1)" font-size="23.50" font-weight="bold" font-style="italic" fill="#1432ff" stroke="#1432ff" stroke-width="0.70" stroke-linejoin="round">Zfpm1</text>
<path d="M1391 733H1400V1095H1391M1391 1104.5H1400V1289H1391" fill="none" stroke="#000" stroke-width="2"/>
<text transform="translate(1411.8,852.21) rotate(90) scale(0.7902,1)" font-size="30.60" font-weight="bold" stroke="#000" stroke-width="0.92" stroke-linejoin="round">19 genes</text>
<text transform="translate(1411.8,1136.41) rotate(90) scale(0.7918,1)" font-size="30.60" font-weight="bold" stroke="#000" stroke-width="0.92" stroke-linejoin="round">10 genes</text>
<defs><linearGradient id="lg" x1="0" y1="0" x2="0" y2="1"><stop offset="0" stop-color="#ff3c3c"/><stop offset="0.06" stop-color="#f83a3a"/><stop offset="0.2" stop-color="#d83838"/><stop offset="0.27" stop-color="#b83838"/><stop offset="0.34" stop-color="#8a3535"/><stop offset="0.4" stop-color="#6a3434"/><stop offset="0.45" stop-color="#4a3333"/><stop offset="0.5" stop-color="#333333"/><stop offset="0.53" stop-color="#3a4a38"/><stop offset="0.63" stop-color="#508a40"/><stop offset="0.76" stop-color="#5ea84a"/><stop offset="0.93" stop-color="#6ee050"/><stop offset="1" stop-color="#72ff52"/></linearGradient></defs>
<rect x="843.7" y="1016.8" width="41.4" height="125.6" fill="url(#lg)" stroke="#222" stroke-width="1.2"/>
<path d="M885.5 1022.8H892M885.5 1041.2H892M885.5 1059.3H892M885.5 1077.5H892M885.5 1095.5H892M885.5 1113.7H892M885.5 1132H892" stroke="#333" stroke-width="1.6"/>
<text transform="translate(895.45,1031.1) scale(0.8225,1)" font-size="20.28" font-weight="bold" font-style="normal" fill="#000" stroke="#000" stroke-width="0.61" stroke-linejoin="round">1.4</text>
<text transform="translate(895.43,1066.71) scale(0.8802,1)" font-size="19.45" font-weight="bold" font-style="normal" fill="#000" stroke="#000" stroke-width="0.58" stroke-linejoin="round">1.0</text>
<text transform="translate(895.78,1102.71) scale(0.8638,1)" font-size="19.45" font-weight="bold" font-style="normal" fill="#000" stroke="#000" stroke-width="0.58" stroke-linejoin="round">0.6</text>
<text transform="translate(895.78,1138.71) scale(0.8732,1)" font-size="19.32" font-weight="bold" font-style="normal" fill="#000" stroke="#000" stroke-width="0.58" stroke-linejoin="round">0.2</text>
<text transform="translate(14,1404.56) scale(0.8719,1)" font-size="69.14" font-weight="bold" font-style="normal" fill="#000" stroke="#000" stroke-width="2.07" stroke-linejoin="round">f</text>
<text transform="translate(1029.29,1405.34) scale(0.8215,1)" font-size="68.72" font-weight="bold" font-style="normal" fill="#000" stroke="#000" stroke-width="2.06" stroke-linejoin="round">g</text>
<text transform="translate(24.5,1659.67) rotate(-90) scale(0.8008,1)" font-size="33.20" font-weight="bold" stroke="#000" stroke-width="1.00" stroke-linejoin="round">TPM</text>
<text transform="translate(124,1440.99) scale(0.8283,1)" font-size="40.93" font-weight="bold" font-style="italic" fill="#000" stroke="#000" stroke-width="1.23" stroke-linejoin="round">Slc6a9</text>
<path d="M91 1468.5V1826M82.5 1826H279" stroke="#000" stroke-width="3.4" fill="none"/>
<path d="M82 1470.2H91M82 1521H91M82 1571.6H91M82 1622.3H91M82 1673.3H91M82 1724.3H91M82 1775.3H91M82 1826H91" stroke="#000" stroke-width="3.2" fill="none"/>
<text transform="translate(43.98,1483.73) scale(0.7800,1)" font-size="37.20" font-weight="bold" font-style="normal" fill="#000" stroke="#000" stroke-width="1.12" stroke-linejoin="round">35</text>
<text transform="translate(44.42,1535.13) scale(0.7800,1)" font-size="37.20" font-weight="bold" font-style="normal" fill="#000" stroke="#000" stroke-width="1.12" stroke-linejoin="round">30</text>
<text transform="translate(43.98,1586.03) scale(0.7800,1)" font-size="37.20" font-weight="bold" font-style="normal" fill="#000" stroke="#000" stroke-width="1.12" stroke-linejoin="round">25</text>
<text transform="translate(44.42,1636.23) scale(0.7800,1)" font-size="37.20" font-weight="bold" font-style="normal" fill="#000" stroke="#000" stroke-width="1.12" stroke-linejoin="round">20</text>
<text transform="translate(43.98,1687.25) scale(0.7800,1)" font-size="37.20" font-weight="bold" font-style="normal" fill="#000" stroke="#000" stroke-width="1.12" stroke-linejoin="round">15</text>
<text transform="translate(44.42,1737.63) scale(0.7800,1)" font-size="37.20" font-weight="bold" font-style="normal" fill="#000" stroke="#000" stroke-width="1.12" stroke-linejoin="round">10</text>
<text transform="translate(60.09,1788.85) scale(0.7800,1)" font-size="37.20" font-weight="bold" font-style="normal" fill="#000" stroke="#000" stroke-width="1.12" stroke-linejoin="round">5</text>
<text transform="translate(60.52,1839.43) scale(0.7800,1)" font-size="37.20" font-weight="bold" font-style="normal" fill="#000" stroke="#000" stroke-width="1.12" stroke-linejoin="round">0</text>
<circle cx="122.6" cy="1510.4" r="8.4" fill="#00ffff" stroke="#fff" stroke-width="1.1"/>
<circle cx="122.4" cy="1546.3" r="8.4" fill="#00ffff" stroke="#fff" stroke-width="1.1"/>
<circle cx="122.4" cy="1596.2" r="8.4" fill="#00ffff" stroke="#fff" stroke-width="1.1"/>
<circle cx="122.4" cy="1630" r="8.4" fill="#00ffff" stroke="#fff" stroke-width="1.1"/>
<circle cx="115.4" cy="1672.1" r="8.4" fill="#00ffff" stroke="#fff" stroke-width="1.1"/>
<circle cx="131" cy="1668.7" r="8.4" fill="#00ffff" stroke="#fff" stroke-width="1.1"/>
<circle cx="158.2" cy="1721.8" r="8.4" fill="#1428fa" stroke="#fff" stroke-width="1.1"/>
<circle cx="161.4" cy="1734.4" r="8.4" fill="#1428fa" stroke="#fff" stroke-width="1.1"/>
<circle cx="149.4" cy="1754.5" r="8.4" fill="#1428fa" stroke="#fff" stroke-width="1.1"/>
<circle cx="149" cy="1743.2" r="8.4" fill="#1428fa" stroke="#fff" stroke-width="1.1"/>
<circle cx="164.5" cy="1744.4" r="8.4" fill="#1428fa" stroke="#fff" stroke-width="1.1"/>
<circle cx="158.4" cy="1767.5" r="8.4" fill="#1428fa" stroke="#fff" stroke-width="1.1"/>
<circle cx="209" cy="1590.3" r="8.4" fill="#ff3cff" stroke="#fff" stroke-width="1.1"/>
<circle cx="209" cy="1653.7" r="8.4" fill="#ff3cff" stroke="#fff" stroke-width="1.1"/>
<circle cx="209" cy="1672.5" r="8.4" fill="#ff3cff" stroke="#fff" stroke-width="1.1"/>
<circle cx="202" cy="1688.4" r="8.4" fill="#ff3cff" stroke="#fff" stroke-width="1.1"/>
<circle cx="215" cy="1690.1" r="8.4" fill="#ff3cff" stroke="#fff" stroke-width="1.1"/>
<circle cx="209" cy="1725.5" r="8.4" fill="#ff3cff" stroke="#fff" stroke-width="1.1"/>
<circle cx="245.4" cy="1757.8" r="8.4" fill="#f80000" stroke="#fff" stroke-width="1.1"/>
<circle cx="239.2" cy="1765.7" r="8.4" fill="#f80000" stroke="#fff" stroke-width="1.1"/>
<circle cx="230.5" cy="1777.5" r="8.4" fill="#f80000" stroke="#fff" stroke-width="1.1"/>
<circle cx="254.8" cy="1778.5" r="8.4" fill="#f80000" stroke="#fff" stroke-width="1.1"/>
<circle cx="239.2" cy="1787.2" r="8.4" fill="#f80000" stroke="#fff" stroke-width="1.1"/>
<circle cx="247.9" cy="1787.2" r="8.4" fill="#f80000" stroke="#fff" stroke-width="1.1"/>
<rect x="108" y="1599.6" width="26.2" height="5.6" fill="#000"/>
<rect x="144.2" y="1741.2" width="25.8" height="5.6" fill="#000"/>
<rect x="194" y="1669.3" width="26.8" height="5.6" fill="#000"/>
<rect x="225.3" y="1774" width="27.7" height="5.6" fill="#000"/>
<path d="M127.1 1501.6V1493.8H168.9V1501.6" stroke="#000" stroke-width="1.9" fill="none"/>
<path d="M213.9 1576.8V1568H255.9V1576.8" stroke="#000" stroke-width="1.9" fill="none"/>
<path d="M163 1773.3V1781.3H213.2V1773.3" stroke="#000" stroke-width="1.9" fill="none"/>
<path d="M123.8 1797V1805.3H246.8V1797" stroke="#000" stroke-width="1.9" fill="none"/>
<path d="M147.5 1486.1L147.5 1477.8M147.5 1486.1L155.39 1483.54M147.5 1486.1L152.38 1492.81M147.5 1486.1L142.62 1492.81M147.5 1486.1L139.61 1483.54" stroke="#000" stroke-width="3.7" fill="none"/>
<path d="M233 1564.4L233 1556.1M233 1564.4L240.89 1561.84M233 1564.4L237.88 1571.11M233 1564.4L228.12 1571.11M233 1564.4L225.11 1561.84" stroke="#000" stroke-width="3.7" fill="none"/>
<path d="M187.2 1793.2L187.2 1784.9M187.2 1793.2L195.09 1790.64M187.2 1793.2L192.08 1799.91M187.2 1793.2L182.32 1799.91M187.2 1793.2L179.31 1790.64" stroke="#000" stroke-width="3.7" fill="none"/>
<path d="M187.2 1817.5L187.2 1809.2M187.2 1817.5L195.09 1814.94M187.2 1817.5L192.08 1824.21M187.2 1817.5L182.32 1824.21M187.2 1817.5L179.31 1814.94" stroke="#000" stroke-width="3.7" fill="none"/>
<text transform="translate(386.2,1441.19) scale(0.8399,1)" font-size="40.79" font-weight="bold" font-style="italic" fill="#000" stroke="#000" stroke-width="1.22" stroke-linejoin="round">Ank1</text>
<path d="M331.1 1467.7V1825.5M322.6 1825.5H519" stroke="#000" stroke-width="3.4" fill="none"/>
<path d="M322.6 1469.2H331.1M322.6 1521H331.1M322.6 1571.7H331.1M322.6 1622.4H331.1M322.6 1673.3H331.1M322.6 1724.3H331.1M322.6 1775.3H331.1M322.6 1825.3H331.1" stroke="#000" stroke-width="3.2" fill="none"/>
<text transform="translate(285.52,1483.73) scale(0.7800,1)" font-size="37.20" font-weight="bold" font-style="normal" fill="#000" stroke="#000" stroke-width="1.12" stroke-linejoin="round">70</text>
<text transform="translate(285.52,1534.53) scale(0.7800,1)" font-size="37.20" font-weight="bold" font-style="normal" fill="#000" stroke="#000" stroke-width="1.12" stroke-linejoin="round">60</text>
<text transform="translate(285.52,1585.33) scale(0.7800,1)" font-size="37.20" font-weight="bold" font-style="normal" fill="#000" stroke="#000" stroke-width="1.12" stroke-linejoin="round">50</text>
<text transform="translate(285.52,1636.23) scale(0.7800,1)" font-size="37.20" font-weight="bold" font-style="normal" fill="#000" stroke="#000" stroke-width="1.12" stroke-linejoin="round">40</text>
<text transform="translate(285.52,1687.43) scale(0.7800,1)" font-size="37.20" font-weight="bold" font-style="normal" fill="#000" stroke="#000" stroke-width="1.12" stroke-linejoin="round">30</text>
<text transform="translate(285.52,1741.23) scale(0.7800,1)" font-size="37.20" font-weight="bold" font-style="normal" fill="#000" stroke="#000" stroke-width="1.12" stroke-linejoin="round">20</text>
<text transform="translate(285.52,1791.33) scale(0.7800,1)" font-size="37.20" font-weight="bold" font-style="normal" fill="#000" stroke="#000" stroke-width="1.12" stroke-linejoin="round">10</text>
<circle cx="355.7" cy="1525.6" r="8.4" fill="#00ffff" stroke="#fff" stroke-width="1.1"/>
<circle cx="368" cy="1522.2" r="8.4" fill="#00ffff" stroke="#fff" stroke-width="1.1"/>
<circle cx="362.2" cy="1587.9" r="8.4" fill="#00ffff" stroke="#fff" stroke-width="1.1"/>
<circle cx="361.7" cy="1623.6" r="8.4" fill="#00ffff" stroke="#fff" stroke-width="1.1"/>
<circle cx="356" cy="1677.8" r="8.4" fill="#00ffff" stroke="#fff" stroke-width="1.1"/>
<circle cx="368" cy="1668.5" r="8.4" fill="#00ffff" stroke="#fff" stroke-width="1.1"/>
<circle cx="398" cy="1707.7" r="8.4" fill="#1428fa" stroke="#fff" stroke-width="1.1"/>
<circle cx="404.8" cy="1740" r="8.4" fill="#1428fa" stroke="#fff" stroke-width="1.1"/>
<circle cx="388.7" cy="1745.8" r="8.4" fill="#1428fa" stroke="#fff" stroke-width="1.1"/>
<circle cx="403.7" cy="1752.7" r="8.4" fill="#1428fa" stroke="#fff" stroke-width="1.1"/>
<circle cx="389.9" cy="1753.8" r="8.4" fill="#1428fa" stroke="#fff" stroke-width="1.1"/>
<circle cx="396.8" cy="1764.2" r="8.4" fill="#1428fa" stroke="#fff" stroke-width="1.1"/>
<circle cx="448.6" cy="1591.3" r="8.4" fill="#ff3cff" stroke="#fff" stroke-width="1.1"/>
<circle cx="448.6" cy="1636.3" r="8.4" fill="#ff3cff" stroke="#fff" stroke-width="1.1"/>
<circle cx="448.6" cy="1683.5" r="8.4" fill="#ff3cff" stroke="#fff" stroke-width="1.1"/>
<circle cx="439.4" cy="1692.7" r="8.4" fill="#ff3cff" stroke="#fff" stroke-width="1.1"/>
<circle cx="454.4" cy="1702" r="8.4" fill="#ff3cff" stroke="#fff" stroke-width="1.1"/>
<circle cx="448.6" cy="1728.5" r="8.4" fill="#ff3cff" stroke="#fff" stroke-width="1.1"/>
<circle cx="473.9" cy="1758.7" r="8.4" fill="#f80000" stroke="#fff" stroke-width="1.1"/>
<circle cx="484.8" cy="1755.7" r="8.4" fill="#f80000" stroke="#fff" stroke-width="1.1"/>
<circle cx="476" cy="1774" r="8.4" fill="#f80000" stroke="#fff" stroke-width="1.1"/>
<circle cx="480" cy="1777" r="8.4" fill="#f80000" stroke="#fff" stroke-width="1.1"/>
<circle cx="489.3" cy="1780.2" r="8.4" fill="#f80000" stroke="#fff" stroke-width="1.1"/>
<circle cx="481.8" cy="1791.4" r="8.4" fill="#f80000" stroke="#fff" stroke-width="1.1"/>
<rect x="347.2" y="1597.2" width="26.5" height="5.6" fill="#000"/>
<rect x="383" y="1740.6" width="26.5" height="5.6" fill="#000"/>
<rect x="434.1" y="1669.2" width="26.8" height="5.6" fill="#000"/>
<rect x="466.9" y="1771" width="26.8" height="5.6" fill="#000"/>
<path d="M363.4 1510.6V1502.6H406V1510.6" stroke="#000" stroke-width="1.9" fill="none"/>
<path d="M450.3 1582V1574H492.4V1582" stroke="#000" stroke-width="1.9" fill="none"/>
<path d="M402.5 1772.3V1781.5H453.7V1772.3" stroke="#000" stroke-width="1.9" fill="none"/>
<path d="M366.3 1796.5V1804.5H489.4V1796.5" stroke="#000" stroke-width="1.9" fill="none"/>
<path d="M384.6 1495.3L384.6 1487M384.6 1495.3L392.49 1492.74M384.6 1495.3L389.48 1502.01M384.6 1495.3L379.72 1502.01M384.6 1495.3L376.71 1492.74" stroke="#000" stroke-width="3.7" fill="none"/>
<path d="M471.2 1564.5L471.2 1556.2M471.2 1564.5L479.09 1561.94M471.2 1564.5L476.08 1571.21M471.2 1564.5L466.32 1571.21M471.2 1564.5L463.31 1561.94" stroke="#000" stroke-width="3.7" fill="none"/>
<path d="M426.7 1796.1L426.7 1787.8M426.7 1796.1L434.59 1793.54M426.7 1796.1L431.58 1802.81M426.7 1796.1L421.82 1802.81M426.7 1796.1L418.81 1793.54" stroke="#000" stroke-width="3.7" fill="none"/>
<path d="M428.6 1815.8L428.6 1807.5M428.6 1815.8L436.49 1813.24M428.6 1815.8L433.48 1822.51M428.6 1815.8L423.72 1822.51M428.6 1815.8L420.71 1813.24" stroke="#000" stroke-width="3.7" fill="none"/>
<text transform="translate(616.83,1440.77) scale(0.8006,1)" font-size="41.92" font-weight="bold" font-style="italic" fill="#000" stroke="#000" stroke-width="1.26" stroke-linejoin="round">Cpox</text>
<path d="M567.1 1466.8V1826.3M561.2 1826.3H756" stroke="#000" stroke-width="3.4" fill="none"/>
<path d="M561.2 1469.6H567.1M561.2 1512H567.1M561.2 1556.8H567.1M561.2 1601.7H567.1M561.2 1646.3H567.1M561.2 1691.5H567.1M561.2 1736.4H567.1M561.2 1781.8H567.1M561.2 1826.3H567.1" stroke="#000" stroke-width="3.2" fill="none"/>
<text transform="translate(522.02,1484.13) scale(0.7800,1)" font-size="37.20" font-weight="bold" font-style="normal" fill="#000" stroke="#000" stroke-width="1.12" stroke-linejoin="round">80</text>
<text transform="translate(522.02,1570.33) scale(0.7800,1)" font-size="37.20" font-weight="bold" font-style="normal" fill="#000" stroke="#000" stroke-width="1.12" stroke-linejoin="round">60</text>
<text transform="translate(522.02,1660.13) scale(0.7800,1)" font-size="37.20" font-weight="bold" font-style="normal" fill="#000" stroke="#000" stroke-width="1.12" stroke-linejoin="round">40</text>
<text transform="translate(522.02,1750.03) scale(0.7800,1)" font-size="37.20" font-weight="bold" font-style="normal" fill="#000" stroke="#000" stroke-width="1.12" stroke-linejoin="round">20</text>
<text transform="translate(538.12,1839.73) scale(0.7800,1)" font-size="37.20" font-weight="bold" font-style="normal" fill="#000" stroke="#000" stroke-width="1.12" stroke-linejoin="round">0</text>
<circle cx="601" cy="1489.3" r="8.4" fill="#00ffff" stroke="#fff" stroke-width="1.1"/>
<circle cx="601" cy="1537.3" r="8.4" fill="#00ffff" stroke="#fff" stroke-width="1.1"/>
<circle cx="596" cy="1600" r="8.4" fill="#00ffff" stroke="#fff" stroke-width="1.1"/>
<circle cx="606.7" cy="1595" r="8.4" fill="#00ffff" stroke="#fff" stroke-width="1.1"/>
<circle cx="601" cy="1641.7" r="8.4" fill="#00ffff" stroke="#fff" stroke-width="1.1"/>
<circle cx="601" cy="1660" r="8.4" fill="#00ffff" stroke="#fff" stroke-width="1.1"/>
<circle cx="635" cy="1683.3" r="8.4" fill="#1428fa" stroke="#fff" stroke-width="1.1"/>
<circle cx="637.7" cy="1691.7" r="8.4" fill="#1428fa" stroke="#fff" stroke-width="1.1"/>
<circle cx="628.3" cy="1716.7" r="8.4" fill="#1428fa" stroke="#fff" stroke-width="1.1"/>
<circle cx="643.3" cy="1716.7" r="8.4" fill="#1428fa" stroke="#fff" stroke-width="1.1"/>
<circle cx="636.7" cy="1749.3" r="8.4" fill="#1428fa" stroke="#fff" stroke-width="1.1"/>
<circle cx="631.7" cy="1758.3" r="8.4" fill="#1428fa" stroke="#fff" stroke-width="1.1"/>
<circle cx="688.3" cy="1555" r="8.4" fill="#ff3cff" stroke="#fff" stroke-width="1.1"/>
<circle cx="688.3" cy="1594" r="8.4" fill="#ff3cff" stroke="#fff" stroke-width="1.1"/>
<circle cx="691.7" cy="1645" r="8.4" fill="#ff3cff" stroke="#fff" stroke-width="1.1"/>
<circle cx="682.7" cy="1660" r="8.4" fill="#ff3cff" stroke="#fff" stroke-width="1.1"/>
<circle cx="691.7" cy="1680" r="8.4" fill="#ff3cff" stroke="#fff" stroke-width="1.1"/>
<circle cx="682.7" cy="1690" r="8.4" fill="#ff3cff" stroke="#fff" stroke-width="1.1"/>
<circle cx="720" cy="1726" r="8.4" fill="#f80000" stroke="#fff" stroke-width="1.1"/>
<circle cx="721.7" cy="1744" r="8.4" fill="#f80000" stroke="#fff" stroke-width="1.1"/>
<circle cx="716.7" cy="1761.7" r="8.4" fill="#f80000" stroke="#fff" stroke-width="1.1"/>
<circle cx="728.3" cy="1770" r="8.4" fill="#f80000" stroke="#fff" stroke-width="1.1"/>
<circle cx="715" cy="1775" r="8.4" fill="#f80000" stroke="#fff" stroke-width="1.1"/>
<circle cx="723.3" cy="1776.7" r="8.4" fill="#f80000" stroke="#fff" stroke-width="1.1"/>
<rect x="586.7" y="1585.5" width="26.6" height="5.6" fill="#000"/>
<rect x="620" y="1716.5" width="26.7" height="5.6" fill="#000"/>
<rect x="674" y="1633.2" width="26" height="5.6" fill="#000"/>
<rect x="706.7" y="1755.9" width="26.6" height="5.6" fill="#000"/>
<path d="M606 1480V1472.7H648.3V1480" stroke="#000" stroke-width="1.9" fill="none"/>
<path d="M690 1546.7V1538.3H732.3V1546.7" stroke="#000" stroke-width="1.9" fill="none"/>
<path d="M639.3 1766.7V1775H690V1766.7" stroke="#000" stroke-width="1.9" fill="none"/>
<path d="M600 1790.7V1799.3H722.7V1790.7" stroke="#000" stroke-width="1.9" fill="none"/>
<path d="M625 1465.8L625 1457.5M625 1465.8L632.89 1463.24M625 1465.8L629.88 1472.51M625 1465.8L620.12 1472.51M625 1465.8L617.11 1463.24" stroke="#000" stroke-width="3.7" fill="none"/>
<path d="M711.7 1532.5L711.7 1524.2M711.7 1532.5L719.59 1529.94M711.7 1532.5L716.58 1539.21M711.7 1532.5L706.82 1539.21M711.7 1532.5L703.81 1529.94" stroke="#000" stroke-width="3.7" fill="none"/>
<path d="M663.3 1785.8L663.3 1777.5M663.3 1785.8L671.19 1783.24M663.3 1785.8L668.18 1792.51M663.3 1785.8L658.42 1792.51M663.3 1785.8L655.41 1783.24" stroke="#000" stroke-width="3.7" fill="none"/>
<path d="M661 1810.8L661 1802.5M661 1810.8L668.89 1808.24M661 1810.8L665.88 1817.51M661 1810.8L656.12 1817.51M661 1810.8L653.11 1808.24" stroke="#000" stroke-width="3.7" fill="none"/>
<text transform="translate(845.4,1441.19) scale(0.8348,1)" font-size="40.53" font-weight="bold" font-style="italic" fill="#000" stroke="#000" stroke-width="1.22" stroke-linejoin="round">Slc4a1</text>
<path d="M806.6 1467.8V1826.1M798 1826.1H995" stroke="#000" stroke-width="3.4" fill="none"/>
<path d="M798 1469.8H806.6M798 1520.7H806.6M798 1571.8H806.6M798 1622.1H806.6M798 1673.2H806.6M798 1724.2H806.6M798 1775.2H806.6M798 1826.1H806.6" stroke="#000" stroke-width="3.2" fill="none"/>
<text transform="translate(780.12,1477.43) scale(0.7800,1)" font-size="37.20" font-weight="bold" font-style="normal" fill="#000" stroke="#000" stroke-width="1.12" stroke-linejoin="round">7</text>
<text transform="translate(779.98,1528.73) scale(0.7800,1)" font-size="37.20" font-weight="bold" font-style="normal" fill="#000" stroke="#000" stroke-width="1.12" stroke-linejoin="round">6</text>
<text transform="translate(779.69,1582.65) scale(0.7800,1)" font-size="37.20" font-weight="bold" font-style="normal" fill="#000" stroke="#000" stroke-width="1.12" stroke-linejoin="round">5</text>
<text transform="translate(779.11,1633.73) scale(0.7800,1)" font-size="37.20" font-weight="bold" font-style="normal" fill="#000" stroke="#000" stroke-width="1.12" stroke-linejoin="round">4</text>
<text transform="translate(779.98,1684.13) scale(0.7800,1)" font-size="37.20" font-weight="bold" font-style="normal" fill="#000" stroke="#000" stroke-width="1.12" stroke-linejoin="round">3</text>
<text transform="translate(780.12,1737.92) scale(0.7800,1)" font-size="37.20" font-weight="bold" font-style="normal" fill="#000" stroke="#000" stroke-width="1.12" stroke-linejoin="round">2</text>
<text transform="translate(779.69,1788.73) scale(0.7800,1)" font-size="37.20" font-weight="bold" font-style="normal" fill="#000" stroke="#000" stroke-width="1.12" stroke-linejoin="round">1</text>
<text transform="translate(780.12,1839.73) scale(0.7800,1)" font-size="37.20" font-weight="bold" font-style="normal" fill="#000" stroke="#000" stroke-width="1.12" stroke-linejoin="round">0</text>
<circle cx="832.7" cy="1531.7" r="8.4" fill="#00ffff" stroke="#fff" stroke-width="1.1"/>
<circle cx="847.3" cy="1519.3" r="8.4" fill="#00ffff" stroke="#fff" stroke-width="1.1"/>
<circle cx="832.7" cy="1610" r="8.4" fill="#00ffff" stroke="#fff" stroke-width="1.1"/>
<circle cx="847.3" cy="1609.3" r="8.4" fill="#00ffff" stroke="#fff" stroke-width="1.1"/>
<circle cx="840.7" cy="1660" r="8.4" fill="#00ffff" stroke="#fff" stroke-width="1.1"/>
<circle cx="840.7" cy="1675" r="8.4" fill="#00ffff" stroke="#fff" stroke-width="1.1"/>
<circle cx="874" cy="1695" r="8.4" fill="#1428fa" stroke="#fff" stroke-width="1.1"/>
<circle cx="877.3" cy="1717.3" r="8.4" fill="#1428fa" stroke="#fff" stroke-width="1.1"/>
<circle cx="874" cy="1726" r="8.4" fill="#1428fa" stroke="#fff" stroke-width="1.1"/>
<circle cx="869.3" cy="1730.7" r="8.4" fill="#1428fa" stroke="#fff" stroke-width="1.1"/>
<circle cx="881.7" cy="1730.7" r="8.4" fill="#1428fa" stroke="#fff" stroke-width="1.1"/>
<circle cx="874" cy="1756" r="8.4" fill="#1428fa" stroke="#fff" stroke-width="1.1"/>
<circle cx="925" cy="1558.3" r="8.4" fill="#ff3cff" stroke="#fff" stroke-width="1.1"/>
<circle cx="928.3" cy="1644" r="8.4" fill="#ff3cff" stroke="#fff" stroke-width="1.1"/>
<circle cx="921.7" cy="1663.3" r="8.4" fill="#ff3cff" stroke="#fff" stroke-width="1.1"/>
<circle cx="928.3" cy="1675" r="8.4" fill="#ff3cff" stroke="#fff" stroke-width="1.1"/>
<circle cx="921.7" cy="1686.7" r="8.4" fill="#ff3cff" stroke="#fff" stroke-width="1.1"/>
<circle cx="925" cy="1717.3" r="8.4" fill="#ff3cff" stroke="#fff" stroke-width="1.1"/>
<circle cx="955" cy="1761.7" r="8.4" fill="#f80000" stroke="#fff" stroke-width="1.1"/>
<circle cx="968.3" cy="1761.7" r="8.4" fill="#f80000" stroke="#fff" stroke-width="1.1"/>
<circle cx="961" cy="1773" r="8.4" fill="#f80000" stroke="#fff" stroke-width="1.1"/>
<circle cx="961.7" cy="1776.7" r="8.4" fill="#f80000" stroke="#fff" stroke-width="1.1"/>
<circle cx="955" cy="1786.7" r="8.4" fill="#f80000" stroke="#fff" stroke-width="1.1"/>
<circle cx="966.7" cy="1788.3" r="8.4" fill="#f80000" stroke="#fff" stroke-width="1.1"/>
<rect x="826" y="1597.2" width="26.7" height="5.6" fill="#000"/>
<rect x="859.3" y="1723.2" width="26.7" height="5.6" fill="#000"/>
<rect x="910" y="1653.9" width="26.7" height="5.6" fill="#000"/>
<rect x="946.7" y="1773.9" width="26" height="5.6" fill="#000"/>
<path d="M840 1510V1502.7H881.7V1510" stroke="#000" stroke-width="1.9" fill="none"/>
<path d="M885 1525V1517.3H969.3V1525" stroke="#000" stroke-width="1.9" fill="none"/>
<path d="M926.7 1543.3V1536H969.3V1543.3" stroke="#000" stroke-width="1.9" fill="none"/>
<path d="M876 1628.3H926" stroke="#000" stroke-width="1.9" fill="none"/>
<path d="M840 1800V1808.3H962.7V1800" stroke="#000" stroke-width="1.9" fill="none"/>
<path d="M860 1494.7L860 1486.4M860 1494.7L867.89 1492.14M860 1494.7L864.88 1501.41M860 1494.7L855.12 1501.41M860 1494.7L852.11 1492.14" stroke="#000" stroke-width="3.7" fill="none"/>
<path d="M920.4 1504.8L920.4 1513.1M920.4 1504.8L912.51 1507.36M920.4 1504.8L915.52 1498.09M920.4 1504.8L925.28 1498.09M920.4 1504.8L928.29 1507.36" stroke="#000" stroke-width="3.7" fill="none"/>
<path d="M948.2 1530.4L948.2 1522.1M948.2 1530.4L956.09 1527.84M948.2 1530.4L953.08 1537.11M948.2 1530.4L943.32 1537.11M948.2 1530.4L940.31 1527.84" stroke="#000" stroke-width="3.7" fill="none"/>
<path d="M901.7 1819.1L901.7 1810.8M901.7 1819.1L909.59 1816.54M901.7 1819.1L906.58 1825.81M901.7 1819.1L896.82 1825.81M901.7 1819.1L893.81 1816.54" stroke="#000" stroke-width="3.7" fill="none"/>
<text transform="translate(874.5,1621.36) scale(0.8713,1)" font-size="22.88" font-weight="bold" font-style="normal" fill="#000" stroke="#000" stroke-width="0.69" stroke-linejoin="round">0.0627</text>
<text transform="translate(1123.05,1440.99) scale(0.8285,1)" font-size="40.79" font-weight="bold" font-style="italic" fill="#000" stroke="#000" stroke-width="1.22" stroke-linejoin="round">Zfpm1</text>
<path d="M1067.2 1466.8V1825.5M1057.8 1825.5H1256" stroke="#000" stroke-width="3.4" fill="none"/>
<path d="M1057.8 1469.7H1067.2M1057.8 1526.7H1067.2M1057.8 1584.9H1067.2M1057.8 1646.8H1067.2M1057.8 1706.3H1067.2M1057.8 1765.6H1067.2M1057.8 1824.6H1067.2" stroke="#000" stroke-width="3.2" fill="none"/>
<text transform="translate(1025.32,1486.33) scale(0.7800,1)" font-size="37.20" font-weight="bold" font-style="normal" fill="#000" stroke="#000" stroke-width="1.12" stroke-linejoin="round">60</text>
<text transform="translate(1025.32,1546.83) scale(0.7800,1)" font-size="37.20" font-weight="bold" font-style="normal" fill="#000" stroke="#000" stroke-width="1.12" stroke-linejoin="round">50</text>
<text transform="translate(1025.32,1603.03) scale(0.7800,1)" font-size="37.20" font-weight="bold" font-style="normal" fill="#000" stroke="#000" stroke-width="1.12" stroke-linejoin="round">40</text>
<text transform="translate(1025.32,1663.23) scale(0.7800,1)" font-size="37.20" font-weight="bold" font-style="normal" fill="#000" stroke="#000" stroke-width="1.12" stroke-linejoin="round">30</text>
<text transform="translate(1025.32,1723.43) scale(0.7800,1)" font-size="37.20" font-weight="bold" font-style="normal" fill="#000" stroke="#000" stroke-width="1.12" stroke-linejoin="round">20</text>
<text transform="translate(1025.32,1779.93) scale(0.7800,1)" font-size="37.20" font-weight="bold" font-style="normal" fill="#000" stroke="#000" stroke-width="1.12" stroke-linejoin="round">10</text>
<text transform="translate(1041.42,1839.73) scale(0.7800,1)" font-size="37.20" font-weight="bold" font-style="normal" fill="#000" stroke="#000" stroke-width="1.12" stroke-linejoin="round">0</text>
<circle cx="1101.7" cy="1504.3" r="8.4" fill="#00ffff" stroke="#fff" stroke-width="1.1"/>
<circle cx="1101.7" cy="1531.7" r="8.4" fill="#00ffff" stroke="#fff" stroke-width="1.1"/>
<circle cx="1096" cy="1611.7" r="8.4" fill="#00ffff" stroke="#fff" stroke-width="1.1"/>
<circle cx="1107.3" cy="1603.3" r="8.4" fill="#00ffff" stroke="#fff" stroke-width="1.1"/>
<circle cx="1096" cy="1680.7" r="8.4" fill="#00ffff" stroke="#fff" stroke-width="1.1"/>
<circle cx="1108.3" cy="1671.7" r="8.4" fill="#00ffff" stroke="#fff" stroke-width="1.1"/>
<circle cx="1135" cy="1671.7" r="8.4" fill="#1428fa" stroke="#fff" stroke-width="1.1"/>
<circle cx="1135" cy="1710" r="8.4" fill="#1428fa" stroke="#fff" stroke-width="1.1"/>
<circle cx="1135" cy="1726.7" r="8.4" fill="#1428fa" stroke="#fff" stroke-width="1.1"/>
<circle cx="1137.7" cy="1740" r="8.4" fill="#1428fa" stroke="#fff" stroke-width="1.1"/>
<circle cx="1131.7" cy="1752.7" r="8.4" fill="#1428fa" stroke="#fff" stroke-width="1.1"/>
<circle cx="1135" cy="1768.3" r="8.4" fill="#1428fa" stroke="#fff" stroke-width="1.1"/>
<circle cx="1191.7" cy="1671.7" r="8.4" fill="#ff3cff" stroke="#fff" stroke-width="1.1"/>
<circle cx="1182.7" cy="1680.7" r="8.4" fill="#ff3cff" stroke="#fff" stroke-width="1.1"/>
<circle cx="1186.7" cy="1723.3" r="8.4" fill="#ff3cff" stroke="#fff" stroke-width="1.1"/>
<circle cx="1191.7" cy="1732.7" r="8.4" fill="#ff3cff" stroke="#fff" stroke-width="1.1"/>
<circle cx="1182.7" cy="1740" r="8.4" fill="#ff3cff" stroke="#fff" stroke-width="1.1"/>
<circle cx="1185" cy="1753.3" r="8.4" fill="#ff3cff" stroke="#fff" stroke-width="1.1"/>
<circle cx="1205.7" cy="1806.8" r="8.4" fill="#f80000" stroke="#fff" stroke-width="1.1"/>
<circle cx="1213.7" cy="1807.3" r="8.4" fill="#f80000" stroke="#fff" stroke-width="1.1"/>
<circle cx="1221.2" cy="1807.9" r="8.4" fill="#f80000" stroke="#fff" stroke-width="1.1"/>
<circle cx="1227.6" cy="1806.3" r="8.4" fill="#f80000" stroke="#fff" stroke-width="1.1"/>
<circle cx="1234" cy="1803.6" r="8.4" fill="#f80000" stroke="#fff" stroke-width="1.1"/>
<circle cx="1221.4" cy="1790.8" r="8.4" fill="#f80000" stroke="#fff" stroke-width="1.1"/>
<rect x="1086" y="1597.2" width="27.3" height="5.6" fill="#000"/>
<rect x="1120.7" y="1725.5" width="26" height="5.6" fill="#000"/>
<rect x="1170.7" y="1713.9" width="26.6" height="5.6" fill="#000"/>
<rect x="1207.3" y="1798.1" width="25.6" height="5.6" fill="#000"/>
<path d="M1100.7 1487.3H1142.7" stroke="#000" stroke-width="1.9" fill="none"/>
<path d="M1147.7 1627.3V1619.3H1232.7V1627.3" stroke="#000" stroke-width="1.9" fill="none"/>
<path d="M1190 1654V1646H1232.7V1654" stroke="#000" stroke-width="1.9" fill="none"/>
<path d="M1097.5 1790.3H1190.3" stroke="#000" stroke-width="1.9" fill="none"/>
<path d="M1100.1 1832.9V1840.4H1222.8V1832.9" stroke="#000" stroke-width="1.9" fill="none"/>
<path d="M1183.6 1604.1L1183.6 1612.4M1183.6 1604.1L1175.71 1606.66M1183.6 1604.1L1178.72 1597.39M1183.6 1604.1L1188.48 1597.39M1183.6 1604.1L1191.49 1606.66" stroke="#000" stroke-width="3.7" fill="none"/>
<path d="M1210.7 1639.1L1210.7 1630.8M1210.7 1639.1L1218.59 1636.54M1210.7 1639.1L1215.58 1645.81M1210.7 1639.1L1205.82 1645.81M1210.7 1639.1L1202.81 1636.54" stroke="#000" stroke-width="3.7" fill="none"/>
<path d="M1160.4 1854.3L1160.4 1846M1160.4 1854.3L1168.29 1851.74M1160.4 1854.3L1165.28 1861.01M1160.4 1854.3L1155.52 1861.01M1160.4 1854.3L1152.51 1851.74" stroke="#000" stroke-width="3.7" fill="none"/>
<text transform="translate(1090.21,1479.69) scale(0.9588,1)" font-size="20.55" font-weight="bold" font-style="normal" fill="#000" stroke="#000" stroke-width="0.62" stroke-linejoin="round">0.0627</text>
<text transform="translate(1111.93,1809.64) scale(0.7829,1)" font-size="24.11" font-weight="bold" font-style="normal" fill="#000" stroke="#000" stroke-width="0.72" stroke-linejoin="round">0.0931</text>
<text transform="translate(1325.9,1440.97) scale(0.8065,1)" font-size="42.19" font-weight="bold" font-style="italic" fill="#000" stroke="#000" stroke-width="1.27" stroke-linejoin="round">Smarca4</text>
<path d="M1306.1 1467.8V1826.5M1298 1826.5H1495" stroke="#000" stroke-width="3.4" fill="none"/>
<path d="M1298 1469.8H1306.1M1298 1526.5H1306.1M1298 1586.4H1306.1M1298 1646.3H1306.1M1298 1706.6H1306.1M1298 1766.3H1306.1M1298 1826.5H1306.1" stroke="#000" stroke-width="3.2" fill="none"/>
<text transform="translate(1262.42,1477.63) scale(0.7800,1)" font-size="37.20" font-weight="bold" font-style="normal" fill="#000" stroke="#000" stroke-width="1.12" stroke-linejoin="round">30</text>
<text transform="translate(1261.98,1540.43) scale(0.7800,1)" font-size="37.20" font-weight="bold" font-style="normal" fill="#000" stroke="#000" stroke-width="1.12" stroke-linejoin="round">25</text>
<text transform="translate(1262.42,1600.63) scale(0.7800,1)" font-size="37.20" font-weight="bold" font-style="normal" fill="#000" stroke="#000" stroke-width="1.12" stroke-linejoin="round">20</text>
<text transform="translate(1261.98,1660.15) scale(0.7800,1)" font-size="37.20" font-weight="bold" font-style="normal" fill="#000" stroke="#000" stroke-width="1.12" stroke-linejoin="round">15</text>
<text transform="translate(1262.42,1723.33) scale(0.7800,1)" font-size="37.20" font-weight="bold" font-style="normal" fill="#000" stroke="#000" stroke-width="1.12" stroke-linejoin="round">10</text>
<text transform="translate(1278.09,1782.85) scale(0.7800,1)" font-size="37.20" font-weight="bold" font-style="normal" fill="#000" stroke="#000" stroke-width="1.12" stroke-linejoin="round">5</text>
<text transform="translate(1278.52,1843.03) scale(0.7800,1)" font-size="37.20" font-weight="bold" font-style="normal" fill="#000" stroke="#000" stroke-width="1.12" stroke-linejoin="round">0</text>
<circle cx="1340.7" cy="1525" r="8.4" fill="#00ffff" stroke="#fff" stroke-width="1.1"/>
<circle cx="1332.7" cy="1551.7" r="8.4" fill="#00ffff" stroke="#fff" stroke-width="1.1"/>
<circle cx="1348.3" cy="1551.7" r="8.4" fill="#00ffff" stroke="#fff" stroke-width="1.1"/>
<circle cx="1340.7" cy="1586" r="8.4" fill="#00ffff" stroke="#fff" stroke-width="1.1"/>
<circle cx="1340.7" cy="1600" r="8.4" fill="#00ffff" stroke="#fff" stroke-width="1.1"/>
<circle cx="1340.7" cy="1675" r="8.4" fill="#00ffff" stroke="#fff" stroke-width="1.1"/>
<circle cx="1374" cy="1611.7" r="8.4" fill="#1428fa" stroke="#fff" stroke-width="1.1"/>
<circle cx="1374" cy="1660" r="8.4" fill="#1428fa" stroke="#fff" stroke-width="1.1"/>
<circle cx="1374" cy="1713.3" r="8.4" fill="#1428fa" stroke="#fff" stroke-width="1.1"/>
<circle cx="1374" cy="1728.3" r="8.4" fill="#1428fa" stroke="#fff" stroke-width="1.1"/>
<circle cx="1367.3" cy="1753.3" r="8.4" fill="#1428fa" stroke="#fff" stroke-width="1.1"/>
<circle cx="1380" cy="1753.3" r="8.4" fill="#1428fa" stroke="#fff" stroke-width="1.1"/>
<circle cx="1420" cy="1683.3" r="8.4" fill="#ff3cff" stroke="#fff" stroke-width="1.1"/>
<circle cx="1434" cy="1681.7" r="8.4" fill="#ff3cff" stroke="#fff" stroke-width="1.1"/>
<circle cx="1425" cy="1732.7" r="8.4" fill="#ff3cff" stroke="#fff" stroke-width="1.1"/>
<circle cx="1425" cy="1746.7" r="8.4" fill="#ff3cff" stroke="#fff" stroke-width="1.1"/>
<circle cx="1430" cy="1756" r="8.4" fill="#ff3cff" stroke="#fff" stroke-width="1.1"/>
<circle cx="1421.7" cy="1763.3" r="8.4" fill="#ff3cff" stroke="#fff" stroke-width="1.1"/>
<circle cx="1461.4" cy="1770.3" r="8.4" fill="#f80000" stroke="#fff" stroke-width="1.1"/>
<circle cx="1467.5" cy="1780.2" r="8.4" fill="#f80000" stroke="#fff" stroke-width="1.1"/>
<circle cx="1466" cy="1790" r="8.4" fill="#f80000" stroke="#fff" stroke-width="1.1"/>
<circle cx="1451.6" cy="1788.6" r="8.4" fill="#f80000" stroke="#fff" stroke-width="1.1"/>
<circle cx="1461.4" cy="1801.5" r="8.4" fill="#f80000" stroke="#fff" stroke-width="1.1"/>
<rect x="1326.7" y="1578.9" width="26" height="5.6" fill="#000"/>
<rect x="1360" y="1698.9" width="26.7" height="5.6" fill="#000"/>
<rect x="1410.5" y="1723.2" width="26.6" height="5.6" fill="#000"/>
<rect x="1446.2" y="1783.2" width="26.6" height="5.6" fill="#000"/>
<path d="M1343.3 1511.7H1385" stroke="#000" stroke-width="1.9" fill="none"/>
<path d="M1372.7 1595V1586.7H1456.7V1595" stroke="#000" stroke-width="1.9" fill="none"/>
<path d="M1426.7 1671.7V1664H1469.3V1671.7" stroke="#000" stroke-width="1.9" fill="none"/>
<path d="M1340 1770V1778.3H1423.3V1770" stroke="#000" stroke-width="1.9" fill="none"/>
<path d="M1340 1805V1813.3H1462.7V1805" stroke="#000" stroke-width="1.9" fill="none"/>
<path d="M1412 1571.2L1412 1579.5M1412 1571.2L1404.11 1573.76M1412 1571.2L1407.12 1564.49M1412 1571.2L1416.88 1564.49M1412 1571.2L1419.89 1573.76" stroke="#000" stroke-width="3.7" fill="none"/>
<path d="M1447.2 1656.4L1447.2 1648.1M1447.2 1656.4L1455.09 1653.84M1447.2 1656.4L1452.08 1663.11M1447.2 1656.4L1442.32 1663.11M1447.2 1656.4L1439.31 1653.84" stroke="#000" stroke-width="3.7" fill="none"/>
<path d="M1383.9 1791.7L1383.9 1783.4M1383.9 1791.7L1391.79 1789.14M1383.9 1791.7L1388.78 1798.41M1383.9 1791.7L1379.02 1798.41M1383.9 1791.7L1376.01 1789.14" stroke="#000" stroke-width="3.7" fill="none"/>
<path d="M1401.4 1824.3L1401.4 1816M1401.4 1824.3L1409.29 1821.74M1401.4 1824.3L1406.28 1831.01M1401.4 1824.3L1396.52 1831.01M1401.4 1824.3L1393.51 1821.74" stroke="#000" stroke-width="3.7" fill="none"/>
<text transform="translate(1332.21,1503.71) scale(1.0221,1)" font-size="19.18" font-weight="bold" font-style="normal" fill="#000" stroke="#000" stroke-width="0.58" stroke-linejoin="round">0.0627</text>
<text transform="translate(302.38,1800.12) scale(0.6352,1)" font-size="45.21" font-weight="bold" font-style="normal" fill="#000" stroke="#000" stroke-width="1.36" stroke-linejoin="round">0</text>
<text transform="translate(816.33,1471.01) scale(0.7901,1)" font-size="32.47" font-weight="bold" font-style="normal" fill="#000" stroke="#000" stroke-width="0.97" stroke-linejoin="round">X 10</text>
<text transform="translate(868.96,1462.39) scale(0.8193,1)" font-size="20.82" font-weight="bold" font-style="normal" fill="#000" stroke="#000" stroke-width="0.62" stroke-linejoin="round">2</text>
<ellipse cx="291.9" cy="1890.7" rx="13.3" ry="11.9" fill="#00ffff"/>
<text transform="translate(327.97,1906.18) scale(0.8370,1)" font-size="34.79" font-weight="bold" font-style="normal" fill="#000" stroke="#000" stroke-width="1.04" stroke-linejoin="round">GC-WT</text>
<ellipse cx="548.7" cy="1890.7" rx="13.3" ry="11.9" fill="#1428fa"/>
<text transform="translate(583.25,1906.17) scale(0.8194,1)" font-size="35.28" font-weight="bold" font-style="normal" fill="#000" stroke="#000" stroke-width="1.06" stroke-linejoin="round">FL-WT</text>
<ellipse cx="804.7" cy="1890.7" rx="13.3" ry="11.9" fill="#ff3cff"/>
<text transform="translate(839.26,1906.18) scale(0.8473,1)" font-size="34.79" font-weight="bold" font-style="normal" fill="#000" stroke="#000" stroke-width="1.04" stroke-linejoin="round">GC-KO</text>
<ellipse cx="1062" cy="1890.7" rx="13.3" ry="11.9" fill="#f80000"/>
<text transform="translate(1096.51,1906.18) scale(0.8569,1)" font-size="34.79" font-weight="bold" font-style="normal" fill="#000" stroke="#000" stroke-width="1.04" stroke-linejoin="round">FL-KO</text>
</svg></body></html>
